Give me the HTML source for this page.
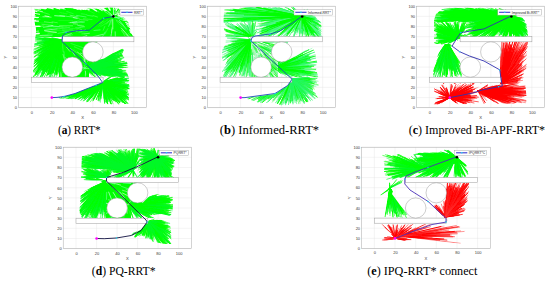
<!DOCTYPE html><html><head><meta charset="utf-8"><style>html,body{margin:0;padding:0;background:#fff;overflow:hidden;width:550px;height:281px;}svg{display:block}</style></head><body>
<svg width="550" height="281" viewBox="0 0 550 281">
<defs><filter id="bl" x="-5%" y="-5%" width="110%" height="110%"><feGaussianBlur stdDeviation="0.3"/></filter></defs>
<rect x="0" y="0" width="550" height="281" fill="#fff"/>
<g font-family="Liberation Sans"><line x1="31.3" y1="6.2" x2="31.3" y2="107.7" stroke="#e4e4e4" stroke-width="0.4"/><line x1="51.8" y1="6.2" x2="51.8" y2="107.7" stroke="#e4e4e4" stroke-width="0.4"/><line x1="72.3" y1="6.2" x2="72.3" y2="107.7" stroke="#e4e4e4" stroke-width="0.4"/><line x1="92.9" y1="6.2" x2="92.9" y2="107.7" stroke="#e4e4e4" stroke-width="0.4"/><line x1="113.4" y1="6.2" x2="113.4" y2="107.7" stroke="#e4e4e4" stroke-width="0.4"/><line x1="133.9" y1="6.2" x2="133.9" y2="107.7" stroke="#e4e4e4" stroke-width="0.4"/><line x1="18.5" y1="107.7" x2="146.7" y2="107.7" stroke="#e4e4e4" stroke-width="0.4"/><line x1="18.5" y1="97.6" x2="146.7" y2="97.6" stroke="#e4e4e4" stroke-width="0.4"/><line x1="18.5" y1="87.4" x2="146.7" y2="87.4" stroke="#e4e4e4" stroke-width="0.4"/><line x1="18.5" y1="77.2" x2="146.7" y2="77.2" stroke="#e4e4e4" stroke-width="0.4"/><line x1="18.5" y1="67.1" x2="146.7" y2="67.1" stroke="#e4e4e4" stroke-width="0.4"/><line x1="18.5" y1="57" x2="146.7" y2="57" stroke="#e4e4e4" stroke-width="0.4"/><line x1="18.5" y1="46.8" x2="146.7" y2="46.8" stroke="#e4e4e4" stroke-width="0.4"/><line x1="18.5" y1="36.7" x2="146.7" y2="36.7" stroke="#e4e4e4" stroke-width="0.4"/><line x1="18.5" y1="26.5" x2="146.7" y2="26.5" stroke="#e4e4e4" stroke-width="0.4"/><line x1="18.5" y1="16.4" x2="146.7" y2="16.4" stroke="#e4e4e4" stroke-width="0.4"/><line x1="18.5" y1="6.2" x2="146.7" y2="6.2" stroke="#e4e4e4" stroke-width="0.4"/><clipPath id="ca00"><polygon points="34,8.5 50,7.8 80,8.2 100,8.5 108,7.2 114,7.5 119,8.5 120.5,10 120.5,15.5 123,16.5 126,19 128.6,22.5 130,28 132,34 133.5,37 133.5,37 35.3,37 36,30 34,20 35,12"/></clipPath><g clip-path="url(#ca00)"><g filter="url(#bl)"><polygon points="34,8.5 50,7.8 80,8.2 100,8.5 108,7.2 114,7.5 119,8.5 120.5,10 120.5,15.5 123,16.5 126,19 128.6,22.5 130,28 132,34 133.5,37 133.5,37 35.3,37 36,30 34,20 35,12" fill="#00ff00"/><path d="M97.5 17L93.1 15.6M126.7 34.3L130.2 38.7M111.9 27.6L111.5 32.7M116.2 20.1L123.6 25.4M57.3 22.7L52.1 21.9M115.4 14.7L123.7 10.5M52.3 25.4L42 24.3" stroke="#ffffff" stroke-width="0.3" stroke-opacity="0.9" stroke-linecap="round" fill="none"/><path d="M79.4 18.6L73.7 18M87.9 20.5L79.7 19.4M80.9 27.6L76.8 28.9M92 19.5L83.4 18.8M110.3 19.8L106.4 24.1M103.3 21.2L99.6 23.6M122.2 30.4L128.6 37.9" stroke="#ffffff" stroke-width="0.3" stroke-opacity="0.7" stroke-linecap="round" fill="none"/><path d="M52 28.9L46.9 28M111.8 18.8L110.9 24.7M89.7 33.2L84.3 34.1M79.1 9.3L71.8 8.2" stroke="#c8ffe0" stroke-width="0.3" stroke-opacity="0.7" stroke-linecap="round" fill="none"/><path d="M113.6 16.5L113.4 7.4M64.5 16.3L54.7 15.7M77.1 18.2L73.1 17.4" stroke="#c8ffe0" stroke-width="0.8" stroke-opacity="0.9" stroke-linecap="round" fill="none"/><path d="M69.6 27.4L58.1 28.8M114.8 14.8L118 11.6M104.9 26.2L103.3 30.2M48.1 35.1L35.2 35.9M72.5 34.8L66.7 35.5M128.4 33.5L133.3 39.2" stroke="#c8ffe0" stroke-width="0.3" stroke-opacity="0.9" stroke-linecap="round" fill="none"/><path d="M72.7 25.8L59.5 25.7M52.5 22.8L44.3 21.8M43.9 26L39.8 26.3M77.6 24.1L73.4 23.9M52.3 35L40.1 35.5" stroke="#ffffff" stroke-width="0.8" stroke-opacity="0.4" stroke-linecap="round" fill="none"/><path d="M107.7 28.7L104.8 34.5" stroke="#80ffb0" stroke-width="0.8" stroke-opacity="0.4" stroke-linecap="round" fill="none"/><path d="M121.3 30.2L128.7 41.7M49.3 14.4L40.4 11.5M56.2 32.4L48 33.1M63 27.1L51.4 25.7" stroke="#ffffff" stroke-width="0.6" stroke-opacity="0.4" stroke-linecap="round" fill="none"/><path d="M107.1 10.9L103.5 8M104.5 10.2L100.4 7.5M121.3 28L129.6 37.4M112.7 19.6L112.8 28.9M56.3 32.3L44.9 30.9M86.8 35.7L82.9 36.9M42.4 11.6L37.8 10.8" stroke="#ffffff" stroke-width="0.8" stroke-opacity="0.7" stroke-linecap="round" fill="none"/><path d="M84.4 22L72.3 22.4M115 17.6L123.7 17.5M110.6 15.1L122.1 19.9M119.2 20.2L126.3 29" stroke="#80ffb0" stroke-width="0.8" stroke-opacity="0.9" stroke-linecap="round" fill="none"/><path d="M51.1 17.2L42.9 16.6" stroke="#ffffff" stroke-width="0.6" stroke-opacity="0.7" stroke-linecap="round" fill="none"/><path d="M50.1 37.2L36.4 36.7M82.9 22.1L78 20.7M113.5 13.6L121.2 3.8M83.5 25.5L78.7 25.1" stroke="#c8ffe0" stroke-width="0.6" stroke-opacity="0.4" stroke-linecap="round" fill="none"/><path d="M64 30.3L51.8 30.7M40.4 19.3L32.1 19.9M116.9 16.7L121 16.2M107.6 19.8L98.7 26.2M72.5 20.4L59.1 20.5" stroke="#c8ffe0" stroke-width="0.3" stroke-opacity="0.4" stroke-linecap="round" fill="none"/><path d="M114.5 17.5L107.8 11.4M115.2 14.7L119.8 13.1M49 16.6L45 15.9" stroke="#ffffff" stroke-width="0.8" stroke-opacity="0.9" stroke-linecap="round" fill="none"/><path d="M86 17L76.5 15.4M65.5 9.3L61.1 8.6M105.2 32L99.9 41M100.1 29.9L94 30.5" stroke="#80ffb0" stroke-width="0.8" stroke-opacity="0.7" stroke-linecap="round" fill="none"/><path d="M66.5 26.8L53.5 27.1M44.4 17.6L32.4 15.4" stroke="#80ffb0" stroke-width="0.3" stroke-opacity="0.7" stroke-linecap="round" fill="none"/><path d="M84.7 30.5L79.2 30.8" stroke="#ffffff" stroke-width="0.6" stroke-opacity="0.9" stroke-linecap="round" fill="none"/><path d="M76 23.7L68.3 22.4M94 13.2L87.6 10.4M76.5 28.3L69.1 29.1M116.6 21.7L122 26.8M67.1 13.9L60 12.5" stroke="#ffffff" stroke-width="0.3" stroke-opacity="0.4" stroke-linecap="round" fill="none"/><path d="M73.2 13.7L66.6 11.4M119.6 22.2L126 29.6M75.9 31L62.5 30.7M86.5 14.6L81.2 13.7M87.3 31.5L78.9 32.4M51.8 35.4L44.7 36M83.1 27.5L75.6 27.5" stroke="#80ffb0" stroke-width="0.3" stroke-opacity="0.9" stroke-linecap="round" fill="none"/><path d="M103 34.3L93 36.8M71.3 33.6L59.8 37.6M57.2 28.9L44.4 30.3M115.2 31.8L115.4 41.1M76.9 21.7L70 22.6M81.4 29.9L76.2 31.2M112 29.1L111.1 36.3" stroke="#c8ffe0" stroke-width="0.8" stroke-opacity="0.7" stroke-linecap="round" fill="none"/><path d="M72.6 29.1L62.3 29.2M73.9 30.8L63.6 32.1M70.8 35.5L63.5 37.3M110.4 34.6L110.1 38.7M112.4 19.2L100.7 26.5" stroke="#80ffb0" stroke-width="0.6" stroke-opacity="0.4" stroke-linecap="round" fill="none"/><path d="M52.9 25.6L43.5 27.3" stroke="#c8ffe0" stroke-width="0.6" stroke-opacity="0.9" stroke-linecap="round" fill="none"/><path d="M84.6 26.8L77.6 25.3M113.3 17.2L119 4.6M78.2 17L70.1 15.2M109.9 15L104.4 11.3M72.2 17L59.8 15.5" stroke="#c8ffe0" stroke-width="0.6" stroke-opacity="0.7" stroke-linecap="round" fill="none"/><path d="M59.3 26.7L48.2 26.1M111 20.6L108.7 26.3" stroke="#80ffb0" stroke-width="0.6" stroke-opacity="0.9" stroke-linecap="round" fill="none"/><path d="M68.6 31.4L58 33.4M98.9 12L93.9 10M92.8 16.2L87 15.2" stroke="#80ffb0" stroke-width="0.6" stroke-opacity="0.7" stroke-linecap="round" fill="none"/><path d="M44.6 22.9L37.7 22.6" stroke="#80ffb0" stroke-width="0.3" stroke-opacity="0.4" stroke-linecap="round" fill="none"/><path d="M85.7 29.8L81 31.3M89.2 33.4L81.8 33.9" stroke="#c8ffe0" stroke-width="0.8" stroke-opacity="0.4" stroke-linecap="round" fill="none"/><path d="M39.8 7.8L45.4 9.2M73.1 7.7L77.4 9.1M58.4 7.6L60.9 8.1M48.6 7.7L52.5 8M97.2 7.9L102.8 10.4M79.4 7.8L85 9.6M97.3 7.8L99.9 9.2M99.5 7.6L104.3 10.4M101.5 7.1L105.6 10.5M109.1 5.8L110.3 10.4M116.9 6.6L115 9.9M120.7 8.1L116.7 12.9M121.7 9.4L116.8 13.5M123.1 16.1L117.6 15.6M127.2 19L121.4 18M34.4 31.5L38.5 31.1M34.2 33.3L39 33.2M32.8 9.4L38.8 10.3" stroke="#fff" stroke-width="0.6" stroke-opacity="0.9" stroke-linecap="round" fill="none"/><path d="M34.2 8.2L39.1 9M35.6 8L40.5 9.3M42.3 7.8L46.1 8.5M74.1 7.7L78.5 9.2M73.1 7.7L77.6 9.1M54.5 7.6L59.9 8.7M55.1 7.5L58.5 8.4M55.4 7.3L59.7 9.1M78.3 7.7L83.7 9.6M97 7.8L101.9 10.4M80.3 7.9L86.3 9.3M102 6.9L103.8 8.8M113.8 6L113.5 9M116.2 6.4L114.9 9.2M121.9 13.1L118 14.7M122 15.1L118.5 15.7M128.9 21.2L123 20.1M130.8 26.4L126.5 24.3M131.1 28.7L127.4 25.8M33.9 27L38.8 26.3M32.8 17.3L37.7 17.7M32.8 17.3L38.6 17.5M33.4 13.1L39.6 14.3M33 16.3L35.5 16" stroke="#fff" stroke-width="0.9" stroke-opacity="0.9" stroke-linecap="round" fill="none"/><path d="M41.1 7.9L44 8.3M47.8 7.6L50.6 8M42.6 7.9L46.3 8.3M37.9 8.3L41.7 8.2M75.8 7.6L81 9.7M57.4 7.9L63.2 8M59.4 7.6L64.1 8.7M74 7.8L79.3 8.9M48.7 7.3L53.2 8.8M91.1 7.6L96.5 11M84.3 7.7L89.2 9.8M81.2 7.7L85.9 9.4M79.3 7.8L83.7 9.2M100.5 7.5L106 10.6M107.5 5.9L109.9 10M117.6 6.7L116.3 10.4M122.4 15.5L119 15.9M124.7 16.8L120.6 16.3M128 20.2L123.8 19M130.4 24.8L125.8 22.5M132 31.7L129.9 29.8M133 34.2L130.4 32.3M132.4 32.5L129.9 30.7M34.1 34L39.2 33.5M32.6 20.3L35.6 20.3M33.7 26.1L40 26.3M32.7 21.2L38.5 21.1M33.2 10.6L36.8 11.4" stroke="#fff" stroke-width="1.3" stroke-opacity="0.9" stroke-linecap="round" fill="none"/></g></g><clipPath id="ca01"><polygon points="62,77 33,77 33,70 34,60 33.5,50 35,40 35.3,37 62,37"/></clipPath><g clip-path="url(#ca01)"><g filter="url(#bl)"><path d="M62 40L58.6 54.6M62 40L51.6 62.5M62 40L40.8 52.7M62 40L59.8 63.9M62 40L37.8 64.9M62 40L56.8 48.7M62 40L54.8 49.2M62 40L57.5 44.8M62 40L55.1 63.2M62 40L52.1 73.2M62 40L55.5 40.9M62 40L52 68.5M62 40L37 43.8M62 40L56.8 48.2M62 40L53.2 61.1M62 40L44.9 43.6M62 40L46.7 76M62 40L61.7 50.5M62 40L60.6 66.6M62 40L44.6 57.9M62 40L51.4 56.1M62 40L42.4 55.4M62 40L57.1 58.3M62 40L53.9 70.6M62 40L39 49.4M62 40L61.9 50.2M62 40L39.1 62.1M62 40L48.5 62.9M62 40L61.6 68.3M62 40L41 43.1M62 40L47.9 64.7M62 40L40.4 76.6M62 40L43.7 73.9M62 40L36.8 59.5M62 40L54.8 73.5M62 40L42.9 46.4M62 40L45.6 45.8M62 40L55.8 62.8M62 40L35 37.9M62 40L56.8 40.2M62 40L56.2 62.1M62 40L53.5 53.7M62 40L54.4 65.4M62 40L40.1 69M62 40L57.5 39.2M62 40L43.9 71.1M62 40L56.7 54.4M62 40L59.6 49.8M62 40L55.2 42.8M62 40L48.1 71.5M62 40L61.4 57.1M62 40L58.9 57.1M62 40L52.1 53.2M62 40L55.2 72.5M62 40L44.4 64.3M62 40L58.4 62M62 40L52.7 54.1M62 40L49.3 73.9M62 40L50.2 47.9M62 40L57.7 54.5M62 40L59.4 75.1M62 40L49 55.2M62 40L38.3 64.8M62 40L57.3 60.4" stroke="#00ff00" stroke-width="1.1" stroke-opacity="0.9" stroke-linecap="round" fill="none"/><path d="M62 40L52.9 60.5M62 40L48.2 47M62 40L53.6 41M62 40L47.8 40.1M62 40L39.1 45.4M62 40L52.7 40.3M62 40L59.3 52.2M62 40L43.3 78.9M62 40L34.3 46.3M62 40L61.8 73M62 40L56 58.4M62 40L41.7 68.4M62 40L30.7 64.1M62 40L34.7 61.7M62 40L45.7 39.2M62 40L43.1 52.6M62 40L40.4 49M62 40L51.9 73.1M62 40L40.4 60.8M62 40L54.8 67.7M62 40L55 38.9M62 40L39.1 52.9M62 40L37.2 60.2M62 40L53.7 43.7M62 40L46.8 72.2M62 40L57.9 44.7M62 40L57.8 47.4M62 40L51.8 52.2M62 40L56.8 68.4M62 40L45 47.5M62 40L38.6 62.7M62 40L50.6 46.6M62 40L47.9 64.7M62 40L50.1 63M62 40L45.8 46.3M62 40L50.9 46.1M62 40L54.9 53.8M62 40L59.6 41.6M62 40L58.5 71.7M62 40L61.9 61.7M62 40L54.3 52.9M62 40L37.4 42.7M62 40L59.8 70.5M62 40L41.3 69.7M62 40L36.8 59.7M62 40L51.8 60.7M62 40L35 41M62 40L57.7 39.9M62 40L57.2 69M62 40L60 71M62 40L56.5 73.2M62 40L56.5 50.4M62 40L50 74M62 40L44.4 40.3M62 40L43.6 52.6M62 40L52.9 60.5M62 40L35.3 53.7" stroke="#00ff00" stroke-width="0.8" stroke-opacity="0.9" stroke-linecap="round" fill="none"/><path d="M62 40L54.9 57.5M62 40L49.9 53M62 40L37.9 44.1M62 40L58.5 58.3M62 40L54.5 65.2M62 40L55.1 44.8M62 40L61.2 47.6M62 40L39.5 66.3M62 40L48.5 56.4M62 40L40.8 54.5M62 40L45.6 66.2M62 40L43.4 53.5M62 40L34.2 69.3M62 40L46.2 60.4M62 40L56.1 62.4M62 40L39.6 62M62 40L60.9 48.8M62 40L43.5 42.3M62 40L34.8 59.6M62 40L51.5 43.2M62 40L37 72.2M62 40L36.6 61.9M62 40L56.6 38.9M62 40L58.4 56.6M62 40L46.3 60.6M62 40L59.9 42.7M62 40L47.9 68.2M62 40L48.1 40.5M62 40L51.8 70.8M62 40L54.7 60.3M62 40L50 41.5M62 40L51.2 52.3M62 40L52 37.7M62 40L58.9 66.2M62 40L48.9 78M62 40L61.4 49M62 40L37.1 39M62 40L47.8 54.1M62 40L33.7 37.3M62 40L55.9 68.9M62 40L54.8 50.7M62 40L41.4 73.1M62 40L42.9 71M62 40L52.3 68M62 40L37.4 63.1M62 40L37.1 42M62 40L41.1 38.6M62 40L49.9 77.4M62 40L58.3 55.5M62 40L34.2 43.9M62 40L47.6 50.4M62 40L42.2 40.4M62 40L47.3 43.2M62 40L48.6 38.9M62 40L42 66.6M62 40L60 62.5M62 40L42.8 62M62 40L41.8 58.7M62 40L49.5 80.6M62 40L32.9 45.2M62 40L43.9 58.2M62 40L54.7 43.7M62 40L56.7 66.6M62 40L59.5 71.8M62 40L51.6 64.2M62 40L47.7 66.9M62 40L44.4 54.5M62 40L40.2 67.5M62 40L52.9 40.4" stroke="#00f828" stroke-width="1.1" stroke-opacity="0.8" stroke-linecap="round" fill="none"/><path d="M62 40L39.6 73M62 40L31.1 55.4M62 40L57.8 70.3M62 40L50.2 73.6M62 40L57.7 54.3M62 40L46.1 52.3M62 40L53.4 41.9M62 40L60.5 61.9M62 40L41.8 56.8M62 40L54 65.6M62 40L53.5 78.5M62 40L38.5 58.9M62 40L49.2 73.7M62 40L42 38.5M62 40L56.3 77M62 40L57.2 48.9M62 40L43.6 74.2M62 40L51.5 58.5M62 40L53.8 50.7M62 40L46.8 58.9M62 40L58.8 47.9M62 40L38.8 63.4M62 40L44.4 55.4M62 40L58.7 72.7M62 40L50 45.7M62 40L49.8 49.1M62 40L61.6 72.3M62 40L51.7 63M62 40L37.3 72.3M62 40L36.7 51M62 40L41.8 76.9M62 40L48.6 62.1M62 40L59.1 69.8M62 40L58.7 62.2M62 40L47.8 68.4M62 40L57.9 50.6M62 40L57.7 69.4M62 40L52.7 72.6M62 40L46.2 45.4M62 40L37 74.5M62 40L43.8 41.4M62 40L37.8 76.3M62 40L37.4 69.8M62 40L39.6 53.2M62 40L61.6 40.3M62 40L46.9 52.7M62 40L45.9 65M62 40L46.7 48.5M62 40L38.3 70.1M62 40L39.8 68.6M62 40L48.2 72.9M62 40L52 51.5M62 40L36.1 64.7M62 40L47.4 66.1M62 40L42.7 69.6" stroke="#00f828" stroke-width="0.6" stroke-opacity="0.8" stroke-linecap="round" fill="none"/><path d="M62 40L60.2 63.8M62 40L41.9 50.7M62 40L29.9 80.9M62 40L42.8 45.5M62 40L61.6 44.3M62 40L45.8 43.4M62 40L47.8 74.6M62 40L43.2 71.2M62 40L50.8 73.6M62 40L61.7 66.8M62 40L47 75.1M62 40L44.6 60.1M62 40L50.2 53.4M62 40L43.2 65.2M62 40L46.8 69.9M62 40L39.6 45.6M62 40L54.5 55.2M62 40L33.5 64.3M62 40L37.9 47.4M62 40L50.4 59M62 40L43.8 48.7M62 40L54.5 42.6M62 40L58.6 65.6M62 40L56.1 56.3M62 40L49.2 53.9M62 40L40.9 48.3M62 40L49.2 70.7M62 40L59.8 63.9M62 40L40.1 55.9M62 40L45.3 65.5M62 40L33.3 57.6M62 40L49.5 69.4M62 40L57.4 65.2M62 40L60.6 59.4M62 40L54.5 68.7M62 40L60.6 43.2M62 40L48.8 57.4M62 40L50.3 52.7M62 40L60.8 49.6M62 40L52.1 40.5M62 40L37.5 51.1M62 40L58 40.2M62 40L53.8 58.9M62 40L38.3 63M62 40L45.7 71.1M62 40L37.6 74.5M62 40L52.5 54.5M62 40L48.7 65.3M62 40L49.2 40.5M62 40L60.1 67.7M62 40L42.4 57.6M62 40L57.7 39.9M62 40L50.4 70.4M62 40L50.6 50.2M62 40L35.8 64.4M62 40L55.1 40.4M62 40L57.7 41.1M62 40L44.1 54.3M62 40L52 71.4" stroke="#00ff00" stroke-width="0.8" stroke-opacity="1" stroke-linecap="round" fill="none"/><path d="M62 40L46.2 71.7M62 40L35.5 74.9M62 40L56.8 69.4M62 40L56.7 52.8M62 40L58.5 39.9M62 40L61.5 60.6M62 40L39 55.8M62 40L47.9 40.9M62 40L48 68.5M62 40L55.7 72.1M62 40L42.6 75.9M62 40L43.9 43.6M62 40L57.1 57.9M62 40L53.9 50.6M62 40L57.4 46.9M62 40L44.7 59.5M62 40L41.9 69.8M62 40L50 73.5M62 40L57.8 56.5M62 40L60.8 65.4M62 40L56.5 74.2M62 40L59.4 77.2M62 40L48.6 52.2M62 40L39.1 67.1M62 40L50 42.3M62 40L61.8 60.7M62 40L43.9 42.5M62 40L34 63.6M62 40L61.1 76.9M62 40L56.7 41.9M62 40L56 42.4M62 40L57.3 53.8M62 40L46.1 41.2M62 40L48.8 74.2M62 40L55.5 44.9M62 40L49.3 67.7M62 40L37.7 61M62 40L52.7 64.6M62 40L35.1 60.8M62 40L42.9 69.9M62 40L53.2 72.7M62 40L52.5 39.1M62 40L35.4 73.4M62 40L34 66.3M62 40L50.7 54M62 40L46.9 57.7M62 40L43.4 54.8M62 40L38.5 67.4M62 40L61.4 53.4M62 40L57.5 68.6M62 40L52.6 69.5M62 40L53.3 50.6M62 40L55.8 50.9M62 40L48.2 62.4M62 40L38 68.6M62 40L42.5 54.9M62 40L33 52.5M62 40L30.4 74.2M62 40L48.1 74.7M62 40L55.9 46.9M62 40L54.3 42.1M62 40L56.4 45.7M62 40L45.8 51.3M62 40L42.6 61.1M62 40L40.8 56.1M62 40L42.8 69.2" stroke="#00ff00" stroke-width="1.1" stroke-opacity="1" stroke-linecap="round" fill="none"/><path d="M62 40L58.2 46.8M62 40L49.6 72.4M62 40L41.6 77.1M62 40L44.8 39.7M62 40L60.5 67.4M62 40L52.2 68.8M62 40L56 56.8M62 40L44.7 39.2M62 40L61.9 68.9M62 40L54.8 39.9M62 40L55.9 49.2M62 40L53.9 78.2M62 40L51.7 59.5M62 40L37.1 66.1M62 40L36.3 77.1M62 40L41.2 66.9M62 40L44.9 61.7M62 40L61.9 69.8M62 40L36.9 39.8M62 40L41.9 38.6M62 40L48.8 63.2M62 40L51.5 66.3M62 40L49.4 58.9M62 40L55.2 74.4M62 40L50.3 72.4M62 40L37.9 53.4M62 40L55.4 48.9M62 40L47.8 39.3M62 40L59.6 64.3M62 40L53.1 43.3M62 40L39.7 64.7M62 40L35.1 72.5M62 40L49.7 44.7M62 40L60.5 45.4M62 40L56.8 61.3M62 40L31.3 50.9M62 40L46 48.6M62 40L40.4 56.4M62 40L31.3 54.4M62 40L56.9 57.9M62 40L51.8 47.5M62 40L57.8 55.9M62 40L52.1 54.5M62 40L58.8 52.6M62 40L56.5 43.3M62 40L38.4 80.7M62 40L45.9 50.3M62 40L58 73.7M62 40L55.6 63.6M62 40L50.2 60.1M62 40L55.8 56.1M62 40L42.9 39.4M62 40L38.4 56.1M62 40L42.5 49.8M62 40L60.2 57.2M62 40L53 47.4M62 40L36.9 71.9" stroke="#00f828" stroke-width="0.8" stroke-opacity="0.8" stroke-linecap="round" fill="none"/><path d="M62 40L61.1 63.8M62 40L53.8 49.6M62 40L34.3 71.6M62 40L55.4 51.6M62 40L46.3 66M62 40L49 57.9M62 40L41.8 73.8M62 40L51.8 55.9M62 40L51.7 58M62 40L43.8 38.6M62 40L61.1 58.6M62 40L50.7 61.3M62 40L37.1 66.7M62 40L54.5 42.7M62 40L60.6 50.2M62 40L42.9 70.7M62 40L57.3 70.8M62 40L42.3 74.3M62 40L55.5 48.1M62 40L50.8 51.8M62 40L59.9 50.3M62 40L52.8 73.4M62 40L30.7 80.9M62 40L37.6 58.7M62 40L56.5 74.7M62 40L48.7 67.9M62 40L53.6 70.5M62 40L45.2 41.3M62 40L43.8 62.7M62 40L56.9 58.2M62 40L55.5 75M62 40L57.9 68M62 40L41 69.6M62 40L50.7 39.8M62 40L56.3 61.7M62 40L43.6 60.3M62 40L38.6 50.7M62 40L52.6 46.6M62 40L47.4 68.1M62 40L60.5 71.3M62 40L56 40M62 40L55.4 45.5M62 40L60.7 77.5M62 40L55.7 71.3M62 40L46.2 49.5M62 40L40.4 65.4M62 40L51.6 55.5M62 40L46.1 54M62 40L46.1 57.7M62 40L48.7 50.2M62 40L61.7 57.1M62 40L36.1 71.8M62 40L40.7 63.7M62 40L50.2 39.9M62 40L48.8 70.5M62 40L51.8 43.6M62 40L54.2 68.7M62 40L39.8 38.7M62 40L56.8 40.4M62 40L51.8 49.9M62 40L44.4 60M62 40L35.9 50.5M62 40L49.4 54.3M62 40L39.7 56.8M62 40L33.6 53.4M62 40L49.5 39.7M62 40L55 58M62 40L52.1 77.1M62 40L59.6 70.5M62 40L33.4 57.2M62 40L54.5 41.9M62 40L41.6 66.5M62 40L36.8 63.8" stroke="#00ff00" stroke-width="0.6" stroke-opacity="1" stroke-linecap="round" fill="none"/><path d="M62 40L53.9 61M62 40L38.6 60.3M62 40L32.8 39.3M62 40L43 68.2M62 40L46.8 51.8M62 40L44.6 60.2M62 40L55.1 55.2M62 40L38.5 65.8M62 40L59.3 47.2M62 40L61.8 44.4M62 40L51.7 62.2M62 40L43.1 45.4M62 40L48.5 55.6M62 40L47.1 43M62 40L35.8 48.6M62 40L37.5 50.6M62 40L41.8 55.9M62 40L41.2 51.4M62 40L47.2 54.9M62 40L32.6 49.3M62 40L59.5 53.3M62 40L45.9 42.6M62 40L51.4 57.4M62 40L57.4 40.5M62 40L58.3 45M62 40L56.9 51.3M62 40L42.9 37.1M62 40L60.9 62.7M62 40L49.3 47.1M62 40L58.6 67.2M62 40L41.4 44.8M62 40L54.9 59.6M62 40L46.8 72.8M62 40L48.9 56.3M62 40L35.7 75.3M62 40L34 72.5M62 40L57.9 45.1M62 40L47.9 48.4M62 40L61.1 64.4M62 40L35 55.6M62 40L44.3 37.7M62 40L55.1 54.8M62 40L53.7 69.4M62 40L61.9 46.5M62 40L37 65.6M62 40L51.4 69.5M62 40L56.4 70.6M62 40L47 67.1M62 40L49 67.4M62 40L60.5 40.7M62 40L54.4 48.5M62 40L37.4 56.1M62 40L46.4 60.9M62 40L52.3 54.5M62 40L52.9 70.5M62 40L36.6 72.3M62 40L42.4 70.7M62 40L57.3 75.3M62 40L42.7 57.9M62 40L48.9 51.6M62 40L48.8 66.6M62 40L39.7 41.9M62 40L44.5 47.3M62 40L36.6 67.9" stroke="#00ff00" stroke-width="0.6" stroke-opacity="0.9" stroke-linecap="round" fill="none"/></g></g><clipPath id="ca02"><polygon points="89,77 62,77 62,37 89,37"/></clipPath><g clip-path="url(#ca02)"><g filter="url(#bl)"><polygon points="89,77 62,77 62,37 89,37" fill="#00ff00"/><path d="M75.7 64.2L63.7 58.1M80.9 71.3L73.1 75.2" stroke="#c8ffe0" stroke-width="0.3" stroke-opacity="0.4" stroke-linecap="round" fill="none"/><path d="M70.7 43.4L82.7 47.6" stroke="#80ffb0" stroke-width="0.8" stroke-opacity="0.4" stroke-linecap="round" fill="none"/><path d="M62.5 43.8L63.2 52M65.3 41.2L74.3 41.1M84.3 65.3L85.8 74.3M71.7 49.3L76.8 52.5" stroke="#c8ffe0" stroke-width="0.6" stroke-opacity="0.4" stroke-linecap="round" fill="none"/><path d="M86.6 55.4L88.7 44.4M80 63.8L74.6 60.5" stroke="#ffffff" stroke-width="0.3" stroke-opacity="0.4" stroke-linecap="round" fill="none"/><path d="M84.7 62.4L87.1 48.7M87.4 61.6L89.4 57.8" stroke="#80ffb0" stroke-width="0.8" stroke-opacity="0.7" stroke-linecap="round" fill="none"/><path d="M80.4 68.9L69.4 66.6" stroke="#80ffb0" stroke-width="0.3" stroke-opacity="0.9" stroke-linecap="round" fill="none"/><path d="M73.5 49L77 51.1" stroke="#80ffb0" stroke-width="0.3" stroke-opacity="0.4" stroke-linecap="round" fill="none"/><path d="M85.5 71.5L85.4 76.2M73.4 62.7L65.1 57.7M76.6 69.4L69.4 71.8" stroke="#c8ffe0" stroke-width="0.6" stroke-opacity="0.9" stroke-linecap="round" fill="none"/><path d="M64 51.7L64.3 57.5M86.5 68.5L77.4 67.9M81.6 67.4L90.5 68.9" stroke="#80ffb0" stroke-width="0.6" stroke-opacity="0.7" stroke-linecap="round" fill="none"/><path d="M86.4 56.6L86.5 46.5M74.3 46.8L84.7 51.4M81.8 65.4L70.3 59.8M87.4 65.7L79.3 73.4" stroke="#ffffff" stroke-width="0.3" stroke-opacity="0.7" stroke-linecap="round" fill="none"/><path d="M66.6 47.3L69.8 51.3M85 62.7L83.1 50" stroke="#ffffff" stroke-width="0.6" stroke-opacity="0.7" stroke-linecap="round" fill="none"/><path d="M71.4 74.7L66.3 77.9M83.3 62.4L83.1 55.4M85.3 68.4L84.7 57M76.4 67.1L64.1 63" stroke="#80ffb0" stroke-width="0.3" stroke-opacity="0.7" stroke-linecap="round" fill="none"/><path d="M87.3 59.3L89.8 48.6" stroke="#ffffff" stroke-width="0.6" stroke-opacity="0.4" stroke-linecap="round" fill="none"/><path d="M88.4 54.1L89.1 47.1" stroke="#80ffb0" stroke-width="0.6" stroke-opacity="0.9" stroke-linecap="round" fill="none"/><path d="M80.7 67L91.3 69.3M65.9 71.5L61.1 73.1" stroke="#c8ffe0" stroke-width="0.3" stroke-opacity="0.7" stroke-linecap="round" fill="none"/><path d="M80.3 53.1L87.5 56.1M70.5 48.6L74.8 55.4" stroke="#c8ffe0" stroke-width="0.8" stroke-opacity="0.7" stroke-linecap="round" fill="none"/><path d="M67.6 67L62.5 67.1" stroke="#80ffb0" stroke-width="0.8" stroke-opacity="0.9" stroke-linecap="round" fill="none"/><path d="M88.5 48.6L89.1 42.7M70.7 67.2L59.7 66.9" stroke="#c8ffe0" stroke-width="0.3" stroke-opacity="0.9" stroke-linecap="round" fill="none"/><path d="M86.7 54.2L89.1 45" stroke="#ffffff" stroke-width="0.6" stroke-opacity="0.9" stroke-linecap="round" fill="none"/><path d="M77.5 52.2L86.2 59.4" stroke="#ffffff" stroke-width="0.8" stroke-opacity="0.7" stroke-linecap="round" fill="none"/><path d="M84.2 63.2L83.9 53.2M63 54.4L65 61.2" stroke="#ffffff" stroke-width="0.8" stroke-opacity="0.4" stroke-linecap="round" fill="none"/><path d="M77.5 66.8L67 65.4" stroke="#c8ffe0" stroke-width="0.6" stroke-opacity="0.7" stroke-linecap="round" fill="none"/></g></g><clipPath id="ca03"><polygon points="133.5,37 133.5,37 100,38 92,50 98,60 104,58.5 113,53 122,48.5 124,50 122,54 127,62 128.5,67 126,70 128.6,77 103,77 103,77 89,77 89,37"/></clipPath><g clip-path="url(#ca03)"><g filter="url(#bl)"><path d="M85 68L90 58.2M85 68L115 65.4M85 68L113.7 72M85 68L99.6 61.3M85 68L91.4 73M85 68L107.4 75.7M85 68L92.2 48.4M85 68L94 67.3M85 68L116.8 64.8M85 68L93 73.8M85 68L113.9 54.5M85 68L115.3 63.7M85 68L103.8 62.8M85 68L117.3 61.4M85 68L90.5 43.2M85 68L95.4 60.8M85 68L110.1 63M85 68L125.1 47.6M85 68L120.7 74.9M85 68L111.1 69.7M85 68L103.9 71.5M85 68L92.5 37.5M85 68L101.1 62.6M85 68L103.4 71.5M85 68L112.7 74.6M85 68L118.9 71.5M85 68L88.6 66.5M85 68L93.5 42.1M85 68L117.2 69.2M85 68L111.5 56.1M85 68L96.9 65.3M85 68L118.4 71.2M85 68L109.2 76.3M85 68L117.3 73.1M85 68L103.1 62.4M85 68L121.8 64.2M85 68L117.2 69.5M85 68L94.7 61.1M85 68L123.4 48.9M85 68L90.5 66M85 68L117.8 61.2M85 68L90.2 53.7M85 68L126.1 67.4M85 68L92.8 44.2M85 68L94.5 42.6M85 68L118.1 65.9M85 68L96.9 64.5M85 68L122.2 74.6M85 68L114.8 39.4M85 68L105.9 62.2M85 68L95.6 70.7M85 68L92.2 43.3M85 68L100.9 76M85 68L108.7 69.1M85 68L122.2 72.1M85 68L107.6 74.2M85 68L104 65.8M85 68L120.7 55.3M85 68L109.6 65.2M85 68L91.9 49.7M85 68L119.5 57.4M85 68L112.4 61.3M85 68L106.2 66M85 68L112.2 62.2M85 68L108.9 41M85 68L97.5 40.8M85 68L115.5 68.3M85 68L111.5 72.1M85 68L109.9 74.9" stroke="#00ff00" stroke-width="0.8" stroke-opacity="0.9" stroke-linecap="round" fill="none"/><path d="M85 68L91.4 55.4M85 68L133 77.3M85 68L123.8 51M85 68L96.4 42.3M85 68L102.3 67M85 68L120.6 75.6M85 68L112.8 57.8M85 68L113 53.3M85 68L89.7 54M85 68L118.1 61.7M85 68L109.7 75.4M85 68L97.9 67.5M85 68L120.4 62M85 68L112.4 63.7M85 68L94.2 55.2M85 68L117.3 73.9M85 68L118.5 68.8M85 68L105.7 69.9M85 68L117.6 68.2M85 68L101.9 68.7M85 68L116.6 58.8M85 68L94.4 44.7M85 68L124.1 76.3M85 68L105.3 75.2M85 68L100.5 75.5M85 68L111.4 69.2M85 68L111.3 58.8M85 68L106.6 73.5M85 68L109.9 56.1M85 68L99 60.3M85 68L111.6 54.4M85 68L92.2 69.5M85 68L125.5 55.4M85 68L105.4 70.3M85 68L115.1 77.6M85 68L110.5 72.7M85 68L103.5 60.2M85 68L120.9 65.9M85 68L127.7 78M85 68L91.7 48.4M85 68L116.1 70.9M85 68L113.8 74.9M85 68L101.5 59.2M85 68L111.1 64.8M85 68L112.7 61.8M85 68L92 46.9M85 68L98.5 64M85 68L93.2 44.9M85 68L104.1 70.2M85 68L119.3 69.9M85 68L126.5 65.4" stroke="#00ff00" stroke-width="0.8" stroke-opacity="1" stroke-linecap="round" fill="none"/><path d="M85 68L115.3 68.4M85 68L88.8 41.1M85 68L111 63.7M85 68L121 59.7M85 68L100.4 71.2M85 68L90.3 37.4M85 68L108.2 64.6M85 68L129.7 74.6M85 68L94 71.9M85 68L125.8 65.4M85 68L115.6 72M85 68L115.2 76.1M85 68L104.3 69.5M85 68L114 56.2M85 68L114.6 55.5M85 68L94.6 72.3M85 68L104.9 66.3M85 68L106.1 64.4M85 68L113.4 60.9M85 68L98.5 65.1M85 68L104.7 69.5M85 68L121.3 69.6M85 68L110.7 71.7M85 68L126.1 72.2M85 68L125.3 51.4M85 68L94.7 72.6M85 68L102.3 67.9M85 68L128.5 63M85 68L92.9 68.9M85 68L121.6 74.7M85 68L126.5 32.8M85 68L127.2 47.9M85 68L119.7 64.9M85 68L108.5 58.1M85 68L107.8 39M85 68L107.4 59.2M85 68L113.7 63.6M85 68L98.6 71.8M85 68L101 62.2M85 68L114.2 61.5M85 68L99.3 66.5M85 68L121.3 72.6M85 68L105.8 66.5M85 68L98.4 61.6M85 68L123 54.8" stroke="#00ff00" stroke-width="1.1" stroke-opacity="1" stroke-linecap="round" fill="none"/><path d="M85 68L97.5 72.5M85 68L101.2 68.6M85 68L104.2 60.9M85 68L123.9 57.6M85 68L94.6 76.1M85 68L94.9 70.9M85 68L113.2 66.3M85 68L117.9 60.3M85 68L116.1 65.5M85 68L129.6 62.9M85 68L95.3 53.8M85 68L91.8 75.4M85 68L128.2 75.1M85 68L113.6 72.5M85 68L92.2 73.5M85 68L121.6 63.7M85 68L101.6 71.6M85 68L107.2 72.8M85 68L105 75.2M85 68L94.5 72.7M85 68L123.2 65.7M85 68L111.8 73.7M85 68L121.5 74.7M85 68L113.5 35.1M85 68L120.7 60.6M85 68L114.4 70.4M85 68L115.4 60.7M85 68L92.5 64M85 68L105 61.1M85 68L107 69.7M85 68L107 65.3M85 68L101 71M85 68L111.1 66.8M85 68L101.2 74.7M85 68L89.8 47.4M85 68L127.9 70.5M85 68L92.5 73.5M85 68L127.4 65.2M85 68L111.6 64.9M85 68L119.2 73.9M85 68L101.8 61.6M85 68L92.6 64.1M85 68L111.2 74.3M85 68L127.1 62.1M85 68L111.8 63.5M85 68L96.8 40.6M85 68L103.2 37M85 68L105.7 58.7M85 68L99.5 70M85 68L113 76.5M85 68L118 61.4M85 68L97.8 70M85 68L100.1 74M85 68L95.5 56.6M85 68L123.3 65.1" stroke="#00ff00" stroke-width="0.6" stroke-opacity="1" stroke-linecap="round" fill="none"/><path d="M85 68L111.5 58.2M85 68L99.8 69.7M85 68L108.7 62.3M85 68L96.1 73.4M85 68L113.7 55.9M85 68L93.4 40.9M85 68L103.9 59.9M85 68L100.5 67.4M85 68L91.4 53.3M85 68L93.8 61.9M85 68L127.2 74.5M85 68L96.4 41.2M85 68L111.1 63.7M85 68L107.2 73.9M85 68L91.4 66M85 68L124.9 74.6M85 68L90.1 39.6M85 68L101.9 34M85 68L122.9 67.1M85 68L101.8 64.9M85 68L92.2 68.5M85 68L118.6 70.8M85 68L118.4 67M85 68L112.4 72.2M85 68L129.5 74.4M85 68L95.3 76.9M85 68L118.1 69.6M85 68L105 66.5M85 68L98.3 71M85 68L99.2 71.6M85 68L116.4 66M85 68L124.4 61.3M85 68L114.1 75.3M85 68L102.4 67.5M85 68L91.1 59.2M85 68L105.3 70.5M85 68L113.2 62.3M85 68L120.9 50.7M85 68L114.7 59.6M85 68L112.2 71.3M85 68L114.3 62.8M85 68L102.3 65.6M85 68L108.4 72.5M85 68L96.4 62.6M85 68L118.7 65" stroke="#00ff00" stroke-width="1.1" stroke-opacity="0.9" stroke-linecap="round" fill="none"/><path d="M85 68L117.8 66.3M85 68L107.8 56.3M85 68L126.1 64M85 68L117 58.8M85 68L121.4 66.7M85 68L91.7 64.5M85 68L122.5 55.1M85 68L108.2 73.2M85 68L98.3 62.2M85 68L95.1 43.2M85 68L97.5 73M85 68L90.4 64.5M85 68L91.5 63.5M85 68L108.9 58.6M85 68L95.2 46.1M85 68L91.1 49.7M85 68L109.8 64.7M85 68L89.9 62.9M85 68L111.6 61.1M85 68L107.1 72.5M85 68L97 40.5M85 68L95.8 64.1M85 68L91.5 48.9M85 68L95.6 64.5M85 68L117 61.7M85 68L125.1 70.6M85 68L117.6 57.9M85 68L106.8 72.7M85 68L115.6 70.9M85 68L105.9 71.8M85 68L114 63M85 68L96.8 67.7M85 68L110.6 61.9M85 68L106.3 72.6M85 68L103.2 60.5M85 68L114.9 52.8M85 68L107.2 58.1M85 68L95.8 67.9M85 68L118.7 67.7M85 68L111.7 64.1M85 68L107.3 61.7M85 68L89.7 64.5M85 68L122.9 75.2M85 68L91.2 52.2M85 68L89.5 49.2M85 68L98.3 76.8M85 68L124.2 77.1M85 68L117.1 72.6M85 68L89.5 67.9M85 68L97.2 63M85 68L89.3 44M85 68L89.3 51.6M85 68L125 52.8M85 68L115.3 57.5M85 68L115.4 56.8M85 68L100.6 69.2M85 68L130.5 67.2M85 68L123.9 55.2" stroke="#00ff00" stroke-width="0.6" stroke-opacity="0.9" stroke-linecap="round" fill="none"/><path d="M85 68L103.1 63.8M85 68L104.6 62.5M85 68L94.3 72M85 68L114.4 69.3M85 68L121.3 75.3M85 68L121.8 71.6M85 68L111.8 60.9M85 68L93.1 75.1M85 68L109.6 61.8M85 68L101 67.4M85 68L89.7 34.7M85 68L117.8 59.5M85 68L97.4 74.4M85 68L113.8 75M85 68L105.3 57.6M85 68L102.1 75.2M85 68L106.7 70.2M85 68L124.5 76.5M85 68L108 72.4M85 68L88.9 51.3M85 68L122.3 50.9M85 68L90.8 45.8M85 68L95.8 65.6M85 68L128.3 75.5M85 68L91.2 40.6M85 68L98.8 66.7M85 68L98.7 65.6M85 68L125.1 52.7M85 68L101.2 73.2M85 68L122 59.2M85 68L107.1 73.8M85 68L105.2 59.5M85 68L101 76.2M85 68L124 49.8M85 68L89.3 45.9M85 68L90.1 62.3M85 68L100.3 75.1M85 68L118.8 57.3M85 68L109 72M85 68L124.2 64.8M85 68L106.6 68M85 68L92.3 65.8M85 68L113.7 70.9M85 68L120.5 69.1M85 68L121.1 78M85 68L121.3 51M85 68L113 58.4M85 68L93.4 37.4M85 68L96.1 64M85 68L116.6 71.7M85 68L120.4 76.1M85 68L88.8 67.7" stroke="#00f828" stroke-width="0.6" stroke-opacity="0.8" stroke-linecap="round" fill="none"/><path d="M85 68L91.5 50.4M85 68L95.3 70.8M85 68L93.7 44.6M85 68L116.5 62.8M85 68L110.5 74.7M85 68L113.4 70.9M85 68L116.8 74.6M85 68L90.6 44M85 68L92.7 42.1M85 68L117.4 60M85 68L90.8 41.9M85 68L112.2 65.5M85 68L108.5 65M85 68L98.7 60.5M85 68L93.5 67.4M85 68L115.6 71.9M85 68L96.8 68.6M85 68L93.3 57.3M85 68L118.6 54.8M85 68L108.2 56.2M85 68L124.6 72.2M85 68L92.9 63.4M85 68L119.8 62.8M85 68L120.4 63.8M85 68L120.2 74.5M85 68L97 66.6M85 68L89.2 58.7M85 68L104 72.2M85 68L93 44.4M85 68L107.4 69.8M85 68L102.7 72M85 68L112.2 74.7M85 68L101 61.9M85 68L124 49.8M85 68L92.7 41.5M85 68L106.9 66.6M85 68L114.6 71.2M85 68L89.3 69.1M85 68L129.3 75.5M85 68L127.4 56.8M85 68L112.9 67.9M85 68L110.4 62.7M85 68L114.9 62.5M85 68L118.8 53.1M85 68L124 74M85 68L89.3 56.1" stroke="#00f828" stroke-width="0.8" stroke-opacity="0.8" stroke-linecap="round" fill="none"/><path d="M85 68L123.1 67.6M85 68L111.8 73.6M85 68L96.2 40.6M85 68L94.7 45M85 68L121.5 68M85 68L90.6 41.8M85 68L104.6 59M85 68L101.8 61.9M85 68L116.1 57.6M85 68L123.5 53.7M85 68L116.9 68.5M85 68L109.1 72.8M85 68L117.3 55.4M85 68L113.2 69.7M85 68L127 63M85 68L96.1 41.5M85 68L106.8 62.4M85 68L115.9 65.5M85 68L117.4 71.2M85 68L125.4 75.1M85 68L104 63M85 68L122.1 72.3M85 68L116.2 61.5M85 68L117.9 70M85 68L108.3 63.5M85 68L99.1 61.1M85 68L112.2 58M85 68L89.1 73M85 68L111.1 70M85 68L104 60.4M85 68L95.6 73.2M85 68L97.2 39.4M85 68L101.7 73.7M85 68L112.7 63.8M85 68L94.8 38.8M85 68L93 46.7M85 68L122.3 65M85 68L119.4 75.9M85 68L120.2 76.8M85 68L114.1 73.1M85 68L91.5 51.6M85 68L117.3 71.1M85 68L105.2 76M85 68L121.7 65.1M85 68L121.9 71.8M85 68L115.5 57.6M85 68L103.9 59.5M85 68L95.3 68.4M85 68L112.8 59M85 68L126.8 77.9M85 68L116.9 56.6M85 68L112.1 57.4M85 68L104.4 66.4M85 68L94.3 57.8M85 68L122.3 76.1M85 68L92 51.9M85 68L122.6 70.5M85 68L91 52.4M85 68L114.4 77.5M85 68L131.2 75.6M85 68L112.5 55.3" stroke="#00f828" stroke-width="1.1" stroke-opacity="0.8" stroke-linecap="round" fill="none"/></g></g><clipPath id="ca04"><polygon points="128.6,77 129,78 129.5,88 129,96 128.6,103.8 118,104.5 105,104 100,103 97,101 88,102.5 80,100.5 70,99 60,98.5 57,97.5 64,96.5 75,93.5 88.6,88.1 96,85.3 103,82.3 103,77 33,77 33,77"/></clipPath><g clip-path="url(#ca04)"><g filter="url(#bl)"><path d="M103 82L88.5 101.3M103 82L123.1 79.1M103 82L85.5 102.9M103 82L71.1 95.6M103 82L80.1 98.3M103 82L93.1 88.8M103 82L60.7 99.6M103 82L101.2 98.4M103 82L114.1 88.6M103 82L85.5 103.8M103 82L112.3 80.2M103 82L84.7 97M103 82L119.3 89.5M103 82L120.3 90.5M103 82L122.7 97.2M103 82L128.9 104.1M103 82L117.9 89.6M103 82L118.6 86.5M103 82L104.8 86.2M103 82L118.4 103.4M103 82L67.6 98.7M103 82L94.7 91.4M103 82L89.3 95.3M103 82L104 86.8M103 82L118.8 78.4M103 82L95.1 91.6M103 82L84.8 100.2M103 82L105.8 94.9M103 82L125.5 80.9M103 82L112.2 82.1M103 82L125.4 89.6M103 82L98.2 90.1M103 82L104.7 104.5M103 82L83.9 93.3M103 82L103.5 92M103 82L118.4 85.8M103 82L108.6 91.6M103 82L93.7 94.3M103 82L91.3 87.5M103 82L120.3 85.8M103 82L86.5 92.7M103 82L105.3 99.4M103 82L106.6 94M103 82L129.1 85.1M103 82L117.3 79M103 82L104.5 97.8M103 82L79.6 98.1M103 82L109.7 83.9M103 82L87.3 88.7M103 82L110.5 103.6M103 82L85.9 89.3M103 82L79.4 93.8M103 82L121 89.8M85 68L55.4 100.2M103 82L83.9 91.4M103 82L104.7 90.8M103 82L118.7 97.4M103 82L122.2 102.5" stroke="#00ff00" stroke-width="0.6" stroke-opacity="1" stroke-linecap="round" fill="none"/><path d="M103 82L104.9 88.1M103 82L65.2 99.3M103 82L125 93.7M103 82L101.4 95.6M103 82L111.2 90.6M103 82L125.2 95.8M103 82L104.2 98.2M103 82L105.6 92M103 82L89.9 94.9M103 82L74.7 94.2M103 82L119.1 81M103 82L126.2 91.8M103 82L114.7 93.2M103 82L67.9 98.9M103 82L91.4 87.8M103 82L123.3 92.4M103 82L119.6 88.2M103 82L113.2 95M103 82L124.6 77.3M103 82L112.7 99.5M103 82L123.7 95.2M103 82L86.4 90.8M103 82L111.3 81M103 82L109.7 82.8M103 82L73.1 95.2M103 82L100.7 92.2M103 82L121.9 85.6M103 82L105.5 96.5M103 82L116.7 83.1M103 82L112.1 83.9M103 82L115.6 101.9M103 82L118.9 104.6M103 82L124.9 98.4M103 82L120.4 86.2M103 82L94.7 89.4M103 82L96.7 89.2M103 82L125.2 103.8M103 82L111.3 89M103 82L84.9 97.8M103 82L111.3 94.6M103 82L110.2 85.9M103 82L94.3 91.2M103 82L104.9 91.5M103 82L124 102.1M103 82L113 100.3M103 82L114.9 89.1M103 82L99.9 84.2M103 82L87.2 92.4M103 82L102.2 87.2M103 82L107.5 82M103 82L69.2 96.5M103 82L125.8 87.2M103 82L130.1 86M103 82L88.7 94.1M103 82L106.1 85M103 82L120.8 87.7M103 82L106.8 100M103 82L84.1 98.8M103 82L111.5 104.3M103 82L98.8 86.4M103 82L123.9 80.9M103 82L100.1 96.2M103 82L129 84.6M103 82L86 91.9M103 82L128 88.3M103 82L103.8 84.9M103 82L120.7 83.8M103 82L105 92.6" stroke="#00ff00" stroke-width="0.8" stroke-opacity="1" stroke-linecap="round" fill="none"/><path d="M103 82L118.3 91.4M103 82L109.1 97.7M103 82L104.3 88.2M103 82L117.7 83.8M103 82L96 94.8M103 82L88.6 97.8M103 82L121.8 81.6M103 82L122.9 102.3M103 82L110.2 86.2M103 82L115.3 94.5M103 82L123.5 79.5M103 82L119.1 89.2M103 82L117 88.7M103 82L86.9 100.5M103 82L77.7 92.8M103 82L91.8 91.2M103 82L94 98.4M103 82L127.8 86.8M103 82L111 81.9M103 82L89.2 99.3M103 82L109.9 96.4M103 82L69.8 95.3M103 82L107.7 92.3M85 68L58.5 98.9M103 82L114.1 90.4M103 82L125.9 94.7M103 82L114.4 84.5M103 82L90 92.3M103 82L121.5 77.9M103 82L120.2 99.3M103 82L95.1 90.9M103 82L105.7 85.2M103 82L111 90.9M103 82L102.3 84.4M103 82L128.1 81.7M103 82L75.6 96.6M103 82L126.9 97.3M103 82L117.8 88M103 82L76.9 97.9M103 82L98.7 86.6M103 82L127 79.2M103 82L94 93.4M103 82L113.5 90.6M103 82L121 80.7M103 82L80.4 95.1M103 82L105.6 98.4M103 82L111 83.9M103 82L105.4 94.4M103 82L128.8 78.1M103 82L92.8 88.3M103 82L101.5 87.4M103 82L65.7 101.2M103 82L124.6 86.4M103 82L109.7 92M103 82L107.3 92.7M103 82L104.6 102.6M103 82L128.1 95.1M103 82L110.2 82.5M103 82L90.9 91.1M103 82L123.3 86.9M103 82L70.8 99.3" stroke="#00f828" stroke-width="1.1" stroke-opacity="0.8" stroke-linecap="round" fill="none"/><path d="M103 82L109.1 90.7M103 82L96.1 85.8M103 82L77.4 99.9M103 82L127.3 96.2M103 82L79.4 101.7M103 82L104 98.3M103 82L114.1 81.7M103 82L129.3 99.4M103 82L105.2 88.9M103 82L111.6 81.1M103 82L107 99.6M103 82L72.7 96.4M103 82L109.3 90.7M103 82L124.1 88M103 82L128.1 85.5M103 82L127.1 104.5M103 82L78.4 97.8M103 82L114.8 84.2M103 82L118 89.4M103 82L73 94.8M103 82L118.2 84.7M103 82L121 81.3M103 82L110.3 99M103 82L75.3 99M103 82L122.8 89.7M103 82L114.4 88.2M103 82L122.9 78.3M103 82L116.6 101.8M103 82L117.6 88.5M103 82L124.7 97.3M103 82L70.2 95.7M103 82L87.3 89M103 82L104.2 82.4M103 82L109.1 97.8M103 82L84 97.4M103 82L125.4 92M103 82L107.5 104.9M103 82L110.8 100.5M103 82L120 85.3M103 82L113.8 85.8M103 82L79.8 94.4M103 82L115.3 83.8M103 82L94.7 92.3M103 82L82.8 92.5M103 82L107 84.1M103 82L84.3 93.5M103 82L122.1 99M103 82L123.9 79.4M103 82L78.7 102M103 82L75.3 94.7M103 82L113.5 88.5M103 82L79.3 96M85 68L60.3 99.5M103 82L93.3 93.4M103 82L93.9 98.9M103 82L90.8 93.3M103 82L115.6 101.2M103 82L100.3 102.3M103 82L123.4 98.2M103 82L74.3 97.2" stroke="#00f828" stroke-width="0.6" stroke-opacity="0.8" stroke-linecap="round" fill="none"/><path d="M103 82L85.7 91.6M103 82L93.4 100M103 82L105.3 99.3M103 82L126.2 99.4M103 82L87.2 102M103 82L126.5 102M103 82L87.1 92.6M103 82L93 101M103 82L125.9 93.5M103 82L82.8 92.9M85 68L60.6 98.6M103 82L112.8 90.3M103 82L99.4 84.2M103 82L107.6 98.4M103 82L123.8 88.7M103 82L107.1 101.9M103 82L71.6 94.5M103 82L67.2 96.9M103 82L79.4 98.9M103 82L117.4 102.5M103 82L91.6 90.7M103 82L120.5 101.4M103 82L127.6 96.8M103 82L75 98.5M103 82L125.7 85M103 82L122.6 78.6M103 82L132.5 96.7M103 82L113 92.8M103 82L65.2 96.7M103 82L96.2 91.1M103 82L116 99.3M103 82L122.2 80.8M103 82L73.4 94.6M103 82L89.2 94.5M103 82L81.9 95.3M103 82L118.6 90.2M103 82L97.6 87M103 82L82.8 97.2M103 82L111.1 98.5M103 82L82.2 94.7M103 82L113.4 90.6M103 82L115.9 79.1M103 82L126.6 79.6M103 82L106.5 89.3M103 82L119.8 102.8M103 82L128.1 103.6M103 82L98 99M103 82L123.8 80.2M103 82L124.6 82.2M103 82L106.9 88.2M103 82L110.8 95.2M103 82L119.9 80" stroke="#00ff00" stroke-width="0.8" stroke-opacity="0.9" stroke-linecap="round" fill="none"/><path d="M103 82L130.9 101.3M103 82L129.5 88.7M103 82L91.8 90.5M103 82L130.7 99.3M103 82L128 88.4M103 82L110.8 92.9M103 82L75.3 98.5M103 82L87.1 91.2M103 82L114.2 99M103 82L91.5 93.2M103 82L75.4 96.3M103 82L100 99.1M103 82L127.4 87.1M103 82L127 92.7M103 82L110.7 77M103 82L95.5 91.7M103 82L114.4 79.6M103 82L82.5 95.4M103 82L98.3 96.9M103 82L130.7 80.3M103 82L128.8 88.4M103 82L89.1 98.9M103 82L112.1 92.5M103 82L116.4 92.5M103 82L114.9 95.4M103 82L108 105.3M103 82L111.5 104.9M103 82L121.1 98.2M103 82L105.7 84.7M103 82L117.3 100.8M103 82L91.4 97.7M103 82L118 92.9M103 82L126.3 95.4M103 82L128.9 88.8M103 82L106.1 88.2M103 82L109.9 97.1M103 82L111.9 95.6M103 82L106.4 82.2M103 82L92.6 95.8M103 82L125.9 86.6M103 82L108.5 91.1M103 82L88.6 91.2M103 82L90.2 92.1M103 82L124.9 93.1M103 82L124 91.2M103 82L114.2 100.6M103 82L103.8 85.1M103 82L80.2 92.3M103 82L116.6 88M103 82L123.7 77.5M103 82L125.2 103.5M103 82L87.5 89.5M103 82L72.2 97.1M103 82L120.9 94M103 82L105.5 92.5M103 82L121 78.9M103 82L90.5 87.6M103 82L107.5 95.1M103 82L107.5 92.3M103 82L106.4 83.5M103 82L106.9 82.1M103 82L122.1 95.4M103 82L103 85.1M103 82L89.3 95.2M103 82L94.3 88.3" stroke="#00ff00" stroke-width="1.1" stroke-opacity="1" stroke-linecap="round" fill="none"/><path d="M103 82L122.6 79.2M103 82L69.2 97.4M103 82L112.1 99.9M103 82L107.6 78.6M103 82L118.6 78.6M103 82L100.4 88.5M103 82L101.7 83.8M103 82L107.2 81.9M103 82L121.6 84.4M103 82L115.8 98.3M103 82L126.4 100M103 82L99.4 89.1M103 82L107.3 83M103 82L109.1 95.9M103 82L86 89.5M103 82L125.1 95.4M103 82L124.5 96.5M103 82L83.9 98.5M103 82L96.7 90.5M103 82L78.3 99.5M103 82L100.7 97M103 82L122.8 78.7M103 82L84.1 95.8M103 82L119.3 94.4M103 82L68.9 95.8M103 82L126.3 83.5M103 82L106.6 83.5M103 82L86.7 96.1M103 82L110.8 80.4M103 82L99.2 93.1M103 82L113.1 87.6M103 82L73.4 98.5M103 82L127.5 91.1M103 82L94.4 86.7M103 82L112.7 86.5M103 82L96.4 89.9M103 82L113.1 104M103 82L75.2 95.7M103 82L118.6 95.3M103 82L105.6 98.1M103 82L106.5 82.7M103 82L124.9 93.6M103 82L86.3 90.6M103 82L89 104M103 82L109 101M103 82L116.8 97.4M103 82L126 79.2M103 82L89.4 96.9M103 82L108 84.2M103 82L91.1 92.3M103 82L81.9 102M103 82L108.2 95.8M103 82L125.5 90.9M103 82L96.7 92.9M103 82L71.7 95.6M103 82L115.6 81.3M103 82L112.3 97.1M103 82L64 97.2M103 82L120.4 92.6M103 82L109.8 97.2M103 82L128.1 91.8M103 82L99 95.4M103 82L120.5 96.7M103 82L117.1 90.1M103 82L115.4 97.8M103 82L130.9 94.5M103 82L110.3 87.6M103 82L117.6 98.4M103 82L111 87.1M103 82L128.3 104.1M103 82L112.8 81.8M103 82L108.6 81.3M103 82L119.7 88.5M103 82L117.3 89.4M103 82L122.5 87.2M103 82L124.9 94.8" stroke="#00ff00" stroke-width="0.6" stroke-opacity="0.9" stroke-linecap="round" fill="none"/><path d="M103 82L106.3 102.3M103 82L58.6 99.6M103 82L111.3 82M103 82L110.2 91.2M103 82L87.7 89.6M103 82L129.4 86M103 82L114.1 88.9M103 82L77.2 95.7M103 82L127.6 85.5M103 82L101.4 88.6M103 82L113.2 98M103 82L89 99.4M103 82L118.9 80.4M103 82L123.9 91.5M103 82L114.5 91.2M103 82L126.1 100.4M103 82L95.1 95.2M103 82L123 90.4M103 82L104.5 87.1M103 82L107.6 81.3M103 82L85.3 94.6M103 82L112.1 101.6M103 82L101.4 86.3M103 82L110.7 94.8M103 82L130.2 98.3M103 82L130 86.7M103 82L99.4 101M103 82L89.9 88.6M103 82L121.7 82.3M103 82L115.4 91.1M103 82L108.7 97.6M103 82L104.6 84.2M103 82L91.3 94.1M103 82L82.5 102.1M103 82L68 96.4M103 82L119 96.8M103 82L117.5 85M103 82L81.2 99.2M103 82L116 87.3M103 82L90.7 95.2M103 82L77.2 94.1M103 82L126.3 85.8M103 82L118.6 90.3M103 82L125.9 78.7M103 82L108.2 101.4M103 82L115.5 98.4M103 82L85.8 99.2M103 82L69.5 95.5M103 82L94.2 91.8M103 82L123.3 85.9M103 82L97 93M103 82L115.2 84.2M103 82L121.9 90.6M103 82L116.1 78M103 82L122.9 98.2M103 82L121.9 99.5M103 82L102 89.5M103 82L106.8 102.5M103 82L102.5 86.7M103 82L98.5 85.6M103 82L107.9 101.2M103 82L87.2 92.5M103 82L116.1 90.6M103 82L109.3 77.3M103 82L106.2 93.2" stroke="#00f828" stroke-width="0.8" stroke-opacity="0.8" stroke-linecap="round" fill="none"/><path d="M103 82L115.9 100.3M103 82L96 88M103 82L110.8 93.4M103 82L107 101.8M103 82L111.9 84.1M103 82L96.3 99.5M103 82L111.5 79.5M103 82L126.6 86M103 82L128.8 106.6M103 82L127.5 89.9M103 82L116.4 98.3M103 82L127.7 97.2M103 82L92 96.2M103 82L99.3 85.2M103 82L108.7 99.2M103 82L107.1 100M103 82L90.5 90.1M103 82L105.2 101.8M103 82L82.7 97.8M103 82L109.2 87.7M103 82L94.6 93.6M103 82L119.4 102.7M103 82L110.3 97.5M103 82L124.5 82.9M103 82L117.9 77.8M103 82L113 82.5M103 82L86.4 91.8M103 82L115.1 98M103 82L116.6 98.5M103 82L114.5 86.6M103 82L84.4 98.4M103 82L105.2 98.4M103 82L110.7 91.6M103 82L121.1 83.2M103 82L105.3 84.1M103 82L86.5 94.2M103 82L76.5 96.8M103 82L112.7 81.3M103 82L113.6 96.1M103 82L99.8 95.2M103 82L110.2 84.8M103 82L104.1 88M103 82L106.4 83.1M103 82L125.5 98.9M103 82L93 100M103 82L73.3 96.4M103 82L124.6 96M103 82L132.8 89.4M103 82L104.4 93.2M103 82L69.8 97.8M103 82L124.5 100M103 82L83.2 92M103 82L89.7 98.7M103 82L114.7 83.8M103 82L114.4 83.3M103 82L78.8 95.9M103 82L92.6 90.8M103 82L107.2 82M103 82L125.3 88.6M103 82L120.4 85.9M103 82L113.9 91.5M103 82L91.7 93.8M103 82L104.4 86M103 82L119.9 101.9M103 82L92.7 86.7M103 82L118.8 89.3M103 82L98.2 100.6" stroke="#00ff00" stroke-width="1.1" stroke-opacity="0.9" stroke-linecap="round" fill="none"/></g></g><rect x="62.1" y="36.7" width="71.8" height="5.1" fill="#fff" stroke="#9c9c9c" stroke-width="0.5"/><rect x="31.3" y="77.2" width="71.8" height="5.1" fill="#fff" stroke="#9c9c9c" stroke-width="0.5"/><ellipse cx="92.9" cy="51.9" rx="10.3" ry="10.1" fill="#fff" stroke="#9c9c9c" stroke-width="0.5"/><ellipse cx="72.3" cy="67.1" rx="10.3" ry="10.1" fill="#fff" stroke="#9c9c9c" stroke-width="0.5"/><polyline points="51.9,97.6 57,97.4 64,96.5 75,93.5 88.6,88.1 96,85.3 102.6,82.5 98,76 86,64 62,41.5 62.5,36 66,32.5 78,30.6 89.3,30.2 103.7,18.3 113,16.5" fill="none" stroke="#1f48b8" stroke-width="0.9" stroke-linejoin="round"/><circle cx="64" cy="96.5" r="0.75" fill="#10d8f0"/><circle cx="96" cy="85.3" r="0.75" fill="#10d8f0"/><circle cx="86" cy="64" r="0.75" fill="#10d8f0"/><circle cx="66" cy="32.5" r="0.75" fill="#10d8f0"/><circle cx="103.7" cy="18.3" r="0.75" fill="#10d8f0"/><circle cx="51.8" cy="97.6" r="1.3" fill="#ff00ff"/><circle cx="113.4" cy="16.4" r="1.3" fill="#000"/><rect x="18.5" y="6.2" width="128.2" height="101.5" fill="none" stroke="#a8a8a8" stroke-width="0.5"/><text x="31.8" y="113.6" font-size="4" text-anchor="middle" fill="#383838">0</text><text x="52.3" y="113.6" font-size="4" text-anchor="middle" fill="#383838">20</text><text x="72.8" y="113.6" font-size="4" text-anchor="middle" fill="#383838">40</text><text x="93.4" y="113.6" font-size="4" text-anchor="middle" fill="#383838">60</text><text x="113.9" y="113.6" font-size="4" text-anchor="middle" fill="#383838">80</text><text x="134.4" y="113.6" font-size="4" text-anchor="middle" fill="#383838">100</text><text x="17.1" y="109.4" font-size="4" text-anchor="end" fill="#383838">0</text><text x="17.1" y="99.3" font-size="4" text-anchor="end" fill="#383838">10</text><text x="17.1" y="89.1" font-size="4" text-anchor="end" fill="#383838">20</text><text x="17.1" y="79" font-size="4" text-anchor="end" fill="#383838">30</text><text x="17.1" y="68.8" font-size="4" text-anchor="end" fill="#383838">40</text><text x="17.1" y="58.7" font-size="4" text-anchor="end" fill="#383838">50</text><text x="17.1" y="48.5" font-size="4" text-anchor="end" fill="#383838">60</text><text x="17.1" y="38.4" font-size="4" text-anchor="end" fill="#383838">70</text><text x="17.1" y="28.2" font-size="4" text-anchor="end" fill="#383838">80</text><text x="17.1" y="18.1" font-size="4" text-anchor="end" fill="#383838">90</text><text x="17.1" y="7.9" font-size="4" text-anchor="end" fill="#383838">100</text><text x="82.6" y="119" font-size="4.2" text-anchor="middle" fill="#383838">X</text><text x="6.3" y="58.2" font-size="4.2" text-anchor="middle" fill="#383838" transform="rotate(-90 6.3 57)">Y</text><rect x="120" y="9.6" width="23.5" height="5.5" fill="#fff" stroke="#9a9a9a" stroke-width="0.4"/><line x1="121.3" y1="12.3" x2="132.5" y2="12.3" stroke="#3838d0" stroke-width="1.1"/><circle cx="127" cy="12.3" r="0.8" fill="#20e0f0"/><text x="134" y="13.5" font-size="3.4" fill="#222">RRT*</text><text x="57.9" y="133.8" font-family="Liberation Serif" font-size="11.6" fill="#000" textLength="42.8" lengthAdjust="spacingAndGlyphs">(<tspan font-weight="bold">a</tspan>) RRT*</text></g>
<g font-family="Liberation Sans"><line x1="220.1" y1="6.2" x2="220.1" y2="107.7" stroke="#e4e4e4" stroke-width="0.4"/><line x1="240.6" y1="6.2" x2="240.6" y2="107.7" stroke="#e4e4e4" stroke-width="0.4"/><line x1="261.1" y1="6.2" x2="261.1" y2="107.7" stroke="#e4e4e4" stroke-width="0.4"/><line x1="281.7" y1="6.2" x2="281.7" y2="107.7" stroke="#e4e4e4" stroke-width="0.4"/><line x1="302.2" y1="6.2" x2="302.2" y2="107.7" stroke="#e4e4e4" stroke-width="0.4"/><line x1="322.7" y1="6.2" x2="322.7" y2="107.7" stroke="#e4e4e4" stroke-width="0.4"/><line x1="207.3" y1="107.7" x2="335.5" y2="107.7" stroke="#e4e4e4" stroke-width="0.4"/><line x1="207.3" y1="97.6" x2="335.5" y2="97.6" stroke="#e4e4e4" stroke-width="0.4"/><line x1="207.3" y1="87.4" x2="335.5" y2="87.4" stroke="#e4e4e4" stroke-width="0.4"/><line x1="207.3" y1="77.2" x2="335.5" y2="77.2" stroke="#e4e4e4" stroke-width="0.4"/><line x1="207.3" y1="67.1" x2="335.5" y2="67.1" stroke="#e4e4e4" stroke-width="0.4"/><line x1="207.3" y1="57" x2="335.5" y2="57" stroke="#e4e4e4" stroke-width="0.4"/><line x1="207.3" y1="46.8" x2="335.5" y2="46.8" stroke="#e4e4e4" stroke-width="0.4"/><line x1="207.3" y1="36.7" x2="335.5" y2="36.7" stroke="#e4e4e4" stroke-width="0.4"/><line x1="207.3" y1="26.5" x2="335.5" y2="26.5" stroke="#e4e4e4" stroke-width="0.4"/><line x1="207.3" y1="16.4" x2="335.5" y2="16.4" stroke="#e4e4e4" stroke-width="0.4"/><line x1="207.3" y1="6.2" x2="335.5" y2="6.2" stroke="#e4e4e4" stroke-width="0.4"/><clipPath id="cb00"><polygon points="224.4,9.6 235,8 250.6,7.1 280,7 296,7 306,7.5 312,12 316.3,16.5 321.3,22.7 321.5,35 322,37 322,37 225.5,37 224,30 223.5,20 224,12"/></clipPath><g clip-path="url(#cb00)"><g filter="url(#bl)"><path d="M301.8 16.2L289.1 31.7M301.8 16.2L284.5 15.4M301.8 16.2L250.6 20.9M301.8 16.2L308.9 28.8M252 37L237.1 33.2M301.8 16.2L263.9 20M301.8 16.2L267 24.1M301.8 16.2L291.5 17.3M301.8 16.2L270.3 15.8M301.8 16.2L317.3 22.6M301.8 16.2L297.3 19.8M301.8 16.2L233.8 18.8M301.8 16.2L319.1 37.6M301.8 16.2L277.2 30M301.8 16.2L234.2 15.1M301.8 16.2L284.3 15.8M301.8 16.2L285.3 11.6M301.8 16.2L232.2 19.1M301.8 16.2L272.2 30.8M301.8 16.2L294 35M301.8 16.2L312.3 14.5M301.8 16.2L296.8 21.5M252 37L236.4 26.7M301.8 16.2L313.2 23.5M301.8 16.2L315.3 18.9M301.8 16.2L313.6 35.1M301.8 16.2L257.1 8.8M301.8 16.2L260.2 12.3M301.8 16.2L265.5 32.1M301.8 16.2L254.2 8.9M301.8 16.2L250.7 17.7M301.8 16.2L246.8 14.1M301.8 16.2L306.2 34.9M301.8 16.2L297.8 18.2M301.8 16.2L286.3 10.3M301.8 16.2L311.7 12.3M252 37L255.8 21.7M252 37L252.7 30.2M252 37L252.4 28.4M252 37L253.8 23M301.8 16.2L298 29.3M252 37L247.2 26.3M301.8 16.2L305.2 29.5M301.8 16.2L267.8 26M301.8 16.2L242 16.4M301.8 16.2L262.1 32.7M301.8 16.2L314.5 32.1M301.8 16.2L299.3 31.9M252 37L243.8 30.8M301.8 16.2L282.1 12.1M301.8 16.2L309.1 21.3M301.8 16.2L275 10.5M301.8 16.2L252.4 14.4M301.8 16.2L302.9 26.1M301.8 16.2L283.2 19.4M301.8 16.2L269.3 25.8M301.8 16.2L269.6 23.4M301.8 16.2L299.5 20.2M301.8 16.2L304.9 24.8M301.8 16.2L311 29.2M301.8 16.2L243.2 17.9M301.8 16.2L275.8 8.4M301.8 16.2L308.4 25.2M301.8 16.2L289.2 33.3M301.8 16.2L299.3 31M252 37L236.9 35.8M301.8 16.2L267.5 25.7M301.8 16.2L241.7 8.6M301.8 16.2L313.5 27.3M252 37L240.6 30.4M301.8 16.2L301.7 28.4M301.8 16.2L303.8 10.2M252 37L237.4 33M301.8 16.2L292.7 32.2M301.8 16.2L304.1 34.1M301.8 16.2L303.7 30.8M252 37L236.6 30.7M301.8 16.2L279.8 17.2M301.8 16.2L266.4 23.2M301.8 16.2L301.6 12M301.8 16.2L285.8 19.4M301.8 16.2L256.8 19.6M301.8 16.2L296.7 22.3M252 37L245.5 30.5M301.8 16.2L309.7 20.9M301.8 16.2L307.2 10M252 37L226.2 35.3M301.8 16.2L312.3 13.1M301.8 16.2L308.5 28M252 37L249.8 31.4M301.8 16.2L251.9 17.2M301.8 16.2L318.4 31.5M252 37L228 26.3M301.8 16.2L314 20.7M301.8 16.2L315.7 26.1M301.8 16.2L314.9 25.4M301.8 16.2L291.6 27.4M301.8 16.2L246.7 18M301.8 16.2L261.1 34.9M301.8 16.2L267.9 31.7M301.8 16.2L317.8 33.1M301.8 16.2L241.7 21.2M252 37L253.1 23.3M301.8 16.2L260.1 34.2M301.8 16.2L310.3 22.6M301.8 16.2L276.8 32.1M301.8 16.2L245.4 11.4M301.8 16.2L306.8 36.9M301.8 16.2L310.7 35.5M301.8 16.2L278.2 35.8M252 37L231.3 35.9M301.8 16.2L318.3 23.8M301.8 16.2L306.4 30.1M301.8 16.2L296.6 25.4M301.8 16.2L297.5 24.1M301.8 16.2L251.5 16.7M252 37L232.5 28.1M301.8 16.2L289.9 31.8M301.8 16.2L317 30M252 37L234.3 29.1M301.8 16.2L276.1 28.6M301.8 16.2L316.1 34.3M252 37L243.9 24.6M301.8 16.2L270.1 16.2M301.8 16.2L234.9 16.2M301.8 16.2L315.2 17.3M301.8 16.2L283 16.3M301.8 16.2L302.2 27.4M301.8 16.2L302.5 28.7M301.8 16.2L266.7 24.3M301.8 16.2L282.9 27.2M301.8 16.2L249.1 19.5" stroke="#00ff00" stroke-width="0.8" stroke-opacity="0.9" stroke-linecap="round" fill="none"/><path d="M301.8 16.2L257 19.2M301.8 16.2L273 12.2M301.8 16.2L275.7 26.1M252 37L236.1 28.8M301.8 16.2L315 17.3M252 37L246.3 32.4M301.8 16.2L294.7 14.2M301.8 16.2L262.8 20.2M301.8 16.2L300.8 31.7M301.8 16.2L283.9 10.5M301.8 16.2L303.2 23.7M301.8 16.2L307.9 33.8M252 37L247.9 35.2M301.8 16.2L273.4 14.5M301.8 16.2L279.2 12.9M301.8 16.2L285.4 21.8M301.8 16.2L316.3 30.9M301.8 16.2L283.8 23.8M301.8 16.2L303 25.4M301.8 16.2L236.6 11.6M301.8 16.2L313.1 30.2M301.8 16.2L316.7 23.9M301.8 16.2L314.5 22.2M301.8 16.2L314.9 29.1M301.8 16.2L261.7 31.7M301.8 16.2L320.2 26.7M301.8 16.2L216.3 22.3M301.8 16.2L230.3 12.3M252 37L247.1 24.9M301.8 16.2L270 36.1M301.8 16.2L308.5 18.8M301.8 16.2L280.3 8.5M301.8 16.2L276.9 27M301.8 16.2L293.7 17.4M252 37L230.9 23.5M301.8 16.2L280.5 26.7M301.8 16.2L304.9 18.2M301.8 16.2L304.3 27.2M301.8 16.2L236.2 14.6M301.8 16.2L298.7 26.9M301.8 16.2L276.5 25.2M301.8 16.2L230.7 12.3M301.8 16.2L316.4 25.8M301.8 16.2L241.1 13.3M301.8 16.2L294.6 28.3M252 37L247.6 25.4M301.8 16.2L317.4 32.2M252 37L249 33.4M301.8 16.2L264.1 11.1M301.8 16.2L285.3 26.5M301.8 16.2L239 10M301.8 16.2L312.5 26.8M301.8 16.2L311.6 23.8M301.8 16.2L297.1 28.8M301.8 16.2L230.7 19.6M301.8 16.2L313.8 24.5M301.8 16.2L297.1 18.4M301.8 16.2L297.4 18.3M301.8 16.2L227.6 12.8M301.8 16.2L320.5 25.8M301.8 16.2L274.2 27M301.8 16.2L304.7 31.1M301.8 16.2L255 8.6M301.8 16.2L318.1 23.1M301.8 16.2L253.7 17.6M301.8 16.2L301.7 33.1M301.8 16.2L310.1 27.1M301.8 16.2L305.7 31.5M301.8 16.2L299.5 37.6M301.8 16.2L276.7 8.9M301.8 16.2L320.7 21.9M301.8 16.2L250.8 20.8M301.8 16.2L243.6 13.9M301.8 16.2L270.2 30.8M301.8 16.2L275.7 28.4M301.8 16.2L273.8 8.5M301.8 16.2L309.3 30.1M301.8 16.2L289.6 14.8M301.8 16.2L286.7 30.2M301.8 16.2L269.5 13.8M301.8 16.2L294.5 31.9M301.8 16.2L297 32.1M252 37L247.5 32.3M252 37L248.8 21.6M301.8 16.2L274.7 11.9M301.8 16.2L267 20.7M301.8 16.2L308.6 33.1M301.8 16.2L248.6 19.5M252 37L226.8 22.3M301.8 16.2L258.7 11.6M301.8 16.2L286.6 35.4M301.8 16.2L241.5 11.4M301.8 16.2L276.8 31.2M301.8 16.2L254.5 30.5M301.8 16.2L245.3 18.4M252 37L236.8 24.6M301.8 16.2L279.2 27.3M301.8 16.2L293.3 38.4M301.8 16.2L261.7 19.2M301.8 16.2L308.1 19.9M252 37L240.6 30.8M301.8 16.2L266.6 25.9M301.8 16.2L266.9 15.2M301.8 16.2L287.9 38.2M301.8 16.2L281.6 19.5M301.8 16.2L310 16.8M301.8 16.2L255.4 19M301.8 16.2L236.6 18.6M301.8 16.2L318.5 20.6M301.8 16.2L296.1 18.8M301.8 16.2L294.9 19.2M252 37L243.1 27.1M301.8 16.2L301.4 11.4M301.8 16.2L234 12.6M301.8 16.2L287.2 22.3M301.8 16.2L316.2 23.1M301.8 16.2L247.8 12.6M301.8 16.2L315.7 28.8M301.8 16.2L254.7 12.7M252 37L252.8 23.8M301.8 16.2L241.3 21.1M301.8 16.2L293.3 17M301.8 16.2L257.5 32.8M252 37L246.8 36.9M301.8 16.2L286.6 32M301.8 16.2L258.3 18.9M301.8 16.2L257.9 21.5M301.8 16.2L311.7 34.7M301.8 16.2L292.3 6.4M301.8 16.2L260.8 25.9M301.8 16.2L277.3 30.3" stroke="#20f860" stroke-width="1" stroke-opacity="0.8" stroke-linecap="round" fill="none"/><path d="M252 37L246.9 31.1M301.8 16.2L267.6 32M301.8 16.2L319.3 34.5M301.8 16.2L318.4 35.5M301.8 16.2L278.9 26M301.8 16.2L236 19.5M301.8 16.2L215.4 19.8M301.8 16.2L244.3 21.5M301.8 16.2L277.4 15.2M301.8 16.2L249.6 21M301.8 16.2L311.9 31.4M301.8 16.2L276.9 23.5M301.8 16.2L251.2 8.5M301.8 16.2L278.1 24.6M301.8 16.2L229.6 15.9M301.8 16.2L264.2 34.4M301.8 16.2L264 16.3M301.8 16.2L286.4 22.5M301.8 16.2L303.1 24.7M301.8 16.2L251.2 8.8M301.8 16.2L299.7 27.5M301.8 16.2L282.6 11.4M301.8 16.2L288.9 20.6M301.8 16.2L258.8 37M301.8 16.2L309.5 18.5M301.8 16.2L249.3 10.5M301.8 16.2L302.1 32M301.8 16.2L269.5 23.5M301.8 16.2L321.4 26.6M301.8 16.2L259.2 33.2M301.8 16.2L302.9 24.8M301.8 16.2L263.3 14.1M252 37L246.3 34.5M301.8 16.2L321.5 27.7M301.8 16.2L290.8 19.4M301.8 16.2L220.5 14.6M301.8 16.2L246.8 13.8M301.8 16.2L313.5 36.5M301.8 16.2L259.1 18.6M301.8 16.2L272.1 28.6M301.8 16.2L272.3 14.3M301.8 16.2L315.8 32.8M301.8 16.2L257.5 17.4M252 37L251.7 36.4M301.8 16.2L302.4 14.9M301.8 16.2L297 29.9M301.8 16.2L276 31.7M301.8 16.2L284.5 16.7M301.8 16.2L315.2 24.6M301.8 16.2L275.6 7.4M252 37L235 26.5M301.8 16.2L301.3 24.2M301.8 16.2L223.2 18.3M301.8 16.2L317.1 35.6M301.8 16.2L297.1 32.7M301.8 16.2L298.9 32.2M301.8 16.2L319.1 26.7M301.8 16.2L235.1 11.4M301.8 16.2L314.3 15M301.8 16.2L316.8 37.9M252 37L235.5 36.6M301.8 16.2L272.5 7.3M301.8 16.2L296.6 30.4M301.8 16.2L258.9 36.1M252 37L230.1 26.8M301.8 16.2L299.7 33.3M301.8 16.2L313.6 25.7M301.8 16.2L301.8 36.9M252 37L255.1 23M301.8 16.2L284.2 9M252 37L257.3 32.5M301.8 16.2L322 37.1M301.8 16.2L244 20.3M252 37L252 31.8M301.8 16.2L265.5 8.5M301.8 16.2L274.1 34.2M301.8 16.2L302.4 26.7M301.8 16.2L230.1 14.3M301.8 16.2L317.3 24.2M301.8 16.2L273.8 34.1M301.8 16.2L302.1 11.2M301.8 16.2L244.5 16.3M301.8 16.2L225.7 9.2M301.8 16.2L303.5 18M301.8 16.2L271.7 19.4M301.8 16.2L280.1 15.4M301.8 16.2L313 23.6M301.8 16.2L317.1 29M301.8 16.2L281.1 12.9M301.8 16.2L292.3 6.7M301.8 16.2L290.5 31.5M301.8 16.2L265.3 22.2M301.8 16.2L291.1 9.7M301.8 16.2L313.2 33.6M301.8 16.2L316.7 31.5M301.8 16.2L273.9 33.5M301.8 16.2L305 23.3M301.8 16.2L273 21M301.8 16.2L311.4 13.7M301.8 16.2L306.4 14.3M301.8 16.2L289.9 26.1M301.8 16.2L286.2 29.1M301.8 16.2L250.2 19.9M252 37L249.2 23.1M252 37L253.3 32.7M301.8 16.2L264.1 10.6M301.8 16.2L313.7 18.9M301.8 16.2L307.8 18.5M301.8 16.2L261.1 38.5M301.8 16.2L304 27.2M301.8 16.2L286.9 36.2M301.8 16.2L296.8 23.1M301.8 16.2L256.5 26.9M301.8 16.2L318.4 21.1M301.8 16.2L307.1 29.3M301.8 16.2L272.5 28.8M252 37L226.9 26.5M301.8 16.2L300.8 27.2M301.8 16.2L224.6 14.7M301.8 16.2L266 36.1M301.8 16.2L316.4 34.5M301.8 16.2L310.8 12.2M301.8 16.2L294.6 8M301.8 16.2L323.7 35.4M301.8 16.2L310 30.2M252 37L227.6 25.2M301.8 16.2L309 33.4M301.8 16.2L281.7 35.4M301.8 16.2L253.8 19.3M301.8 16.2L258 20.3" stroke="#50f888" stroke-width="0.5" stroke-opacity="0.8" stroke-linecap="round" fill="none"/><path d="M252 37L240.8 24M301.8 16.2L263.9 20.7M301.8 16.2L261.7 23.9M301.8 16.2L307.2 30.3M301.8 16.2L230.4 21.6M252 37L240.4 23M301.8 16.2L254.8 10.7M301.8 16.2L277.4 37M301.8 16.2L293.8 17.2M301.8 16.2L285 7.3M301.8 16.2L260.4 14.9M301.8 16.2L253.6 20.3M301.8 16.2L319 24.3M301.8 16.2L298.9 19M252 37L238.9 27.1M301.8 16.2L266.2 13M301.8 16.2L264.5 25.1M301.8 16.2L302.5 35.7M301.8 16.2L255.5 20.5M301.8 16.2L296.2 22.3M301.8 16.2L312.6 12.3M301.8 16.2L275.5 16.7M301.8 16.2L320.2 32.7M301.8 16.2L315.8 24.8M301.8 16.2L266 13.8M301.8 16.2L289.2 23.6M301.8 16.2L304 28.6M252 37L224.6 36.8M301.8 16.2L234.2 19.7M301.8 16.2L316 33.7M301.8 16.2L310 24.2M301.8 16.2L308.3 18.5M252 37L255.2 25.4M252 37L235 35M301.8 16.2L282.3 31.1M301.8 16.2L213.7 15.7M301.8 16.2L297.1 27.3M301.8 16.2L309.1 35.4M301.8 16.2L308.7 36.9M301.8 16.2L305 30.2M252 37L249.9 27.2M301.8 16.2L288.8 14.3M301.8 16.2L315 24.7M301.8 16.2L265.5 15.2M252 37L242.5 36.5M301.8 16.2L278.9 26.5M301.8 16.2L239.8 8.7M301.8 16.2L318.7 27M301.8 16.2L312.4 15.3M252 37L225.2 24.1M301.8 16.2L285.4 25M301.8 16.2L267.4 30.2M301.8 16.2L233.1 18.5M301.8 16.2L300.9 30.2M301.8 16.2L228.5 20.7M301.8 16.2L267.1 8.6M301.8 16.2L276.4 27.3M301.8 16.2L302.9 25.5M301.8 16.2L302.5 22.3M301.8 16.2L254 20.3M252 37L227 34.4M301.8 16.2L307.4 11.1M301.8 16.2L268 11.2M301.8 16.2L278.2 7.8M301.8 16.2L301.3 29M301.8 16.2L305.5 26.1M301.8 16.2L311.4 29.2M301.8 16.2L274.6 32.2M301.8 16.2L304.2 18.6M301.8 16.2L235 12.1M301.8 16.2L262 23.8M301.8 16.2L299.9 33.7M301.8 16.2L312.6 36.2M301.8 16.2L309.8 32.1M252 37L242.9 36.2M301.8 16.2L301.9 11.7M301.8 16.2L223.4 13M301.8 16.2L299.3 25.1M301.8 16.2L312.4 25.9M301.8 16.2L232.7 15.1M301.8 16.2L317.2 32.8M301.8 16.2L318.4 34M301.8 16.2L323.3 26.2M252 37L244.3 22.5M252 37L237.6 29.2M301.8 16.2L303.6 22.9M301.8 16.2L255.9 7.1M301.8 16.2L290.7 26.2M301.8 16.2L297 30.9M301.8 16.2L267.6 25.8M301.8 16.2L261 30.3M301.8 16.2L259.7 24.6M252 37L251.4 25.2M301.8 16.2L314.3 30M301.8 16.2L303.1 25.4M301.8 16.2L243.2 16.7M301.8 16.2L262.1 14.2M301.8 16.2L299.7 33M301.8 16.2L306.4 29.9M301.8 16.2L296.4 22.9M301.8 16.2L224.1 15.4M301.8 16.2L270.1 20.7M301.8 16.2L302.7 27.9M301.8 16.2L315.8 29.1M301.8 16.2L319.5 21.4M301.8 16.2L266.7 20.5M301.8 16.2L315.5 38.9M301.8 16.2L260.6 16.4M301.8 16.2L302.3 29M301.8 16.2L275.3 11.8M301.8 16.2L311.5 21.4M301.8 16.2L281.4 23.3M301.8 16.2L302.7 23.1M301.8 16.2L299.9 21.3M301.8 16.2L304 25.9M301.8 16.2L296.4 30.4M301.8 16.2L235.7 13.9M301.8 16.2L316.5 37.8M301.8 16.2L307.6 22.8M301.8 16.2L283.8 11.3M252 37L229.9 32.9M301.8 16.2L295.4 28.9M301.8 16.2L318.4 28.6M252 37L225.8 31.6M301.8 16.2L270.9 20M301.8 16.2L257.9 23.9M301.8 16.2L273.6 17.7M301.8 16.2L236.5 18.8M301.8 16.2L242.9 21.3M301.8 16.2L261.8 28.8M301.8 16.2L278.7 18.2M301.8 16.2L309.4 13M301.8 16.2L269.1 14.1M301.8 16.2L279.7 20.6M301.8 16.2L250 7.6M301.8 16.2L224.1 16.9M301.8 16.2L267.5 26.1M301.8 16.2L289.6 12.5" stroke="#00ff00" stroke-width="0.5" stroke-opacity="0.9" stroke-linecap="round" fill="none"/><path d="M301.8 16.2L289.4 23.5M301.8 16.2L285.9 10.9M301.8 16.2L302.2 21.4M301.8 16.2L295.3 14.3M252 37L245.3 26.2M301.8 16.2L308.2 31.1M301.8 16.2L285.3 14.7M301.8 16.2L285 22.2M301.8 16.2L300.1 26.4M301.8 16.2L283.7 38.5M301.8 16.2L258.9 30.5M252 37L230.2 28.3M301.8 16.2L286.3 14.3M301.8 16.2L244.3 20.2M301.8 16.2L263.8 13M301.8 16.2L221.9 20.6M301.8 16.2L277.9 25.8M252 37L234.1 33.9M301.8 16.2L312.3 12.6M301.8 16.2L321 33.3M301.8 16.2L253.4 8.7M301.8 16.2L284.9 6.6M252 37L246.3 24.4M301.8 16.2L256.4 16.3M301.8 16.2L295.6 10.7M301.8 16.2L271.7 24.8M301.8 16.2L267.8 33.7M301.8 16.2L273.2 31.7M301.8 16.2L289.8 14.3M301.8 16.2L296.2 25.6M301.8 16.2L267.3 9.7M301.8 16.2L297.7 26.1M252 37L243.8 27.9M301.8 16.2L229.6 10.1M301.8 16.2L245.7 15.1M301.8 16.2L266.5 20.3M301.8 16.2L260.5 17.7M301.8 16.2L251.9 10.4M301.8 16.2L222.2 18.7M301.8 16.2L305.4 30.3M301.8 16.2L282.8 26.4M301.8 16.2L314.5 25.1M301.8 16.2L294.3 28.8M301.8 16.2L275 15.5M301.8 16.2L274.7 13M301.8 16.2L301.1 26.3M252 37L255.5 35.9M301.8 16.2L296.7 34.6M301.8 16.2L283 16M301.8 16.2L320.3 35.4M301.8 16.2L318.4 33.2M301.8 16.2L302.7 37M301.8 16.2L243 11.7M301.8 16.2L310.5 22.4M301.8 16.2L258.1 37.3M301.8 16.2L295.8 29.1M301.8 16.2L295.9 29.1M301.8 16.2L253.3 9.1M252 37L238.8 29.6M301.8 16.2L306.9 10.3M301.8 16.2L273.8 30.7M301.8 16.2L302.4 23.2M301.8 16.2L279.5 12.8M301.8 16.2L291 14.3M301.8 16.2L302.9 19.2M252 37L235.3 31.3M301.8 16.2L299.2 33.3M301.8 16.2L252.4 9M301.8 16.2L285.6 12.9M301.8 16.2L254.3 7M301.8 16.2L297.7 11.2M301.8 16.2L299.1 25.5M301.8 16.2L301.8 13.8M301.8 16.2L266.5 15.6M301.8 16.2L285.5 22.6M301.8 16.2L301.7 17.5M301.8 16.2L271.8 33.9M301.8 16.2L230.4 8.9M301.8 16.2L231.8 15.7M301.8 16.2L280.4 22.4M301.8 16.2L292.4 6.3M301.8 16.2L259.6 26.7M301.8 16.2L311.6 31.3M301.8 16.2L312.1 32.1M301.8 16.2L266.9 11.9M301.8 16.2L318.3 33.7M252 37L242 23.6M301.8 16.2L259.6 31.5M301.8 16.2L223.1 22.3M301.8 16.2L268.1 30M301.8 16.2L247.2 9.9M301.8 16.2L307.8 26.6M301.8 16.2L268.5 32.5M301.8 16.2L252.1 20.2M301.8 16.2L284 35.7M301.8 16.2L262.6 35.8M301.8 16.2L263.7 13.1M301.8 16.2L286.2 14.8M301.8 16.2L315.3 19.9M301.8 16.2L253.7 19.7M252 37L228 32.5M301.8 16.2L314.1 19.7M301.8 16.2L308.4 20.4M252 37L240.5 36.9M301.8 16.2L243.9 21.1M252 37L250.7 34.1M301.8 16.2L286.4 24.7M301.8 16.2L310.5 17.9M301.8 16.2L224.3 18.4M301.8 16.2L264.4 12.2M301.8 16.2L315.8 34.3M301.8 16.2L312 34.6M301.8 16.2L285.3 12.6M301.8 16.2L280.8 14.2M301.8 16.2L275.3 19M301.8 16.2L274 34.3M252 37L230.9 26.9M301.8 16.2L308.1 32.2M301.8 16.2L268.2 30.6M301.8 16.2L265.8 10.2M252 37L225.9 25.2M301.8 16.2L273.1 35.4M301.8 16.2L283 33M301.8 16.2L266.8 30.9M301.8 16.2L315.9 25M301.8 16.2L294.2 8.5M301.8 16.2L310.1 19.9M301.8 16.2L244.8 21M252 37L235 35.8" stroke="#20f860" stroke-width="0.5" stroke-opacity="0.8" stroke-linecap="round" fill="none"/><path d="M301.8 16.2L279.2 7.8M301.8 16.2L284.6 15M301.8 16.2L282.1 32.7M301.8 16.2L257.2 38.5M301.8 16.2L254.7 11.7M301.8 16.2L297.7 30.9M301.8 16.2L286.2 15.7M301.8 16.2L231.7 19.7M252 37L234.9 32.4M301.8 16.2L300.8 31.3M252 37L237.5 23.7M301.8 16.2L298.1 18.9M301.8 16.2L307.5 34.1M301.8 16.2L240.2 9.9M252 37L255.3 34.3M301.8 16.2L245.5 7.5M301.8 16.2L314.2 34.6M301.8 16.2L304.6 29.4M301.8 16.2L311.9 31.1M301.8 16.2L284.4 36.1M301.8 16.2L316.2 33.5M301.8 16.2L311.5 24.6M301.8 16.2L318.4 29M301.8 16.2L262.3 29.9M301.8 16.2L288.1 13.3M301.8 16.2L281.1 10.6M301.8 16.2L308.2 23.3M301.8 16.2L316.2 18.3M301.8 16.2L316.7 19M301.8 16.2L244.8 17.5M301.8 16.2L320.9 31.3M301.8 16.2L323.8 33.3M301.8 16.2L263.5 16.9M301.8 16.2L269.6 22.3M252 37L239.2 26.4M252 37L237.3 35.8M301.8 16.2L315.2 33.1M301.8 16.2L238.8 20.8M301.8 16.2L289.1 16.4M301.8 16.2L236.4 14.5M301.8 16.2L288.6 14.3M301.8 16.2L269.5 26.2M301.8 16.2L237.4 15.9M301.8 16.2L264.3 30.7M301.8 16.2L320.2 34.8M301.8 16.2L313.1 25.9M301.8 16.2L267.6 32.3M301.8 16.2L302.2 33M301.8 16.2L317.1 35.5M301.8 16.2L262.4 25.2M301.8 16.2L315.1 36.1M301.8 16.2L256.8 14.1M301.8 16.2L299.3 26.4M301.8 16.2L311.7 24.4M252 37L253.3 27.8M301.8 16.2L302.7 34.3M301.8 16.2L288.3 16.8M301.8 16.2L283.7 21.5M301.8 16.2L304 30M301.8 16.2L283.8 12.1M301.8 16.2L246.3 12M301.8 16.2L299.2 20.8M301.8 16.2L240.7 13.2M301.8 16.2L309.9 18.8M301.8 16.2L282.2 8.9M301.8 16.2L246.8 8.1M301.8 16.2L321.7 23M301.8 16.2L227.7 19.6M301.8 16.2L275.2 28.5M301.8 16.2L281.8 26.3M301.8 16.2L243.2 17M301.8 16.2L280.6 14.9M301.8 16.2L313.4 27.1M301.8 16.2L318.2 31M301.8 16.2L301.6 32.2M301.8 16.2L304.3 9.7M301.8 16.2L256.1 16.5M301.8 16.2L322.7 26.6M301.8 16.2L301.7 17.9M301.8 16.2L280.1 16.6M301.8 16.2L286.9 29M301.8 16.2L284.4 28.7M301.8 16.2L266.2 26.8M301.8 16.2L250 15.1M301.8 16.2L282.6 12.5M301.8 16.2L304.3 24M301.8 16.2L287.1 33.7M301.8 16.2L248.5 8M301.8 16.2L278.8 30.2M301.8 16.2L287.2 25.6M252 37L233.5 26.2M301.8 16.2L262.3 17M301.8 16.2L238.5 10M301.8 16.2L306.1 11.2M301.8 16.2L297.4 15.3M301.8 16.2L249.6 11.3M252 37L241.6 22.9M301.8 16.2L285.7 14M252 37L234 27M301.8 16.2L264.9 22.4M301.8 16.2L264 17.2M301.8 16.2L302.2 27.5M301.8 16.2L247.3 20.2M301.8 16.2L266.6 25.2M301.8 16.2L278.6 31.2M301.8 16.2L313.2 19.1M301.8 16.2L320.4 36.5M301.8 16.2L303 25.3M301.8 16.2L307.7 18.3M301.8 16.2L274.4 20.7M301.8 16.2L241 19.6M301.8 16.2L318.9 37.6M301.8 16.2L290.3 12.4M301.8 16.2L284.8 32.3M301.8 16.2L295.6 28.7M301.8 16.2L321.7 29.9M301.8 16.2L241.9 6.2M252 37L234.2 34.7M301.8 16.2L261.9 31.4M301.8 16.2L309.6 34.6M252 37L246.5 28.7M301.8 16.2L268.7 29.6M301.8 16.2L311.9 15M301.8 16.2L220.3 21.4M301.8 16.2L309.1 32.1M301.8 16.2L307.6 31.1M301.8 16.2L260.6 12.3M301.8 16.2L248.1 20.7M301.8 16.2L264.1 15.9M301.8 16.2L312.1 21.3M301.8 16.2L308.2 31.9" stroke="#20f860" stroke-width="0.8" stroke-opacity="0.8" stroke-linecap="round" fill="none"/><path d="M301.8 16.2L293.7 19.6M301.8 16.2L309.4 29.5M301.8 16.2L302.1 21.2M252 37L224 36.4M301.8 16.2L296.1 14.7M301.8 16.2L279.1 9.3M301.8 16.2L267.4 28.3M301.8 16.2L295.1 14.4M301.8 16.2L283.6 14.1M301.8 16.2L272.5 16.3M301.8 16.2L267.8 25.1M301.8 16.2L295.3 29.3M301.8 16.2L294.9 29.4M301.8 16.2L256.5 26.4M301.8 16.2L309.5 29.3M301.8 16.2L319.8 37.6M301.8 16.2L317.1 28.5M301.8 16.2L292.4 38.5M301.8 16.2L313.6 14.2M301.8 16.2L231 13.5M301.8 16.2L250.1 14.2M301.8 16.2L274.1 21.9M301.8 16.2L311.7 30.2M301.8 16.2L317.7 30.7M252 37L238.8 34.5M301.8 16.2L306 33.9M301.8 16.2L268.7 7.6M301.8 16.2L271.7 15.8M301.8 16.2L294.2 17.2M301.8 16.2L307.8 23M301.8 16.2L296.3 26M301.8 16.2L247.5 14.8M301.8 16.2L305.4 18.7M252 37L236.2 27.3M301.8 16.2L268.1 10.3M301.8 16.2L302.4 15.1M301.8 16.2L252.6 15.4M301.8 16.2L287.6 18.4M301.8 16.2L298.7 27.4M301.8 16.2L263 14.9M252 37L254.3 23.9M252 37L232.8 33.5M301.8 16.2L238.7 13M301.8 16.2L274.2 31.2M301.8 16.2L313.1 24.8M252 37L248.2 23.3M301.8 16.2L311.6 25.6M301.8 16.2L312.5 23.9M301.8 16.2L258.4 18.9M301.8 16.2L299.5 27.3M301.8 16.2L229.9 14.7M301.8 16.2L280.6 35M301.8 16.2L307.7 8.9M301.8 16.2L288.3 20.5M301.8 16.2L273.6 35.1M301.8 16.2L306.1 19.2M301.8 16.2L305.6 18.9M301.8 16.2L293.3 9.2M301.8 16.2L257.9 16.4M301.8 16.2L311.1 19.6M301.8 16.2L312.4 20.4M301.8 16.2L312.3 36.2M301.8 16.2L263.8 9M301.8 16.2L316.4 29.2M301.8 16.2L273 8.2M301.8 16.2L320.5 33.9M301.8 16.2L301.8 14.1M301.8 16.2L248.3 9.5M252 37L240.4 26.6M301.8 16.2L294.7 28.3M301.8 16.2L249.5 12.4M252 37L255.1 30.3M252 37L251.1 36.6M301.8 16.2L250.4 14.2M301.8 16.2L303.4 22.4M252 37L240.6 33.4M301.8 16.2L303.5 22.4M301.8 16.2L269.2 13.8M252 37L241.1 30.4M301.8 16.2L266 14.2M301.8 16.2L301.6 11.8M301.8 16.2L279.1 30.3M301.8 16.2L286.9 21.1M301.8 16.2L261.4 11.8M301.8 16.2L299.6 32.2M301.8 16.2L320.6 35.1M301.8 16.2L249.2 15.3M301.8 16.2L247.6 6.8M301.8 16.2L220.6 15.8M301.8 16.2L269.7 18.9M301.8 16.2L315.9 20.8M301.8 16.2L305.6 14.6M301.8 16.2L290 11.9M301.8 16.2L289.4 18.6M301.8 16.2L224.4 21M301.8 16.2L269.3 19.8M301.8 16.2L312.1 22.3M301.8 16.2L268.7 28.9M301.8 16.2L297.5 27M301.8 16.2L272.8 19.2M301.8 16.2L255.4 9.6M301.8 16.2L273.8 19.8M252 37L231 25.6M301.8 16.2L245.8 19M301.8 16.2L238.5 12.9M301.8 16.2L315.4 35.9M301.8 16.2L297.6 22.1M301.8 16.2L284.5 18.5M301.8 16.2L307.5 22.5M301.8 16.2L268.8 30.5M301.8 16.2L306 39.6M252 37L250.3 21.6M301.8 16.2L264.7 26.1M301.8 16.2L260.8 21.1M301.8 16.2L301.4 10.8M301.8 16.2L307.5 31.8M301.8 16.2L276.6 32.7M301.8 16.2L271 30.6M301.8 16.2L220.8 16.2M301.8 16.2L264.5 37.6M301.8 16.2L315.9 30.8M301.8 16.2L301.3 29.6M301.8 16.2L239.8 6.5M252 37L247.6 32.1M301.8 16.2L317.8 29.8M301.8 16.2L262.2 30.1M301.8 16.2L290.9 20.1M301.8 16.2L321.3 35M301.8 16.2L287.2 29.7M252 37L240.6 23.7" stroke="#50f888" stroke-width="1" stroke-opacity="0.8" stroke-linecap="round" fill="none"/><path d="M301.8 16.2L293 19.6M301.8 16.2L263.6 29.9M301.8 16.2L266.7 16M252 37L256.7 28.7M301.8 16.2L297 32M301.8 16.2L287.7 23.9M301.8 16.2L266 19.3M301.8 16.2L287.3 29.7M252 37L238.4 27.6M252 37L253.5 35.8M301.8 16.2L314.1 17.1M301.8 16.2L303.1 24M301.8 16.2L298.7 19.4M301.8 16.2L303.4 23.4M301.8 16.2L280.5 22.8M301.8 16.2L289.4 9.6M301.8 16.2L317.6 30.1M301.8 16.2L309.8 18.8M301.8 16.2L315 29.9M252 37L243.4 31.3M301.8 16.2L262.1 36.1M301.8 16.2L317.5 20.2M301.8 16.2L233.6 9.7M252 37L225.7 30.1M301.8 16.2L288.6 9.3M301.8 16.2L309.6 22.9M301.8 16.2L296.8 18.7M252 37L242.8 31M301.8 16.2L244.5 11.7M301.8 16.2L304.4 28.4M301.8 16.2L304.3 26.5M301.8 16.2L246.6 21.5M301.8 16.2L313.7 36.8M252 37L252.3 29.8M252 37L238.1 34.6M301.8 16.2L296.7 20.6M301.8 16.2L295.3 21.9M252 37L221.2 20.7M301.8 16.2L285.2 24.6M252 37L233.5 35.5M301.8 16.2L268.8 30.1M301.8 16.2L251.1 13.7M301.8 16.2L241.4 9.6M301.8 16.2L289 18.4M301.8 16.2L283.3 26.9M301.8 16.2L303.5 22.1M301.8 16.2L303.8 22.2M301.8 16.2L274.1 7.1M301.8 16.2L284.1 28.4M301.8 16.2L239.2 10.3M301.8 16.2L232.9 10.4M301.8 16.2L312.3 23.2M301.8 16.2L300.3 32.4M252 37L230.2 26.5M301.8 16.2L299.3 36.4M301.8 16.2L275.1 22.3M252 37L244.6 25M301.8 16.2L287.8 8.3M301.8 16.2L263 37.2M301.8 16.2L271.5 23.6M301.8 16.2L316.7 24.4M301.8 16.2L288.9 11.2M301.8 16.2L260.4 20.9M301.8 16.2L302.7 19.1M301.8 16.2L288.3 19M252 37L233.1 27.2M301.8 16.2L301.5 29.6M301.8 16.2L319.4 33.8M301.8 16.2L258.2 13.3M301.8 16.2L262.3 16.7M301.8 16.2L301.4 33.1M252 37L244.1 32.5M252 37L253.3 23.8M252 37L250.8 36.5M301.8 16.2L297.3 10.3M301.8 16.2L236.4 12.7M301.8 16.2L265.5 25.4M301.8 16.2L310.8 31.7M301.8 16.2L288.3 29.7M301.8 16.2L274.8 37.5M301.8 16.2L247 22.2M301.8 16.2L282.8 36.1M301.8 16.2L292.6 24.1M301.8 16.2L312.8 24.7M301.8 16.2L294.1 33.6M301.8 16.2L285.8 17M301.8 16.2L258.4 13.5M301.8 16.2L316.2 30.1M301.8 16.2L250.7 19.3M301.8 16.2L261.8 24.5M301.8 16.2L316.2 31.8M301.8 16.2L235.5 19.2M301.8 16.2L276.7 10.3M301.8 16.2L278.3 17.8M301.8 16.2L309.8 28.7M301.8 16.2L265.5 14.3M301.8 16.2L282.2 20.8M301.8 16.2L309.3 34.2M301.8 16.2L317 33.3M301.8 16.2L304.2 22.1M301.8 16.2L227.1 12.5M301.8 16.2L270.4 8.3M301.8 16.2L303 27M301.8 16.2L298.5 14.7M301.8 16.2L275.3 17.7M252 37L250.4 25.8M301.8 16.2L289.9 19.9M301.8 16.2L294.4 34.2M301.8 16.2L242.3 19.6M301.8 16.2L298.2 26.9M301.8 16.2L274.8 13.5M301.8 16.2L296.9 27.8M301.8 16.2L314.1 31.9M301.8 16.2L269.5 36.4M301.8 16.2L264.2 12.4M301.8 16.2L308.7 16.7M301.8 16.2L242.7 13.1M301.8 16.2L316.1 38.8M301.8 16.2L285.7 34.6M301.8 16.2L311.1 23.4M301.8 16.2L310.2 17.8M301.8 16.2L276.9 9.9M301.8 16.2L269.6 11.9M252 37L225.5 34.6M301.8 16.2L255.1 19.1M252 37L233.9 33.1M301.8 16.2L281.7 35M301.8 16.2L233.1 19M301.8 16.2L278.5 28.3M301.8 16.2L269.5 14.6M301.8 16.2L303 28.1M252 37L244.7 32.2M301.8 16.2L293.9 16.6M301.8 16.2L290.8 16.9M252 37L244.4 22.3M252 37L232.9 36.6M301.8 16.2L256.2 10.1M301.8 16.2L282.9 25.2M301.8 16.2L311.2 15.2M301.8 16.2L295.7 9.5M301.8 16.2L243.2 15.7M301.8 16.2L263.9 16.5M301.8 16.2L259.5 11.7M301.8 16.2L314.8 17.3M301.8 16.2L314.8 24.3M252 37L239.9 23.8M301.8 16.2L263.3 7.2M252 37L253.7 27.2M252 37L237 32.3" stroke="#50f888" stroke-width="0.8" stroke-opacity="0.8" stroke-linecap="round" fill="none"/><path d="M301.8 16.2L257.9 7.7M252 37L248.3 30.7M252 37L242.6 29.6M301.8 16.2L286.9 35.8M301.8 16.2L309.6 27.9M301.8 16.2L270.7 27M301.8 16.2L308.7 35.8M301.8 16.2L308.8 37.6M301.8 16.2L269.7 27.7M252 37L235.3 26.8M301.8 16.2L256.1 7.2M301.8 16.2L310.5 30.6M301.8 16.2L260.8 12.3M301.8 16.2L260 33.7M301.8 16.2L321.8 26.5M301.8 16.2L234 10.1M301.8 16.2L258.2 15.2M252 37L252.3 21.2M301.8 16.2L312 33.1M301.8 16.2L278 23.6M301.8 16.2L264.7 14.7M301.8 16.2L260.6 14.5M252 37L224.5 29.9M301.8 16.2L310.3 23.9M301.8 16.2L317.5 29.1M252 37L236 36.7M301.8 16.2L293.5 9.6M301.8 16.2L311.7 12M252 37L226.3 31.2M301.8 16.2L284 27M252 37L220.7 27.9M301.8 16.2L291.6 14.3M301.8 16.2L233.1 9.3M301.8 16.2L244.3 15M301.8 16.2L223.7 20.8M301.8 16.2L261.8 30.9M301.8 16.2L278.5 36.2M301.8 16.2L266.5 9.9M301.8 16.2L319.8 37.7M252 37L236.1 27.9M301.8 16.2L286.7 15.2M301.8 16.2L291.7 7.5M301.8 16.2L287.2 33.9M301.8 16.2L220.3 18.9M301.8 16.2L306.2 12.1M252 37L242.8 29.4M301.8 16.2L302 28.7M301.8 16.2L285.2 28.9M301.8 16.2L295.4 30.3M301.8 16.2L296.1 28.7M301.8 16.2L241.9 20.4M301.8 16.2L304 18.6M252 37L241.6 30.6M301.8 16.2L310.9 19.5M301.8 16.2L237.1 19M301.8 16.2L277 32.7M301.8 16.2L306.2 31.9M301.8 16.2L311.9 34.7M301.8 16.2L306.8 28.9M301.8 16.2L306.1 28M301.8 16.2L303.4 18.2M301.8 16.2L313.2 19.4M301.8 16.2L314.3 19.2M252 37L243.8 33.7M301.8 16.2L264.1 8.4M301.8 16.2L291.9 24.6M301.8 16.2L290.4 23.7M301.8 16.2L303 23.4M252 37L235.8 26.4M301.8 16.2L235 11.7M301.8 16.2L268.1 36.3M301.8 16.2L262.8 28.4M252 37L256.4 31.6M301.8 16.2L307.3 32.3M301.8 16.2L311.5 22.1M301.8 16.2L297.6 15.6M301.8 16.2L276 22.9M301.8 16.2L312.7 20.4M301.8 16.2L243.9 8.3M301.8 16.2L280.3 33.3M301.8 16.2L288.4 8.9M301.8 16.2L290.9 25.8M301.8 16.2L316.1 38.6M301.8 16.2L299.1 14.8M301.8 16.2L313.4 33M301.8 16.2L314.2 32.5M301.8 16.2L275.5 17.3M301.8 16.2L280.2 21.6M301.8 16.2L262.7 18.4M301.8 16.2L217.6 9.2M301.8 16.2L300.1 20.1M301.8 16.2L226.1 13.2M301.8 16.2L266.7 27.2M301.8 16.2L261.2 20.9M301.8 16.2L305.9 17.5M301.8 16.2L306.2 17.6M301.8 16.2L282.9 22.2M301.8 16.2L283.7 30.2M301.8 16.2L303 26.1M301.8 16.2L307.7 31.1M301.8 16.2L291 21.8M301.8 16.2L289.7 31.1M301.8 16.2L261.5 18.2" stroke="#00ff00" stroke-width="1" stroke-opacity="0.9" stroke-linecap="round" fill="none"/></g></g><clipPath id="cb01"><polygon points="251,77 222.5,77 222,70 225.7,65 222,60 222,50 225.7,44 225.7,38 225.5,37 251,37"/></clipPath><g clip-path="url(#cb01)"><g filter="url(#bl)"><path d="M251 40L228.1 67.4M251 40L231.9 50.3M251 40L227.1 55.7M251 40L221.9 80.5M251 40L241.2 60.8M251 40L243.2 48.4M251 40L224 54.4M251 40L242.9 60.9M251 40L235.7 42.4M251 40L246.4 77M251 40L242.7 50.2M251 40L220.7 48.6M251 40L238.3 57.7M251 40L241.8 60.7M251 40L236.7 52.1M251 40L230.1 45.9M251 40L239.6 66.8M251 40L224.5 49M251 40L234.4 78.9M251 40L224.5 78.6M251 40L243.4 44M251 40L239.1 65.3M251 40L235.1 74.2M251 40L237.6 69.7M251 40L248.2 52.8M251 40L243.6 50.5M251 40L230.7 45.2M251 40L226.2 65.7M251 40L231.1 44.4M251 40L247.3 50.1M251 40L249.9 75.5M251 40L229.8 77.3M251 40L249.9 67.5M251 40L241.3 75.8M251 40L234.5 62.9M251 40L242.8 47.2M251 40L221.2 79.9M251 40L224.8 48.3M251 40L235.6 53.4M251 40L240.3 41.4M251 40L231.8 74.5M251 40L233.9 37.6" stroke="#50f888" stroke-width="0.8" stroke-opacity="0.8" stroke-linecap="round" fill="none"/><path d="M251 40L236.7 48.8M251 40L249.9 43.2M251 40L245.7 50.4M251 40L250.2 62.4M251 40L246.7 65.6M251 40L233.9 69.5M251 40L235.5 52.4M251 40L221.9 52.5M251 40L227.3 81M251 40L227.5 38.2M251 40L240.5 46.6M251 40L244.9 69.2M251 40L223.1 78.6M251 40L221.9 50.1M251 40L248.1 37.6M251 40L231.4 76M251 40L245.2 64.4M251 40L251 72.1M251 40L249.8 76.4M251 40L247.2 56.4M251 40L234.6 61.5M251 40L242.7 68.2M251 40L243.4 51.9M251 40L240.2 57.2M251 40L249.7 75M251 40L227.5 51.2M251 40L231.6 49.2M251 40L244.1 73.9M251 40L238.4 63.1M251 40L250.9 49.2M251 40L245.6 54M251 40L237.4 43.6M251 40L248.2 49.4M251 40L242.4 70.2" stroke="#20f860" stroke-width="0.8" stroke-opacity="0.8" stroke-linecap="round" fill="none"/><path d="M251 40L243 50M251 40L235.3 43.5M251 40L242.1 50.3M251 40L235.8 50.6M251 40L248.9 50.1M251 40L249.8 52.4M251 40L224.1 47M251 40L233.9 69M251 40L240.1 41.5M251 40L226.1 70M251 40L240.4 56M251 40L248.6 43.5M251 40L250.8 46.9M251 40L250.1 48.8M251 40L247.2 46.9M251 40L232.8 41.6M251 40L239.6 72M251 40L246.9 61.3M251 40L223.8 75.1M251 40L244.5 42.8M251 40L242.3 40.3M251 40L247.9 72.4M251 40L250.7 45.9M251 40L236.8 47.9M251 40L246.2 39.7M251 40L232.9 70.8M251 40L247.8 62.9M251 40L226.6 62.3M251 40L238 43.8M251 40L246.7 57.2M251 40L228.7 51.9M251 40L247.4 62.7M251 40L239.8 75.1M251 40L237.2 68M251 40L242.2 62.5M251 40L240.7 57M251 40L249 61.8M251 40L234.2 43.9" stroke="#00ff00" stroke-width="1" stroke-opacity="0.9" stroke-linecap="round" fill="none"/><path d="M251 40L236.8 64.8M251 40L232.4 58.3M251 40L226.3 57.4M251 40L231.2 67M251 40L238.3 44.7M251 40L239.5 47.8M251 40L239.8 72.6M251 40L242.3 49.4M251 40L238.3 66M251 40L238.8 46.5M251 40L249.2 51.2M251 40L250 50.8M251 40L237.5 45.1M251 40L244.1 66.5M251 40L249 72.1M251 40L223.9 60.2M251 40L244.3 65.7M251 40L224.7 72.3M251 40L234.9 62.8M251 40L249.1 71.4M251 40L249.9 40.2M251 40L243.6 45.5M251 40L230.8 63.1M251 40L248.1 49.5M251 40L236.6 67.8M251 40L221.6 72.2M251 40L240.4 60.4M251 40L232.8 67.5M251 40L239.5 72.6M251 40L243.2 75.6M251 40L244.3 74M251 40L233.5 54.8M251 40L235.5 49.6M251 40L235.2 49.2M251 40L222.8 58M251 40L236.9 61.1M251 40L248.9 52.1M251 40L228.2 49.1M251 40L240.1 47M251 40L224.4 70.8" stroke="#20f860" stroke-width="1" stroke-opacity="0.8" stroke-linecap="round" fill="none"/><path d="M251 40L229.3 71M251 40L224.9 42.4M251 40L230.3 41.3M251 40L238.5 61M251 40L223.3 46.1M251 40L239 43.7M251 40L224.1 41M251 40L235.1 50.2M251 40L249.8 68M251 40L241.4 45M251 40L229.6 62.9M251 40L234.9 54.2M251 40L240.3 45M251 40L231 55.1M251 40L230 47.7M251 40L227 36.9M251 40L232.3 66.7M251 40L242 63.8M251 40L250.4 48.1M251 40L231.4 58.1M251 40L246.5 58.2M251 40L238.4 71.5M251 40L228.9 62.5M251 40L239.8 59.4M251 40L242.7 53M251 40L220.1 62.7M251 40L232.3 43.8M251 40L234 64.4M251 40L243.2 65M251 40L238.1 65.3M251 40L245.8 46M251 40L241.6 57.1M251 40L235.9 74.3M251 40L228.9 44.9M251 40L243.9 42.3M251 40L231.3 43.8M251 40L231.7 50.3M251 40L245.4 58.9M251 40L248.1 37.4M251 40L226.6 56.5M251 40L219.7 54M251 40L232.4 48.2M251 40L233.2 48.2M251 40L225.3 57.8M251 40L231.1 71.5M251 40L245.1 75" stroke="#20f860" stroke-width="0.5" stroke-opacity="0.8" stroke-linecap="round" fill="none"/><path d="M251 40L248 72.7M251 40L233 63.7M251 40L232.5 74.6M251 40L223.9 49M251 40L243.1 44.5M251 40L234.3 68.7M251 40L231 52.9M251 40L244.6 50.8M251 40L246.2 62.1M251 40L248.8 59.4M251 40L248 54.8M251 40L250 38.6M251 40L242.6 70.1M251 40L245.7 60.8M251 40L235.8 50.4M251 40L241.1 62.1M251 40L224.9 73.9M251 40L232.2 68.1M251 40L234.5 51.9M251 40L240.1 73.7M251 40L244.6 63.9M251 40L250.3 76.8M251 40L220.5 59.1M251 40L229.6 70.9M251 40L224 75.2M251 40L227.8 54.8M251 40L241.6 47.8M251 40L236.1 70.3M251 40L226.7 66.1M251 40L235.6 58.2M251 40L249.7 64.8M251 40L224.4 68M251 40L240.3 56M251 40L241.1 54.7M251 40L227.3 63.7M251 40L236 56.2M251 40L230.8 53M251 40L226 76.8M251 40L238.5 66.2M251 40L238.9 39.2M251 40L249.1 75M251 40L240.3 61.9M251 40L249.3 62.5M251 40L248.1 42.2M251 40L234.1 54.4M251 40L248 55.7M251 40L247.5 46.1M251 40L233.9 53.3M251 40L244 77.4M251 40L233.2 42M251 40L223.5 50M251 40L230.6 50.9M251 40L226.8 71.1M251 40L231.1 69.4M251 40L224.4 65.5M251 40L238.1 50.3" stroke="#50f888" stroke-width="1" stroke-opacity="0.8" stroke-linecap="round" fill="none"/><path d="M251 40L242.4 75.9M251 40L246.1 76.8M251 40L249.8 51.8M251 40L244.9 53.8M251 40L228.1 64.1M251 40L238.1 63.2M251 40L244.5 39.6M251 40L248.6 61.2M251 40L238 66M251 40L240.5 67.5M251 40L240.1 59.2M251 40L249.8 39.9M251 40L239.4 71.4M251 40L228.4 76.4M251 40L228 71.4M251 40L249.1 51.9M251 40L227.6 56.8M251 40L239.8 56.4M251 40L232.7 68.1M251 40L248.9 57.7M251 40L225.6 75.2M251 40L234.6 61.1M251 40L225.1 56.3M251 40L222.2 57.1M251 40L234.4 64.3M251 40L237.3 65.5M251 40L228.3 50.9M251 40L231.9 43.2M251 40L231.4 58.7M251 40L247.2 75.5M251 40L235.8 60.7M251 40L244.3 63.7M251 40L240.3 44.9M251 40L249.4 44.3M251 40L245.5 70.8M251 40L246.9 58.7M251 40L248.5 55M251 40L231.7 41.4M251 40L232.1 38.4M251 40L231.3 55.5M251 40L228.4 69.9M251 40L246.6 60.9M251 40L241.3 71.7M251 40L248.9 48.7M251 40L231.9 68.2M251 40L234.5 69.3" stroke="#00ff00" stroke-width="0.5" stroke-opacity="0.9" stroke-linecap="round" fill="none"/><path d="M251 40L225.5 55.4M251 40L226.9 63.8M251 40L226.8 70.1M251 40L235.5 43.6M251 40L228.8 78.3M251 40L238.4 45.1M251 40L222.1 55.1M251 40L249.7 65.9M251 40L244.2 49.3M251 40L230.9 39.2M251 40L249.1 59.8M251 40L247.2 40M251 40L241.5 63.4M251 40L244.1 57.1M251 40L237.8 50.5M251 40L225.1 49.7M251 40L240.6 47.1M251 40L240.3 45.9M251 40L228.6 72.2M251 40L237 43M251 40L248 75.4M251 40L237.8 44.6M251 40L236.8 45.4M251 40L227.7 61.6M251 40L233.8 40.7M251 40L243.4 41.1M251 40L237.4 59.8M251 40L239.3 64.9M251 40L240.6 82.1M251 40L232.7 79.2M251 40L229.5 73.5M251 40L230.8 68" stroke="#50f888" stroke-width="0.5" stroke-opacity="0.8" stroke-linecap="round" fill="none"/><path d="M251 40L233.7 68.3M251 40L237.4 40.1M251 40L249 62.6M251 40L230.9 55.5M251 40L230.6 69.2M251 40L241.2 40.2M251 40L245.1 46.1M251 40L230.2 51.7M251 40L240.6 65.7M251 40L230.5 72.2M251 40L239.1 72.3M251 40L250.1 68.8M251 40L227.5 50.5M251 40L240.3 44.6M251 40L227.6 69.1M251 40L240.7 65.8M251 40L227.3 60.2M251 40L237.4 49.3M251 40L244.1 65.2M251 40L235.8 70.9M251 40L228.3 45.2M251 40L229.8 69.2M251 40L241.6 69.1M251 40L233.9 71.7M251 40L238.2 55.7M251 40L235 47.7M251 40L228.4 56.4M251 40L235.3 41.4M251 40L236 44.2M251 40L227.4 68.2M251 40L241.4 56.8M251 40L232.7 46.1M251 40L226.3 48.8M251 40L227.6 56.9M251 40L247.6 59.6M251 40L225.7 72.5M251 40L246.7 67M251 40L241.3 66.5M251 40L233.7 76.4M251 40L239.2 40" stroke="#00ff00" stroke-width="0.8" stroke-opacity="0.9" stroke-linecap="round" fill="none"/></g></g><clipPath id="cb02"><polygon points="278,77 251,77 251,37 278,37"/></clipPath><g clip-path="url(#cb02)"><g filter="url(#bl)"><polygon points="278,77 251,77 251,37 278,37" fill="#a0f8b4"/><path d="M258.2 55.3L260.6 60M254.2 70L257.7 80.4M261.1 42.9L270.5 47.2M259.2 55.2L264.5 65.9M262.2 47.2L274.1 52.6M266 48.5L278.8 53.7M263.1 60.1L272.7 72.6M271.5 46.6L284 52.8" stroke="#20f060" stroke-width="1" stroke-opacity="0.6" stroke-linecap="round" fill="none"/><path d="M262.6 46.4L272.4 49.9M250.7 41.6L263 47.3M269.8 39.5L277.2 38.5M255.5 45.7L259.2 50.4M260 39.1L270 39.3" stroke="#20f060" stroke-width="0.4" stroke-opacity="0.6" stroke-linecap="round" fill="none"/><path d="M256.6 44.9L267.1 53.3M270.5 72.8L272.6 77.4M266.4 39.8L281.4 42.7M251 64.6L251.4 76.2M266.9 47.7L280.4 54.3M252.9 44.9L254.2 55.3" stroke="#00ff00" stroke-width="0.4" stroke-opacity="0.6" stroke-linecap="round" fill="none"/><path d="M255.3 42.6L268 41.8M269.8 69.3L275.1 75.7M271 56.6L277.6 66.3M268.5 44L277.2 45.2M254.3 46.3L257.1 51.6M264.9 42.9L276 45.4M258.6 39.3L265.6 36.3M254.4 60.2L256.1 75.6" stroke="#00ff00" stroke-width="0.7" stroke-opacity="0.8" stroke-linecap="round" fill="none"/><path d="M270.9 65.2L276.2 70.2M253 42.5L265.1 38.9M246.7 46.4L256.8 34.2M262.3 40.5L269.3 40.4M258.3 74.1L259.5 79.6M253.7 67.6L254.7 82.7M256.6 48.3L266.1 56.2M266.7 62.5L272.2 70.6" stroke="#00ff00" stroke-width="1" stroke-opacity="1" stroke-linecap="round" fill="none"/><path d="M261.1 51.4L271.4 63.4M256.5 46.9L261.6 57.5M252.3 73.8L253 80M270 43.4L281.8 45" stroke="#ffffff" stroke-width="1" stroke-opacity="0.8" stroke-linecap="round" fill="none"/><path d="M253.2 73.2L254.5 78.3M265.5 66.4L270.3 78.4M268.7 53.8L278.7 63.8M251 40.9L258.9 43.2M253.9 45.6L258.5 57.2M256.7 42.4L271.9 41M265.3 68.1L267.7 74.6" stroke="#ffffff" stroke-width="0.7" stroke-opacity="0.8" stroke-linecap="round" fill="none"/><path d="M255.1 42.3L261.7 42.8M255.9 50.5L262.2 63.6M264.9 42.4L276.1 43.5M253.8 64.9L255 75.8M271.6 73.7L274.4 79.8M270.8 49.5L279.8 53.3" stroke="#20f060" stroke-width="0.7" stroke-opacity="0.6" stroke-linecap="round" fill="none"/><path d="M270.9 54.1L284.2 60.3M251.6 49.6L251.7 54.6M261.6 41.5L268.8 41.3M262 42.3L268.9 41.8M265.2 41.4L271.5 41.1" stroke="#00ff00" stroke-width="0.7" stroke-opacity="1" stroke-linecap="round" fill="none"/><path d="M252.4 52.9L252.6 60.8M252.9 69.1L252.2 78.9M250 42.3L260.5 39.3M271.8 63.4L276.8 68.7M272.1 41.1L283.4 40.8" stroke="#20f060" stroke-width="1" stroke-opacity="0.8" stroke-linecap="round" fill="none"/><path d="M259 44.7L268.9 48.4M270.3 46.1L284.6 48.5M258.4 45.7L267.8 51.7M252.3 63.6L254.4 77.3M271.3 66.3L274.7 70.3M257.5 41.9L270 44.9" stroke="#00ff00" stroke-width="0.7" stroke-opacity="0.6" stroke-linecap="round" fill="none"/><path d="M254.6 48.3L261.6 59.9M257.4 41.4L263.6 41.5M274.1 57.5L281.4 61.7M262.4 41.5L276.1 40.3M253.7 50.9L258.5 62.8M266.8 68.7L274.7 79.6" stroke="#ffffff" stroke-width="0.4" stroke-opacity="0.6" stroke-linecap="round" fill="none"/><path d="M255.7 40.7L269.5 40.2M266.6 51.6L275.2 57.2M258.5 68.9L261.5 77.2M275 41.5L280.5 42.1" stroke="#20f060" stroke-width="0.7" stroke-opacity="0.8" stroke-linecap="round" fill="none"/><path d="M249 39.3L255.7 49.5M259.2 42.8L270.7 45.5M257 38.5L264.7 36.3M271.9 46.7L277.5 48.3M272.5 62.5L279.1 70.5M266.2 68.4L270.6 74.9" stroke="#00ff00" stroke-width="0.7" stroke-opacity="0.8" stroke-linecap="round" fill="none"/><path d="M267.3 57.5L275.7 63.9M261.9 39.7L269.7 37.3M266.7 62.3L270.1 66.8M273 58.6L280 62.6M262.5 58.8L266.3 63M260 53.8L263.3 60" stroke="#00ff00" stroke-width="0.7" stroke-opacity="1" stroke-linecap="round" fill="none"/><path d="M259.9 60.7L263.2 69.7M261 63L265.7 78.2M250.4 39.9L261 46M267.5 46.3L275.8 49.3M251.5 71.1L251.9 77M270.7 73.4L274.6 79.7" stroke="#00ff00" stroke-width="0.4" stroke-opacity="0.8" stroke-linecap="round" fill="none"/><path d="M259.2 65L265.2 77.8M253.8 55.4L254.9 62.7M257 65.5L260.2 78M272.7 72.8L277.4 79.3M260.9 49.1L267.7 55.1M265.6 51.1L274.7 57.1M261.1 39.2L276.2 38.5M257.3 69L261.1 80.1M256.4 44L263.8 56.6M273.2 43.7L281.6 44.1M270 44.1L283.7 47.2M257.5 43.2L263.2 46.3M253.9 39.9L268.4 44.8" stroke="#ffffff" stroke-width="1" stroke-opacity="1" stroke-linecap="round" fill="none"/><path d="M254.8 56.2L256 71.8M266.1 50.3L276.9 60.7M263.4 62.9L270.4 76.2M255.1 50.2L258.3 54.8" stroke="#ffffff" stroke-width="0.4" stroke-opacity="1" stroke-linecap="round" fill="none"/><path d="M255.4 68.5L257.9 78.5M269.7 41.9L279.6 41.1M260.7 46.6L273.7 53.1M268.1 71.1L272.7 81.4M263.1 42.3L268 43.5M270.4 38.8L277.7 39" stroke="#20f060" stroke-width="1" stroke-opacity="1" stroke-linecap="round" fill="none"/><path d="M253.1 70L252.9 76.2M255.6 61.3L256.6 67.5M256.5 45.6L269.3 50.9M268.5 62.2L277.5 70.4M260.4 49.6L267.9 55.2" stroke="#00ff00" stroke-width="0.4" stroke-opacity="1" stroke-linecap="round" fill="none"/><path d="M266.2 72.9L270.1 78.3M251.5 43.2L252 49.1M265.7 42.6L273.6 43.3M268.8 46.8L277.5 47.9M256.3 67.3L260 80.1" stroke="#ffffff" stroke-width="0.4" stroke-opacity="0.8" stroke-linecap="round" fill="none"/><path d="M264 54.3L270.5 62.5M264.1 42.5L277.8 45.5M271.5 40.1L283.2 38.8" stroke="#00ff00" stroke-width="1" stroke-opacity="0.8" stroke-linecap="round" fill="none"/><path d="M254.9 50.5L257.6 55.1M252.2 42.7L254 51.4" stroke="#ffffff" stroke-width="0.7" stroke-opacity="0.6" stroke-linecap="round" fill="none"/><path d="M271.6 64.2L278.6 71.6M273.9 73.7L279.3 79.8M263.5 69.4L265.4 82.2M264.9 58.2L273.5 69.2M261.5 49.8L270.7 56.8M261.4 67.5L265.4 75.9M261.4 46.2L270.8 53.9M271.6 67.5L279.5 79.3M263.6 38.4L270.1 38" stroke="#00ff00" stroke-width="1" stroke-opacity="0.6" stroke-linecap="round" fill="none"/><path d="M264.6 68.5L270.9 81.2M274.7 41.8L280.6 41.5" stroke="#ffffff" stroke-width="0.7" stroke-opacity="1" stroke-linecap="round" fill="none"/><path d="M274.7 63.4L279.1 66.9" stroke="#00ff00" stroke-width="1" stroke-opacity="1" stroke-linecap="round" fill="none"/><path d="M252.8 45.4L256.5 52.6M261 55.4L266.6 62.7M260.9 48.9L268.4 53.9" stroke="#20f060" stroke-width="0.7" stroke-opacity="1" stroke-linecap="round" fill="none"/><path d="M260.7 59.5L268.9 70.5M267.1 70.6L272 80.1" stroke="#ffffff" stroke-width="1" stroke-opacity="0.6" stroke-linecap="round" fill="none"/><path d="M257.6 71.3L261.1 79.7M260.4 57.8L266.8 67.1M261.6 56.1L266.2 66.7M260 46.5L270.3 50.3" stroke="#00ff00" stroke-width="0.4" stroke-opacity="0.8" stroke-linecap="round" fill="none"/><path d="M266.2 38.9L271.9 39.1M254.9 43L261.4 45.5" stroke="#00ff00" stroke-width="0.4" stroke-opacity="0.6" stroke-linecap="round" fill="none"/><path d="M267.6 68.9L274.1 77.8M258.9 69.4L261.3 76.4M271.1 44.9L283.8 47.9" stroke="#00ff00" stroke-width="1" stroke-opacity="0.8" stroke-linecap="round" fill="none"/><path d="M274.1 48L281.5 49.9M269.5 65.8L279.1 75.5M254.5 57.3L256.4 70.9" stroke="#20f060" stroke-width="0.4" stroke-opacity="1" stroke-linecap="round" fill="none"/><path d="M253.7 43.6L257.4 47.3M254.6 46.7L257.3 52.5M260.7 53.6L270.3 62.8M274.4 59.3L278.9 62.7" stroke="#00ff00" stroke-width="0.4" stroke-opacity="1" stroke-linecap="round" fill="none"/><path d="M275.2 53.8L279.9 56.3M261.7 46.1L266.5 47.8" stroke="#00ff00" stroke-width="0.7" stroke-opacity="0.6" stroke-linecap="round" fill="none"/><path d="M251.3 40.5L256.4 37.4M256.6 41.7L267.8 40.4" stroke="#00ff00" stroke-width="1" stroke-opacity="0.6" stroke-linecap="round" fill="none"/><path d="M252.7 41.1L260.8 41.7" stroke="#20f060" stroke-width="0.4" stroke-opacity="0.8" stroke-linecap="round" fill="none"/></g></g><clipPath id="cb03"><polygon points="322,37 322,37 290,38 286,52 288,60 296,56 305,50.5 312.6,46.7 315,52 317.6,64.8 316,70 318,75 318.2,77 292,77 292,77 278,77 278,37"/></clipPath><g clip-path="url(#cb03)"><g filter="url(#bl)"><path d="M274 68L310.1 75.4M274 68L278.5 48.2M274 68L278.4 47.7M274 68L302.2 59.3M274 68L288 66.1M274 68L285.3 58.5M274 68L294.5 62.3M274 68L284 55.2M274 68L305.6 53.8M274 68L306.6 61.4M274 68L285 43M274 68L315.2 51.9M274 68L280.5 69.3M274 68L300.6 66.7M274 68L307.8 75.1M274 68L282.9 39M274 68L306.2 70.8M274 68L310.8 60.2M274 68L282.9 73M274 68L315.9 64.9M274 68L310.6 67.5M274 68L279.4 55.2M274 68L284.5 49.6M274 68L310 63.8M274 68L321.5 61.6M274 68L293.7 75.8M274 68L284.9 56.8M274 68L310.1 59.3M274 68L279.5 51.1M274 68L290.2 73.3M274 68L310.7 57.5M274 68L280.8 61.7M274 68L286.2 43.2M274 68L278.9 63.5M274 68L292.6 58.8M274 68L299.1 71.9M274 68L293.7 69.4" stroke="#20f860" stroke-width="1" stroke-opacity="0.8" stroke-linecap="round" fill="none"/><path d="M274 68L307.4 73.7M274 68L312.2 65.1M274 68L287.1 58.5M274 68L307.3 59.4M274 68L283.4 57.1M274 68L283.9 65.8M274 68L286.3 58.4M274 68L284.9 59.9M274 68L285.9 74M274 68L280.5 61.9M274 68L278.6 49.3M274 68L288.3 37.4M274 68L279.2 44.9M274 68L289.9 74.4M274 68L281.6 65.6M274 68L302.2 67.2M274 68L296.9 76.7M274 68L281 73.1M274 68L287.3 66M274 68L286.8 45.2M274 68L282.4 68.6M274 68L291.2 58.8M274 68L293.9 68.9M274 68L307.7 58.3M274 68L288.5 35.7M274 68L290.5 76.8M274 68L296.4 68.9M274 68L278.1 48.3M274 68L297.9 70M274 68L312 72.1M274 68L308.3 63M274 68L310.6 74.5M274 68L302.7 66.5M274 68L284.7 56.7M274 68L296.2 65M274 68L289.3 61M274 68L310.9 56.5M274 68L285.4 74.7M274 68L305.3 60.7" stroke="#00ff00" stroke-width="0.5" stroke-opacity="0.9" stroke-linecap="round" fill="none"/><path d="M274 68L292 60.5M274 68L290.6 36.3M274 68L307.7 76.2M274 68L286.9 41.1M274 68L303.8 59.5M274 68L304.4 51.6M274 68L316.4 74.8M274 68L283.8 63.8M274 68L278 64.5M274 68L284.6 60.2M274 68L297.3 71.2M274 68L300.9 65.4M274 68L292.1 58.6M274 68L303.1 71.1M274 68L291.3 70.7M274 68L280.6 42.2M274 68L301.9 76.5M274 68L285 47.5M274 68L288.1 56.9M274 68L284.3 66.9M274 68L291.6 72.9M274 68L313.5 65.3M274 68L286.8 55.4M274 68L290.1 67.8M274 68L292.3 75.8M274 68L308.7 67.2M274 68L284.1 51M274 68L285.1 68.6M274 68L310.4 59.4M274 68L280.9 44.9M274 68L279.6 67.4M274 68L311.5 66.4M274 68L304.7 75M274 68L283.1 43.1M274 68L281.2 55.3M274 68L305.6 71.3M274 68L302.9 68.6M274 68L303.7 75.8M274 68L284.3 56.8M274 68L280.1 72.4M274 68L292.5 61.6M274 68L312.3 50.5M274 68L308.4 55.3M274 68L321.1 76.7M274 68L279.9 68.3M274 68L302.8 72M274 68L294.1 72.2M274 68L305 72.2" stroke="#50f888" stroke-width="1" stroke-opacity="0.8" stroke-linecap="round" fill="none"/><path d="M274 68L300 75.1M274 68L297.8 61.5M274 68L299.5 66.6M274 68L290.9 65M274 68L291.9 67.2M274 68L308.7 49.9M274 68L292.9 59.7M274 68L308.5 73.8M274 68L287.4 59.1M274 68L298.8 57.9M274 68L305.2 62.1M274 68L285.3 65.9M274 68L299 77.7M274 68L292.4 60M274 68L304 68.5M274 68L308.5 62.5M274 68L310.9 71.8M274 68L280.1 63M274 68L309.7 58.6M274 68L320.4 69.4M274 68L308.6 65.6M274 68L296.4 41.9M274 68L308.2 55.6M274 68L280.4 73.2M274 68L279.8 40.3M274 68L279.3 44.6M274 68L294.4 74.6M274 68L309.4 56.3M274 68L288.1 52.1M274 68L307.4 56.6M274 68L289.5 64.9M274 68L285 63.3M274 68L302.3 69.1M274 68L291 66.7M274 68L291.1 71M274 68L292 60.8M274 68L286.8 55.4M274 68L303.1 54.9M274 68L281.9 57.2M274 68L298.1 65.4M274 68L316.7 61.1M274 68L296.4 71.4M274 68L304 57.4M274 68L317.9 77.2" stroke="#00ff00" stroke-width="1" stroke-opacity="0.9" stroke-linecap="round" fill="none"/><path d="M274 68L297.6 69.2M274 68L303.1 39.8M274 68L299.7 66.1M274 68L317.6 74.4M274 68L290.7 64.5M274 68L281.9 67.3M274 68L282.6 74.1M274 68L298.6 57.9M274 68L290.1 74.5M274 68L306.9 61.2M274 68L286.6 76.6M274 68L304.9 56.2M274 68L292.5 66.6M274 68L285.5 49.2M274 68L301.8 69M274 68L309.9 70.2M274 68L286.9 39.3M274 68L281 42.4M274 68L319.3 74.2M274 68L286.6 45.2M274 68L294.7 66.8M274 68L282.4 60.4M274 68L299.6 69.7M274 68L281.8 53.4M274 68L301.4 63.5M274 68L286.9 46.3M274 68L302.6 56.3M274 68L320.5 61.5M274 68L311.7 65.1M274 68L304.6 75.9M274 68L311.6 67.8M274 68L285.3 63.1M274 68L308.6 49.5M274 68L293.5 72.5M274 68L312.8 71.5M274 68L278.8 66.6M274 68L314.8 56.2M274 68L281.7 43.3M274 68L288.1 51.6M274 68L311.5 73.2M274 68L284.1 49.5M274 68L294.9 58.1M274 68L295.6 73.2M274 68L309.7 54.4" stroke="#20f860" stroke-width="0.5" stroke-opacity="0.8" stroke-linecap="round" fill="none"/><path d="M274 68L279.1 42.1M274 68L281.9 56.3M274 68L317.5 70M274 68L286.7 46.6M274 68L284.7 66.8M274 68L305.4 63M274 68L286.9 66.9M274 68L299.5 68.7M274 68L294.4 66.4M274 68L283.2 68.6M274 68L283.1 34.5M274 68L310.9 60M274 68L292.8 58.2M274 68L312 48.3M274 68L304.7 56.9M274 68L281 39.2M274 68L291.5 67.8M274 68L282.7 53.8M274 68L290 63.9M274 68L303.2 67.9M274 68L307.7 54.4M274 68L281.2 57.8M274 68L282.3 49M274 68L306.6 74.6M274 68L295 66.8M274 68L278.2 63.9M274 68L314.3 58.2M274 68L309.9 73.4M274 68L310.6 75.8M274 68L303.2 76.2M274 68L284.7 60.3M274 68L295.9 73.4M274 68L282.2 65.8M274 68L296 73.1M274 68L279 43.2M274 68L282.5 35.7M274 68L283.8 51.7M274 68L311.5 68.2M274 68L307.6 70.2M274 68L282.1 52.2M274 68L279.2 63.5M274 68L293.5 75.3M274 68L287.1 56.1M274 68L279.7 69.5" stroke="#50f888" stroke-width="0.5" stroke-opacity="0.8" stroke-linecap="round" fill="none"/><path d="M274 68L284.3 62.7M274 68L291.9 74.7M274 68L314.5 71.5M274 68L308.7 69.8M274 68L284.5 46.3M274 68L301.1 66M274 68L281.8 44.8M274 68L290.1 73.5M274 68L301.5 71.5M274 68L281.1 67M274 68L279.1 34.4M274 68L305.8 70.3M274 68L301.3 57.2M274 68L300.2 76.8M274 68L286.4 39.5M274 68L312.7 72.5M274 68L296.5 33.3M274 68L287.3 36.2M274 68L299.5 63.2M274 68L284.3 49.9M274 68L288.4 61.4M274 68L305.7 50.3M274 68L287.8 41.2M274 68L298.3 58.3M274 68L284.6 64.1M274 68L314.6 64.9M274 68L288.7 75.4M274 68L278.9 44.2M274 68L303.3 56M274 68L309.1 67.2M274 68L301.8 62M274 68L315.6 33.9M274 68L284.5 72.3M274 68L302.7 59.8M274 68L278.5 53M274 68L308.2 64.4M274 68L309.1 62.8M274 68L288.1 67.2M274 68L319.8 53.2M274 68L284.7 44.7M274 68L297.7 72.6" stroke="#50f888" stroke-width="0.8" stroke-opacity="0.8" stroke-linecap="round" fill="none"/><path d="M274 68L310.6 53.3M274 68L315.9 58.1M274 68L307.1 57.3M274 68L281.4 47.1M274 68L304.8 59.4M274 68L286.8 67.9M274 68L283.1 49.2M274 68L284 42.6M274 68L313.4 56.3M274 68L291.1 70.8M274 68L305.3 62.5M274 68L284.6 48.2M274 68L298.2 67.6M274 68L280.1 39M274 68L292.4 72.9M274 68L309.5 71.9M274 68L278.6 54.3M274 68L286 64M274 68L291.3 66.7M274 68L284.4 45.6M274 68L296.1 65.5M274 68L293.3 58.1M274 68L308.7 59.5M274 68L283.9 44.2M274 68L283 69.9M274 68L306 38.2M274 68L281.1 50.3M274 68L292.7 77.3M274 68L286 47M274 68L307.8 34.4M274 68L299.6 66.2M274 68L311.2 74.4M274 68L286.9 69.7M274 68L304 66.6M274 68L285.8 33.5M274 68L306.5 63.5M274 68L288 72.6M274 68L292.9 60.8" stroke="#20f860" stroke-width="0.8" stroke-opacity="0.8" stroke-linecap="round" fill="none"/><path d="M274 68L302.2 62.6M274 68L310.6 73.2M274 68L308.2 66.7M274 68L302.1 55.1M274 68L313.7 66.4M274 68L302.6 53.5M274 68L300.9 68.5M274 68L289 65.6M274 68L280 68.1M274 68L318.5 72.7M274 68L315.1 49.4M274 68L291.4 70.9M274 68L280.7 60.4M274 68L286.7 74.4M274 68L304.5 70.6M274 68L315.7 56M274 68L289.8 62.7M274 68L296 58.6M274 68L282 65.1M274 68L303.6 70.4M274 68L296.5 71.8M274 68L299.2 64M274 68L283.9 48.8M274 68L278.7 52.2M274 68L286.1 63.5M274 68L294.4 57.3M274 68L299.9 60.7M274 68L292.5 75.2M274 68L316.9 73.1M274 68L297.8 58.2M274 68L289.1 61.1M274 68L301.7 77.1M274 68L282.8 68.8M274 68L298.1 73.6M274 68L305.9 60.7M274 68L313.3 74.2M274 68L285.8 59.6M274 68L285.8 47.7M274 68L284 57.4" stroke="#00ff00" stroke-width="0.8" stroke-opacity="0.9" stroke-linecap="round" fill="none"/></g></g><clipPath id="cb04"><polygon points="318.2,77 318.8,85.5 317.6,98 306.4,103.5 295,104.5 281.5,105.4 275,102.9 259.3,102.9 244.4,97.9 260,96 275,94 287.7,85.5 292,79 292,77 222.5,77 222.5,77"/></clipPath><g clip-path="url(#cb04)"><g filter="url(#bl)"><path d="M292 79L251.5 102M292 79L314.1 86.5M292 79L286.9 94.5M292 79L297.7 99.5M292 79L304.4 104.4M292 79L301.4 93.7M292 79L287.5 87.6M292 79L274.2 100.6M292 79L276.5 93.7M292 79L305.2 96M292 79L289.7 90.7M292 79L290.1 94.3M292 79L277.2 99.4M292 79L288.7 92.5M292 79L306.9 93.8M292 79L305.8 90M292 79L292.7 94.3M292 79L274.6 95.3M292 79L290.8 96.8M292 79L288.9 102.4M292 79L270.6 99.5M292 79L278.1 101.7M292 79L314.2 84.2M292 79L305.6 99.5M292 79L274.5 97.4M292 79L295.1 91.6M292 79L279.3 99.7M292 79L311.7 79.4M292 79L282.9 97.8M292 79L261.1 98.3M292 79L299.5 83.9M292 79L313.3 96.3M292 79L297.2 78.1M292 79L284 95.1M292 79L300.9 105.7M292 79L313.5 85.8M292 79L312.9 79.5M292 79L318.3 85.6M292 79L290.2 86.1" stroke="#50f888" stroke-width="0.5" stroke-opacity="0.8" stroke-linecap="round" fill="none"/><path d="M292 79L315.1 93.2M292 79L295.1 88.4M292 79L259.9 103.3M292 79L290.7 85.8M292 79L280.1 108M292 79L301.1 86.3M292 79L305.1 96.5M292 79L294.1 94.9M292 79L288.5 104.6M292 79L309.7 80.8M292 79L286.5 102.7M292 79L299.8 86.8M292 79L301.4 92.3M292 79L309.7 77.4M292 79L306 90.3M292 79L294.3 98.9M292 79L316.6 78.6M292 79L268.4 93.5M292 79L247.8 97.9M292 79L298.3 96M292 79L282.8 104.4M292 79L295.1 102.5M292 79L305.2 97.8M292 79L309.2 84.4M292 79L298.3 97.1M292 79L311.9 82.6M292 79L289.8 85.5M292 79L308.6 92.1M292 79L313.9 93M292 79L278.6 98.4M292 79L308.7 91.4M292 79L312.8 95.2M292 79L302.7 81.9M292 79L308.4 97.6M292 79L277.3 103.9M292 79L312.2 102.7M292 79L275.9 95.7M292 79L276.6 95.8M292 79L305.6 86.9M292 79L303.3 98.4M292 79L306.8 100.9M292 79L292.4 96.5M292 79L302.4 82M292 79L316.6 82.8M292 79L271.3 98M292 79L285.4 105.3M292 79L297.4 99.2M292 79L297.6 79.3M292 79L314.6 79M292 79L301.8 96.8M292 79L310.1 86M292 79L292.8 102.6M292 79L299.1 84.9M292 79L293.4 88.4M292 79L305.9 93.5M292 79L289.5 101M292 79L289.3 100.7M292 79L296.2 99.3M292 79L315.1 98.2" stroke="#20f860" stroke-width="0.8" stroke-opacity="0.8" stroke-linecap="round" fill="none"/><path d="M292 79L269.2 93.3M292 79L297.8 96.1M292 79L308.5 94M292 79L291.6 91.1M292 79L309.8 84M292 79L290.2 86.8M292 79L265.7 103.8M292 79L303.8 84.2M292 79L296.4 94M292 79L311.9 80.6M292 79L268 99.6M292 79L279.6 98.4M292 79L309.7 99.2M292 79L278 100.8M292 79L315.9 86.4M292 79L260.1 98.9M292 79L302.3 98M292 79L312.8 83.2M292 79L304.3 81M292 79L309.3 87.5M292 79L320.5 81.4M292 79L277.7 97.6M292 79L300.9 79.7M292 79L307.7 92.7M292 79L307.1 92.3M292 79L286.4 101.2M292 79L257.8 102.5M292 79L300.5 98.4M292 79L301.1 99.5M292 79L261.9 95.3M292 79L302.1 92.9M292 79L269.6 100M292 79L304 78.7M292 79L253 97.9M292 79L312.4 95.5M292 79L311.3 82.3M292 79L297.9 87.4M292 79L314.6 82.2M292 79L286.4 103M292 79L300.8 101.4M292 79L307.2 83.6M292 79L292.8 95.6" stroke="#20f860" stroke-width="0.5" stroke-opacity="0.8" stroke-linecap="round" fill="none"/><path d="M292 79L255.9 96.2M292 79L306.5 101.8M292 79L285 89.6M292 79L301.8 91.2M292 79L310.2 79.3M292 79L296 78.6M292 79L311.6 88.4M292 79L285.7 88M292 79L295.1 82.9M292 79L287.5 100.1M292 79L242.2 101.9M292 79L304.4 83.3M292 79L256.3 103.1M292 79L262.9 97M292 79L257.7 98.5M292 79L262.1 102.6M292 79L285.5 98.8M292 79L305.4 93.6M292 79L292.4 100.6M292 79L290.8 98M292 79L299.1 78.7M292 79L290.3 103M292 79L286.9 95.3M292 79L273.2 97.6M292 79L306.4 101.6M292 79L304.5 102.2M292 79L302.9 98.9M292 79L280.6 104.1M292 79L299.3 88.8M292 79L307.9 101.8M292 79L285.3 88.9M292 79L307.7 100.6M292 79L297.9 97.9M292 79L307.1 100.2M292 79L285.5 102.6M292 79L317.5 97.3M292 79L262 97.5M292 79L301.1 100.6" stroke="#00ff00" stroke-width="1" stroke-opacity="0.9" stroke-linecap="round" fill="none"/><path d="M292 79L261.9 96.4M292 79L316.5 95.8M292 79L295.5 83M292 79L292.3 87.8M292 79L279.2 99.7M292 79L275.3 98M292 79L300.7 83.2M292 79L302.1 101.3M292 79L290.5 99.9M292 79L304 79.5M292 79L279.6 98M292 79L280 94M292 79L315.8 99.7M292 79L298.7 99.3M292 79L291.3 81.3M292 79L304.7 80.3M292 79L295.5 100.5M292 79L284.2 102.9M292 79L298.3 93.9M292 79L264.5 104.6M292 79L259.7 100.3M292 79L296.7 103.9M292 79L312.6 89.3M292 79L285.6 102.3M292 79L296.1 90M292 79L307.3 97.2M292 79L273 100.4M292 79L272.7 95M292 79L290.8 89.4M292 79L311.5 85M292 79L277.2 102.4M292 79L305.2 93.5M292 79L305.4 99.3M292 79L291.2 95.2M292 79L306.1 92.9" stroke="#50f888" stroke-width="0.8" stroke-opacity="0.8" stroke-linecap="round" fill="none"/><path d="M292 79L268.2 98.8M292 79L279.4 94.2M292 79L282.2 100.1M292 79L258.5 99.4M292 79L259.7 99M292 79L289.3 97.4M292 79L314.1 83.6M292 79L283.7 97.8M292 79L307 100.6M292 79L306.3 95.8M292 79L307.4 81.5M292 79L310.1 81.2M292 79L283 91.6M292 79L291.3 100.8M292 79L298.9 81M292 79L275.9 105.9M292 79L270 98.5M292 79L308 78.5M292 79L278.3 99.6M292 79L255.5 95.6M292 79L302 82.7M292 79L258.1 101M292 79L263.9 99.3M292 79L311.2 82.6M292 79L296 83.9M292 79L313.3 87.1M292 79L291.8 95M292 79L300.2 92.6M292 79L292 95.6M292 79L308 77.2M292 79L248.4 101.6M292 79L310.7 81.5M292 79L312.5 89.6M292 79L277.3 104.1M292 79L278.2 107.4M292 79L296.5 84.4" stroke="#00ff00" stroke-width="0.8" stroke-opacity="0.9" stroke-linecap="round" fill="none"/><path d="M292 79L288.2 101.1M292 79L297.1 92.2M292 79L312.7 96.6M292 79L289.2 101M292 79L279.9 92.2M292 79L287.3 97.5M292 79L303.4 81.1M292 79L284.9 87.5M292 79L307.5 100.5M292 79L298.5 89.7M292 79L310.6 83.3M292 79L301.1 96M292 79L291.7 83.3M292 79L310.8 87.1M292 79L295.7 96.7M292 79L307.8 79.3M292 79L296.5 82.2M292 79L251.1 101.1M292 79L297.7 79.6M292 79L307.2 83.8M292 79L312.1 90.1M292 79L271.4 98M292 79L271.1 96.7M292 79L274.2 104.7M292 79L289.3 86.8M292 79L312.6 90.7M292 79L284.6 98.3M292 79L282.9 93.5M292 79L260.5 98.7M292 79L288.1 84.9M292 79L302.8 84.6M292 79L299.2 99.2M292 79L256.2 102.6M292 79L294.9 96.5M292 79L307.1 86.3M292 79L294.5 84.3M292 79L281.1 97M292 79L304.9 98.2M292 79L294.5 79.4M292 79L289.5 95.5" stroke="#50f888" stroke-width="1" stroke-opacity="0.8" stroke-linecap="round" fill="none"/><path d="M292 79L313.5 93.7M292 79L272.7 100.1M292 79L292.1 85.5M292 79L317.3 78.1M292 79L311.4 78.4M292 79L303.4 85M292 79L306.9 99.6M292 79L283.1 101M292 79L284.8 97.3M292 79L297.4 97.9M292 79L313.7 85.8M292 79L258.6 99.5M292 79L315.5 94M292 79L264.9 98.7M292 79L274.2 94.5M292 79L263.3 98M292 79L272.3 102.2M292 79L284.1 96.5M292 79L261.1 97.1M292 79L318.4 84.8M292 79L297.3 91.4M292 79L314.4 89.1M292 79L308.8 98.1M292 79L279.6 104.5M292 79L301.2 82.8M292 79L296.7 90.4M292 79L269.2 96.6M292 79L285.8 94M292 79L257.8 98.1M292 79L299.8 78.6M292 79L299.9 102.1M292 79L268.9 98.2M292 79L290.8 89.1M292 79L299.2 105.1M292 79L261.9 98.5M292 79L284.7 92.3M292 79L290.9 99M292 79L278.2 94.5M292 79L315.9 81.4M292 79L282 99.1M292 79L297.2 87.7M292 79L289.2 92.6M292 79L301.4 79M292 79L302.6 96.3M292 79L315.4 79.6M292 79L294 95.6M292 79L251.2 101.9M292 79L274.8 95.1M292 79L282.6 91.3M292 79L296.9 101.4M292 79L259.3 100.6M292 79L301.3 93.7" stroke="#00ff00" stroke-width="0.5" stroke-opacity="0.9" stroke-linecap="round" fill="none"/><path d="M292 79L312.6 82M292 79L293 104M292 79L290.6 88.8M292 79L307.4 93.7M292 79L308.2 83.7M292 79L304.8 104.3M292 79L305 89.9M292 79L285.2 103.5M292 79L263.6 99.9M292 79L286 99.6M292 79L313 100.8M292 79L298.9 87.6M292 79L268.5 101.4M292 79L283.1 91.8M292 79L273.9 95.9M292 79L286.8 95.5M292 79L312.2 87.3M292 79L313.2 95.1M292 79L293.1 100.1M292 79L260.9 96.8M292 79L310.8 82.1M292 79L271.7 97.7M292 79L307.4 87.7M292 79L259.9 98.1M292 79L307.8 97.3M292 79L307.4 94M292 79L302.7 95M292 79L309 77.6M292 79L281.6 93.2M292 79L296.4 100.7M292 79L296.5 88.5M292 79L299.6 97.1M292 79L303.2 93.1M292 79L266.9 97.9M292 79L303.3 77.7M292 79L295.2 94.7M292 79L311.3 86.5M292 79L308.6 89.7M292 79L291.1 101.8M292 79L260.8 101.2M292 79L310.2 92.5M292 79L291.3 91.9M292 79L305.2 97.4" stroke="#20f860" stroke-width="1" stroke-opacity="0.8" stroke-linecap="round" fill="none"/></g></g><rect x="250.9" y="36.7" width="71.8" height="5.1" fill="#fff" stroke="#9c9c9c" stroke-width="0.5"/><rect x="220.1" y="77.2" width="71.8" height="5.1" fill="#fff" stroke="#9c9c9c" stroke-width="0.5"/><ellipse cx="281.7" cy="51.9" rx="10.3" ry="10.1" fill="#fff" stroke="#9c9c9c" stroke-width="0.5"/><ellipse cx="261.1" cy="67.1" rx="10.3" ry="10.1" fill="#fff" stroke="#9c9c9c" stroke-width="0.5"/><polyline points="240.6,97.7 245,97.6 275,93.5 287.7,85.5 292,79.2 251,41 252,37.5 255,36 270,34 280,31 294,22 301.8,16.2" fill="none" stroke="#1f48b8" stroke-width="0.9" stroke-linejoin="round"/><circle cx="275" cy="93.5" r="0.75" fill="#10d8f0"/><circle cx="251" cy="41" r="0.75" fill="#10d8f0"/><circle cx="270" cy="34" r="0.75" fill="#10d8f0"/><circle cx="240.6" cy="97.6" r="1.3" fill="#ff00ff"/><circle cx="302.2" cy="16.4" r="1.3" fill="#000"/><rect x="207.3" y="6.2" width="128.2" height="101.5" fill="none" stroke="#a8a8a8" stroke-width="0.5"/><text x="220.6" y="113.6" font-size="4" text-anchor="middle" fill="#383838">0</text><text x="241.1" y="113.6" font-size="4" text-anchor="middle" fill="#383838">20</text><text x="261.6" y="113.6" font-size="4" text-anchor="middle" fill="#383838">40</text><text x="282.2" y="113.6" font-size="4" text-anchor="middle" fill="#383838">60</text><text x="302.7" y="113.6" font-size="4" text-anchor="middle" fill="#383838">80</text><text x="323.2" y="113.6" font-size="4" text-anchor="middle" fill="#383838">100</text><text x="205.9" y="109.4" font-size="4" text-anchor="end" fill="#383838">0</text><text x="205.9" y="99.3" font-size="4" text-anchor="end" fill="#383838">10</text><text x="205.9" y="89.1" font-size="4" text-anchor="end" fill="#383838">20</text><text x="205.9" y="79" font-size="4" text-anchor="end" fill="#383838">30</text><text x="205.9" y="68.8" font-size="4" text-anchor="end" fill="#383838">40</text><text x="205.9" y="58.7" font-size="4" text-anchor="end" fill="#383838">50</text><text x="205.9" y="48.5" font-size="4" text-anchor="end" fill="#383838">60</text><text x="205.9" y="38.4" font-size="4" text-anchor="end" fill="#383838">70</text><text x="205.9" y="28.2" font-size="4" text-anchor="end" fill="#383838">80</text><text x="205.9" y="18.1" font-size="4" text-anchor="end" fill="#383838">90</text><text x="205.9" y="7.9" font-size="4" text-anchor="end" fill="#383838">100</text><text x="271.4" y="119" font-size="4.2" text-anchor="middle" fill="#383838">X</text><text x="195.1" y="58.2" font-size="4.2" text-anchor="middle" fill="#383838" transform="rotate(-90 195.1 57)">Y</text><rect x="294" y="9.6" width="38.3" height="5.5" fill="#fff" stroke="#9a9a9a" stroke-width="0.4"/><line x1="295.3" y1="12.3" x2="306.5" y2="12.3" stroke="#3838d0" stroke-width="1.1"/><circle cx="301" cy="12.3" r="0.8" fill="#20e0f0"/><text x="308" y="13.5" font-size="3.4" fill="#222">Informed-RRT*</text><text x="219.8" y="133.8" font-family="Liberation Serif" font-size="11.6" fill="#000" textLength="99.3" lengthAdjust="spacingAndGlyphs">(<tspan font-weight="bold">b</tspan>) Informed-RRT*</text></g>
<g font-family="Liberation Sans"><line x1="429.3" y1="6.2" x2="429.3" y2="107.7" stroke="#e4e4e4" stroke-width="0.4"/><line x1="449.8" y1="6.2" x2="449.8" y2="107.7" stroke="#e4e4e4" stroke-width="0.4"/><line x1="470.3" y1="6.2" x2="470.3" y2="107.7" stroke="#e4e4e4" stroke-width="0.4"/><line x1="490.9" y1="6.2" x2="490.9" y2="107.7" stroke="#e4e4e4" stroke-width="0.4"/><line x1="511.4" y1="6.2" x2="511.4" y2="107.7" stroke="#e4e4e4" stroke-width="0.4"/><line x1="531.9" y1="6.2" x2="531.9" y2="107.7" stroke="#e4e4e4" stroke-width="0.4"/><line x1="416.5" y1="107.7" x2="544.7" y2="107.7" stroke="#e4e4e4" stroke-width="0.4"/><line x1="416.5" y1="97.6" x2="544.7" y2="97.6" stroke="#e4e4e4" stroke-width="0.4"/><line x1="416.5" y1="87.4" x2="544.7" y2="87.4" stroke="#e4e4e4" stroke-width="0.4"/><line x1="416.5" y1="77.2" x2="544.7" y2="77.2" stroke="#e4e4e4" stroke-width="0.4"/><line x1="416.5" y1="67.1" x2="544.7" y2="67.1" stroke="#e4e4e4" stroke-width="0.4"/><line x1="416.5" y1="57" x2="544.7" y2="57" stroke="#e4e4e4" stroke-width="0.4"/><line x1="416.5" y1="46.8" x2="544.7" y2="46.8" stroke="#e4e4e4" stroke-width="0.4"/><line x1="416.5" y1="36.7" x2="544.7" y2="36.7" stroke="#e4e4e4" stroke-width="0.4"/><line x1="416.5" y1="26.5" x2="544.7" y2="26.5" stroke="#e4e4e4" stroke-width="0.4"/><line x1="416.5" y1="16.4" x2="544.7" y2="16.4" stroke="#e4e4e4" stroke-width="0.4"/><line x1="416.5" y1="6.2" x2="544.7" y2="6.2" stroke="#e4e4e4" stroke-width="0.4"/><clipPath id="cc00"><polygon points="436,14 442,9 455,7.7 480,7.5 498,8 505,9 515,12 521.6,16.5 526.6,22.7 527.8,33.9 528,37 461,38 459,40 455,44 455,44 434.4,44 434,40 434,30 434,20"/></clipPath><g clip-path="url(#cc00)"><g filter="url(#bl)"><path d="M510.8 16.2L453.1 19.9M510.8 16.2L506.2 17.3M510.8 16.2L450.6 11.4M510.8 16.2L481.8 14M510.8 16.2L523.3 20.6M510.8 16.2L513.7 35.2M510.8 16.2L510.8 30M510.8 16.2L494.3 19.3M510.8 16.2L491 22.1M510.8 16.2L516.4 28.8M510.8 16.2L491.3 30.8M458 38L437.3 35.5M510.8 16.2L434.2 14.7M510.8 16.2L476.3 29.8M510.8 16.2L494.2 26.8M510.8 16.2L455.7 9.9M510.8 16.2L483.8 31.4M510.8 16.2L467.9 11M510.8 16.2L529.6 37.1M510.8 16.2L487.8 26.8M510.8 16.2L525.5 31.9M510.8 16.2L493.4 29.8M510.8 16.2L446.5 18M458 38L463 24.4M510.8 16.2L486.7 9.8M510.8 16.2L483.2 11M510.8 16.2L490.4 38M458 38L460.5 36.2M510.8 16.2L458.9 14.7M510.8 16.2L492 24.2M510.8 16.2L502.6 31.8M458 38L457 24.3M510.8 16.2L519 35.2M510.8 16.2L507.4 22.5M458 38L456.9 29.7M510.8 16.2L492.4 19.5M510.8 16.2L502.4 17.9M458 38L438.9 35.9M510.8 16.2L478.2 22.4M510.8 16.2L481.9 25.2M510.8 16.2L482.1 9.2M510.8 16.2L474.7 11.5M510.8 16.2L519.6 33.7M510.8 16.2L514.3 34.5M510.8 16.2L449.1 16.2M510.8 16.2L462.4 20.1M510.8 16.2L454.6 10.5M510.8 16.2L512.1 21.6M458 38L448.2 43.2M510.8 16.2L492.6 12.7M510.8 16.2L504.8 38.2M510.8 16.2L499.1 31.4M510.8 16.2L493.1 24.8M510.8 16.2L509.2 18.9M510.8 16.2L501.7 32.3M510.8 16.2L521.7 22.8M510.8 16.2L467.5 27.5M510.8 16.2L477.6 33.9M510.8 16.2L477 23.2M510.8 16.2L473.9 28.3M510.8 16.2L507.5 31.1M510.8 16.2L478.2 15.7M510.8 16.2L502.7 25.8M510.8 16.2L494.8 10.6M510.8 16.2L524.7 28M510.8 16.2L472.8 20.2M510.8 16.2L509.4 35.8M458 38L453.4 32.3M510.8 16.2L474.2 18.4M510.8 16.2L502.7 25.8M510.8 16.2L504 20.6M458 38L437.5 33.7M510.8 16.2L504.3 21.1M510.8 16.2L459.8 11.2M510.8 16.2L522.4 19.3M510.8 16.2L472.1 18.5M458 38L462 35.7M510.8 16.2L462.6 14.9M510.8 16.2L516.2 20.8M510.8 16.2L517.3 21.7M510.8 16.2L488.5 21.9M510.8 16.2L483.6 26.5M510.8 16.2L514.1 16.8M510.8 16.2L511.5 19.2M510.8 16.2L450.3 20.6M458 38L457 31.2M510.8 16.2L513 20.3M510.8 16.2L470.3 33.6M510.8 16.2L449.1 18.3M510.8 16.2L510.5 31.2M510.8 16.2L456.8 18.9M510.8 16.2L481.3 18.8M458 38L440.1 27.4M510.8 16.2L498.6 16.5M458 38L440.3 26.1M458 38L454 37.4M510.8 16.2L501.3 28.2M510.8 16.2L501 27.4M510.8 16.2L494.9 13.6M458 38L445.8 22.7M510.8 16.2L502.3 26.7M510.8 16.2L508.4 25.6M510.8 16.2L490.7 28.3M510.8 16.2L440.7 15.8M510.8 16.2L504.2 30M510.8 16.2L508.4 31.3M510.8 16.2L452.3 11.5M510.8 16.2L466.8 17.3M458 38L436.3 34.2M510.8 16.2L441.9 17.3M510.8 16.2L470.3 17.4M510.8 16.2L482.6 10.8M510.8 16.2L511.6 19.4M510.8 16.2L511.7 19.6M510.8 16.2L506.6 23M510.8 16.2L510.1 30.2M510.8 16.2L501.6 18.2M510.8 16.2L467.6 14.2M458 38L448.1 33.2M510.8 16.2L506.7 14M458 38L451 33.9M510.8 16.2L520.8 27M510.8 16.2L518.7 24.8M510.8 16.2L519.4 37.4M510.8 16.2L488.8 19.3M510.8 16.2L510.9 25.1M510.8 16.2L492 37.2M510.8 16.2L483.7 14.3M510.8 16.2L521.3 24.6M510.8 16.2L501.6 32.5M510.8 16.2L472.8 27.5M510.8 16.2L473.1 32.1M510.8 16.2L517.6 34.4M510.8 16.2L494.6 34.7M510.8 16.2L512.5 29.7M510.8 16.2L520.5 33.8M510.8 16.2L505.7 27.9M510.8 16.2L511.3 22.5M510.8 16.2L506.3 31.1M458 38L447.7 23.3M458 38L436.8 28.5M510.8 16.2L490.5 27M510.8 16.2L512.2 21.3M510.8 16.2L512.4 21.3M510.8 16.2L514.2 22.6M510.8 16.2L497.4 26.1M458 38L445.5 29.1M510.8 16.2L511.4 17.4M458 38L446.2 31.3M458 38L437.9 30.8M510.8 16.2L472.3 21.9M510.8 16.2L518.2 20.4M510.8 16.2L517.2 19.6M510.8 16.2L441.3 20.4M458 38L462.9 28.6M458 38L440.9 21.5M510.8 16.2L492.1 21.3M510.8 16.2L504.7 23.9M458 38L439.5 38M510.8 16.2L474 35.9M510.8 16.2L526.5 29.9M510.8 16.2L492.1 11M510.8 16.2L522 28.1M510.8 16.2L525.3 25.5M510.8 16.2L496.2 18M510.8 16.2L475.7 35M510.8 16.2L498 27.4M458 38L457.5 25.5M510.8 16.2L520.9 39.6M510.8 16.2L504.2 22.5M458 38L445.2 41.2M510.8 16.2L502.9 29.7M458 38L447.8 26.1M510.8 16.2L498 16.1M510.8 16.2L494.1 32.4M510.8 16.2L515.5 23M510.8 16.2L496.8 28.6M510.8 16.2L513.9 16.6M510.8 16.2L512.7 32.8M510.8 16.2L438.6 12.5M510.8 16.2L500.3 23.6M510.8 16.2L502.1 22.1M510.8 16.2L500.5 13.9M458 38L455 32.1M510.8 16.2L520.1 22.4M458 38L451.4 28.9M458 38L441.1 43.6M510.8 16.2L516.3 14.6M510.8 16.2L451.4 9.3M510.8 16.2L506.6 32.2M510.8 16.2L468.7 19.3" stroke="#00ff00" stroke-width="1.1" stroke-opacity="1" stroke-linecap="round" fill="none"/><path d="M510.8 16.2L435 15.8M510.8 16.2L506 20.7M510.8 16.2L463.5 23.5M510.8 16.2L444.7 16.2M510.8 16.2L486.2 12.4M510.8 16.2L465.3 13.8M510.8 16.2L486.1 17M510.8 16.2L482.4 18.5M510.8 16.2L496.6 13.1M510.8 16.2L522.3 28.3M510.8 16.2L515.9 14.3M510.8 16.2L523.4 34.7M458 38L451.5 29.6M510.8 16.2L485.6 10.2M458 38L458.7 31.5M510.8 16.2L450.4 20.8M510.8 16.2L470.4 31.6M510.8 16.2L453.9 19.4M458 38L448.5 29.5M510.8 16.2L465.4 11.3M510.8 16.2L486 18.2M510.8 16.2L468.7 14.3M510.8 16.2L513.9 21.8M458 38L451.9 27.9M510.8 16.2L506.5 33.6M510.8 16.2L484.1 33.7M458 38L451.6 40M510.8 16.2L447.6 19.4M510.8 16.2L517.6 24.4M510.8 16.2L503.6 31.7M458 38L444.8 26.8M510.8 16.2L512.2 18.9M510.8 16.2L522.8 29.4M510.8 16.2L497.9 34.8M510.8 16.2L500.5 34.9M458 38L438.7 41.7M510.8 16.2L501.5 32M458 38L456.6 36.8M510.8 16.2L473.4 27.8M510.8 16.2L510.8 31.5M510.8 16.2L484.5 15.6M510.8 16.2L485.7 34M510.8 16.2L483.6 25.6M510.8 16.2L478.1 27.6M510.8 16.2L517.2 20.7M510.8 16.2L477.3 28.6M510.8 16.2L459.4 21.7M510.8 16.2L506.6 32M510.8 16.2L500.6 23.7M510.8 16.2L481.5 24.6M510.8 16.2L472 27M510.8 16.2L500.1 34.1M510.8 16.2L502.4 29.5M510.8 16.2L487.5 31.2M510.8 16.2L506.4 30.2M510.8 16.2L512.3 21.4M510.8 16.2L519.9 24.2M510.8 16.2L507.6 21.3M458 38L448 29.8M510.8 16.2L485 24.4M510.8 16.2L503.4 33.8M510.8 16.2L501.7 37.1M510.8 16.2L506.7 30.8M510.8 16.2L509.8 35.8M510.8 16.2L473.4 18.1M510.8 16.2L471.1 33.5M510.8 16.2L494.9 10.6M510.8 16.2L464 12.6M510.8 16.2L479.7 19.2M510.8 16.2L510.8 29.4M510.8 16.2L431 15.6M458 38L438.4 35.4M510.8 16.2L524.5 30.4M510.8 16.2L485.5 11.7M510.8 16.2L481.7 10.7M510.8 16.2L520.7 25.6M510.8 16.2L526.3 33M510.8 16.2L479.8 18.4M510.8 16.2L512.4 33.3M510.8 16.2L494.9 15.9M510.8 16.2L479.5 29.7M458 38L445.9 38.4M510.8 16.2L457.3 16.7M458 38L454.6 30.8M510.8 16.2L516.9 23.6M458 38L436.7 41M510.8 16.2L479.4 19.7M510.8 16.2L501.3 32.6M458 38L455.3 38.5M510.8 16.2L510.3 20.3M510.8 16.2L462 10.4M510.8 16.2L477.6 25.4M510.8 16.2L482.8 8.4M458 38L439.8 40.7M510.8 16.2L492.5 19.6M510.8 16.2L501.6 32.5M510.8 16.2L480.4 18.3M510.8 16.2L501.3 18M458 38L453.9 36.4M510.8 16.2L479.8 7.9M510.8 16.2L513.6 33.8M510.8 16.2L510.3 17.2M510.8 16.2L510.3 17.2M510.8 16.2L487.9 37.1M510.8 16.2L514.6 19.8M510.8 16.2L484.2 10M510.8 16.2L481.7 31.1M510.8 16.2L521.4 26M510.8 16.2L499.8 32.8M510.8 16.2L474.7 27.5M510.8 16.2L476.7 17.9M510.8 16.2L527.1 33.8M458 38L445.9 30.2M510.8 16.2L490.4 34.9M510.8 16.2L452.4 16.7M510.8 16.2L432.4 19.7M458 38L444.9 42.4M510.8 16.2L484 27.8M510.8 16.2L440.7 21.3M510.8 16.2L475.7 22.1M510.8 16.2L447.8 13.8M510.8 16.2L512.6 29.9M458 38L462.3 26.7M458 38L431.6 37.2M510.8 16.2L522.7 28.8M510.8 16.2L465.6 35.8M458 38L461.1 28.6M510.8 16.2L493.5 36.7M510.8 16.2L431.6 17.1M458 38L450.2 29.9M510.8 16.2L474.6 19.1M510.8 16.2L510.1 26M458 38L468.3 37M510.8 16.2L496 15.6M458 38L456.6 31.6M510.8 16.2L514.2 34.2M510.8 16.2L454.2 10.7M510.8 16.2L505.8 15.2M510.8 16.2L472.9 20.8M510.8 16.2L475.2 22.8M510.8 16.2L496.5 34.8M458 38L465.3 27.2M458 38L457.6 28.8M510.8 16.2L510.5 37.3M510.8 16.2L509.5 20.8M510.8 16.2L527.1 37.8M510.8 16.2L484.5 28.9M510.8 16.2L522 24.3M510.8 16.2L513.8 17.4M510.8 16.2L471.8 13.6M510.8 16.2L519.1 37.5M510.8 16.2L517.6 34.2M510.8 16.2L473.4 33.8M510.8 16.2L469.3 33.2M510.8 16.2L496.7 27.8M510.8 16.2L490 17.4M510.8 16.2L501.9 25M510.8 16.2L484.7 35.6M510.8 16.2L449.1 19.8M510.8 16.2L517.8 36.6M510.8 16.2L503.8 21.2" stroke="#00ff00" stroke-width="0.6" stroke-opacity="0.9" stroke-linecap="round" fill="none"/><path d="M510.8 16.2L504.9 22.1M458 38L443 38.5M458 38L468.8 37.8M510.8 16.2L519.6 22.7M510.8 16.2L450.5 10.9M510.8 16.2L440.8 18.5M458 38L465 34.8M510.8 16.2L515.1 27M510.8 16.2L519.5 18.9M458 38L452.8 35.4M510.8 16.2L505.2 20.6M510.8 16.2L484.2 20.9M510.8 16.2L500 26.5M510.8 16.2L494.9 27.1M510.8 16.2L483.4 34.1M510.8 16.2L519.4 18.8M510.8 16.2L491.7 14.3M510.8 16.2L470.4 14.4M510.8 16.2L444.7 11.3M510.8 16.2L490.2 18.6M510.8 16.2L511.7 20.6M458 38L465.2 34.6M510.8 16.2L521.4 25.2M510.8 16.2L528.8 36.4M510.8 16.2L475 19.3M510.8 16.2L487.2 12.8M510.8 16.2L523.3 23.8M510.8 16.2L471.9 13M510.8 16.2L511.3 33.2M458 38L444 26.7M458 38L464.7 26.9M510.8 16.2L523.7 29.8M458 38L444.8 37.7M510.8 16.2L521.6 25.6M510.8 16.2L470.2 37.4M458 38L462.4 29.2M510.8 16.2L468 30.2M510.8 16.2L512.1 33.4M510.8 16.2L498.9 27.3M458 38L436.1 37.7M458 38L461.1 33.1M510.8 16.2L479.3 17.2M458 38L437.2 32.2M458 38L460.2 28.5M510.8 16.2L470.8 24M510.8 16.2L507.9 21.6M458 38L452.6 41.4M510.8 16.2L507.7 31.7M510.8 16.2L490.2 19.6M510.8 16.2L503.9 17.4M458 38L452.5 30.4M510.8 16.2L512.8 29.3M458 38L457.9 22.4M510.8 16.2L482.3 29.7M510.8 16.2L452.4 13.5M458 38L448 31.4M510.8 16.2L458.4 20.9M458 38L437.8 23.2M510.8 16.2L479.1 9.2M510.8 16.2L514.8 15.1M458 38L447.5 28M510.8 16.2L526.4 31.1M510.8 16.2L509.3 15.1M510.8 16.2L492.9 22.7M510.8 16.2L464.2 26.8M510.8 16.2L522.8 18.3M510.8 16.2L518.5 29.9M510.8 16.2L507.9 30.2M510.8 16.2L522.2 29.7M458 38L437.8 35M510.8 16.2L485.6 23.1M510.8 16.2L522.4 32.9M510.8 16.2L507.2 33.4M510.8 16.2L508 34M458 38L447.9 22.7M510.8 16.2L504.1 35.6M510.8 16.2L468.7 18.7M458 38L442.1 44M510.8 16.2L505.5 19.5M458 38L439.1 38.6M510.8 16.2L503.9 20.8M510.8 16.2L528.2 33.2M510.8 16.2L509.3 31.2M510.8 16.2L496.5 19M510.8 16.2L482.5 26.6M510.8 16.2L474.6 30.3M510.8 16.2L518.9 33.8M510.8 16.2L494.6 11.4M458 38L463.6 28.2M510.8 16.2L492.9 15.9M510.8 16.2L490.1 28M510.8 16.2L524.7 23.9M510.8 16.2L525.2 34.2M458 38L461.1 36.3M510.8 16.2L482.1 16.9M510.8 16.2L478.9 19.6M510.8 16.2L454.5 14M458 38L440.6 35.6M510.8 16.2L522.8 19.8M458 38L483.1 37.5M510.8 16.2L522 27.8M458 38L441 23.9M458 38L437.3 36.4M510.8 16.2L464.8 10.6M510.8 16.2L511.9 18.5M510.8 16.2L502.4 26.6M510.8 16.2L480.4 21.9M458 38L451.3 39.7M510.8 16.2L476.1 10.7M458 38L444.8 42.6M510.8 16.2L487.9 14.5M458 38L461.8 35.1M458 38L443.6 38.3M510.8 16.2L492.9 22.7M510.8 16.2L446.8 20.7M510.8 16.2L463.9 26.2M510.8 16.2L516.4 37.2M510.8 16.2L493.5 20.7M510.8 16.2L483.8 33.3M510.8 16.2L438.7 12.4M510.8 16.2L522 29.2M510.8 16.2L433.3 13.6M458 38L442.8 30M510.8 16.2L511.5 23.7M510.8 16.2L513.3 29.7M510.8 16.2L475.1 29.6M458 38L455.1 40.5M510.8 16.2L500.9 14.2M510.8 16.2L500.8 13.9M510.8 16.2L466.1 27.2M510.8 16.2L475.7 17.8M510.8 16.2L499 35.7M510.8 16.2L463.9 17.3M510.8 16.2L473.4 15.9M510.8 16.2L485.6 35.4M510.8 16.2L454.8 18.5M510.8 16.2L469.9 15.3M510.8 16.2L459.1 10.6M510.8 16.2L495.9 23M458 38L451 25.5M458 38L457.9 22.7M510.8 16.2L463.2 36.6M510.8 16.2L478 13M510.8 16.2L472.3 10.4M510.8 16.2L458.3 21.2M510.8 16.2L465.9 10.9M458 38L445.7 32.5M510.8 16.2L484.3 20.6M510.8 16.2L469 11.7M510.8 16.2L487.6 11M510.8 16.2L505.5 15.2M510.8 16.2L485.6 30.5M510.8 16.2L449 15.1M458 38L440.1 41.3M458 38L450.9 34.9M510.8 16.2L487 12.1M510.8 16.2L516.6 25.8M510.8 16.2L434.6 20.6M510.8 16.2L465.3 15.6M510.8 16.2L501.6 34.5M510.8 16.2L489.8 25M458 38L446.2 42.3M510.8 16.2L499.3 18.1M510.8 16.2L475.8 36.5M510.8 16.2L514.8 22.5M510.8 16.2L513.9 16.7M510.8 16.2L468.6 20M510.8 16.2L484.6 35.7M510.8 16.2L453.7 16.9M510.8 16.2L454.4 11.1M510.8 16.2L527.2 25.2M458 38L464.3 30.3M510.8 16.2L443.1 12.3M510.8 16.2L457.8 10.8M510.8 16.2L490.3 37.3M510.8 16.2L523.1 27.5M510.8 16.2L507.2 27.7M510.8 16.2L448.2 11.4M510.8 16.2L479.4 18.3M510.8 16.2L507 31.1M458 38L457.5 29.8M458 38L444.4 39M458 38L454.5 27.5" stroke="#00ff00" stroke-width="0.8" stroke-opacity="0.9" stroke-linecap="round" fill="none"/><path d="M510.8 16.2L524.9 20.6M458 38L449.3 33.6M510.8 16.2L516.3 35.9M458 38L456.3 32.4M458 38L453 35.9M510.8 16.2L481.9 29.4M458 38L449.8 38M510.8 16.2L463.3 19.5M510.8 16.2L494 14.7M510.8 16.2L510.9 31.1M510.8 16.2L506.5 32.6M458 38L464.9 28.4M510.8 16.2L519.3 18.7M510.8 16.2L509.9 26.4M510.8 16.2L503.2 10.1M510.8 16.2L441.9 13.8M510.8 16.2L519.5 27.2M510.8 16.2L484.8 13.3M510.8 16.2L498.7 14.3M510.8 16.2L452.7 18.6M510.8 16.2L459.9 13.8M510.8 16.2L490.1 9.2M458 38L449.6 37.7M510.8 16.2L494.6 12.3M510.8 16.2L499 24.9M510.8 16.2L493.2 17.2M510.8 16.2L475.3 27.8M510.8 16.2L521 29.8M510.8 16.2L511.8 33.5M510.8 16.2L478.4 15.8M510.8 16.2L497.4 22.4M458 38L449.2 35.7M458 38L462 23.7M458 38L455.2 22.8M510.8 16.2L465.9 28.1M510.8 16.2L525.3 26.7M458 38L444.8 38.7M458 38L438.9 41.2M510.8 16.2L467.7 18.5M510.8 16.2L476.9 12.9M510.8 16.2L516.2 20.5M510.8 16.2L495.7 9.5M510.8 16.2L521.6 29.7M510.8 16.2L517.2 29.8M510.8 16.2L521.6 36.1M510.8 16.2L513.5 35.4M510.8 16.2L489.4 20.6M458 38L456.6 34M510.8 16.2L500.1 32.8M458 38L455 28.4M510.8 16.2L461.7 16.4M510.8 16.2L514.8 15M510.8 16.2L469.8 24.3M510.8 16.2L479.9 23.4M510.8 16.2L501.4 33.9M510.8 16.2L490.4 36.5M458 38L444.2 32.6M510.8 16.2L499.4 15.2M510.8 16.2L484.7 24.4M510.8 16.2L470.7 15.2M458 38L450.6 40.6M510.8 16.2L481.9 35.7M458 38L443.8 40.9M510.8 16.2L510.2 16M510.8 16.2L478.4 15M510.8 16.2L481.3 32.3M510.8 16.2L510.9 36.3M510.8 16.2L510.3 35.7M510.8 16.2L504.9 39.5M510.8 16.2L518.3 32.4M510.8 16.2L477.8 31.3M510.8 16.2L489.2 20.4M510.8 16.2L521.1 33.4M510.8 16.2L450.4 10.2M510.8 16.2L519.6 29.3M510.8 16.2L463.9 16M510.8 16.2L510.4 14.6M510.8 16.2L465.9 21.7M458 38L452.9 38.2M510.8 16.2L443.1 19.7M510.8 16.2L437.3 19M510.8 16.2L518.5 18.1M510.8 16.2L476 35.9M510.8 16.2L463.2 21.5M458 38L463.9 27M510.8 16.2L447.9 16M458 38L445.3 32.6M510.8 16.2L518.9 33.9M510.8 16.2L450.5 7.6M510.8 16.2L515.1 29.8M510.8 16.2L437.4 17.8M510.8 16.2L479.9 26.6M510.8 16.2L510.6 28.8M458 38L437.3 37.3M510.8 16.2L482.1 18.5M458 38L448.4 43.3M510.8 16.2L502.4 38.2M510.8 16.2L471.1 30.2M510.8 16.2L469.2 27.8M510.8 16.2L469.7 25M510.8 16.2L499.8 25.4M510.8 16.2L516 27.2M510.8 16.2L516.8 28.9M510.8 16.2L480.7 13.1M510.8 16.2L479.1 12.1M510.8 16.2L523.9 26.8M510.8 16.2L493.4 34M510.8 16.2L519 20.8M458 38L455.1 28.6M510.8 16.2L504.3 27.1M510.8 16.2L480.8 19M510.8 16.2L512.9 33.7M510.8 16.2L521.2 24.6M458 38L464.3 29.2M510.8 16.2L495.5 11.5M510.8 16.2L470.5 9.3M510.8 16.2L513.6 35M510.8 16.2L510.4 29M510.8 16.2L505.6 30.2M510.8 16.2L520.9 28.2M458 38L449.9 23.7M510.8 16.2L523.4 26M510.8 16.2L492 26.6M458 38L446.4 28.5M510.8 16.2L469.9 22.5M510.8 16.2L505.4 19.6M510.8 16.2L476.2 17.5M510.8 16.2L483.1 17.5M458 38L454.8 35.3M510.8 16.2L507.9 17.6M510.8 16.2L504.6 12.5M510.8 16.2L475.2 12.6M510.8 16.2L518.5 35.4M510.8 16.2L507.2 30.1M510.8 16.2L505.3 29.1M510.8 16.2L504.1 35.2M510.8 16.2L516.4 30.7M510.8 16.2L472.7 37.6M510.8 16.2L509.4 25.4M458 38L450.7 36.2M510.8 16.2L514.5 23.6M510.8 16.2L516.2 35.2M510.8 16.2L466.8 11.7M510.8 16.2L499.8 18.8M510.8 16.2L479 28.2M458 38L472.4 37.4M510.8 16.2L497.8 20.8M510.8 16.2L506 34.8M510.8 16.2L525.4 24.9M510.8 16.2L437.5 21.9M510.8 16.2L494.9 16.1M510.8 16.2L477.9 12.2M510.8 16.2L513.3 33.7M510.8 16.2L504.8 31.5M510.8 16.2L477.5 21.3M510.8 16.2L503.6 31.5M510.8 16.2L519.4 38.5M510.8 16.2L469.1 21.7M510.8 16.2L503.1 35.8M510.8 16.2L504.8 21.6M458 38L444.9 39M510.8 16.2L483.9 17.8M458 38L458.2 31.6M510.8 16.2L471.8 33.4M458 38L457.9 25.3M510.8 16.2L473.6 36M510.8 16.2L529 32.3M510.8 16.2L528.8 32M510.8 16.2L498 21.2M458 38L451.1 40.4M510.8 16.2L497.8 14.3M510.8 16.2L487.5 33.2M510.8 16.2L495.7 21.1" stroke="#00f828" stroke-width="1.1" stroke-opacity="0.8" stroke-linecap="round" fill="none"/><path d="M510.8 16.2L524.8 19.9M510.8 16.2L472.5 26.3M510.8 16.2L493 37.4M510.8 16.2L519.5 24.9M458 38L460.3 34.6M510.8 16.2L458.6 19.3M510.8 16.2L463.5 16.5M510.8 16.2L464.3 17.8M510.8 16.2L528.2 30.9M510.8 16.2L524.6 21.6M458 38L431.5 34.5M510.8 16.2L506.7 34.8M510.8 16.2L519.8 19.5M510.8 16.2L468.5 10.2M510.8 16.2L486.5 11.2M458 38L440.1 42.2M510.8 16.2L516.9 14.1M510.8 16.2L525.4 36.7M458 38L486.1 37M510.8 16.2L478.4 34.8M510.8 16.2L518.8 30.1M458 38L446.4 38.5M510.8 16.2L475.4 14M510.8 16.2L511.9 32.1M458 38L435.1 30.6M510.8 16.2L449.3 11.6M510.8 16.2L461.1 14.6M458 38L436.2 33.2M458 38L435 30.6M510.8 16.2L515.1 30.2M510.8 16.2L515.7 30.6M458 38L454.9 35.9M510.8 16.2L489.4 14.1M510.8 16.2L526.7 35.1M510.8 16.2L499.1 36M510.8 16.2L497 20M510.8 16.2L492.2 16.6M510.8 16.2L485 21.2M458 38L443.4 40.7M458 38L439.6 23.8M510.8 16.2L525.5 35M510.8 16.2L479.6 16.7M510.8 16.2L502.6 29.5M510.8 16.2L484 24.1M510.8 16.2L458.2 22M510.8 16.2L519.8 34.9M458 38L445.4 21.2M510.8 16.2L521.1 39.9M510.8 16.2L509.2 20.6M510.8 16.2L489.8 18.6M510.8 16.2L516.9 29.4M510.8 16.2L470.4 13.1M510.8 16.2L499.7 34.3M510.8 16.2L472.2 37.4M510.8 16.2L444.4 20.1M510.8 16.2L523.1 18.8M510.8 16.2L527.8 28.5M510.8 16.2L507.7 31.7M510.8 16.2L439 18.9M458 38L453.8 23.1M510.8 16.2L517.3 28.9M510.8 16.2L478.7 22.7M510.8 16.2L493.2 21.9M510.8 16.2L482.1 37.2M510.8 16.2L507.8 30.4M510.8 16.2L522.4 35.7M510.8 16.2L521.1 32.7M510.8 16.2L501.7 22.5M510.8 16.2L450.9 9.7M510.8 16.2L510.2 14.3M510.8 16.2L478.4 9.3M458 38L446.7 28.8M510.8 16.2L471.8 14M510.8 16.2L499.3 24.6M510.8 16.2L512.4 32.7M510.8 16.2L466 12.4M510.8 16.2L514.1 27.8M510.8 16.2L496.1 18.6M458 38L445.9 35.7M510.8 16.2L475.5 11.4M458 38L438.1 39.7M510.8 16.2L526.6 26.6M510.8 16.2L464.3 13.8M510.8 16.2L435.5 9M510.8 16.2L512.9 20.1M510.8 16.2L472.5 9.7M510.8 16.2L452.9 17.3M510.8 16.2L501 33.7M510.8 16.2L485.4 10.8M458 38L455.3 24.2M510.8 16.2L451.3 9.7M510.8 16.2L479.4 15.7M510.8 16.2L523.4 27.9M510.8 16.2L499.6 27.3M510.8 16.2L484.8 17.7M510.8 16.2L518.8 20.6M458 38L437.1 38.1M510.8 16.2L491.6 36.6M510.8 16.2L509 29.5M510.8 16.2L512.2 31.7M510.8 16.2L508.2 28.7M510.8 16.2L503 17.6M510.8 16.2L522.2 24.7M510.8 16.2L502.8 13.3M510.8 16.2L460.5 14.2M510.8 16.2L523.2 33.1M510.8 16.2L484.9 18.2M510.8 16.2L506.4 23.2M510.8 16.2L506.5 28.6M510.8 16.2L487.9 18.5M458 38L464.3 25.5M510.8 16.2L476.1 20.2M510.8 16.2L513.5 22.2M510.8 16.2L513.4 21.9M510.8 16.2L487.2 18.9M510.8 16.2L468.1 34.8M510.8 16.2L485.4 9M510.8 16.2L508.9 21.5M510.8 16.2L450.2 13.5M510.8 16.2L506 19.6M510.8 16.2L516.5 34.6M510.8 16.2L516.1 35.1M510.8 16.2L496.4 10.7M510.8 16.2L527.2 35.1M510.8 16.2L487.4 11.4M510.8 16.2L508 17.7M458 38L461.2 26.6M458 38L436.2 36.8M510.8 16.2L524 38M510.8 16.2L459.4 21.3M510.8 16.2L521.2 34.4M510.8 16.2L443.2 12.7M510.8 16.2L493.7 22.6M510.8 16.2L511.3 23M510.8 16.2L446.6 17.9M510.8 16.2L473.2 19.1M510.8 16.2L494.4 13.8M510.8 16.2L471.3 15.5M458 38L442.6 40.3M510.8 16.2L455.6 8.6M458 38L463 29.8M458 38L438.7 32.6M510.8 16.2L490.4 16.7M510.8 16.2L505.1 36.4M458 38L452.5 39.9M510.8 16.2L523.5 35.3M510.8 16.2L510 26.8M510.8 16.2L495.5 10.2M458 38L438.4 41.1M510.8 16.2L448.6 15.4M510.8 16.2L433.3 11M510.8 16.2L466.4 15.8M510.8 16.2L453.5 20.1M510.8 16.2L486.2 13M510.8 16.2L490.4 21.4M510.8 16.2L517.1 17M510.8 16.2L490.3 27.9M510.8 16.2L481.5 9.8M510.8 16.2L441.3 17.6M510.8 16.2L503.7 31.9M458 38L439.7 37.5M510.8 16.2L447.1 19.2M458 38L457.8 27.8M458 38L440.6 42.1M510.8 16.2L517.4 27.8M458 38L440 37.1M510.8 16.2L453.3 20.2M510.8 16.2L508.4 14.6M510.8 16.2L519.4 20.9M458 38L489.6 37M510.8 16.2L440.1 14.7M510.8 16.2L487.4 10.6M510.8 16.2L494.5 18.4M510.8 16.2L470.8 15.5M510.8 16.2L523 30.1M510.8 16.2L455.6 10.7M510.8 16.2L518.3 20.7M510.8 16.2L493.4 22.7M510.8 16.2L478.3 24.8M510.8 16.2L491 34.9M510.8 16.2L493.3 31.3M510.8 16.2L445 7.7M510.8 16.2L478.3 8.6M510.8 16.2L505.2 20.3" stroke="#00f828" stroke-width="0.6" stroke-opacity="0.8" stroke-linecap="round" fill="none"/><path d="M510.8 16.2L505 17.6M510.8 16.2L519.8 22.8M458 38L440.4 30.1M510.8 16.2L516.6 34.1M510.8 16.2L475.8 19.2M458 38L449.2 31.9M510.8 16.2L484.9 11.2M510.8 16.2L470.1 18.5M510.8 16.2L466.6 12M510.8 16.2L489.6 31.2M510.8 16.2L487.3 37.6M510.8 16.2L444.2 10.5M510.8 16.2L511.1 23M510.8 16.2L501.8 8.9M510.8 16.2L462.9 20M510.8 16.2L455.6 10.7M510.8 16.2L484.2 26.3M510.8 16.2L520.5 28.2M510.8 16.2L464.4 15.5M510.8 16.2L519.4 30.6M458 38L455.9 24M510.8 16.2L526 33.5M458 38L450.3 43M510.8 16.2L489.6 30.3M458 38L453.2 25.6M510.8 16.2L517.5 24.4M510.8 16.2L511.6 32.3M510.8 16.2L515 23.3M458 38L452.8 28.9M510.8 16.2L464.5 18.6M510.8 16.2L459.6 8.3M510.8 16.2L487.7 9.8M510.8 16.2L453.3 10.7M510.8 16.2L503.2 34.3M510.8 16.2L505 27.1M510.8 16.2L511.8 31.7M510.8 16.2L467.8 14.2M510.8 16.2L444.4 12.1M458 38L458.8 30.2M510.8 16.2L522.2 27.9M510.8 16.2L519.7 27.7M510.8 16.2L520.8 28.3M510.8 16.2L520.4 29.2M510.8 16.2L500.9 34.8M510.8 16.2L502.5 32.3M510.8 16.2L509.5 21.1M510.8 16.2L462.5 12.4M458 38L466.9 26.1M510.8 16.2L510.2 28.5M510.8 16.2L526.1 36.2M510.8 16.2L446.7 14.8M458 38L459 29.8M510.8 16.2L480.9 19.1M510.8 16.2L455.8 12.6M510.8 16.2L486.9 7.7M510.8 16.2L480.1 16.9M510.8 16.2L496.3 28.1M510.8 16.2L505.7 9.6M510.8 16.2L506.3 10.5M510.8 16.2L519.7 27.8M510.8 16.2L512.5 30.6M510.8 16.2L496.4 11.5M510.8 16.2L503.2 23.9M510.8 16.2L470.2 19.3M510.8 16.2L489.5 22.7M510.8 16.2L427.5 22.5M458 38L442.8 34.1M458 38L436.3 40.4M458 38L462.2 35.2M510.8 16.2L514.5 17.2M510.8 16.2L506.4 31.4M510.8 16.2L526.2 31.5M510.8 16.2L524.9 30.3M510.8 16.2L513.4 32.4M510.8 16.2L475.1 32.8M510.8 16.2L510 32.9M510.8 16.2L507.6 32.5M510.8 16.2L510.7 18.6M510.8 16.2L453.7 17.6M510.8 16.2L517.7 34.6M510.8 16.2L522.1 18.4M458 38L449.3 35.6M510.8 16.2L451.4 15.3M510.8 16.2L495.4 11.6M510.8 16.2L491.8 22M510.8 16.2L444.7 17.1M510.8 16.2L451.7 18.5M510.8 16.2L516 37.6M458 38L469 37.1M510.8 16.2L443.8 8.5M510.8 16.2L505.9 17.4M458 38L443.4 23.9M510.8 16.2L427 18.6M510.8 16.2L435 21.1M510.8 16.2L511.3 26.8M510.8 16.2L478.5 8.4M510.8 16.2L486.8 11.4M510.8 16.2L512.1 28.7M510.8 16.2L495.7 18.6M510.8 16.2L477.5 22.7M510.8 16.2L523 19.7M510.8 16.2L522.4 38.9M510.8 16.2L478.5 24.9M510.8 16.2L479.6 29.9M510.8 16.2L516.2 26.6M510.8 16.2L463.8 16.5M458 38L439.1 31.4M458 38L455.7 26.8M510.8 16.2L459.7 12.5M510.8 16.2L516 23.3M510.8 16.2L513 31.5M510.8 16.2L498.6 29.5M510.8 16.2L494.1 21.4M510.8 16.2L500.3 31.4M510.8 16.2L441.5 16.4M510.8 16.2L446.9 13.5M510.8 16.2L477.2 12.6M510.8 16.2L501.4 24.4M510.8 16.2L476.7 27.5M458 38L461.3 25.8M510.8 16.2L442.3 9.5M510.8 16.2L495.5 22.5M510.8 16.2L476.1 30.9M510.8 16.2L428.6 18.1M510.8 16.2L465.9 8.5M510.8 16.2L508.5 26.4M510.8 16.2L475.2 33.5M510.8 16.2L509.7 16.9M510.8 16.2L509.9 16.8M510.8 16.2L493.5 33.8M510.8 16.2L508.6 28.5M510.8 16.2L523.7 30.1M510.8 16.2L525.8 32.3M510.8 16.2L495.8 13.2M510.8 16.2L482.4 31.6M510.8 16.2L516.3 33.9M510.8 16.2L523.4 34.9M510.8 16.2L507.6 12.8M510.8 16.2L513.9 32.9M510.8 16.2L458 13.4M510.8 16.2L489.6 28.6M458 38L444.9 27.6M458 38L456.9 33.4M510.8 16.2L494.2 29.7M510.8 16.2L514.4 19.9M458 38L447.9 26.7M510.8 16.2L487.8 18.1M458 38L457.6 40.3M510.8 16.2L512.9 17.1M510.8 16.2L459.8 14.3M510.8 16.2L461.6 17.4M458 38L458.4 34.3M458 38L444 34.5M510.8 16.2L506.1 34.1M510.8 16.2L507 32.3M510.8 16.2L475.1 39.1M510.8 16.2L526 23.8M510.8 16.2L520.2 19.8M510.8 16.2L521.8 20.3M510.8 16.2L449.1 16M510.8 16.2L468.8 18.6M510.8 16.2L509.3 27.4M510.8 16.2L488.4 30.6M510.8 16.2L484 11.6M510.8 16.2L504.9 28.2M510.8 16.2L503.7 29.3M510.8 16.2L504.1 26.8M510.8 16.2L511.3 24.3M510.8 16.2L464.1 21.4M458 38L456.6 33.2M458 38L437.6 29.1M510.8 16.2L515.4 34.2M458 38L438.4 29.9M510.8 16.2L520.9 31.6M458 38L453.7 29.7M510.8 16.2L500.3 21.9M510.8 16.2L480.5 9.7M458 38L442.8 41.9M510.8 16.2L504.6 27.5M510.8 16.2L521.2 23.8M510.8 16.2L460.1 20.1M510.8 16.2L515.3 18.2M458 38L460.2 30.3M458 38L452 35.9M510.8 16.2L476.9 13.5M510.8 16.2L458.8 20.2M510.8 16.2L474.7 22.7M510.8 16.2L509.5 21.1M510.8 16.2L520.2 39M510.8 16.2L446.2 13.2M510.8 16.2L515.9 20M458 38L467.6 36.9M510.8 16.2L430.4 17.1M510.8 16.2L502.3 11.4M510.8 16.2L490.9 10.6M458 38L448.2 39M510.8 16.2L526 24.9M510.8 16.2L515.8 27.6M510.8 16.2L485 12.9M510.8 16.2L481 32.7M510.8 16.2L463.9 21M510.8 16.2L471.4 27.4M510.8 16.2L482.8 33.6M510.8 16.2L473.6 26M510.8 16.2L466.3 14.6M458 38L463.6 27.7M458 38L445.3 29.3M458 38L455.7 32.6M458 38L444.1 32.5M510.8 16.2L469.8 8.5M510.8 16.2L516.2 23" stroke="#00f828" stroke-width="0.8" stroke-opacity="0.8" stroke-linecap="round" fill="none"/><path d="M510.8 16.2L517.8 23.6M510.8 16.2L510.1 24.1M510.8 16.2L455.1 15.1M510.8 16.2L441.3 20.4M510.8 16.2L514.5 25.9M510.8 16.2L506.5 35M510.8 16.2L448.9 20.6M458 38L434.1 24.6M510.8 16.2L472 36.9M510.8 16.2L485 13.8M510.8 16.2L508.8 10.1M510.8 16.2L519.1 29.8M510.8 16.2L473.3 35.2M510.8 16.2L488.6 33.1M458 38L435.7 24.3M510.8 16.2L455.7 17.7M510.8 16.2L513.5 19.3M510.8 16.2L513.6 19.4M510.8 16.2L489.9 28.2M510.8 16.2L519.4 23.4M510.8 16.2L469.5 18M510.8 16.2L521.1 22.2M510.8 16.2L467.3 7.9M510.8 16.2L471.5 33.5M510.8 16.2L447.6 14.1M458 38L443.1 33.3M510.8 16.2L516.6 23.2M510.8 16.2L448.1 15.2M510.8 16.2L508.4 28.5M510.8 16.2L525.5 29.8M458 38L433.2 42.8M510.8 16.2L509.4 21.2M458 38L444.2 32M510.8 16.2L520.5 33M510.8 16.2L520.3 32.7M458 38L436.5 29.7M510.8 16.2L485.9 23.5M458 38L435.6 28.7M510.8 16.2L481.4 10.8M510.8 16.2L470.6 15M510.8 16.2L483.4 14.4M510.8 16.2L522.4 32.5M510.8 16.2L461.4 13.1M510.8 16.2L477.2 32.5M510.8 16.2L484.3 11.4M458 38L448.8 39.3M510.8 16.2L480.6 37.4M510.8 16.2L485.7 37M510.8 16.2L464.3 12.7M510.8 16.2L507 35.3M458 38L449.5 37.6M458 38L454.4 22.4M510.8 16.2L501.9 22.2M510.8 16.2L460.2 20M510.8 16.2L479.7 26.1M510.8 16.2L452.4 9.7M510.8 16.2L449.4 19.2M510.8 16.2L514 17M510.8 16.2L492.3 33.3M510.8 16.2L495.5 33.1M510.8 16.2L518.5 22.5M510.8 16.2L513.1 30.8M510.8 16.2L505.7 35.8M510.8 16.2L477.9 34.1M510.8 16.2L526.4 27.8M510.8 16.2L485 19.7M510.8 16.2L464.4 32.4M510.8 16.2L510.7 18.5M510.8 16.2L521.6 22.2M510.8 16.2L484.1 26.3M510.8 16.2L466.4 24.5M510.8 16.2L505 32.2M510.8 16.2L461.8 12.9M510.8 16.2L503.2 36.9M510.8 16.2L505.4 17.6M510.8 16.2L519.4 31.3M510.8 16.2L524.6 23.8M458 38L470.9 37.5M510.8 16.2L446.9 8.8M458 38L440.9 24.8M458 38L442.5 33.9M510.8 16.2L477.9 27.9M510.8 16.2L493.5 30.1M510.8 16.2L519.6 33.6M510.8 16.2L495.4 33.2M510.8 16.2L525.7 32.4M458 38L477.1 37.7M458 38L450.7 30.9M510.8 16.2L488.6 11.9M510.8 16.2L475.5 19.6M510.8 16.2L452.5 10.2M510.8 16.2L514.6 17M510.8 16.2L474.7 14.2M510.8 16.2L511.8 19.8M458 38L464.6 20.5M510.8 16.2L476.1 19.3M510.8 16.2L433.3 20.8M510.8 16.2L510.3 20.8M510.8 16.2L433.2 11.3M510.8 16.2L441.8 16.3M510.8 16.2L518.3 22.8M510.8 16.2L517.4 22.1M510.8 16.2L521.8 29.3M458 38L457.6 31M458 38L434.3 38.4M458 38L442.4 25.7M510.8 16.2L451.7 21.2M510.8 16.2L496.2 13.3M510.8 16.2L471 33.7M510.8 16.2L524.3 28.4M510.8 16.2L494.9 29.6M510.8 16.2L481.3 12.2M458 38L434.4 22.4M510.8 16.2L444.3 8.1M510.8 16.2L445.5 10.6M510.8 16.2L474.2 32M510.8 16.2L443.3 14.3M510.8 16.2L522.7 27.7M510.8 16.2L479.7 9.5M510.8 16.2L483.1 26.8M510.8 16.2L498 12.1M458 38L440.1 26.7M510.8 16.2L491.6 15.3M458 38L441.3 40.8M510.8 16.2L474.3 27.2M510.8 16.2L492.1 15.4M458 38L438.9 26.5M510.8 16.2L502.2 29.5M510.8 16.2L440.7 15.9M510.8 16.2L511 27.6M510.8 16.2L522.3 34M510.8 16.2L513.1 30.7M458 38L445.8 37.6M510.8 16.2L438.6 13.3M510.8 16.2L480.4 21.5M510.8 16.2L476.2 18.3M510.8 16.2L460.1 18.1M458 38L451.2 31.7M510.8 16.2L493.5 13.1M510.8 16.2L484.2 35.7M510.8 16.2L449.7 11M510.8 16.2L523.9 22.6M510.8 16.2L496.7 15.6M510.8 16.2L498.8 27.1M510.8 16.2L524 29.9M458 38L475.3 37.3M510.8 16.2L497 24.9M510.8 16.2L446 11.6M510.8 16.2L523.4 37.2M510.8 16.2L516.1 17.3M510.8 16.2L498.6 26M458 38L432.9 22.7M510.8 16.2L512 24.7M510.8 16.2L464.9 7.8M458 38L448 25.6M510.8 16.2L504.8 32.1M510.8 16.2L507.8 21.6M510.8 16.2L462.7 20.4M510.8 16.2L515.8 34.5M510.8 16.2L510.8 34M510.8 16.2L500.8 9.1M510.8 16.2L444.4 15.2M510.8 16.2L452 21M510.8 16.2L516 34.2M510.8 16.2L481.9 20.3M458 38L437.6 36.6M458 38L433.5 25.1M510.8 16.2L436.7 21.4M510.8 16.2L443.4 11.6M510.8 16.2L496.2 16M510.8 16.2L491.1 8.2M510.8 16.2L515.6 37.4M510.8 16.2L516 33.5M458 38L439.9 25.5M510.8 16.2L488.9 10.4M510.8 16.2L529.4 33.2M510.8 16.2L505.5 25.6M458 38L452.7 25M510.8 16.2L526.1 39M510.8 16.2L503.5 34.9M510.8 16.2L520.2 23.3M510.8 16.2L468.3 19M510.8 16.2L473.3 34M458 38L440.5 29.1M458 38L446.2 23.4M510.8 16.2L521 28.5M510.8 16.2L470.8 35.2M510.8 16.2L501.1 13.8M510.8 16.2L502 13.6M510.8 16.2L515 25.6M510.8 16.2L476.9 25M510.8 16.2L450.9 19.2M510.8 16.2L494.1 23.6M458 38L447.4 28.1M510.8 16.2L461.4 14.2M510.8 16.2L522.8 36.5M510.8 16.2L461.6 11" stroke="#00ff00" stroke-width="0.8" stroke-opacity="1" stroke-linecap="round" fill="none"/><path d="M510.8 16.2L510.2 24.3M510.8 16.2L452.7 12.4M510.8 16.2L498.4 25.5M510.8 16.2L524.7 28.5M510.8 16.2L462.5 14.4M458 38L439.9 29M510.8 16.2L464.6 18.1M510.8 16.2L525.6 29.3M510.8 16.2L523 28.2M510.8 16.2L487.3 31.2M510.8 16.2L500.3 20.4M510.8 16.2L505.6 20.4M510.8 16.2L496.8 11.3M510.8 16.2L519.2 29.5M510.8 16.2L505.9 32.8M510.8 16.2L510.3 25.3M510.8 16.2L510.9 22.7M510.8 16.2L495.4 8.6M458 38L442.9 24.3M510.8 16.2L463.7 14.7M510.8 16.2L489.8 33.9M510.8 16.2L516 26.9M510.8 16.2L484.7 15.8M510.8 16.2L493 27.8M510.8 16.2L468.7 18M510.8 16.2L517.6 24.3M510.8 16.2L515.6 24.2M510.8 16.2L505.5 37.7M510.8 16.2L488.1 36.7M510.8 16.2L505.3 26.1M510.8 16.2L523.7 31.7M510.8 16.2L485.3 22.4M510.8 16.2L508.4 29.6M510.8 16.2L492.9 35.7M458 38L437.9 26.1M458 38L465.2 22.5M510.8 16.2L509.8 20.4M510.8 16.2L476.5 22.8M510.8 16.2L496.3 26.5M510.8 16.2L480.2 31.7M510.8 16.2L470.8 8.7M458 38L459.2 20.4M510.8 16.2L475.5 19.6M510.8 16.2L475.5 24M510.8 16.2L487.3 24.3M510.8 16.2L454.3 11.3M510.8 16.2L496.9 19.8M510.8 16.2L520.7 31.1M510.8 16.2L524.7 25.9M510.8 16.2L518.1 31.2M510.8 16.2L508.9 26.7M510.8 16.2L468.1 33.3M458 38L464.4 21.7M510.8 16.2L440.5 13M510.8 16.2L506.9 31.7M510.8 16.2L506.6 31.9M510.8 16.2L451 18.2M458 38L439 40.6M458 38L448.3 26.8M510.8 16.2L487.1 32.3M510.8 16.2L521.4 18.4M458 38L433 26M458 38L454.5 32.2M510.8 16.2L522.8 24.5M458 38L455.1 22.7M510.8 16.2L447.3 17.1M510.8 16.2L493.8 28.1M458 38L447.6 37.1M510.8 16.2L526.6 31.2M510.8 16.2L509.2 15.1M510.8 16.2L494.8 33.2M510.8 16.2L475 14M510.8 16.2L516.1 28.3M510.8 16.2L503 25.4M510.8 16.2L524.2 32.1M510.8 16.2L475.5 24.6M510.8 16.2L525.1 28.4M510.8 16.2L450.9 17.4M510.8 16.2L509.3 36.7M510.8 16.2L517.4 39.3M510.8 16.2L475.2 16.3M458 38L457.3 25M510.8 16.2L511.5 35.4M510.8 16.2L517.8 31.3M510.8 16.2L434.7 17.7M510.8 16.2L517.4 26M458 38L454.7 29.6M510.8 16.2L502.7 21.9M510.8 16.2L454.1 11.5M458 38L437.7 29.6M458 38L457.2 22.1M510.8 16.2L489.5 14.4M510.8 16.2L509.3 31.3M510.8 16.2L468.1 24.7M510.8 16.2L480.1 32.4M510.8 16.2L453.3 19.7M458 38L444.9 29.1M510.8 16.2L513.5 32.5M458 38L470.6 37.6M510.8 16.2L486.7 34.1M510.8 16.2L499.4 31.6M458 38L441.9 21.8M510.8 16.2L452.9 16.1M510.8 16.2L500 18.7M510.8 16.2L519 20.9M510.8 16.2L519 21M510.8 16.2L491 23.9M510.8 16.2L488.4 35.2M510.8 16.2L485.8 10.6M510.8 16.2L470.5 33.7M510.8 16.2L483.6 22.3M510.8 16.2L510.6 27.3M510.8 16.2L466.6 20.2M510.8 16.2L511.9 18.7M458 38L449 37.4M510.8 16.2L493.9 20.1M458 38L461.3 30.3M510.8 16.2L488.2 17.4M510.8 16.2L501.2 13.9M510.8 16.2L503.7 29.9M510.8 16.2L492.4 12.8M510.8 16.2L471.8 30.8M510.8 16.2L521.2 21.7M510.8 16.2L522.8 28.3M458 38L454.4 38.9M510.8 16.2L452.8 17M510.8 16.2L471 9.7M510.8 16.2L439.5 20.7M510.8 16.2L476.4 34.2M510.8 16.2L507.1 12M458 38L446.6 37.5M458 38L449.9 22.5M510.8 16.2L471.2 9.2M510.8 16.2L487.6 38.8M510.8 16.2L513.4 29.1M458 38L444.2 25.9M458 38L452.4 41M458 38L463.2 22M510.8 16.2L518.1 33.3M510.8 16.2L467.9 19.5M510.8 16.2L509.1 21.3M510.8 16.2L474.4 22.7M510.8 16.2L514.1 32.1M510.8 16.2L455.5 10.4M510.8 16.2L485.2 18.6M510.8 16.2L472.2 9.6M510.8 16.2L512.9 17.2M510.8 16.2L461.5 13.8M510.8 16.2L521.8 25.3M510.8 16.2L469.1 8.8M510.8 16.2L506 36.5M510.8 16.2L506.1 40.4M510.8 16.2L492.4 38.5M510.8 16.2L522.1 34.8M510.8 16.2L486.9 10M510.8 16.2L507.5 30.9M458 38L446.9 34.7M510.8 16.2L516.3 30.2M510.8 16.2L522.2 34.4M510.8 16.2L481.4 21.7M510.8 16.2L504 29.4M510.8 16.2L505 26.7M510.8 16.2L503.3 28.7M510.8 16.2L515.5 17.2M510.8 16.2L482.3 12.4M510.8 16.2L498.2 31.4M510.8 16.2L470.8 20.9M510.8 16.2L469.8 34M510.8 16.2L517.7 29.3M458 38L461.9 32.1M510.8 16.2L489.9 14.8M510.8 16.2L470 36.9M510.8 16.2L505.2 23.5M510.8 16.2L493.1 10M510.8 16.2L523.4 23.3M510.8 16.2L495.2 12.8M510.8 16.2L493.7 32.8M510.8 16.2L521.5 29.4M458 38L462.2 23M510.8 16.2L435.9 20M510.8 16.2L506.4 28.3M458 38L459.9 34.9M510.8 16.2L516.9 17.2M458 38L450.8 39.2M510.8 16.2L515.3 18.1M510.8 16.2L488.5 19.6M510.8 16.2L475.9 17.5M510.8 16.2L501.8 31.4M458 38L455 24.1M510.8 16.2L474.9 19.9M458 38L445.8 21.6M510.8 16.2L484.5 11.7M510.8 16.2L519 22.6M510.8 16.2L516.1 20.2M510.8 16.2L477.5 17.5M458 38L450.7 32.8M458 38L436.2 43.7M510.8 16.2L504.2 11.7M510.8 16.2L518.6 20.2M510.8 16.2L495.9 25.4M510.8 16.2L472.3 19.8M510.8 16.2L475.9 23.1M510.8 16.2L524.8 29.8M510.8 16.2L465.9 8.3M510.8 16.2L507.1 27.2M510.8 16.2L508.2 26.5M510.8 16.2L516.1 32.7M510.8 16.2L522.6 37.2M510.8 16.2L489.5 12.5M510.8 16.2L517.2 23.4M510.8 16.2L431.1 12.6" stroke="#00ff00" stroke-width="0.6" stroke-opacity="1" stroke-linecap="round" fill="none"/><path d="M458 38L438.1 32.8M458 38L454.3 40.3M458 38L439.1 31.8M458 38L436.6 27.5M458 38L448.9 25M510.8 16.2L466.1 30.7M510.8 16.2L478.3 26.6M510.8 16.2L513.7 34.9M510.8 16.2L493.1 29.5M510.8 16.2L508.6 10.5M458 38L449.4 32.8M510.8 16.2L524.5 31.6M510.8 16.2L483.7 10.4M510.8 16.2L471.4 18.9M510.8 16.2L480 26.5M510.8 16.2L511.9 20.9M458 38L439.9 37.4M510.8 16.2L511.5 36.3M510.8 16.2L510.4 35.2M458 38L458.1 24.7M510.8 16.2L464.7 18.5M510.8 16.2L513.8 21.9M510.8 16.2L489.9 11.4M510.8 16.2L481 16.3M510.8 16.2L512.3 18.8M510.8 16.2L477.2 25.3M458 38L455.6 21.8M510.8 16.2L479.4 36.4M510.8 16.2L525.6 30.9M510.8 16.2L501.4 31.1M510.8 16.2L461.7 21.8M510.8 16.2L472.8 16.6M510.8 16.2L480.3 25.1M510.8 16.2L520.7 29.6M510.8 16.2L518.9 26.7M510.8 16.2L509.6 20.4M458 38L447.4 28.1M510.8 16.2L474.7 10.3M510.8 16.2L456.5 16.8M458 38L444.8 38.6M510.8 16.2L489.7 34.1M458 38L434.6 44.2M458 38L444.8 28.8M510.8 16.2L438 21.9M510.8 16.2L479.6 10.9M510.8 16.2L450.1 20M458 38L444.7 42.7M510.8 16.2L470.4 10.8M510.8 16.2L508.5 27.2M510.8 16.2L473.8 31.4M510.8 16.2L509.6 19.7M458 38L443.2 41.6M510.8 16.2L506.5 31.3M510.8 16.2L448.3 18.7M510.8 16.2L474.9 20.1M458 38L457.3 36.2M510.8 16.2L503.5 23.4M510.8 16.2L521.9 34.2M510.8 16.2L524.3 38M510.8 16.2L485.4 12.8M510.8 16.2L489.4 16.7M510.8 16.2L479.6 10M510.8 16.2L488.8 25.8M510.8 16.2L466.1 18.8M510.8 16.2L507 22.5M510.8 16.2L524.4 25.4M510.8 16.2L509.1 19.3M510.8 16.2L509.9 34.7M510.8 16.2L473.9 13.2M510.8 16.2L487.8 14.3M510.8 16.2L508.6 20.5M510.8 16.2L508.4 21.1M510.8 16.2L517.8 34.9M510.8 16.2L474.1 32.3M510.8 16.2L488.8 24.2M510.8 16.2L518.2 31M510.8 16.2L520.3 30.7M510.8 16.2L510.2 16M510.8 16.2L507.5 31.9M510.8 16.2L483.7 9.6M510.8 16.2L443.7 17M510.8 16.2L507.1 34.5M510.8 16.2L522.3 22.5M510.8 16.2L502 27M510.8 16.2L499.3 23.5M510.8 16.2L474.1 26.8M510.8 16.2L459.6 11.1M510.8 16.2L473.8 14M510.8 16.2L511.9 27.9M510.8 16.2L519.9 18.3M510.8 16.2L517.7 28.3M510.8 16.2L521.6 25.6M510.8 16.2L467.6 13.1M510.8 16.2L489.8 19.8M458 38L465.3 22.8M510.8 16.2L496 14.1M510.8 16.2L523.4 31M510.8 16.2L474.4 33.4M458 38L465 27.6M510.8 16.2L472.6 33.9M458 38L445.8 35M458 38L465.5 37.3M510.8 16.2L503 37.1M510.8 16.2L502.7 29.8M510.8 16.2L502.6 31.1M510.8 16.2L469.8 15.1M510.8 16.2L520.8 19.6M510.8 16.2L474.9 36.3M510.8 16.2L522.5 30M510.8 16.2L511.5 28.1M510.8 16.2L480.6 30.8M510.8 16.2L495.3 33.6M458 38L436.1 31.4M510.8 16.2L520.6 21.6M510.8 16.2L519.8 21M510.8 16.2L500.5 14M458 38L455.4 32.4M510.8 16.2L477.2 18.6M510.8 16.2L487.6 14.8M510.8 16.2L520 21.7M510.8 16.2L472.1 11M510.8 16.2L502.7 13.4M510.8 16.2L476.7 10.8M510.8 16.2L519.1 38.1M510.8 16.2L446 20.8M510.8 16.2L517 35.5M510.8 16.2L501.7 17.9M510.8 16.2L498.5 16M510.8 16.2L465.6 18.1M510.8 16.2L507.2 14.1M510.8 16.2L471.5 17.2M510.8 16.2L511.7 22.7M510.8 16.2L463.8 11.9M458 38L437.1 25.7M510.8 16.2L448.1 13.3M458 38L431.2 29.5M510.8 16.2L523.4 36.9M510.8 16.2L512.8 30.8M510.8 16.2L475.7 8.5M510.8 16.2L505.7 13.2M510.8 16.2L511.4 17.7M510.8 16.2L494.6 29.8M510.8 16.2L455.8 16.4M510.8 16.2L454.7 8M458 38L434.6 28.9M510.8 16.2L504.4 34.4M510.8 16.2L508 21.4M510.8 16.2L492.3 11.8M510.8 16.2L489 21.2M510.8 16.2L511.3 32.7M510.8 16.2L499.3 8.3M510.8 16.2L492.1 21M510.8 16.2L517.2 28.3M510.8 16.2L517.5 18.6M510.8 16.2L517.4 18.1M458 38L461.4 27.8M458 38L466.5 37.2M510.8 16.2L484.6 13.3M458 38L464 27.9M458 38L454.1 31.3M510.8 16.2L518.2 37.7M510.8 16.2L502.4 30M510.8 16.2L511.1 34.7M510.8 16.2L508.8 15M510.8 16.2L454.8 11M510.8 16.2L512.7 30.5M510.8 16.2L519.6 23.3M510.8 16.2L514.1 17.4M458 38L453.6 39.9M510.8 16.2L488.4 12.9M510.8 16.2L471.5 33M510.8 16.2L517.2 14.4M510.8 16.2L490.6 15.2M510.8 16.2L479.3 21.8M510.8 16.2L502.5 24.9M510.8 16.2L508.2 26.4M510.8 16.2L489.1 23.2M458 38L438.4 42.6" stroke="#00ff00" stroke-width="1.1" stroke-opacity="0.9" stroke-linecap="round" fill="none"/></g></g><clipPath id="cc01"><polygon points="455,44 455,44 452,46 454,52 458,58 461,62 462,77 433,77 433,72 436,60 441,47 437,45 434.5,44.6 434.4,44"/></clipPath><g clip-path="url(#cc01)"><g filter="url(#bl)"><path d="M447 42L447.2 73.5M447 42L456.2 72M447 42L462.6 67.6M447 42L447 46.4M447 42L441.3 51.7M447 42L439.9 60.5M447 42L435.7 65.8M447 42L461.6 70.5M447 42L443 63.9M447 42L440.9 51.3M447 42L440.4 70.4M447 42L450.4 68.3M447 42L446.4 55.3M447 42L457.2 77.4M447 42L452.6 67.7M447 42L453.9 56.1M447 42L446.6 63.5M447 42L452.7 78.8M447 42L444.2 57.1M447 42L445.3 52.8M447 42L450.8 69.5M447 42L449.2 53.3M447 42L438.1 67.2M447 42L446.9 77.2M447 42L453 63.7M447 42L457.3 62.3M447 42L436.8 60.9M447 42L450.7 67.9M447 42L447.7 65.9M447 42L440.5 64.2M447 42L451.7 76M447 42L444.8 73.4" stroke="#00ff00" stroke-width="0.8" stroke-opacity="0.9" stroke-linecap="round" fill="none"/><path d="M447 42L448 62.6M447 42L443.3 61.5M447 42L452.8 70.4M447 42L458.4 62.2M447 42L443.9 55M447 42L449.2 45.5M447 42L443.8 74.4M447 42L457 66.2M447 42L444.4 55.6M447 42L432.9 71.6M447 42L438.8 60M447 42L450.9 48.6M447 42L446.4 79.7M447 42L452.2 55.3M447 42L451.2 68.3M447 42L440 72.8M447 42L447.5 74.3M447 42L439 67.2M447 42L443.8 52.4M447 42L455.3 73.8M447 42L440.2 68.9M447 42L446 79.1" stroke="#00ff00" stroke-width="1.1" stroke-opacity="1" stroke-linecap="round" fill="none"/><path d="M447 42L443.7 48.5M447 42L441.7 44.4M447 42L449.2 70.9M447 42L441 65.5M447 42L447.9 48.8M447 42L460.3 70.1M447 42L455.9 67.9M447 42L439.2 63.4M447 42L455.3 56.2M447 42L443.3 48.6M447 42L444.5 75.1M447 42L450.9 79.4M447 42L437.9 66.2M447 42L451.8 69.8M447 42L450.5 66.3M447 42L443 48M447 42L444.7 72.8M447 42L444.7 75.6M447 42L449.9 58.8M447 42L439.9 73.9M447 42L446 70.4M447 42L456.2 68.5" stroke="#00ff00" stroke-width="0.6" stroke-opacity="0.9" stroke-linecap="round" fill="none"/><path d="M447 42L460.1 67.2M447 42L436.8 64.3M447 42L450.5 53.2M447 42L445.7 45.8M447 42L439 68.7M447 42L433.5 75M447 42L458.4 68.5M447 42L434.4 70.4M447 42L444.5 53.8M447 42L440 76.7M447 42L439 66.1M447 42L445.2 47.1M447 42L443.4 59.3M447 42L442.2 51.3M447 42L455.3 60.9M447 42L455.3 75.6M447 42L457.2 61.5M447 42L447.1 53.7M447 42L438.1 64.3M447 42L437.6 72.1M447 42L458.5 71.1M447 42L446.1 74.9M447 42L450.6 60.2M447 42L446.9 73.1M447 42L446.3 57.4M447 42L457 71.9M447 42L447.9 64.5M447 42L452.1 74M447 42L439.9 75.1" stroke="#00ff00" stroke-width="0.8" stroke-opacity="1" stroke-linecap="round" fill="none"/><path d="M447 42L449.3 65.2M447 42L450.5 60.5M447 42L441.7 79.7M447 42L455.4 64.2M447 42L438.2 60.3M447 42L456.4 71.4M447 42L455.5 64.3M447 42L460.2 74.3M447 42L442.4 75.2M447 42L446.7 60.7M447 42L448.3 67.7M447 42L450 68.2M447 42L441.9 55.8M447 42L442 63.8M447 42L451.3 45.8M447 42L457.9 66M447 42L434.1 71.6M447 42L452.9 68.7M447 42L453 59.2M447 42L456.4 64M447 42L448.7 48.7M447 42L440.9 63.3M447 42L450.5 52.4M447 42L454 54.6M447 42L462 75.6M447 42L437.3 56.2M447 42L452 60.2M447 42L445.9 45.4M447 42L455.4 75.8M447 42L453.7 60.4M447 42L441 59.6" stroke="#00ff00" stroke-width="1.1" stroke-opacity="0.9" stroke-linecap="round" fill="none"/><path d="M447 42L456.2 58.3M447 42L437.2 70M447 42L441.4 61.8M447 42L452.8 66M447 42L449.8 68.3M447 42L456.3 67M447 42L457.1 61M447 42L439.8 63.6M447 42L451.1 64.5M447 42L449.6 58.1M447 42L447.4 56.8M447 42L440.9 60.3M447 42L452.5 60.5M447 42L458.2 75M447 42L450.9 52.1M447 42L436.8 62.4M447 42L446.9 68.1M447 42L442.6 54.1M447 42L439.2 73.5M447 42L438.4 55.1M447 42L442.4 58.9M447 42L435 77.6M447 42L448.8 68.8M447 42L439.7 66.4M447 42L436.5 81M447 42L444 74.9M447 42L452.3 70.2M447 42L455.7 73.3" stroke="#00f828" stroke-width="1.1" stroke-opacity="0.8" stroke-linecap="round" fill="none"/><path d="M447 42L449.6 48M447 42L447.9 48.5M447 42L458.7 66.4M447 42L457.7 73.8M447 42L461.8 78.1M447 42L436.3 71.7M447 42L439.2 64.1M447 42L433.9 73.8M447 42L454.2 60.6M447 42L439 81.2M447 42L456.8 70.9M447 42L442 69.5M447 42L450.4 64.8M447 42L451.6 66.8M447 42L450.7 53.7M447 42L449.1 68.9M447 42L453.5 57.1M447 42L455.4 72.3M447 42L443.7 68.6M447 42L454.9 61.2M447 42L455.1 71.6M447 42L446.9 61.5M447 42L447 47.6M447 42L445.3 70.5M447 42L452.1 68.7M447 42L442.8 50.3M447 42L444 66.5" stroke="#00f828" stroke-width="0.8" stroke-opacity="0.8" stroke-linecap="round" fill="none"/><path d="M447 42L433.6 76.9M447 42L446.4 46.4M447 42L446.7 51.5M447 42L448.8 54.8M447 42L448.9 56.2M447 42L439.4 57.9M447 42L450.5 45.5M447 42L437.5 71.6M447 42L445.2 54.8M447 42L440.6 54M447 42L435.9 71.5M447 42L443.6 51.7M447 42L446.2 63.6M447 42L452.6 77.7M447 42L447.6 53.6M447 42L458.4 68.3M447 42L451.4 54.7M447 42L440.3 71.2M447 42L441.4 53.6M447 42L444 68.1M447 42L454.7 69.2M447 42L448.6 54.4M447 42L447.5 70M447 42L444.5 60.6M447 42L444.2 61.2" stroke="#00f828" stroke-width="0.6" stroke-opacity="0.8" stroke-linecap="round" fill="none"/><path d="M447 42L449.7 69.9M447 42L452.5 73.5M447 42L438.3 58.3M447 42L459.3 63.5M447 42L443.5 57.6M447 42L444.5 68.3M447 42L438.6 53.8M447 42L447.7 50.6M447 42L443.6 53.1M447 42L459.7 61.9M447 42L458.2 64.4M447 42L451.7 64.3M447 42L446.4 76.4M447 42L438.4 70.5M447 42L438.9 69.4M447 42L449.4 52.7M447 42L449.4 44.3" stroke="#00ff00" stroke-width="0.6" stroke-opacity="1" stroke-linecap="round" fill="none"/></g></g><clipPath id="cc10"><polygon points="500.4,41 528,41 527,55 526,73 525,80 525.3,84 434.6,84 434.7,83 470.8,83 500,84 500.5,78 500,70"/></clipPath><g clip-path="url(#cc10)"><g filter="url(#bl)"><path d="M501 84L521.1 58.6M501 84L502 40.7M501 84L507.3 78M501 84L516.9 82.5M501 84L506 78.3M501 84L521.2 51.5M501 84L513.5 49M501 84L504.3 49.6M501 84L506.2 40.5M501 84L507 45.2M501 84L523 60.9M501 84L514.1 79.2M501 84L517.4 81.2M501 84L509.3 67.9M501 84L509.6 58.5M501 84L507.2 56.8M501 84L517.8 81.1M501 84L515.3 63.7M449.6 97.7L474.6 82.5M501 84L508.7 52M501 84L516.1 71.5M501 84L508.1 46.2M501 84L526.2 51.6M501 84L501.9 61.7M449.6 97.7L442.9 81.8M501 84L525.7 42.9M501 84L528 46.1M501 84L515.4 80M501 84L507.2 43.5M501 84L521.5 75.3M501 84L514 55.7M501 84L514.7 81.4M501 84L502.9 66.5M501 84L517.6 55.1M501 84L511.1 66.3M501 84L517.3 59.6M501 84L513.8 70.9M501 84L522.1 65.8M501 84L519 40.7" stroke="#ff0000" stroke-width="1" stroke-opacity="0.8" stroke-linecap="round" fill="none"/><path d="M501 84L524.4 42.9M501 84L503.5 63.3M501 84L506.2 69M501 84L526.5 41.1M501 84L512.4 59.5M501 84L518 69.2M501 84L518.8 52.8M501 84L513 73.3M501 84L505.9 72.4M501 84L504.8 80.2M501 84L515.5 56.9M501 84L509.9 70.1M501 84L512 52M501 84L504.4 38.2M501 84L518.9 78.3M501 84L506.7 37.8M501 84L504.1 59.1M501 84L520 82.4M501 84L511.9 80.8M501 84L520.6 71.4M501 84L512.2 83.3M501 84L502.7 83.2M501 84L516.7 54M501 84L520.3 51M501 84L517.8 52.1M501 84L528.9 51.3M501 84L509.2 51.9M501 84L517.4 39M501 84L510.7 48.1M501 84L516.6 42.8M501 84L505.9 56.9M501 84L503.8 70.2M501 84L503.1 45.4M501 84L506.3 55.6M501 84L508.4 74.5" stroke="#ff3030" stroke-width="0.5" stroke-opacity="0.7" stroke-linecap="round" fill="none"/><path d="M501 84L521 50.4M501 84L509.4 68.4M501 84L503.5 43M501 84L504.7 61.4M501 84L502.9 48.8M501 84L517.6 78.1M501 84L507.3 53.9M501 84L501.9 67.9M501 84L518 70.2M501 84L509.3 75.9M449.6 97.7L476.3 81.8M501 84L504.2 56.9M501 84L506 56.7M501 84L509.8 42.3M501 84L505.5 68.4M501 84L506.1 77.8M449.6 97.7L470.2 84.1M501 84L511.1 75.1M501 84L516.1 61.9M501 84L522.1 44.8M501 84L524.8 47.5M501 84L523.6 56.5M501 84L523 54.6M501 84L510.3 50.3M501 84L524.3 47.7M501 84L506.5 48.1M501 84L511.4 77.9M501 84L506.7 43.4M501 84L503.6 57.3M501 84L521.1 50.5M501 84L513.1 60.7M501 84L506 48.4M501 84L521.8 77.2M501 84L521.8 64.8M501 84L500.9 67.8M501 84L517.9 38.2M501 84L520.9 64.9" stroke="#ff0000" stroke-width="0.8" stroke-opacity="1" stroke-linecap="round" fill="none"/><path d="M501 84L515.4 63.4M501 84L523 77.7M501 84L506.8 53.4M501 84L507.8 44.4M501 84L511.2 70.2M501 84L520.2 49.2M501 84L506.6 57.1M501 84L519.9 69.4M501 84L508.2 81.2M501 84L505.7 82.5M501 84L506.9 59.3M501 84L526.3 46.5M501 84L522.6 45.8M501 84L503.4 56.9M501 84L523.5 69.5M501 84L519.3 61.8M501 84L514.9 76M501 84L514.5 66.1M501 84L501.5 60M501 84L513.4 57.2M501 84L517.2 79.7M501 84L506 80.4M501 84L522.9 56.6M501 84L517 54.8M501 84L519.5 51.1M501 84L501.9 54M501 84L509.2 59.2M501 84L522.7 50.1M501 84L520.1 41.9M501 84L528.7 41.1M501 84L505.8 67.7M501 84L513.9 58.9M501 84L511.3 68.2M501 84L520.4 60M501 84L502.9 77.7" stroke="#ff0000" stroke-width="0.5" stroke-opacity="1" stroke-linecap="round" fill="none"/><path d="M449.6 97.7L449.5 85M501 84L505.5 63.7M501 84L502 71.5M501 84L503.3 64.8M501 84L518.2 83.1M501 84L510.9 64.6M501 84L501.5 59.5M501 84L515.5 59.3M501 84L528.3 42.9M501 84L526.1 58.8M501 84L519.4 47.6M501 84L506.8 46.6M501 84L512.4 63.1M501 84L510.4 67.6M501 84L501.7 64.2M501 84L508.6 75.2M501 84L523.1 69.8M501 84L500.9 77.2M501 84L510.9 58.2M501 84L518.4 58.9M501 84L501.3 61M501 84L507 53.8M501 84L510.3 71.7M501 84L529.6 62M501 84L528.1 41.4M501 84L517.5 68.5M501 84L510.3 61.5M501 84L508.7 75.2M501 84L520.3 78.4M501 84L500.5 52.3M501 84L504.4 48.3M501 84L517.7 60.4M501 84L507.8 57.5M501 84L512.4 53M501 84L506.6 46.5M501 84L523.1 48.5M501 84L501.9 70.5M501 84L510.7 57.3M501 84L506.4 75.3M501 84L505.5 55.6M501 84L507.5 62.9M501 84L510.7 69.9M501 84L517.8 68.2M501 84L503 81.3M501 84L506.7 52.5M501 84L510.8 44.4" stroke="#ff0000" stroke-width="0.8" stroke-opacity="0.8" stroke-linecap="round" fill="none"/><path d="M501 84L512.4 66.3M501 84L506.3 81.8M501 84L517.5 52M501 84L501.7 79.7M501 84L513 71.6M449.6 97.7L445.3 84.7M449.6 97.7L459.9 84.8M501 84L517.3 64M501 84L522.5 80.4M501 84L507 56.5M501 84L515.4 75.8M501 84L517.2 80.7M501 84L510.6 46.4M501 84L507.4 57.6M501 84L508.9 73.1M501 84L515.7 41M501 84L509 77.2M501 84L508.6 50.4M501 84L503.4 48.1M501 84L520.5 39.1M501 84L521.2 67.5M501 84L500.9 49.6M501 84L516.1 52.1M501 84L509.6 62.3M501 84L517.4 44.4M501 84L512.2 54.5M501 84L525.8 49.3M449.6 97.7L454.2 83.8M501 84L516.8 52.7M501 84L511.2 47.6M501 84L507.5 52.1M501 84L521.7 41.8M501 84L517 77.2M501 84L522.8 48.7M501 84L517.5 48.5M501 84L510.3 66.7M501 84L519.8 73.8M478 91L481.2 82.8M501 84L501.2 74.9M501 84L521.7 68.2M501 84L507.9 68.4M501 84L527.6 65.6" stroke="#ff3030" stroke-width="0.8" stroke-opacity="0.7" stroke-linecap="round" fill="none"/><path d="M501 84L504.5 82.9M501 84L503.9 83M501 84L508.3 68.6M501 84L520.6 60.4M449.6 97.7L444.7 85M501 84L503.8 43.5M501 84L507.5 40M501 84L506.2 72.3M501 84L521.7 70.6M501 84L527 67.8M501 84L510 62.3M501 84L509.6 66.5M501 84L507.5 64.7M501 84L517.7 50.2M501 84L524.1 56.1M501 84L517.4 69.6M449.6 97.7L465.5 83.1M501 84L511.8 44.9M501 84L520.7 72.2M501 84L521.4 64.1M501 84L527.7 40.7M501 84L509.6 55.6M501 84L521.1 64M501 84L518.7 47.6M501 84L513.4 58.1M501 84L507.3 69.2M501 84L502 73M501 84L508.5 60.3M501 84L525.5 68.6M501 84L515.4 65.7M501 84L519.7 78.9M501 84L500.5 51.5M449.6 97.7L444.7 84.6M501 84L501.3 62M501 84L513.9 82.7M501 84L501.2 76.5M501 84L506.7 76.9M501 84L503.1 70.4M501 84L502.2 50.4M501 84L514.8 63.3M501 84L515.2 81.8M501 84L507.2 65.7M501 84L514.4 80.7M501 84L513.3 81.6M501 84L512 48.2M501 84L514 59.7M501 84L518.1 64.8M501 84L510.7 61.1" stroke="#ff3030" stroke-width="1" stroke-opacity="0.7" stroke-linecap="round" fill="none"/><path d="M501 84L519.1 64.3M501 84L503.2 69.6M449.6 97.7L460.5 83.1M501 84L519.1 55.9M501 84L520.3 65M501 84L525.4 66M501 84L517.9 38.8M501 84L507.7 74.1M501 84L522 67.7M501 84L504.4 43M501 84L512 48.4M501 84L523.8 70.9M501 84L502 84M501 84L501.6 66.3M501 84L503.5 57.1M501 84L517.3 51.8M501 84L517.8 44.6M501 84L515.8 39.1M501 84L522.4 54.5M501 84L505.4 83.1M501 84L500.4 61M501 84L506 73.1M501 84L514.5 53.5M501 84L524.2 45.3M501 84L523.1 62.5M501 84L519.3 62.5M501 84L502.7 50M501 84L517.6 77.4M501 84L515 47.3M501 84L505.5 63.1M501 84L509.9 63.8M501 84L526.7 55.1M501 84L524.9 55.9M501 84L519.7 63.9M501 84L509.2 65.2M501 84L509.6 60.1M501 84L503.8 63.2M501 84L507.2 63.1M501 84L518.4 46.1M501 84L524.1 40.8" stroke="#ff0000" stroke-width="0.5" stroke-opacity="0.8" stroke-linecap="round" fill="none"/><path d="M501 84L520.1 71.4M501 84L516.5 51M501 84L515.2 64.3M501 84L501.8 79.7M501 84L514.5 49M501 84L512.8 52.7M501 84L511.2 45.8M501 84L505.9 52.2M501 84L505.3 58.9M449.6 97.7L455 83.3M501 84L521.5 64M501 84L500.5 67.9M501 84L511.5 52.5M501 84L509.8 41M501 84L520.2 71.8M501 84L520.1 79.8M501 84L513.4 65.4M501 84L504.9 62.8M501 84L510.7 68.6M501 84L510.8 62.8M501 84L513.6 38.8M501 84L519 64M501 84L506.8 49.1M501 84L523.2 74M501 84L516.1 38.9M501 84L510.8 76.4M501 84L524.9 48.2M501 84L517.6 70.5M501 84L505.4 45.9M501 84L515.4 71.9M501 84L521.5 71M501 84L511.8 48M501 84L507 54.1M501 84L510.3 45.2M501 84L520.4 54.9" stroke="#ff0000" stroke-width="1" stroke-opacity="1" stroke-linecap="round" fill="none"/></g></g><clipPath id="cc11"><polygon points="525.3,84 525.3,84.2 526.6,98 526,103.5 480,104 433.5,104.5 433.4,95 434.6,84 500,84 500,84 500,84"/></clipPath><g clip-path="url(#cc11)"><g filter="url(#bl)"><path d="M478 91L503.2 96.4M449.6 97.7L453.2 94.2M449.6 97.7L459.2 94.9M449.6 97.7L459 95.2M478 91L515.9 95.8M478 91L502.1 91.7M449.6 97.7L440.8 96.8M449.6 97.7L470.9 99.5M478 91L511.9 94.5M449.6 97.7L458.4 96M478 91L489.8 89.7M449.6 97.7L472.3 98.9M449.6 97.7L456.9 96.4M449.6 97.7L446.7 92.4M478 91L489 91.9M449.6 97.7L459.3 88.8M449.6 97.7L445.9 91.3M478 91L491.2 98.7M449.6 97.7L472.3 91.3M478 91L509.1 91.7M449.6 97.7L451.8 91.9M449.6 97.7L458.1 87.1M449.6 97.7L466.8 102.9M478 91L508 99.1M449.6 97.7L468.6 84.5M478 91L510.8 96.5M449.6 97.7L444.2 100.1M478 91L506.7 98.6M449.6 97.7L454 98.2M478 91L502.7 99.1M478 91L507.3 96.2M478 91L506.8 92.2M478 91L513.9 86.2M478 91L520.8 91.3M449.6 97.7L463.3 98.3M478 91L516.6 102.4M478 91L522.3 96.8M449.6 97.7L461.4 99.6M449.6 97.7L455.2 99.4M449.6 97.7L467.2 95M449.6 97.7L446.3 93.5M449.6 97.7L476 88.3M478 91L527 103.2M449.6 97.7L466.1 102.9M478 91L496.7 85.6M478 91L518.4 85.5M449.6 97.7L458.3 84.6M478 91L507.3 97.3M449.6 97.7L455.9 93.9M449.6 97.7L452 96.6" stroke="#ff0000" stroke-width="0.5" stroke-opacity="0.8" stroke-linecap="round" fill="none"/><path d="M449.6 97.7L472.3 97.8M449.6 97.7L458.3 95.7M449.6 97.7L461.5 87.8M478 91L494.5 95.7M478 91L496.9 98.9M449.6 97.7L468.8 95.2M478 91L492.8 95.9M449.6 97.7L468.2 87.7M449.6 97.7L444.3 88.1M478 91L500.8 96.7M449.6 97.7L454.8 101.7M449.6 97.7L469.7 88.8M449.6 97.7L474 99.6M478 91L486.2 91.9M449.6 97.7L442.9 84.7M449.6 97.7L438.1 89.9M449.6 97.7L474.2 98M449.6 97.7L477.5 96.8M449.6 97.7L475.9 95.8M478 91L492.9 90.1M449.6 97.7L454.8 101.3M449.6 97.7L467.2 87.4M449.6 97.7L436.5 89.3M449.6 97.7L458.3 93.5M478 91L514.2 84.1M478 91L492.6 97.7M478 91L525.7 93.3M478 91L501.9 93.7M449.6 97.7L445.1 98.2M449.6 97.7L458.9 89.9M449.6 97.7L444.4 94M449.6 97.7L478.1 87.4M449.6 97.7L441.4 91.7M449.6 97.7L439.3 90.5M449.6 97.7L461 91.6M478 91L503.5 102.8M478 91L481.3 92.2M449.6 97.7L442.1 88.8M478 91L480.7 91.1M449.6 97.7L476.9 96.1M478 91L495.7 94.8M478 91L523.5 99.8M478 91L518 101.9M449.6 97.7L463.3 103M478 91L520.1 87.2M449.6 97.7L454.3 99.4M449.6 97.7L461.2 87.5M478 91L528.8 88.1M449.6 97.7L438.2 96.6M449.6 97.7L472.4 88.5M478 91L499 87.6M478 91L491.8 91.4M478 91L531.6 84.9M478 91L508.2 105.4M478 91L510.4 100.6M478 91L499.9 91.6M478 91L527 93.7" stroke="#ff3030" stroke-width="0.5" stroke-opacity="0.7" stroke-linecap="round" fill="none"/><path d="M478 91L521.5 102.7M449.6 97.7L465.6 87.7M478 91L515.4 98.7M478 91L524.2 86.4M478 91L495.9 92.1M478 91L497.2 95M449.6 97.7L440.3 90.8M478 91L478.9 91.3M478 91L507.5 101.5M478 91L513.2 92.7M449.6 97.7L437.1 102.4M449.6 97.7L474 103M478 91L528 100.9M478 91L514.8 104.1M449.6 97.7L452.4 85.6M449.6 97.7L478.5 97.2M449.6 97.7L469.8 93.5M478 91L526.7 101.4M449.6 97.7L462.9 100.3M449.6 97.7L464.3 99.4M449.6 97.7L462.2 96.1M478 91L492.5 86.1M449.6 97.7L453.9 97M449.6 97.7L439.3 103M478 91L509.5 97.8M478 91L508 96.8M478 91L510.2 103.7M449.6 97.7L474.4 91.9M449.6 97.7L455.8 96.6M449.6 97.7L470.1 95.5M478 91L510.6 102.9M449.6 97.7L465.5 92.9M449.6 97.7L448.3 94M449.6 97.7L471.6 101.2M478 91L530.7 91M478 91L510.5 101.6M478 91L504.2 96M478 91L512.3 87.2M449.6 97.7L463.3 90.7M478 91L502.4 90.3M449.6 97.7L467.5 99.6M478 91L506.9 86.6M478 91L498.1 96.8M478 91L517.1 85.3M449.6 97.7L460.1 100.3M478 91L527.4 93.6M478 91L493.6 92.9M449.6 97.7L472.7 87M449.6 97.7L456.3 92.7M478 91L516.8 93.5M449.6 97.7L462.7 100.9M478 91L499.8 85.3M478 91L502.4 102.5M478 91L490.9 93.5M478 91L519.9 83.1M478 91L511.2 96.8M478 91L479.7 91.1M478 91L511.8 88.8M478 91L483.4 90.6M478 91L495.3 99.3" stroke="#ff3030" stroke-width="1" stroke-opacity="0.7" stroke-linecap="round" fill="none"/><path d="M478 91L494.7 86M449.6 97.7L447.3 94.9M478 91L490.3 93.8M449.6 97.7L457.4 95.9M449.6 97.7L471 98.7M478 91L514.4 88.3M478 91L516.6 94.2M478 91L510.6 88.9M478 91L497.2 91.5M449.6 97.7L463.6 89.8M449.6 97.7L448.6 98.1M449.6 97.7L439.7 96.5M478 91L501.5 90.1M449.6 97.7L437.2 103.6M449.6 97.7L465.4 103.2M478 91L496.7 92.7M478 91L518 88.2M449.6 97.7L461.4 100.8M449.6 97.7L469.4 92.2M449.6 97.7L443.5 97.8M478 91L510.1 97M478 91L519.1 94.7M449.6 97.7L446.9 96.3M449.6 97.7L455.1 92.1M478 91L500.5 94.4M478 91L508.2 85.6M449.6 97.7L438.9 101.6M449.6 97.7L451.6 95.4M478 91L500.2 91.9M449.6 97.7L446.3 95.4M449.6 97.7L455.2 87.4M449.6 97.7L467.4 95.5M478 91L510.4 96.3M478 91L510.9 94.1M449.6 97.7L453.5 99.2M449.6 97.7L435.9 98.6M478 91L505.7 97.4M449.6 97.7L473.5 87M449.6 97.7L456.7 94.2M449.6 97.7L451.7 85.1M449.6 97.7L465.8 103.5" stroke="#ff3030" stroke-width="0.8" stroke-opacity="0.7" stroke-linecap="round" fill="none"/><path d="M478 91L495.4 93.3M478 91L511.3 94.5M478 91L489.9 93.4M478 91L507 90.7M449.6 97.7L462.5 91.6M449.6 97.7L470.5 90.7M478 91L491 87.3M449.6 97.7L460 94.6M449.6 97.7L457.4 96.2M478 91L507.7 102.5M449.6 97.7L469.3 100.7M449.6 97.7L458.3 104.3M449.6 97.7L448.9 96.1M478 91L506.3 87.2M478 91L512.1 87.5M449.6 97.7L467.8 89.1M478 91L504 87M449.6 97.7L441.8 93.9M478 91L516.3 94.1M449.6 97.7L437.6 91M449.6 97.7L455.3 87.4M478 91L507.9 97.3M478 91L491.2 88.8M478 91L486.6 95M478 91L484.3 92.8M449.6 97.7L460.3 85.2M478 91L515.6 102.5M449.6 97.7L465.9 88.4M478 91L501.3 89.5M478 91L485.9 96.4M449.6 97.7L457 102.4M478 91L521.4 97.2M449.6 97.7L438.6 103.4M449.6 97.7L456 88.7M449.6 97.7L456.3 100.6M449.6 97.7L471.3 91.8M449.6 97.7L465.7 99M478 91L509.9 85M449.6 97.7L434.4 91.1M449.6 97.7L475.9 92.1M449.6 97.7L457.8 88.7M449.6 97.7L471.7 100.5M478 91L490.9 92.1M449.6 97.7L462.6 85M478 91L493.5 97.9M449.6 97.7L476.8 98.4M449.6 97.7L446.6 98.6M449.6 97.7L463.4 86.2M478 91L484.5 104.4M478 91L503 88.3M478 91L522.9 93.8M478 91L496.1 98.4M478 91L523.4 89.5M478 91L480.7 94M449.6 97.7L435.1 103.7M478 91L514.3 102.3M449.6 97.7L460.1 101.9M449.6 97.7L454.1 98.2M478 91L505.2 84.8M478 91L512.3 88.9M449.6 97.7L465.5 99.3M449.6 97.7L452 97.6M478 91L526.8 92.9M478 91L492.8 93.9M478 91L525.1 86.6M478 91L517.2 100.2M478 91L486.7 100.5M449.6 97.7L441.7 85.1" stroke="#ff0000" stroke-width="0.5" stroke-opacity="1" stroke-linecap="round" fill="none"/><path d="M449.6 97.7L458.2 93.1M449.6 97.7L465.3 87.7M449.6 97.7L458.7 97.6M478 91L521 91.4M478 91L515.4 102.2M449.6 97.7L456.2 96M478 91L530.7 87.7M449.6 97.7L471.3 85.6M449.6 97.7L448.9 96.1M478 91L493.2 98.9M478 91L482.7 90.6M478 91L511.8 99.8M478 91L487.3 95.1M478 91L527 91.1M478 91L485.1 96.4M449.6 97.7L470.7 96.7M478 91L509.5 89.2M478 91L485.2 102.6M449.6 97.7L451.8 92.3M478 91L489.9 96.3M478 91L497.9 93.1M449.6 97.7L458.8 98.7M449.6 97.7L442.2 97.9M478 91L505.3 99.2M478 91L494.9 89.1M478 91L500.4 90.9M449.6 97.7L443 100.6M449.6 97.7L458.2 101M449.6 97.7L463.6 103.2M478 91L520.1 101M478 91L523.9 96M478 91L527.2 95.4M449.6 97.7L440.9 87.9M478 91L491.3 89.8M478 91L496.3 86M449.6 97.7L466.2 84.7M449.6 97.7L464.5 95M478 91L500.5 99.7M449.6 97.7L440.3 87.4M449.6 97.7L435.6 102.7M449.6 97.7L460.6 88.5M478 91L497.9 89.6M449.6 97.7L455.6 102.5M449.6 97.7L440.9 89.3M478 91L495.6 96.5M449.6 97.7L474.5 89.3M449.6 97.7L444.8 100.2" stroke="#ff0000" stroke-width="1" stroke-opacity="1" stroke-linecap="round" fill="none"/><path d="M449.6 97.7L452.4 95M449.6 97.7L447.1 94.8M478 91L528.3 92.6M478 91L505.4 92.6M478 91L479.7 90.6M449.6 97.7L453.8 93.1M449.6 97.7L439.5 96.7M478 91L507.7 85.6M449.6 97.7L470.1 100.4M449.6 97.7L435.8 104.4M449.6 97.7L474.6 97.3M449.6 97.7L452.2 86.4M449.6 97.7L455.3 90M449.6 97.7L446.9 92.6M449.6 97.7L478.3 101.8M478 91L504.7 94M478 91L487.1 96.7M478 91L506.4 103.5M449.6 97.7L458 88M449.6 97.7L456.1 84.3M449.6 97.7L455.8 102.1M449.6 97.7L455 91.9M478 91L497.4 102.5M449.6 97.7L459.8 89.6M478 91L508.9 102.4M449.6 97.7L477.1 92.2M449.6 97.7L476.6 95.5M478 91L491.5 96.9M449.6 97.7L455.6 96.7M478 91L506.2 86.2M478 91L483.1 96.4M478 91L517.9 90.2M478 91L500.8 90.3M449.6 97.7L462.6 91.6M449.6 97.7L469.3 88.9M449.6 97.7L464.9 90.8M449.6 97.7L455.6 86.8M449.6 97.7L467.9 86.7M478 91L521.4 88.9M478 91L504.5 100.6M449.6 97.7L434.2 104.2M449.6 97.7L459.4 93.7M449.6 97.7L461.2 87.7M478 91L505.8 83.6M478 91L509.5 101.9M478 91L522.1 92.5M478 91L498.7 98.2M478 91L496.7 96.8M449.6 97.7L462.7 100.8M478 91L495 87.5M478 91L510.1 93.1M449.6 97.7L470.9 88.2M449.6 97.7L446.5 87.6M478 91L524.1 88.8M478 91L504.2 90.2M478 91L504.8 102.7M478 91L505.9 91.6" stroke="#ff0000" stroke-width="0.8" stroke-opacity="0.8" stroke-linecap="round" fill="none"/><path d="M478 91L503.7 86.8M449.6 97.7L472.4 90.6M449.6 97.7L461.5 94.6M449.6 97.7L472 89.4M449.6 97.7L446.9 89.5M449.6 97.7L445.7 88.4M449.6 97.7L455.7 96.8M449.6 97.7L461.8 89.9M449.6 97.7L454.5 90.7M449.6 97.7L459.5 92.7M478 91L487.5 84.9M449.6 97.7L437.3 104.4M478 91L530.3 95.7M478 91L510.5 104.7M449.6 97.7L453.1 91.3M478 91L497.7 93.2M449.6 97.7L451.3 83.8M449.6 97.7L458.4 94.8M449.6 97.7L472.3 87.1M478 91L493.1 94.4M449.6 97.7L470.9 86.1M478 91L499.5 89.9M449.6 97.7L464.4 97.3M478 91L513.9 96.4M449.6 97.7L456.3 91.1M449.6 97.7L466.4 103.4M478 91L517.3 83.6M478 91L512.8 87.4M449.6 97.7L437.2 98.6M478 91L508.9 102M478 91L519.9 93.2M478 91L499.1 93.9M478 91L495.4 99.3M478 91L508.4 93.8M449.6 97.7L473.3 87.2M449.6 97.7L440.2 92M478 91L529.4 92M449.6 97.7L474.2 83.7M478 91L512 92.9M449.6 97.7L470.3 84.7M449.6 97.7L446.9 98.6M449.6 97.7L469.6 94.6M478 91L491.2 95.5M478 91L489.6 95.8M449.6 97.7L467.6 101M449.6 97.7L464.5 94.5M449.6 97.7L459.8 87M478 91L512.6 90.3M478 91L515.1 90.6M449.6 97.7L458.2 90.8M478 91L491.7 94M449.6 97.7L472.6 91.3M478 91L491.5 88.2" stroke="#ff0000" stroke-width="1" stroke-opacity="0.8" stroke-linecap="round" fill="none"/><path d="M478 91L503 89M478 91L506.9 96.5M449.6 97.7L470.9 94.9M449.6 97.7L469.3 102.5M449.6 97.7L475.2 97.6M449.6 97.7L468.4 93.8M478 91L507.3 96.9M449.6 97.7L469.9 95.6M449.6 97.7L441.1 94.1M449.6 97.7L432.4 87.7M449.6 97.7L440.2 101.4M449.6 97.7L467.9 93.3M449.6 97.7L465.1 104.1M449.6 97.7L446.1 91.5M478 91L507.2 99.4M449.6 97.7L456.2 102.4M478 91L483 94.2M449.6 97.7L467.8 90M478 91L516.3 93.5M449.6 97.7L466.8 92.3M449.6 97.7L438.8 93.1M478 91L510.1 96M449.6 97.7L467 86.3M478 91L479.4 90.7M478 91L506.4 95.5M449.6 97.7L441.9 102.5M449.6 97.7L471 91.3M478 91L527.2 87.9M449.6 97.7L434.9 91.5M478 91L495.6 98.3M478 91L512.1 93.5M478 91L508.3 98.7M478 91L498 99.7M478 91L513.7 98.9M449.6 97.7L442 91.9M449.6 97.7L465.4 82.6M478 91L487.5 85.8M449.6 97.7L446.5 88.4M449.6 97.7L468.2 99.8M478 91L494 101.5M449.6 97.7L459.4 93.8M449.6 97.7L454.4 90.5M478 91L498.7 85.9M478 91L499.1 104.2M478 91L502.3 96.1M449.6 97.7L459.7 89.4M449.6 97.7L464.4 92.6M449.6 97.7L442.3 85.6" stroke="#ff0000" stroke-width="0.8" stroke-opacity="1" stroke-linecap="round" fill="none"/></g></g><rect x="460.1" y="36.7" width="71.8" height="5.1" fill="#fff" stroke="#9c9c9c" stroke-width="0.5"/><rect x="429.3" y="77.2" width="71.8" height="5.1" fill="#fff" stroke="#9c9c9c" stroke-width="0.5"/><ellipse cx="490.9" cy="51.9" rx="10.3" ry="10.1" fill="#fff" stroke="#9c9c9c" stroke-width="0.5"/><ellipse cx="470.3" cy="67.1" rx="10.3" ry="10.1" fill="#fff" stroke="#9c9c9c" stroke-width="0.5"/><polyline points="510.8,16.2 484,28.9 460.8,32.6 457,38 452.1,46.1 459.6,51.7 469.5,56 484,61 499.8,69.9 501,78.6 502.3,86 498.7,86.7 482.2,90 472.7,93 449.6,97.7" fill="none" stroke="#3030b0" stroke-width="0.9" stroke-linejoin="round"/><circle cx="460.8" cy="32.6" r="0.75" fill="#10d8f0"/><circle cx="459.6" cy="51.7" r="0.75" fill="#10d8f0"/><circle cx="499.8" cy="69.9" r="0.75" fill="#10d8f0"/><circle cx="498.7" cy="86.7" r="0.75" fill="#10d8f0"/><circle cx="449.8" cy="97.6" r="1.3" fill="#ff00ff"/><circle cx="511.4" cy="16.4" r="1.3" fill="#000"/><rect x="416.5" y="6.2" width="128.2" height="101.5" fill="none" stroke="#a8a8a8" stroke-width="0.5"/><text x="429.8" y="113.6" font-size="4" text-anchor="middle" fill="#383838">0</text><text x="450.3" y="113.6" font-size="4" text-anchor="middle" fill="#383838">20</text><text x="470.8" y="113.6" font-size="4" text-anchor="middle" fill="#383838">40</text><text x="491.4" y="113.6" font-size="4" text-anchor="middle" fill="#383838">60</text><text x="511.9" y="113.6" font-size="4" text-anchor="middle" fill="#383838">80</text><text x="532.4" y="113.6" font-size="4" text-anchor="middle" fill="#383838">100</text><text x="415.1" y="109.4" font-size="4" text-anchor="end" fill="#383838">0</text><text x="415.1" y="99.3" font-size="4" text-anchor="end" fill="#383838">10</text><text x="415.1" y="89.1" font-size="4" text-anchor="end" fill="#383838">20</text><text x="415.1" y="79" font-size="4" text-anchor="end" fill="#383838">30</text><text x="415.1" y="68.8" font-size="4" text-anchor="end" fill="#383838">40</text><text x="415.1" y="58.7" font-size="4" text-anchor="end" fill="#383838">50</text><text x="415.1" y="48.5" font-size="4" text-anchor="end" fill="#383838">60</text><text x="415.1" y="38.4" font-size="4" text-anchor="end" fill="#383838">70</text><text x="415.1" y="28.2" font-size="4" text-anchor="end" fill="#383838">80</text><text x="415.1" y="18.1" font-size="4" text-anchor="end" fill="#383838">90</text><text x="415.1" y="7.9" font-size="4" text-anchor="end" fill="#383838">100</text><text x="480.6" y="119" font-size="4.2" text-anchor="middle" fill="#383838">X</text><text x="404.3" y="58.2" font-size="4.2" text-anchor="middle" fill="#383838" transform="rotate(-90 404.3 57)">Y</text><rect x="497.8" y="9.6" width="43.7" height="5.5" fill="#fff" stroke="#9a9a9a" stroke-width="0.4"/><line x1="499.1" y1="12.3" x2="510.3" y2="12.3" stroke="#3838d0" stroke-width="1.1"/><circle cx="504.8" cy="12.3" r="0.8" fill="#20e0f0"/><text x="511.8" y="13.5" font-size="3.4" fill="#222">Improved Bi-RRT*</text><text x="408.7" y="133.8" font-family="Liberation Serif" font-size="11.6" fill="#000" textLength="136.4" lengthAdjust="spacingAndGlyphs">(<tspan font-weight="bold">c</tspan>) Improved Bi-APF-RRT*</text></g>
<g font-family="Liberation Sans"><line x1="76" y1="147.2" x2="76" y2="248.6" stroke="#e4e4e4" stroke-width="0.4"/><line x1="96.6" y1="147.2" x2="96.6" y2="248.6" stroke="#e4e4e4" stroke-width="0.4"/><line x1="117.1" y1="147.2" x2="117.1" y2="248.6" stroke="#e4e4e4" stroke-width="0.4"/><line x1="137.6" y1="147.2" x2="137.6" y2="248.6" stroke="#e4e4e4" stroke-width="0.4"/><line x1="158.1" y1="147.2" x2="158.1" y2="248.6" stroke="#e4e4e4" stroke-width="0.4"/><line x1="178.7" y1="147.2" x2="178.7" y2="248.6" stroke="#e4e4e4" stroke-width="0.4"/><line x1="63.2" y1="248.6" x2="191.5" y2="248.6" stroke="#e4e4e4" stroke-width="0.4"/><line x1="63.2" y1="238.5" x2="191.5" y2="238.5" stroke="#e4e4e4" stroke-width="0.4"/><line x1="63.2" y1="228.3" x2="191.5" y2="228.3" stroke="#e4e4e4" stroke-width="0.4"/><line x1="63.2" y1="218.2" x2="191.5" y2="218.2" stroke="#e4e4e4" stroke-width="0.4"/><line x1="63.2" y1="208" x2="191.5" y2="208" stroke="#e4e4e4" stroke-width="0.4"/><line x1="63.2" y1="197.9" x2="191.5" y2="197.9" stroke="#e4e4e4" stroke-width="0.4"/><line x1="63.2" y1="187.8" x2="191.5" y2="187.8" stroke="#e4e4e4" stroke-width="0.4"/><line x1="63.2" y1="177.6" x2="191.5" y2="177.6" stroke="#e4e4e4" stroke-width="0.4"/><line x1="63.2" y1="167.5" x2="191.5" y2="167.5" stroke="#e4e4e4" stroke-width="0.4"/><line x1="63.2" y1="157.3" x2="191.5" y2="157.3" stroke="#e4e4e4" stroke-width="0.4"/><line x1="63.2" y1="147.2" x2="191.5" y2="147.2" stroke="#e4e4e4" stroke-width="0.4"/><clipPath id="cd00"><polygon points="81.9,156.2 90,154 99.4,152.5 111.8,150 130,148.7 150,148.3 156,148 160,149 165,152 171.3,157.5 175,158.7 175,165 173,170 171.3,176.1 176.2,178 81.1,178 81.3,170"/></clipPath><g clip-path="url(#cd00)"><g filter="url(#bl)"><path d="M157.4 157.1L146.6 176.2M133 170L108.7 159.5M157.4 157.1L148.3 176M157.4 157.1L144.2 164.8M157.4 157.1L160.5 162M133 170L132.5 167.2M157.4 157.1L158.2 166.7M157.4 157.1L150.1 153.9M133 170L96.7 155.6M157.4 157.1L147.8 164M157.4 157.1L142.2 166.7M106.6 177.5L100.2 177M157.4 157.1L145.6 174M106.6 177.5L98.2 176.9M157.4 157.1L146.6 167M157.4 157.1L154.9 156M133 170L135.9 159.4M133 170L127.8 155.1M106.6 177.5L92.5 177.4M157.4 157.1L150.5 147M133 170L116.2 160M106.6 177.5L85.6 177.3M157.4 157.1L153.2 172.3M157.4 157.1L164.5 160.2M133 170L100.9 161.2M133 170L134.9 156.4M157.4 157.1L159.1 160.7M157.4 157.1L140.4 164.3M157.4 157.1L149.4 154.8M157.4 157.1L164.5 176.6M133 170L126 170M157.4 157.1L150.7 154M133 170L112.8 168.9M157.4 157.1L163.4 168.4M133 170L114.6 172.4M157.4 157.1L147.7 174.1M133 170L138.2 151.8M133 170L125.5 167.7M133 170L120.9 161M157.4 157.1L165.1 164.9M157.4 157.1L151.7 168.8M157.4 157.1L153.8 159M157.4 157.1L142.1 150.8M133 170L134.9 165.6M133 170L125.4 152.2M106.6 177.5L89.2 176.2M157.4 157.1L155.4 158.8M157.4 157.1L157.9 172.4M157.4 157.1L160.8 167.9M157.4 157.1L149.4 165.6M133 170L120.7 163.5M157.4 157.1L153.5 167.8M157.4 157.1L143.1 159.4M157.4 157.1L146 152.7M157.4 157.1L147.8 171.7M157.4 157.1L147 153.1M133 170L117 161.9M133 170L101.3 163M133 170L108.8 166.8M133 170L126.2 161.7M133 170L129.2 151M157.4 157.1L151.7 158.4M157.4 157.1L140.8 158.9M157.4 157.1L162.9 161.7M133 170L123.2 176.7M157.4 157.1L159.9 164.8M133 170L126.9 163.1M106.6 177.5L95 170.5M157.4 157.1L151.1 174.2M157.4 157.1L152.8 171.1M133 170L137.7 151.2M133 170L119.6 168.9M133 170L123.3 158.5M133 170L114.7 157.3M157.4 157.1L152.7 160.6M157.4 157.1L169 172M157.4 157.1L141.2 173.4M106.6 177.5L101.4 174.1M157.4 157.1L157.6 173.9M157.4 157.1L164.3 157.4M133 170L139.5 146.8M157.4 157.1L156.2 161.7M133 170L89.3 166.4M133 170L89.9 157.8M157.4 157.1L147.1 176.8M133 170L130.4 156.4M106.6 177.5L97.1 172.5M133 170L135.2 174.6M133 170L130.3 174.6M133 170L89.5 160.2M133 170L106.9 163.1M157.4 157.1L144.5 168.4M157.4 157.1L170.3 164.4M133 170L131.9 150.9M133 170L105.5 158.5M133 170L125.1 168.8M133 170L113.3 161.5M157.4 157.1L158.4 171.2M106.6 177.5L93.7 177.1M157.4 157.1L142.8 176.1M106.6 177.5L100.9 177.6M157.4 157.1L153.8 150.4M157.4 157.1L157.3 173M133 170L127.2 154.2M106.6 177.5L86.4 176.6M106.6 177.5L107.5 172.9M133 170L84.9 164.5M157.4 157.1L148.3 155.2M106.6 177.5L89.6 177.7M133 170L78.9 161.7M157.4 157.1L156 173M133 170L107.8 162.9M133 170L93.9 153M157.4 157.1L164.6 166.4M133 170L92.9 156.6M133 170L114 172M106.6 177.5L104.5 167.6M133 170L94 158.5M133 170L121.9 155.3M133 170L93.2 156.2M106.6 177.5L103.6 174.5M157.4 157.1L146.5 166.8M157.4 157.1L165.1 167.2M133 170L122.9 166.7M157.4 157.1L143.6 159.8M133 170L82.9 157M133 170L128.7 171.7M133 170L102.9 168.1M157.4 157.1L143.6 169.5M157.4 157.1L166.3 173.5M133 170L129.4 160.3M157.4 157.1L142.1 165.9M157.4 157.1L144.4 150.8M133 170L112.1 163.8M157.4 157.1L165.4 167.6M133 170L100.1 161.4M157.4 157.1L146.5 152.7M133 170L115.7 158.3M133 170L122.8 171.2M157.4 157.1L144.2 167.8M133 170L115 176.6M133 170L127.1 167.2M157.4 157.1L160.4 162.5M157.4 157.1L141.9 172.5M133 170L135.8 153.7M157.4 157.1L141.6 179.7M133 170L130.3 170.1M157.4 157.1L171 171.3M133 170L96 157.8M157.4 157.1L159.1 157.7M157.4 157.1L170.2 157.8M133 170L123.4 151.2M133 170L123.5 152.9M157.4 157.1L162.1 169.8M133 170L125.5 164.5M133 170L139.1 147.6M133 170L127.7 168.3M133 170L116.9 157.6M157.4 157.1L156.3 155.6M157.4 157.1L156.3 155.4M157.4 157.1L166.6 169.7M157.4 157.1L142.9 167M133 170L139.2 160.1M157.4 157.1L150.6 152.9M157.4 157.1L143.3 174.5M157.4 157.1L172.8 162.1M106.6 177.5L90.9 170M157.4 157.1L159.2 176.3M157.4 157.1L150.2 164.9M157.4 157.1L144.4 161M106.6 177.5L87.9 177.6M157.4 157.1L150.1 163.3M157.4 157.1L150.6 163M106.6 177.5L105 175.9" stroke="#00ff00" stroke-width="0.6" stroke-opacity="1" stroke-linecap="round" fill="none"/><path d="M157.4 157.1L146.2 176.4M133 170L83 158.6M133 170L128.6 157.1M157.4 157.1L139 160.2M157.4 157.1L171.4 165.7M133 170L110 159.7M133 170L96.1 161.4M106.6 177.5L110.2 173.3M157.4 157.1L139.4 149.2M157.4 157.1L141.2 173.3M157.4 157.1L152 166.3M157.4 157.1L158.6 174.8M133 170L116.3 172.5M157.4 157.1L150.2 167.9M157.4 157.1L145.1 153.6M133 170L111.8 150.7M133 170L95.4 154.9M133 170L134.2 162.2M157.4 157.1L163.1 167.3M133 170L106.3 148.7M157.4 157.1L145.9 158.3M157.4 157.1L147.4 158.5M157.4 157.1L147.8 153.9M133 170L110.1 151.8M133 170L138 154.3M157.4 157.1L144.2 170.1M133 170L97.1 157.4M133 170L112.8 163.5M157.4 157.1L164 163.7M157.4 157.1L165 165.1M133 170L120 156.9M157.4 157.1L166.3 158.7M106.6 177.5L110.8 176.9M133 170L113.1 157.1M157.4 157.1L160.5 161.9M157.4 157.1L158.1 150.3M106.6 177.5L106.1 172.5M106.6 177.5L87.3 171.9M106.6 177.5L94.6 172.2M133 170L81 164.9M157.4 157.1L169.5 161.8M133 170L94.5 153.1M157.4 157.1L153.9 159.1M157.4 157.1L143.3 154M157.4 157.1L150.4 159M157.4 157.1L165.3 175M157.4 157.1L162 177.6M133 170L103 157.4M133 170L94.2 161.9M157.4 157.1L154.8 178.4M157.4 157.1L146.7 165.9M157.4 157.1L146.1 166.5M157.4 157.1L161.7 158.6M133 170L114.9 156.9M133 170L94.8 160.8M157.4 157.1L141.2 170.2M157.4 157.1L156.2 174.9M133 170L99.3 157.8M133 170L99.7 161.9M106.6 177.5L97.3 174.5M133 170L118 170M106.6 177.5L80.5 171.6M157.4 157.1L141.2 179.4M157.4 157.1L146.6 172.2M133 170L132 167.5M106.6 177.5L86.4 171.2M133 170L132.3 169.2M157.4 157.1L160.2 168M157.4 157.1L153.9 169.9M133 170L110.9 156M157.4 157.1L171.3 173.7M133 170L131.1 153.7M133 170L85.4 162.7M106.6 177.5L96.6 174.3M133 170L114.7 167.2M106.6 177.5L92.6 173.8M106.6 177.5L96.1 177.9M133 170L122.7 153.7M157.4 157.1L157.1 177.1M157.4 157.1L146.7 152.6M157.4 157.1L173.6 177.6M157.4 157.1L172.1 176.3M133 170L84.2 165.4M106.6 177.5L87 171.9M133 170L111.2 161M157.4 157.1L162.7 151.4M157.4 157.1L147.4 165.5M157.4 157.1L145.7 156.7M157.4 157.1L140.2 160.4M133 170L114.6 159.6M133 170L117.9 155.5M157.4 157.1L147 149.3M133 170L114.6 165.8M106.6 177.5L104.8 170.8M133 170L116.6 156.2M133 170L105.4 165.8M133 170L120 148.8M106.6 177.5L101 173.7M106.6 177.5L88.4 170.9M133 170L133 177.5M106.6 177.5L100.7 172.6M157.4 157.1L157.4 172.6M157.4 157.1L144.1 160.4M133 170L121.7 153.6M133 170L93 156.2M157.4 157.1L163.4 166.2M157.4 157.1L151.6 180.9M133 170L123.2 170.8M133 170L136.2 159M133 170L119.5 163.6M157.4 157.1L141 173.4M157.4 157.1L140.9 174.9M157.4 157.1L155.4 172.7M133 170L131.2 161.5M133 170L117 171M157.4 157.1L165 171.2M157.4 157.1L171.3 166.7M133 170L134.5 166.4M157.4 157.1L141 167.5M157.4 157.1L146.2 165.6M157.4 157.1L151.8 168.3M106.6 177.5L109.7 172M133 170L100.2 160.7M157.4 157.1L145.4 159.6M157.4 157.1L140.9 149.1M157.4 157.1L163.4 162.5M106.6 177.5L85.7 172.1M133 170L91.3 164.9M133 170L93.1 152.6M157.4 157.1L170 172.8M157.4 157.1L143.5 169.8M157.4 157.1L153 163.7M106.6 177.5L111.8 168.3M157.4 157.1L152 157M157.4 157.1L161.3 168.2M157.4 157.1L161 168.1M157.4 157.1L159.4 170.1M133 170L120.9 167.8M133 170L105.6 156.9M157.4 157.1L150.1 169.4M157.4 157.1L171.2 176.5M157.4 157.1L168.6 166M157.4 157.1L164.3 161.3M157.4 157.1L161.9 177.8M106.6 177.5L89 169.1M133 170L92.5 162.7M157.4 157.1L161.2 172.8M157.4 157.1L156.6 173.6M133 170L92.3 156.1M157.4 157.1L167.2 165.8M106.6 177.5L84.1 173.5M157.4 157.1L155.5 164.7M157.4 157.1L166.9 168.6M157.4 157.1L145.6 152.8M133 170L137.5 146.8M157.4 157.1L145 149.7M157.4 157.1L145.9 149.9M133 170L126.5 149.4M133 170L124.1 168.5M106.6 177.5L81.7 171.3M133 170L126 158.6M133 170L112.4 153.8M157.4 157.1L162.4 170.9M106.6 177.5L83.3 174M133 170L111.4 169.5M133 170L90 165.9M157.4 157.1L154.4 174.9M157.4 157.1L148.4 173.1M133 170L128.7 151.7M133 170L106.8 158.1M133 170L122.5 157.9M133 170L87.7 163M157.4 157.1L156.1 176M133 170L130.1 166.2M157.4 157.1L152.3 155.2M157.4 157.1L161 163.4M106.6 177.5L95.8 172.7M106.6 177.5L95 177.9M133 170L121.5 164" stroke="#00ff00" stroke-width="0.8" stroke-opacity="0.9" stroke-linecap="round" fill="none"/><path d="M133 170L115.5 156.5M157.4 157.1L145 164.6M157.4 157.1L160 161.4M133 170L119.2 156.2M157.4 157.1L140.8 159.6M157.4 157.1L164 176.3M157.4 157.1L144.6 165.8M157.4 157.1L147.4 150.2M157.4 157.1L156.6 171M157.4 157.1L157.3 170.4M133 170L120.6 176M133 170L87.1 158.7M157.4 157.1L151.1 156M157.4 157.1L151.6 156.3M133 170L109.3 149.8M157.4 157.1L145.9 170.3M133 170L94.1 157.4M133 170L86.9 159.8M157.4 157.1L161.9 172.5M106.6 177.5L86.3 173.3M157.4 157.1L152.7 156M133 170L111.9 165.9M133 170L131.8 152.1M133 170L98.7 155.3M157.4 157.1L164.7 168.6M133 170L122.6 160.6M157.4 157.1L145 171.7M133 170L90 152.5M157.4 157.1L148.9 178.1M133 170L120.7 171M157.4 157.1L169.7 169.9M157.4 157.1L154.3 166.5M133 170L118.4 153.6M133 170L125.8 173.5M106.6 177.5L103.1 176.6M157.4 157.1L168.1 160.9M106.6 177.5L85.4 170M157.4 157.1L155.1 170.7M133 170L92.7 160.2M157.4 157.1L148.1 175.4M157.4 157.1L172.4 162.8M133 170L120.7 157M106.6 177.5L93.2 172.4M157.4 157.1L138.1 170.1M106.6 177.5L93.9 176.2M133 170L126.4 168.7M157.4 157.1L144.6 170M106.6 177.5L86.7 174.4M133 170L83.7 154.8M133 170L125 171.3M157.4 157.1L146.2 167.3M133 170L131.6 150.3M157.4 157.1L140.8 159.6M157.4 157.1L161.8 157.9M157.4 157.1L161.4 157.6M157.4 157.1L148.4 167.2M157.4 157.1L148.5 167.5M133 170L90.7 159.8M157.4 157.1L166.7 179.5M157.4 157.1L161.1 160M133 170L99.6 153.1M133 170L102 161.5M133 170L111.8 158.7M133 170L104.7 152.6M106.6 177.5L107.6 174.5M157.4 157.1L159.6 168.2M157.4 157.1L148.8 169.7M157.4 157.1L159.2 164.2M106.6 177.5L96.7 172.4M157.4 157.1L146.2 167.5M106.6 177.5L97 170.6M157.4 157.1L159.1 167.4M157.4 157.1L146.2 169.8M106.6 177.5L94.7 169.5M157.4 157.1L152.9 160.7M157.4 157.1L156.9 173.3M157.4 157.1L148.4 158.9M133 170L129.1 169.9M133 170L136.9 159.6M133 170L100.2 163.2M133 170L113.9 165.6M133 170L95.9 162.7M133 170L124.9 151.8M157.4 157.1L145.8 171.2M133 170L115.1 167.6M157.4 157.1L147 153.9M133 170L124.7 170.8M157.4 157.1L147.7 156.6M157.4 157.1L140.5 171.1M157.4 157.1L156.7 168.3M133 170L103.7 154.4M133 170L102.6 156.3M133 170L101.2 160.6M133 170L129.6 150.3M133 170L110 165.2M157.4 157.1L142.9 174.7M106.6 177.5L100.1 173M133 170L100.1 167.5M133 170L101.4 156.2M133 170L109.5 162.2M133 170L116.1 154.2M157.4 157.1L159.3 180M157.4 157.1L142.8 152.9M106.6 177.5L92.3 175.8M157.4 157.1L147.6 154.9M157.4 157.1L149.1 167.6M133 170L104.8 162.3M157.4 157.1L153.1 176M106.6 177.5L100.6 176.4M157.4 157.1L153.6 155.9M133 170L82.3 167.9M133 170L128.2 167M157.4 157.1L173.2 159.7M157.4 157.1L148.3 179.2M106.6 177.5L89.5 170.6M133 170L136.8 167.6M133 170L122.4 154.7M133 170L125.3 157.9M106.6 177.5L87.7 174.2M106.6 177.5L90.6 173.9M133 170L86.7 167.5M157.4 157.1L167.2 173.5M157.4 157.1L172.5 176.2M157.4 157.1L154.1 160.5M157.4 157.1L168.5 164.9M157.4 157.1L167.9 164.3M157.4 157.1L168.7 169M157.4 157.1L168 174.8M133 170L85.6 167.3M157.4 157.1L148.4 163.8M133 170L97.1 158.5M157.4 157.1L165.9 174.4M133 170L97.9 153.6M157.4 157.1L172.5 162M133 170L116.7 176.8M157.4 157.1L171.4 162.5M133 170L91.5 161.6M133 170L122.1 154M157.4 157.1L159.5 168.9M133 170L117.6 161M157.4 157.1L148.4 167.7M157.4 157.1L141.3 176.6M133 170L75.9 167M157.4 157.1L150.1 162M106.6 177.5L111.5 169.9M133 170L118 168.4M157.4 157.1L173.8 159.9M157.4 157.1L145 153.8M157.4 157.1L162.1 159.2M133 170L83 164.4M157.4 157.1L166.9 167.3M133 170L119.5 176.2M157.4 157.1L155.1 158.4M157.4 157.1L162.9 163.6M157.4 157.1L152.8 169.1M133 170L110.1 167M157.4 157.1L147.9 165.2M157.4 157.1L170.5 177.4M106.6 177.5L87.7 172.9M106.6 177.5L83.3 174.1M157.4 157.1L150.5 152.4M157.4 157.1L156.4 169.6M157.4 157.1L142.3 177.4M133 170L138.7 155.4M133 170L94.9 166.8M133 170L99.2 167.7M157.4 157.1L149.6 173M157.4 157.1L165.4 174.2M106.6 177.5L88.8 168.8M157.4 157.1L149.5 165.1M106.6 177.5L112.6 169.9M157.4 157.1L155 174.4M133 170L96.8 160.4M133 170L130.3 152.9M133 170L90.4 165.7M106.6 177.5L104.5 167.5" stroke="#00ff00" stroke-width="0.6" stroke-opacity="0.9" stroke-linecap="round" fill="none"/><path d="M106.6 177.5L97.7 177.6M157.4 157.1L174.2 166.6M106.6 177.5L100.5 171.1M106.6 177.5L88.1 177.3M157.4 157.1L151.6 154.7M157.4 157.1L153.5 168.3M133 170L98.3 158.6M157.4 157.1L170.7 163.3M133 170L129.7 169.3M157.4 157.1L149.2 162.5M133 170L138.2 147.1M157.4 157.1L151.5 161.9M157.4 157.1L151.7 161.6M133 170L116.8 168.1M157.4 157.1L147.4 169.3M133 170L132.1 160.8M157.4 157.1L147.7 166.5M133 170L127.1 161.1M133 170L113.4 169.6M133 170L135.9 159.3M133 170L92.5 159.4M133 170L89.4 162.8M157.4 157.1L162.9 168.1M157.4 157.1L170.5 169.9M157.4 157.1L170.9 167.1M157.4 157.1L152 154.2M157.4 157.1L159.9 165M106.6 177.5L103.1 169.1M157.4 157.1L159.9 159.2M133 170L113.2 156.5M133 170L109.9 155M133 170L92.1 163.7M157.4 157.1L138.6 164.4M133 170L130.1 169.6M133 170L128.2 169.2M157.4 157.1L166.6 171.3M157.4 157.1L167.2 174.6M133 170L85.6 156.4M157.4 157.1L167.8 160.6M133 170L106.9 160.8M157.4 157.1L147.4 163.7M157.4 157.1L146.4 164.1M157.4 157.1L161.4 167.8M157.4 157.1L161.2 166.5M133 170L133 156.2M133 170L85 158M157.4 157.1L148 160.5M133 170L79.9 166.2M133 170L127.7 153.3M157.4 157.1L166.5 166.6M133 170L107.5 158.2M157.4 157.1L139.7 149.9M157.4 157.1L140.3 154M157.4 157.1L151.3 158.9M157.4 157.1L165.1 173.7M157.4 157.1L161.5 174.7M157.4 157.1L141.2 170.3M157.4 157.1L147.6 152.7M157.4 157.1L139.4 153.3M157.4 157.1L161.3 169.1M133 170L139 154.8M133 170L120 154.4M106.6 177.5L110.6 176.9M133 170L116.7 172.5M157.4 157.1L155 166.5M157.4 157.1L153.9 168.2M106.6 177.5L93 176M133 170L96.3 167.7M157.4 157.1L159.9 157.5M157.4 157.1L159.9 157.5M157.4 157.1L157.3 162.2M157.4 157.1L157.6 163.9M133 170L88.2 157.2M133 170L117.9 154.9M157.4 157.1L146.8 172.2M133 170L133.7 160.9M157.4 157.1L152.2 155.5M133 170L104.4 156.2M133 170L134 148.8M133 170L120.5 157.7M157.4 157.1L163.5 170M133 170L102.9 167.6M157.4 157.1L162.2 163.9M157.4 157.1L149.2 175.8M157.4 157.1L169.5 170.8M157.4 157.1L143.4 172.7M157.4 157.1L149.5 174.3M157.4 157.1L146.8 159M133 170L103.9 156.6M157.4 157.1L167.1 169.5M106.6 177.5L92.8 175.9M133 170L117.1 168.8M106.6 177.5L99.9 172.2M157.4 157.1L169 177.2M133 170L118.4 153.7M133 170L122 164.1M133 170L104.5 159.7M157.4 157.1L168 171.8M133 170L118.9 175.5M133 170L118.1 165.4M157.4 157.1L163.4 151.1M157.4 157.1L147 166.1M157.4 157.1L166 167.3M133 170L133.9 153.1M133 170L137.3 154.8M133 170L101.2 156.3M157.4 157.1L167 176M157.4 157.1L170.4 170M133 170L133.5 175.8M133 170L88.6 156.9M157.4 157.1L142.6 152.9M133 170L101.2 162.2M133 170L110.8 154.1M133 170L79.7 159M157.4 157.1L153.1 149.1M133 170L105.2 158.5M133 170L87.1 166.3M157.4 157.1L166.4 169.4M157.4 157.1L167.3 171.2M157.4 157.1L147.5 163.1M133 170L124.1 146.9M133 170L103.1 157.8M157.4 157.1L148.4 168.7M106.6 177.5L90.8 176.8M133 170L120.4 169.6M157.4 157.1L167.6 155.2M157.4 157.1L156.4 163.4M157.4 157.1L172.7 163.5M157.4 157.1L148.8 158.2M157.4 157.1L144.8 150.7M133 170L102.9 158M133 170L125.8 166.1M157.4 157.1L158.8 170.9M133 170L99.8 163.9M157.4 157.1L143.6 159.4M106.6 177.5L88.7 176.2M133 170L75.7 166.2M157.4 157.1L149 163.3M133 170L88.9 165.4M133 170L106.7 164.8M157.4 157.1L155.6 165.1M133 170L115.2 167.6M106.6 177.5L100.7 173.1M157.4 157.1L170.3 176.5M106.6 177.5L105.6 172.2M106.6 177.5L88.4 169.6M157.4 157.1L148.3 167.7M157.4 157.1L170.2 168.1M157.4 157.1L142 168.7M157.4 157.1L143.8 168.1M157.4 157.1L153.7 147.6M106.6 177.5L94.8 174.3M157.4 157.1L167.5 177.7M157.4 157.1L161 173.3M133 170L131.8 151.8M133 170L79.8 165.4M133 170L109.6 154.2M157.4 157.1L167.6 168.5M133 170L126.8 170.7M106.6 177.5L107 168.9M157.4 157.1L167.6 166.4M133 170L109.6 166.2M157.4 157.1L171.1 159.5M133 170L79.7 159.1M133 170L120.4 168.4M133 170L104.7 163M157.4 157.1L172 176.2M157.4 157.1L145.9 153.1M133 170L117.1 175.1M157.4 157.1L165.1 162.3M157.4 157.1L168.5 169.5M157.4 157.1L148.6 164.7M157.4 157.1L155.1 158.5M157.4 157.1L159.5 160.5M157.4 157.1L139.9 175.4M157.4 157.1L151.4 153.8M157.4 157.1L153.4 169.3M133 170L128.5 171.7M133 170L113.8 160.7M133 170L99.2 157.9M157.4 157.1L161.6 161.5M133 170L107.1 163.4M157.4 157.1L143 156.7M157.4 157.1L171.3 172.5M157.4 157.1L154.3 155.2M133 170L91.6 167.7M157.4 157.1L166.4 176M106.6 177.5L95.1 174.2M133 170L125.8 167.3M133 170L93.2 158.3M157.4 157.1L145.4 152.2M133 170L86.4 164.1M133 170L131.3 160.2M133 170L101.4 166.6M157.4 157.1L150.6 163.3" stroke="#00ff00" stroke-width="0.8" stroke-opacity="1" stroke-linecap="round" fill="none"/><path d="M106.6 177.5L103.9 171.9M133 170L134.8 173.5M133 170L120.2 175.4M157.4 157.1L162.8 155.4M133 170L107.6 152.5M133 170L120 169.9M157.4 157.1L156 163.3M133 170L134 155.1M157.4 157.1L148.3 151M157.4 157.1L152.1 161.7M133 170L126.9 155.2M133 170L127.6 161.5M133 170L128.3 154M157.4 157.1L152 165.6M133 170L92.7 158.9M157.4 157.1L145 172.5M157.4 157.1L145.9 171.8M133 170L100.5 158.9M106.6 177.5L100.9 169.6M133 170L91.1 155.5M106.6 177.5L85 173.6M106.6 177.5L85.3 173.6M133 170L107.2 165.7M157.4 157.1L152.7 171.9M106.6 177.5L100.3 176.6M157.4 157.1L160.4 166.2M157.4 157.1L142.2 175.8M157.4 157.1L147.9 175.8M133 170L117.9 152M157.4 157.1L159.1 161M106.6 177.5L90 170.8M133 170L137.8 166.8M133 170L115.1 161.6M157.4 157.1L151 162.3M157.4 157.1L145.4 169.2M157.4 157.1L166.4 170.7M133 170L106.1 156.4M157.4 157.1L167.8 165.4M157.4 157.1L166.2 164.3M157.4 157.1L155.3 170.9M133 170L121.2 161.1M133 170L139.6 150.1M133 170L127.2 161.5M157.4 157.1L140.2 172M133 170L133.2 174.9M157.4 157.1L161.8 176.9M133 170L99.6 164M157.4 157.1L139.3 153.6M133 170L112.4 150.5M106.6 177.5L103.4 175.4M133 170L117.8 162.3M157.4 157.1L146.3 169.2M157.4 157.1L157.7 162.9M157.4 157.1L161.4 160.2M133 170L118.8 163.8M157.4 157.1L140.9 179.2M133 170L93.7 157.8M157.4 157.1L139.3 159.2M157.4 157.1L153.2 150.8M133 170L115.2 151.9M157.4 157.1L161.7 161.7M106.6 177.5L108.5 175.7M133 170L139.8 160.3M106.6 177.5L111.4 172.6M133 170L123.5 165M157.4 157.1L159.1 167.3M157.4 157.1L167.3 176.4M157.4 157.1L170 170.7M157.4 157.1L141.9 172.9M133 170L100.9 158.7M157.4 157.1L157.4 178.4M133 170L113 156.6M157.4 157.1L141.5 172.9M157.4 157.1L155.8 167.2M157.4 157.1L141.9 167.6M133 170L94.7 154.8M133 170L89.2 163.5M157.4 157.1L157.8 174.3M133 170L126.5 158.6M157.4 157.1L152.9 154.2M157.4 157.1L164 157.3M133 170L89.7 153.7M133 170L123.4 153.4M157.4 157.1L151.7 168.7M133 170L124.8 159.4M133 170L133.5 157.6M133 170L132.3 151.6M157.4 157.1L145.2 152.8M157.4 157.1L151.4 167M157.4 157.1L161.8 155.3M157.4 157.1L170.4 175.9M157.4 157.1L168.1 173.4M157.4 157.1L155.7 172M133 170L113.6 157.4M157.4 157.1L140.4 159.8M133 170L106.6 158.4M157.4 157.1L149.3 172.8M157.4 157.1L171.5 165.4M133 170L91.3 158.4M133 170L121.4 163.6M106.6 177.5L111.3 172.2M157.4 157.1L154.8 163.3M157.4 157.1L159 172.5M157.4 157.1L157.1 171M133 170L124 161.3M133 170L128.9 163.5M157.4 157.1L161.3 166.9M157.4 157.1L162.4 160.1M106.6 177.5L96 171.7M157.4 157.1L149.1 169.4M133 170L84.7 165M133 170L125 152.6M157.4 157.1L144 161M133 170L102.5 164.5M157.4 157.1L149.1 155.1M157.4 157.1L156 159.1M157.4 157.1L172.3 159.4M157.4 157.1L161.5 172.3M133 170L124.1 161.2M133 170L118 166.4M157.4 157.1L138.3 156.6M133 170L117.7 153.2M157.4 157.1L150.7 152.1M133 170L117.8 167.3M157.4 157.1L146.7 166.2M157.4 157.1L165.7 171.1M133 170L116.7 163.4M157.4 157.1L170.1 166.7M133 170L99 153.3M157.4 157.1L145.6 167.4M157.4 157.1L146.9 178M157.4 157.1L157.1 179.4M157.4 157.1L167.8 174.7M157.4 157.1L139.1 172.4M106.6 177.5L108.2 168.2M157.4 157.1L154.2 155.1M133 170L118 168.1M157.4 157.1L141.2 160.4M157.4 157.1L151.9 159.1M157.4 157.1L169.6 169.8M157.4 157.1L168.5 176.4M157.4 157.1L147.5 168.1M133 170L111.7 152.8M157.4 157.1L151.2 164.1M133 170L107.8 157.8M133 170L81.5 164.5M133 170L117.4 158.9M133 170L104.7 160.5M106.6 177.5L83.8 169.5M133 170L98.5 165.5M133 170L127.3 161M106.6 177.5L102.6 177.3M157.4 157.1L145.9 151.7M157.4 157.1L155 153.2M157.4 157.1L154.7 152.7M133 170L113 157.1M133 170L119.7 157.6M133 170L114 159.8M133 170L110.1 148.7M157.4 157.1L155.4 164.6M157.4 157.1L143.8 169.2M157.4 157.1L148.3 169.4M133 170L87.9 159.1M133 170L121.3 158.9M133 170L116.5 153.9M157.4 157.1L139.2 178.1M157.4 157.1L172.4 166.6M133 170L116.4 167.7M133 170L112.7 176.4M157.4 157.1L167.3 172.8M157.4 157.1L153.2 168M133 170L99.8 154.2M157.4 157.1L154.7 177.5M157.4 157.1L151.6 174.5M133 170L106.9 151.1M133 170L108.8 156.1M133 170L108.2 164.3M157.4 157.1L149.5 175.4M133 170L120.8 160.3M157.4 157.1L168.3 168M157.4 157.1L165.7 165.6M133 170L112 160.4M157.4 157.1L165.8 173.4M157.4 157.1L166.2 175.2M133 170L131.8 151.4M133 170L113.8 165.1M133 170L89.7 167.2" stroke="#00f828" stroke-width="0.8" stroke-opacity="0.8" stroke-linecap="round" fill="none"/><path d="M133 170L138.1 161.7M157.4 157.1L163.1 155.4M133 170L120.3 154.2M106.6 177.5L110.1 168.3M133 170L110.8 165.7M157.4 157.1L150.2 171.7M157.4 157.1L173 166.5M157.4 157.1L153.6 167.2M133 170L124.7 162.6M133 170L132.5 159.6M157.4 157.1L164.3 173.5M106.6 177.5L98.1 175.7M157.4 157.1L145.2 173.5M133 170L122.5 160.5M133 170L118.3 155.3M133 170L100.5 168M133 170L126.6 156.1M157.4 157.1L153.4 164.4M157.4 157.1L161.1 172.5M133 170L78.9 155.3M133 170L116.8 177.8M157.4 157.1L150.8 166.6M106.6 177.5L108.1 169.6M106.6 177.5L94.8 173M133 170L101.1 155.4M106.6 177.5L94.8 178M133 170L95.7 156.8M157.4 157.1L169.2 155.8M133 170L100.8 157.5M133 170L133.8 176M157.4 157.1L172.4 168.1M157.4 157.1L151.2 154.2M106.6 177.5L83.9 169.5M133 170L88.8 151.3M157.4 157.1L149.6 172.9M157.4 157.1L160.1 159.3M133 170L90.3 160M157.4 157.1L166 178M133 170L124.4 170.5M106.6 177.5L84.5 169.9M133 170L118.8 165.3M133 170L113.1 171.1M157.4 157.1L159.5 170.4M133 170L124.2 170.4M157.4 157.1L167.9 174.8M157.4 157.1L144.7 172.9M133 170L113 167.9M157.4 157.1L153.7 161.3M133 170L86 158.1M106.6 177.5L103.3 173.3M133 170L118.4 159.1M157.4 157.1L145.4 169M133 170L114.5 161M133 170L128 177.6M133 170L129.2 159.4M157.4 157.1L154.2 178.2M133 170L118.7 165.3M133 170L108.2 161.7M157.4 157.1L161.4 158.6M106.6 177.5L109.4 173.1M157.4 157.1L146 152.6M133 170L119.2 163.4M133 170L98.2 156.9M133 170L101.1 163.3M106.6 177.5L87.5 171.4M133 170L92.1 165.1M106.6 177.5L104.7 171.9M157.4 157.1L145.7 153.6M106.6 177.5L93.2 176.5M157.4 157.1L152 158.1M157.4 157.1L162.4 161.2M157.4 157.1L160.2 173.6M157.4 157.1L163.9 170.5M157.4 157.1L147.2 165.9M157.4 157.1L143 169.4M133 170L80.3 161.6M133 170L116.5 163.1M133 170L107.8 154.8M157.4 157.1L148.5 173.3M157.4 157.1L144.7 159.4M133 170L112.8 164.3M157.4 157.1L157.9 172.3M157.4 157.1L148.3 170.5M133 170L125 155.9M133 170L120.5 170.9M133 170L116.2 161M157.4 157.1L146.3 160.7M157.4 157.1L143.1 153.4M133 170L136.9 158.4M157.4 157.1L164.8 176.7M157.4 157.1L161.5 155.6M133 170L90.4 167.2M106.6 177.5L96.1 175.2M106.6 177.5L84.5 177.4M133 170L128.5 158.9M133 170L127 155.9M157.4 157.1L144.3 149.7M157.4 157.1L155 176M157.4 157.1L171.5 170.1M133 170L119.5 158.8M133 170L89.4 164.3M133 170L101.8 153.8M133 170L95.3 162M157.4 157.1L158.3 174.6M133 170L125 156.1M157.4 157.1L157.2 170.6M133 170L114.6 171M133 170L136.5 156.7M133 170L117 175.8M157.4 157.1L160.9 165.4M157.4 157.1L144.9 170.8M106.6 177.5L86.2 174.8M133 170L86.4 160.1M133 170L94.8 156.5M157.4 157.1L161.1 153.1M133 170L118.8 149.3M106.6 177.5L92.7 177.6M133 170L118.5 177.2M133 170L108.9 160.6M106.6 177.5L107.2 175.6M106.6 177.5L106.9 176.5M157.4 157.1L150.3 155.2M157.4 157.1L145.8 163.8M133 170L118.6 152.1M133 170L119.7 160.1M157.4 157.1L161.7 158.9M157.4 157.1L155.8 171.5M106.6 177.5L102.9 176.9M133 170L110.5 152.3M133 170L128.3 172.4M157.4 157.1L152.5 166.8M133 170L87.4 162.8M133 170L132.8 149.4M133 170L127.3 155.6M157.4 157.1L147.3 175.2M157.4 157.1L157.6 178M157.4 157.1L154.7 160M157.4 157.1L142.3 164.8M157.4 157.1L141.3 175.5M133 170L103.7 155.9M133 170L87.2 154.6M133 170L131.5 164.6M133 170L125.9 159.5M157.4 157.1L156.1 162.9M133 170L97.7 161.4M157.4 157.1L152 157M133 170L113.8 161.9M157.4 157.1L139.2 167.2M157.4 157.1L144.5 151.4M157.4 157.1L173.6 161.1M133 170L89.2 158.8M133 170L106 153.1M157.4 157.1L147.2 152.1M157.4 157.1L160.5 170.6M157.4 157.1L163.5 161M133 170L123.5 170.4M157.4 157.1L144.1 174M133 170L117.3 163.4M157.4 157.1L172.9 163.3M157.4 157.1L171.4 162.8M133 170L134.6 146.6M106.6 177.5L103.3 177.1M157.4 157.1L161.6 158.7M157.4 157.1L171.8 177.2M157.4 157.1L166.4 167.3M157.4 157.1L144 173M157.4 157.1L148.1 164.9M133 170L97.2 159.6M106.6 177.5L93.3 177.7M133 170L98.6 156.8M133 170L110.8 164.7M157.4 157.1L165.6 160.7M157.4 157.1L148.1 165.3M133 170L111.6 153.2M157.4 157.1L161.6 161.5M133 170L126.3 168.2M157.4 157.1L166.3 171.2M133 170L97.2 162.3M157.4 157.1L168 174.5M133 170L82.6 161.8M157.4 157.1L145.5 165.4M133 170L110.2 163.2M133 170L99.1 165.1M133 170L134.3 160.3M106.6 177.5L86.9 177.3M133 170L130.1 160.6M106.6 177.5L91.9 171.5M157.4 157.1L143.7 157.1M133 170L119.3 169.7M106.6 177.5L83.9 177.3M133 170L129.1 156.7M133 170L77.5 163M133 170L118.2 165.9M157.4 157.1L158.7 178M133 170L114.9 163.5M133 170L91.2 157.7M157.4 157.1L143.6 161.4M157.4 157.1L149.2 176M157.4 157.1L145.8 163.2M157.4 157.1L151.6 159M106.6 177.5L97.6 172M133 170L115.2 166.6M133 170L97.2 167.6" stroke="#00ff00" stroke-width="1.1" stroke-opacity="1" stroke-linecap="round" fill="none"/><path d="M106.6 177.5L81.1 177.1M133 170L118.6 170.7M133 170L128 168.1M157.4 157.1L171 163.2M133 170L121.9 165.3M133 170L122.5 166.1M157.4 157.1L140.6 174.3M106.6 177.5L86 169.3M157.4 157.1L163.2 176.2M106.6 177.5L87.2 168.4M133 170L120.2 152.9M133 170L104.3 156.6M157.4 157.1L165.9 161M133 170L130.8 158.1M157.4 157.1L167.7 166.7M133 170L101.7 165M133 170L76.4 157.3M133 170L94.4 156.6M157.4 157.1L143.7 160.8M157.4 157.1L148.8 176.1M157.4 157.1L149.8 156.7M133 170L121.3 166.6M157.4 157.1L142.2 173.1M157.4 157.1L159 172.9M133 170L109.8 152.4M157.4 157.1L163.8 174.6M157.4 157.1L141.6 177.5M157.4 157.1L153.9 161.4M133 170L116.3 178.4M133 170L112.5 158M157.4 157.1L167.1 178.5M157.4 157.1L152.8 167.8M106.6 177.5L94.3 174.8M157.4 157.1L140.5 168.9M133 170L88.4 164M157.4 157.1L142.8 165.5M157.4 157.1L143.2 164.8M157.4 157.1L147.6 152.5M157.4 157.1L146 165.8M133 170L125 152.3M157.4 157.1L148.5 164.4M157.4 157.1L158.3 173.6M133 170L125.5 170.4M133 170L89.5 157.6M133 170L131.1 169.4M157.4 157.1L156.3 170.5M157.4 157.1L156 168.8M157.4 157.1L154.9 166.9M133 170L108.4 157.6M157.4 157.1L153.8 165.7M157.4 157.1L146.1 153M133 170L88.4 159.8M133 170L124.3 167.9M157.4 157.1L149.7 168.6M133 170L107 166.4M133 170L105.8 158.4M157.4 157.1L153.3 151.3M157.4 157.1L147.4 179.2M133 170L128.6 151.1M133 170L88.3 159.7M157.4 157.1L168 177.3M157.4 157.1L147.8 159.3M157.4 157.1L155.8 153.4M133 170L110 154.8M157.4 157.1L152.5 154.3M133 170L124.5 168.3M133 170L116.4 177.5M133 170L122.8 163.1M157.4 157.1L140.1 156.5M157.4 157.1L151 169.5M133 170L91.3 154.7M157.4 157.1L147.2 160.4M157.4 157.1L144.6 173.6M157.4 157.1L166.8 171.2M133 170L105.1 161.7M133 170L119.2 176.6M133 170L119.6 152.3M106.6 177.5L95.1 177.5M133 170L111.3 157.1M133 170L121.2 156M157.4 157.1L169.8 178.7M157.4 157.1L149.4 171.1M133 170L109.9 154M133 170L136.8 157.3M157.4 157.1L162.1 164.3M157.4 157.1L154.8 163.1M157.4 157.1L161.9 160M157.4 157.1L146.9 174.8M106.6 177.5L88 172.7M157.4 157.1L150.8 155.8M157.4 157.1L150.7 155.7M106.6 177.5L95.6 172M133 170L117.6 154M133 170L117.8 157.3M133 170L106.9 166.2M133 170L88.5 164M157.4 157.1L159.3 167.8M157.4 157.1L159.6 169.2M133 170L132 167.6M157.4 157.1L172.3 158.8M106.6 177.5L106.2 170.6M133 170L127.7 170.7M157.4 157.1L148.4 170.4M157.4 157.1L160.4 171.4M157.4 157.1L162.3 159.4M133 170L111.3 167.4M106.6 177.5L107.7 170.3M133 170L106.6 151.1M133 170L123.8 169.3M157.4 157.1L175 160.5M157.4 157.1L141 167.9M106.6 177.5L108.9 173.3M157.4 157.1L171.1 163.1M133 170L115.3 165.8M133 170L113.1 172M157.4 157.1L160.7 173.3M133 170L93.1 161.6M157.4 157.1L139.7 171.9M133 170L98.3 156.1M133 170L85.7 160.1M133 170L115.6 169.4M157.4 157.1L152.6 164.7M106.6 177.5L86.1 175.2M157.4 157.1L151.2 164.1M133 170L108.9 163.1M157.4 157.1L171.1 160M157.4 157.1L141.1 162.4M133 170L127.6 170.3M157.4 157.1L166.6 168M106.6 177.5L80.2 176.9M157.4 157.1L145.6 174.7M157.4 157.1L153.9 148M157.4 157.1L166.8 175.4M157.4 157.1L167.6 169M133 170L81.3 161.9M133 170L130.3 161M157.4 157.1L150.1 165.3M157.4 157.1L149.7 166.6M133 170L109.8 161.4M157.4 157.1L143.8 170M133 170L82.8 160.2M157.4 157.1L141.3 173.1M133 170L121.2 176.3M157.4 157.1L164.3 161.9M157.4 157.1L149.3 169.1M157.4 157.1L150.7 150M157.4 157.1L168.9 170.1M106.6 177.5L100.6 172.8M133 170L135.4 153.5M157.4 157.1L142.8 174.4M133 170L116.2 163.6M157.4 157.1L157.5 174.9M157.4 157.1L172.9 167.1M133 170L119 167.6M133 170L118.8 153.6M133 170L134.1 158.5M133 170L100.4 160.1M133 170L110 161.4M133 170L100.6 163.7M133 170L117.7 166.8M157.4 157.1L152.5 167.9M157.4 157.1L166.4 169.6M133 170L87 158M133 170L111.6 157M157.4 157.1L150.2 176.5M133 170L88.2 166.6M157.4 157.1L154.4 155.5M106.6 177.5L106.1 176.5M157.4 157.1L144.8 153.4M157.4 157.1L148.8 174.7M157.4 157.1L142.9 150.1M157.4 157.1L148.2 177.3M133 170L95 158.4M157.4 157.1L149.2 164.1M133 170L118.6 175.7M106.6 177.5L92.1 169.6M133 170L110.2 157.3" stroke="#00ff00" stroke-width="1.1" stroke-opacity="0.9" stroke-linecap="round" fill="none"/><path d="M157.4 157.1L146.6 178M157.4 157.1L175.8 167M133 170L87.2 167.1M106.6 177.5L84.4 171.6M157.4 157.1L155.9 162.9M157.4 157.1L144.4 166M157.4 157.1L150.3 171.8M157.4 157.1L151.8 161.7M157.4 157.1L160.6 164.7M157.4 157.1L161.4 165.1M157.4 157.1L162.8 166M133 170L113.9 169M133 170L106 167.3M157.4 157.1L164.4 175.8M133 170L108.1 164.3M133 170L122.6 151.4M133 170L100.6 157.2M133 170L98 163.9M157.4 157.1L153 165.2M157.4 157.1L154.6 155.7M133 170L117.9 176.6M133 170L135.6 163.4M133 170L99 164.7M133 170L94.6 154.4M157.4 157.1L151.2 148.8M157.4 157.1L144.5 153.4M157.4 157.1L169.7 155.3M157.4 157.1L163.4 166M133 170L125.1 156.4M133 170L120.9 150.9M106.6 177.5L103 170.7M157.4 157.1L150.4 156.8M133 170L130.7 156.6M157.4 157.1L169.9 171.9M106.6 177.5L87.8 172.2M133 170L129.4 163.5M157.4 157.1L165.9 158.7M133 170L125.4 151.8M133 170L128.3 165.7M133 170L130.1 151.9M133 170L125.2 152.4M157.4 157.1L147.2 160.4M157.4 157.1L160.6 161.8M106.6 177.5L107.7 173.9M133 170L116 149.3M157.4 157.1L166.7 178.3M133 170L111.7 160.2M133 170L117.3 168.3M133 170L103.9 163M133 170L90.9 161.7M157.4 157.1L155.9 158.5M133 170L118.3 164M157.4 157.1L146.5 166M157.4 157.1L162.6 177.7M157.4 157.1L148.4 164.9M106.6 177.5L84.9 176M106.6 177.5L84.4 177.5M133 170L122.6 164.9M106.6 177.5L98.9 171.5M157.4 157.1L147.1 169.3M157.4 157.1L149.3 169.5M133 170L106.3 159.3M157.4 157.1L157.6 161.1M133 170L87.5 158.3M133 170L113.5 154.2M106.6 177.5L95.5 174.1M133 170L101.5 164.2M157.4 157.1L152.7 156.1M106.6 177.5L102.8 171.6M157.4 157.1L171.8 167.9M157.4 157.1L170.1 167.3M106.6 177.5L95.7 176M133 170L113.5 160.3M133 170L113.5 155.4M157.4 157.1L161.5 161.3M157.4 157.1L144.2 171.5M106.6 177.5L94.3 175.2M133 170L91.9 162M106.6 177.5L96.8 176.5M106.6 177.5L97 169.6M157.4 157.1L155.8 153.1M157.4 157.1L147.2 172.8M157.4 157.1L143.6 166.2M157.4 157.1L169.6 176.7M133 170L75.9 161M133 170L137 167.7M157.4 157.1L156.3 161.6M133 170L137.6 150M157.4 157.1L167.3 169M133 170L128.1 165.8M133 170L120 164.9M157.4 157.1L151.2 166.6M157.4 157.1L162.7 172.4M133 170L89 153.1M106.6 177.5L111.7 169.1M157.4 157.1L165.3 167.2M106.6 177.5L96.1 174.5M133 170L102.1 165.8M157.4 157.1L156.8 169.7M157.4 157.1L148.2 150.2M157.4 157.1L158 173.8M133 170L129 171.8M133 170L112.5 153.3M157.4 157.1L156.5 172.1M157.4 157.1L157.1 176.1M157.4 157.1L141.9 154.1M157.4 157.1L154.1 156.4M133 170L134.1 166.7M133 170L93 154.9M157.4 157.1L156.9 171.3M133 170L100.8 162.7M157.4 157.1L161.4 153M157.4 157.1L147.6 170.3M133 170L94.5 164.9M133 170L103.3 159M133 170L128.4 163.5M157.4 157.1L156 176.1M157.4 157.1L141.9 153.7M157.4 157.1L157.8 169.6M157.4 157.1L148.6 169.4M157.4 157.1L142.7 157M133 170L104.6 153.4M133 170L120.2 165.2M133 170L87.3 167.1M157.4 157.1L156.5 163.2M133 170L123.4 167.4M133 170L75.9 161.2M157.4 157.1L150.4 176.3M106.6 177.5L90.7 178M133 170L130.4 166M133 170L130.8 158.2M133 170L123.2 148.5M157.4 157.1L175.2 180.4M157.4 157.1L141.3 165.6M157.4 157.1L142.4 173.7M106.6 177.5L79.4 167.5M106.6 177.5L112.1 167.9M157.4 157.1L152.9 171.4M157.4 157.1L145 150.1M157.4 157.1L146.5 168.4M133 170L126.8 154.6M157.4 157.1L140.9 151.8M133 170L117 178.4M133 170L88.5 155.1M157.4 157.1L159.7 171.1M157.4 157.1L167.8 164.5M157.4 157.1L160.8 178.1M157.4 157.1L172.6 169.6M133 170L79.4 166.4M157.4 157.1L144.7 175.9M133 170L116.7 163.9M133 170L93.4 159.7M157.4 157.1L156.1 170.3M106.6 177.5L96.7 172M157.4 157.1L157.3 167.4M157.4 157.1L157.3 167M157.4 157.1L170.6 172.7M157.4 157.1L170.8 170.3M106.6 177.5L95.3 175M106.6 177.5L90.4 173.6M157.4 157.1L143 176.4M133 170L121.3 149.2M157.4 157.1L157.4 175.5M157.4 157.1L158.8 157.6M157.4 157.1L159.5 160.1M157.4 157.1L141.9 171.9M157.4 157.1L163.3 163.4M157.4 157.1L142.1 174.4M157.4 157.1L160.5 161M157.4 157.1L159.9 160.7M157.4 157.1L141.1 157.7M133 170L113.1 164.3M157.4 157.1L166.6 161M133 170L111.4 162.9M133 170L125.6 167.1M133 170L100.3 167.4M133 170L126.1 155.9M157.4 157.1L149.8 172M157.4 157.1L153.2 160.3M157.4 157.1L154.7 176.7M157.4 157.1L161 162.9M133 170L93.6 155.9M157.4 157.1L143.6 168M157.4 157.1L143.1 169.7M157.4 157.1L151.1 158.9" stroke="#00f828" stroke-width="0.6" stroke-opacity="0.8" stroke-linecap="round" fill="none"/><path d="M133 170L93.9 158M157.4 157.1L158 168.1M157.4 157.1L163.5 176.1M133 170L93.8 160.3M157.4 157.1L163.3 166M157.4 157.1L139.4 148.9M133 170L125.7 168.5M157.4 157.1L138.5 168M133 170L116.9 153.5M157.4 157.1L143 154.6M157.4 157.1L144.7 154.7M157.4 157.1L158.2 176.2M157.4 157.1L151.7 155.8M157.4 157.1L162.6 175.3M133 170L118.8 155M133 170L100.2 153.5M157.4 157.1L157.4 167.8M157.4 157.1L157.5 167.1M157.4 157.1L141.4 161.7M133 170L86 156.6M157.4 157.1L151.3 161.8M157.4 157.1L151.2 154.2M133 170L114.4 177.3M157.4 157.1L154.7 166.8M157.4 157.1L141.2 172.7M157.4 157.1L164.5 178.7M133 170L128.3 161.4M106.6 177.5L95.1 171.1M106.6 177.5L102.4 170.2M133 170L108.1 165.9M133 170L119.7 154.2M157.4 157.1L146 173.7M157.4 157.1L143.9 176.5M133 170L84.7 161.2M157.4 157.1L158.2 150.3M157.4 157.1L165.2 170.4M157.4 157.1L159.1 172M157.4 157.1L158.5 171M133 170L128.2 153.7M157.4 157.1L145.5 167.8M133 170L128.3 153.9M157.4 157.1L148.4 167.8M133 170L118.5 150.2M157.4 157.1L141.2 169.6M133 170L137.9 178.4M133 170L112.8 161.8M157.4 157.1L156.8 175M157.4 157.1L154.2 165M157.4 157.1L165.7 177.6M133 170L111.5 170.8M157.4 157.1L165 160.5M157.4 157.1L164.2 160M133 170L101.7 161.6M133 170L121.8 157.6M157.4 157.1L144.5 152.3M157.4 157.1L159.6 166.1M157.4 157.1L160.2 173.5M157.4 157.1L159.7 164.8M157.4 157.1L162.5 164.4M157.4 157.1L141.4 169.9M157.4 157.1L149.6 174.7M133 170L133.5 167M133 170L135.6 163.5M133 170L133.2 160.9M157.4 157.1L147.4 176.5M157.4 157.1L149.6 173.7M157.4 157.1L170.1 170.5M133 170L109.5 155.8M157.4 157.1L147.4 152.9M157.4 157.1L155.9 167.5M133 170L106.3 168.2M157.4 157.1L138.9 155.8M133 170L102.6 160M133 170L117.3 171.1M133 170L121.3 168M157.4 157.1L140 152.5M157.4 157.1L146.9 174M157.4 157.1L166.5 169.5M133 170L116 155.7M157.4 157.1L142.8 149.2M106.6 177.5L110.7 174M133 170L119.5 167M106.6 177.5L87.3 172.4M157.4 157.1L162 164M133 170L95.6 155.1M157.4 157.1L153.6 156.2M133 170L134.5 173.1M106.6 177.5L94.1 177.5M133 170L99.3 162M157.4 157.1L144.3 175.7M157.4 157.1L148.3 171.3M133 170L134.2 151.3M133 170L138.9 161.5M133 170L78.4 160.3M133 170L98.8 167.5M133 170L77.4 156.5M157.4 157.1L159.2 176.5M157.4 157.1L156.3 158.6M106.6 177.5L91.7 173.7M133 170L106.7 166.3M133 170L127 160.1M157.4 157.1L153.6 155.8M133 170L84.6 163.1M157.4 157.1L168.5 155.8M157.4 157.1L149.6 150.9M106.6 177.5L100.6 171.4M133 170L133.2 152.8M157.4 157.1L166 168M106.6 177.5L104.9 172.1M157.4 157.1L147.4 163.8M157.4 157.1L147.5 158.9M133 170L114.4 152.4M133 170L112.4 166.4M157.4 157.1L145.6 168.6M133 170L131.4 160.7M157.4 157.1L160.7 175.1M133 170L88.4 159.6M133 170L111 159.4M133 170L92.9 159.8M157.4 157.1L162.9 162.3M157.4 157.1L154.5 155.3M157.4 157.1L159.5 171.1M157.4 157.1L169.4 174.3M157.4 157.1L151 159.5M157.4 157.1L153.6 169.3M157.4 157.1L155.9 163.8M157.4 157.1L145.9 150.3M133 170L124.7 171.4M133 170L133.5 147.4M157.4 157.1L172.5 162.3M157.4 157.1L141.2 153.2M133 170L100.7 163.9M133 170L120.5 167M157.4 157.1L155.4 166.2M157.4 157.1L171.8 163.1M133 170L135.6 157M157.4 157.1L138.8 163.7M157.4 157.1L145.7 151.5M157.4 157.1L148.8 171.5M133 170L101.1 156.3M133 170L97.2 153.2M157.4 157.1L150.6 161.8M133 170L121.7 153.9M133 170L93.5 152.7M157.4 157.1L145.3 166.8M157.4 157.1L146.1 153.9M133 170L111.9 164.6M157.4 157.1L160 162.2M106.6 177.5L79.2 177.8M133 170L94.3 162.6M157.4 157.1L151.1 150.8M133 170L124 165.4M157.4 157.1L169.7 164.9M157.4 157.1L171.5 165.7M133 170L118.2 153.5M157.4 157.1L171.3 158.2M133 170L87.8 167.6M157.4 157.1L145.3 169M157.4 157.1L138.5 176.4M157.4 157.1L151.3 153.8M106.6 177.5L94.4 168.8M157.4 157.1L143.5 157.5M106.6 177.5L92 170.6M133 170L129.7 171.6M133 170L86.9 161.8M133 170L127.8 162.6M157.4 157.1L148.4 171.1M133 170L105.3 166.3M157.4 157.1L156.3 168.1M133 170L102.4 160.3M157.4 157.1L173 175.9M157.4 157.1L173.9 163M106.6 177.5L86.9 176.9M133 170L128.5 153.7M133 170L111.2 155.7M157.4 157.1L152.5 160.6M157.4 157.1L144 153.1M157.4 157.1L155.3 177M157.4 157.1L152.5 155.4M157.4 157.1L146.8 162.8M133 170L82 161.7M133 170L87.4 162" stroke="#00f828" stroke-width="1.1" stroke-opacity="0.8" stroke-linecap="round" fill="none"/></g></g><clipPath id="cd01"><polygon points="106,218 82,218 80,214 79.4,210 80.9,193 103,180.6 81,180.4 81.1,178 106,178"/></clipPath><g clip-path="url(#cd01)"><g filter="url(#bl)"><path d="M106 181.5L91.6 197.4M106 181.5L88.8 208.2M106 181.5L90.5 210.2M106 181.5L89.3 198.1M106 181.5L104.7 220.9M106 181.5L84.1 213.3M106 181.5L101.2 201.9M106 181.5L94.2 203M106 181.5L95 210.4M106 181.5L91.6 211.6M106 181.5L87.9 198.9M106 181.5L87.7 197.7M106 181.5L84 196M106 181.5L89.9 210.5M106 181.5L80.4 207M106 181.5L105.8 207.3M106 181.5L105.8 201.9M106 181.5L103 181.4M106 181.5L91.2 212.7M106 181.5L103.2 201.5M106 181.5L85.7 207.1M106 181.5L92 207.3M106 181.5L93.5 209.2M106 181.5L81.1 212.7M106 181.5L83.7 203.1M106 181.5L87.2 204.5M106 181.5L104.2 199.3M106 181.5L97.6 198M106 181.5L86.9 193.1M106 181.5L105.7 190.3M106 181.5L89.5 200M106 181.5L83.8 195.8M106 181.5L104.6 183.9M106 181.5L92.5 195.5M106 181.5L94.6 205.4M106 181.5L93.6 204.7M106 181.5L85.9 214.9M106 181.5L105.7 211.7M106 181.5L97.4 189.6M106 181.5L105.4 202.3M106 181.5L86.3 201.2M106 181.5L84.5 194.1M106 181.5L105.2 183.5M106 181.5L99.7 197.3M106 181.5L92.1 202.2M106 181.5L97.7 189.6M106 181.5L90.3 194.1M106 181.5L85.1 198.6M106 181.5L100.4 213.6M106 181.5L90.7 203.2M106 181.5L94.7 194.9" stroke="#00ff00" stroke-width="0.8" stroke-opacity="1" stroke-linecap="round" fill="none"/><path d="M106 181.5L82.1 201.3M106 181.5L86.9 207.5M106 181.5L93.1 207.6M106 181.5L78.5 202.6M106 181.5L85.9 202.4M106 181.5L106 184.5M106 181.5L98.7 198.7M106 181.5L93.8 194.3M106 181.5L105.8 213.4M106 181.5L97.4 196M106 181.5L86.6 205.9M106 181.5L91.3 193.7M106 181.5L94.6 222.3M106 181.5L88.7 189.6M106 181.5L94.6 202.9M106 181.5L99 194.3M106 181.5L93.6 207.1M106 181.5L101.7 191.5M106 181.5L87.7 212.5M106 181.5L94.4 194.8M106 181.5L85.8 198.4M106 181.5L96.6 178.2M106 181.5L90.4 213.1M106 181.5L101.2 198.6M106 181.5L88.9 200.2M106 181.5L102 208.5M106 181.5L82.4 210.6M106 181.5L78.7 214.6M106 181.5L102.9 204M106 181.5L88.6 196M106 181.5L92 194.2M106 181.5L84.4 194.7M106 181.5L96.7 214.2M106 181.5L92.1 208.7M106 181.5L94.5 216M106 181.5L84.3 204.5M106 181.5L92.6 212.4M106 181.5L86.1 203.5M106 181.5L104.1 202.5M106 181.5L91.8 218.7M106 181.5L91.7 211M106 181.5L99.8 199.7M106 181.5L83.4 198.8M106 181.5L92.8 199.2M106 181.5L90.9 199.3M106 181.5L103 199.4M106 181.5L95.2 218.4M106 181.5L97.2 215.3M106 181.5L81.6 211.9M106 181.5L100.3 197.6M106 181.5L94.8 192.3" stroke="#00ff00" stroke-width="1.1" stroke-opacity="0.9" stroke-linecap="round" fill="none"/><path d="M106 181.5L91 202.4M106 181.5L89.4 193.3M106 181.5L87.6 192.6M106 181.5L98.5 194M106 181.5L81.1 202.8M106 181.5L91.1 204.3M106 181.5L89.8 212.6M106 181.5L92.2 211.1M106 181.5L79.8 212.2M106 181.5L105.8 220.9M106 181.5L90.3 179.6M106 181.5L96.8 180.5M106 181.5L85.3 210.2M106 181.5L101.3 209.5M106 181.5L97.6 195.2M106 181.5L79.7 204.5M106 181.5L88.3 217M106 181.5L94.4 195.9M106 181.5L101.3 209M106 181.5L86.2 207.6M106 181.5L94.1 220.8M106 181.5L98.8 212.7M106 181.5L101.5 179.9M106 181.5L105.2 213.4M106 181.5L86 198M106 181.5L105.8 213.3M106 181.5L91.8 208.7M106 181.5L93.8 194.9M106 181.5L97.6 196.7M106 181.5L84.2 191.1M106 181.5L79.3 210.9M106 181.5L97.7 201.5M106 181.5L96.9 202.9M106 181.5L90.5 188.2M106 181.5L100.4 180M106 181.5L102.9 191.4M106 181.5L104.7 207.9M106 181.5L94 192.7M106 181.5L104.5 190.8M106 181.5L98.5 209.3M106 181.5L92.8 205.4M106 181.5L102.2 201.1M106 181.5L104.5 192M106 181.5L99.2 190.4" stroke="#00ff00" stroke-width="0.6" stroke-opacity="0.9" stroke-linecap="round" fill="none"/><path d="M106 181.5L89.1 221.8M106 181.5L90.6 201.3M106 181.5L94.4 205.8M106 181.5L96.7 196M106 181.5L81.5 202.1M106 181.5L93.1 219.5M106 181.5L100.7 197.1M106 181.5L99.4 210.3M106 181.5L80.3 220.1M106 181.5L93.4 213.4M106 181.5L85.4 220M106 181.5L84.7 204.5M106 181.5L93.7 212.2M106 181.5L93.6 202.3M106 181.5L102.8 214.6M106 181.5L84.5 198.5M106 181.5L104.1 204M106 181.5L78 200.2M106 181.5L99.8 203.3M106 181.5L81.4 207.6M106 181.5L78.4 208.8M106 181.5L94.4 203.1M106 181.5L90.8 201M106 181.5L93.8 196.2M106 181.5L83.2 222.3M106 181.5L96.7 202.3M106 181.5L101.2 213.8M106 181.5L86.2 209.6M106 181.5L85.1 214.4M106 181.5L88.8 193.1M106 181.5L94.1 178.8M106 181.5L83.8 194.3M106 181.5L98.7 194.4M106 181.5L92.7 219.1M106 181.5L99.9 195.7M106 181.5L82 214.9M106 181.5L90.4 197.6M106 181.5L102.8 200.7M106 181.5L83.7 206.4M106 181.5L98.8 204.1M106 181.5L86.6 194.8M106 181.5L100.5 208.2M106 181.5L85.1 201.8M106 181.5L84.7 206.9M106 181.5L101.8 202.2M106 181.5L91 197.7M106 181.5L103 210.4M106 181.5L99.2 202.2M106 181.5L94.2 212.4M106 181.5L85.5 211.5M106 181.5L102.9 211.8M106 181.5L87.6 211.2M106 181.5L97.4 201.3M106 181.5L86.5 215.7M106 181.5L80.4 213.1M106 181.5L93.9 207.9M106 181.5L97.7 209M106 181.5L86.3 202.9M106 181.5L90.9 187.9" stroke="#00f828" stroke-width="1.1" stroke-opacity="0.8" stroke-linecap="round" fill="none"/><path d="M106 181.5L85.3 198.4M106 181.5L100.5 196.4M106 181.5L88 193.3M106 181.5L91.3 188.2M106 181.5L86.4 178.6M106 181.5L99.7 196.3M106 181.5L86.2 192.1M106 181.5L82.7 199.8M106 181.5L94.9 197.5M106 181.5L79.5 210.9M106 181.5L92.4 206.1M106 181.5L96 193.6M106 181.5L104.2 211.4M106 181.5L90.7 214.4M106 181.5L94.2 188.2M106 181.5L100.1 201.7M106 181.5L96.6 215.6M106 181.5L100.3 203.4M106 181.5L104.8 209.3M106 181.5L103.4 184.6M106 181.5L88.7 207.1M106 181.5L102.3 194.2M106 181.5L101.9 201.5M106 181.5L100.6 206.5M106 181.5L82.6 204.8M106 181.5L103.3 200.5M106 181.5L85.7 203.1M106 181.5L95.4 190.2M106 181.5L87 215.5M106 181.5L92.3 203.1M106 181.5L96.9 192.5M106 181.5L99.2 205.6M106 181.5L104.9 183.6M106 181.5L103.5 201.6M106 181.5L100.5 183.7M106 181.5L83.6 205.1M106 181.5L80.4 211.4M106 181.5L100.7 199.6M106 181.5L86.7 193.2M106 181.5L105 216M106 181.5L105.1 204.8M106 181.5L96.9 191.9M106 181.5L81.2 214.7M106 181.5L103.9 196.9M106 181.5L103.7 202.3M106 181.5L79.7 196.9M106 181.5L97.4 206.1M106 181.5L99.3 196.9" stroke="#00ff00" stroke-width="1.1" stroke-opacity="1" stroke-linecap="round" fill="none"/><path d="M106 181.5L101.7 210.3M106 181.5L90.2 197.8M106 181.5L84.4 213.8M106 181.5L92 216.3M106 181.5L93.9 214.6M106 181.5L95.2 220M106 181.5L94.2 188.5M106 181.5L87.5 191.5M106 181.5L90.4 191.7M106 181.5L95.9 212.4M106 181.5L87.3 178.2M106 181.5L93 196.7M106 181.5L96 207.7M106 181.5L77.5 203.4M106 181.5L97.9 193.2M106 181.5L89.7 179.7M106 181.5L105.4 213.9M106 181.5L89.4 207.3M106 181.5L101.1 210M106 181.5L92.4 209.9M106 181.5L101.1 179.6M106 181.5L102 199.8M106 181.5L100.7 199.6M106 181.5L92.3 178.7M106 181.5L96.2 197M106 181.5L103.8 189.9M106 181.5L88.4 191.7M106 181.5L80.1 219.2M106 181.5L86.8 215.3M106 181.5L84.7 217.4M106 181.5L97.8 201.3M106 181.5L78.9 197.3M106 181.5L84.9 203M106 181.5L105.9 203.3M106 181.5L85.8 217.2M106 181.5L94.5 199.1M106 181.5L102.2 211.5M106 181.5L98.3 186.5M106 181.5L95.7 219.1" stroke="#00f828" stroke-width="0.8" stroke-opacity="0.8" stroke-linecap="round" fill="none"/><path d="M106 181.5L97.4 204M106 181.5L82.1 215.9M106 181.5L89.3 197M106 181.5L105.3 183.3M106 181.5L95.4 193.7M106 181.5L83.9 194.6M106 181.5L82.3 194.9M106 181.5L97.4 186.8M106 181.5L86.4 177.8M106 181.5L81.8 198.2M106 181.5L84.6 193.1M106 181.5L105.8 186.6M106 181.5L99.1 213.4M106 181.5L93.4 220.7M106 181.5L105.5 195.9M106 181.5L92.4 188.8M106 181.5L96.4 178.4M106 181.5L99.5 202.1M106 181.5L91.9 178.7M106 181.5L103.8 184.3M106 181.5L85.3 177.9M106 181.5L81.1 196.4M106 181.5L101.5 189.7M106 181.5L83 206.4M106 181.5L92.5 199.4M106 181.5L98.4 179.9M106 181.5L102.3 183M106 181.5L103.6 209.4M106 181.5L94.6 208.8M106 181.5L90 211M106 181.5L93.4 198.9M106 181.5L89.1 195.4M106 181.5L90.5 198.8M106 181.5L90.9 194.6M106 181.5L97.4 205.9M106 181.5L79.4 212.9M106 181.5L84.2 179.7M106 181.5L94.4 194.4M106 181.5L97.7 198.1M106 181.5L96.7 206.6M106 181.5L86.2 199.7M106 181.5L101 187.9M106 181.5L89.8 205.8M106 181.5L83.4 215.5M106 181.5L83.7 203.4M106 181.5L104.4 203.5M106 181.5L103.6 209M106 181.5L90.3 192M106 181.5L96.8 188.8M106 181.5L105.9 200M106 181.5L101.3 210.5" stroke="#00ff00" stroke-width="0.8" stroke-opacity="0.9" stroke-linecap="round" fill="none"/><path d="M106 181.5L97 202.3M106 181.5L82.2 216.5M106 181.5L103.7 197.9M106 181.5L92.2 200.5M106 181.5L88.6 213.2M106 181.5L99.1 211M106 181.5L92.8 213.8M106 181.5L83.6 204.7M106 181.5L83.1 212M106 181.5L91.7 203.8M106 181.5L100.1 214.2M106 181.5L87 205.5M106 181.5L91.3 189.8M106 181.5L85.2 204.2M106 181.5L100.7 197.2M106 181.5L105.5 189M106 181.5L88.5 207.6M106 181.5L102.3 219.7M106 181.5L102.2 215.9M106 181.5L101.2 212.2M106 181.5L83 214.4M106 181.5L80.4 218.1M106 181.5L77.7 211.5M106 181.5L105.2 204M106 181.5L98.2 196.7M106 181.5L100.8 210.4M106 181.5L94.4 191.2M106 181.5L80.5 197.8M106 181.5L91.5 214.7M106 181.5L102.1 196.6M106 181.5L77.5 203.5M106 181.5L104.4 199.1M106 181.5L97.3 209.5M106 181.5L86 180M106 181.5L80.7 211.1M106 181.5L95.3 212.8M106 181.5L102 218.1M106 181.5L91.4 215.5M106 181.5L100.1 219.2M106 181.5L96.3 205.3M106 181.5L96.2 222.5M106 181.5L102.7 201.5M106 181.5L84.8 198.9M106 181.5L105.2 210.3M106 181.5L85.2 179M106 181.5L88.5 193M106 181.5L95.3 194M106 181.5L94.9 211.2M106 181.5L95.8 216.8M106 181.5L104.8 205.9M106 181.5L95.5 192.2M106 181.5L99.2 191" stroke="#00f828" stroke-width="0.6" stroke-opacity="0.8" stroke-linecap="round" fill="none"/><path d="M106 181.5L84.4 218.6M106 181.5L94.7 198.5M106 181.5L80.3 196.2M106 181.5L104.1 202.1M106 181.5L86.3 211.9M106 181.5L96.1 204.5M106 181.5L103 208M106 181.5L88.2 209.7M106 181.5L86.2 197.6M106 181.5L98.7 189.2M106 181.5L94.4 197.1M106 181.5L99.9 206.6M106 181.5L105.6 192.9M106 181.5L106 181.6M106 181.5L98.3 207.6M106 181.5L93.6 200.9M106 181.5L87.5 221.5M106 181.5L105.5 199.7M106 181.5L105 185.1M106 181.5L84.6 209M106 181.5L84.7 202.8M106 181.5L94.7 187.2M106 181.5L84.9 202.2M106 181.5L88.3 196.9M106 181.5L90.2 192.6M106 181.5L85.5 214.7M106 181.5L95.1 191.9M106 181.5L91.7 211.2M106 181.5L96.7 194.3M106 181.5L82 196.5M106 181.5L89.6 178.6M106 181.5L83 202.2M106 181.5L85.6 212.1M106 181.5L100.7 197.5M106 181.5L87.7 201.6M106 181.5L105.8 183.5M106 181.5L91.8 212.6M106 181.5L102.5 209.4M106 181.5L99.3 205.7M106 181.5L88.4 199.3M106 181.5L91.9 216.6M106 181.5L98.4 191.3M106 181.5L87.3 209.3M106 181.5L79.2 202M106 181.5L96.8 213.1" stroke="#00ff00" stroke-width="0.6" stroke-opacity="1" stroke-linecap="round" fill="none"/></g></g><clipPath id="cd02"><polygon points="131,218 106,218 106,178 131,178"/></clipPath><g clip-path="url(#cd02)"><g filter="url(#bl)"><polygon points="131,218 106,218 106,178 131,178" fill="#00ff00"/><path d="M117.6 205.9L104.3 202.8M108.7 192.1L112.5 202M113.2 192.5L118.7 201.6" stroke="#c8ffe0" stroke-width="0.8" stroke-opacity="0.9" stroke-linecap="round" fill="none"/><path d="M126.2 206.3L121.3 216.6M111.4 182.6L120.6 185.1" stroke="#ffffff" stroke-width="0.6" stroke-opacity="0.9" stroke-linecap="round" fill="none"/><path d="M106 182L111 186.1M123.4 206L136.7 203M118 190.9L121.4 193.8" stroke="#c8ffe0" stroke-width="0.6" stroke-opacity="0.4" stroke-linecap="round" fill="none"/><path d="M105.8 180.8L110.6 177.1" stroke="#ffffff" stroke-width="0.8" stroke-opacity="0.9" stroke-linecap="round" fill="none"/><path d="M117.5 182.7L125.9 182.2M123.2 182.9L136.6 184M112 186.8L116.5 191.1M113.8 209.9L101.6 215.5" stroke="#80ffb0" stroke-width="0.8" stroke-opacity="0.9" stroke-linecap="round" fill="none"/><path d="M115.8 212.5L105.5 220.4M128.7 209.9L131.4 216.2M127.3 208.8L123.2 219.3" stroke="#80ffb0" stroke-width="0.3" stroke-opacity="0.7" stroke-linecap="round" fill="none"/><path d="M103.2 181.2L114.7 184M121.4 186.3L132.2 190.2" stroke="#80ffb0" stroke-width="0.6" stroke-opacity="0.9" stroke-linecap="round" fill="none"/><path d="M124.9 204.2L114.1 203.9M124.3 214.1L121.2 221.7" stroke="#c8ffe0" stroke-width="0.3" stroke-opacity="0.7" stroke-linecap="round" fill="none"/><path d="M128.1 204.6L130.5 201.2M122.5 190.3L134.7 193.9M127.1 207L127.1 213.4" stroke="#ffffff" stroke-width="0.6" stroke-opacity="0.7" stroke-linecap="round" fill="none"/><path d="M113.6 208.4L102.6 210.4M126.2 180.5L132.1 179.6M118.6 204.2L112 205.2" stroke="#c8ffe0" stroke-width="0.3" stroke-opacity="0.4" stroke-linecap="round" fill="none"/><path d="M120.9 202.3L108.4 199.8M126 189.1L132.9 191.9" stroke="#c8ffe0" stroke-width="0.6" stroke-opacity="0.7" stroke-linecap="round" fill="none"/><path d="M119.2 213.2L111.1 218.1M113.4 179.6L121.8 178.1" stroke="#80ffb0" stroke-width="0.3" stroke-opacity="0.9" stroke-linecap="round" fill="none"/><path d="M106.7 192.3L106.5 199.4M117.5 213.8L107.5 220M116.4 191.3L125.3 200.2" stroke="#80ffb0" stroke-width="0.8" stroke-opacity="0.7" stroke-linecap="round" fill="none"/><path d="M115.4 207.7L106.9 210.5M122.5 193L131 197.4M111.1 181.9L124.1 179.9" stroke="#ffffff" stroke-width="0.8" stroke-opacity="0.7" stroke-linecap="round" fill="none"/><path d="M119.8 192L124.3 197.4" stroke="#c8ffe0" stroke-width="0.8" stroke-opacity="0.7" stroke-linecap="round" fill="none"/><path d="M115.4 190.1L119.7 193.7" stroke="#ffffff" stroke-width="0.3" stroke-opacity="0.7" stroke-linecap="round" fill="none"/><path d="M118.3 192.2L124.6 199.4" stroke="#ffffff" stroke-width="0.6" stroke-opacity="0.4" stroke-linecap="round" fill="none"/><path d="M127.7 204.7L115.9 198.3" stroke="#ffffff" stroke-width="0.3" stroke-opacity="0.9" stroke-linecap="round" fill="none"/></g></g><clipPath id="cd03"><polygon points="176.2,178 177.5,178.5 140,179 133,190 140,201 142.7,202.7 151.4,194 160,194.5 172.6,195.2 173,205 172.6,212.6 170,216 161.4,214 150,216 156,218 148,218 148,218 131,218 131,178"/></clipPath><g clip-path="url(#cd03)"><g filter="url(#bl)"><path d="M128 205L145.2 214.3M128 205L134.9 193.9M128 205L152 204.4M128 205L146.9 207.4M128 205L154.5 202.4M128 205L138.5 214M128 205L156.8 198.9M128 205L133.8 184.8M128 205L156.4 195.2M128 205L149.2 210M128 205L169.2 203.2M128 205L135.8 208.1M128 205L140.7 217.6M128 205L149.4 211.5M128 205L164.9 211.5M128 205L158.5 198.9M128 205L146.6 201.4M128 205L174.2 196.9M128 205L145 208.3M128 205L166.7 200.1M128 205L145.1 206.1M128 205L131.1 205M128 205L154.1 213.6M128 205L137.7 181.7M128 205L164.1 213.3M128 205L134.7 212.1M128 205L165.3 214.8M128 205L137.7 214.7M128 205L154.6 212.2M128 205L157.8 182M128 205L141.1 209.5M128 205L133.2 204.3M128 205L132.5 180.5M128 205L132.5 195.1M128 205L136.2 206.4M128 205L154.3 201.5M128 205L171.6 199.3M128 205L156.3 211.8M128 205L150.4 208.5M128 205L178.6 206.6M128 205L155 207.6M128 205L159.4 208.4M128 205L151.5 204.6M128 205L159.3 199.1M128 205L132.7 206.2M128 205L155.7 211.3M128 205L173.5 211M128 205L160.3 208.7M128 205L140.8 202M128 205L145.7 207.4M128 205L149.7 211.8M128 205L158.4 196.9M128 205L161.4 195.5M128 205L159.9 205.5M128 205L165.3 211.2M128 205L155.1 210.2M128 205L132.3 189.2" stroke="#00f828" stroke-width="0.6" stroke-opacity="0.8" stroke-linecap="round" fill="none"/><path d="M128 205L155.6 210.2M128 205L155 211.2M128 205L143.2 209M128 205L144 215.3M128 205L131 191.3M128 205L150.1 212.4M128 205L144.8 213M128 205L163.1 202.9M128 205L171 212.7M128 205L135.5 196.2M128 205L165.6 203.2M128 205L170.3 199.3M128 205L150.3 198.5M128 205L133.9 213.4M128 205L154.5 214.6M128 205L165.4 198.5M128 205L132.3 180.9M128 205L168.7 195.8M128 205L172.4 197.6M128 205L168.8 196.9M128 205L134.9 211.3M128 205L160.1 203.6M128 205L132.3 181.7M128 205L168 212.7M128 205L149.3 200.6M128 205L159.5 206.8M128 205L157.6 205.6M128 205L134.4 208.3M128 205L132.2 215.2M128 205L136.3 201.9M128 205L134.2 188.1M128 205L135 185.2M128 205L159.7 213.3M128 205L173.8 206.2M128 205L157.8 206M128 205L132.3 197.6M128 205L132.5 209.4M128 205L131.5 199.3M128 205L136.5 197.5M128 205L147.6 203.7M128 205L135.4 202.1M128 205L140.1 201.4M128 205L132 200.8M128 205L169.5 206M128 205L165.6 204M128 205L149.9 214.9M128 205L156.3 200.6" stroke="#00ff00" stroke-width="0.8" stroke-opacity="1" stroke-linecap="round" fill="none"/><path d="M128 205L148 202.6M128 205L165.9 215.4M128 205L153.4 208.2M128 205L133.5 199.7M128 205L173.7 199.3M128 205L160 205.6M128 205L149.4 209.2M128 205L131.5 183.6M128 205L133.3 185.1M128 205L163.6 213.1M128 205L136.4 210.1M128 205L136.8 194.9M128 205L159.5 196M128 205L152.6 204.2M128 205L160.9 202.8M128 205L156.2 209.2M128 205L131.2 204M128 205L137.9 208.4M128 205L153.7 211M128 205L134.7 179.7M128 205L163.8 209.2M128 205L134.8 206.1M128 205L165.9 195M128 205L167.5 201.9M128 205L166 200.3M128 205L134 185.2M128 205L151.8 214.9M128 205L166.7 213.4M128 205L155 200.1M128 205L136.9 215.6M128 205L132.7 181.9M128 205L141.8 203.2M128 205L137.9 212.1M128 205L165.5 195.7M128 205L168 205.1M128 205L145.8 209.7M128 205L155.7 201.7M128 205L163.9 208.3M128 205L132.8 182.4M128 205L148.5 214.6M128 205L146.4 175.2M128 205L133.3 201M128 205L151.4 210.8M128 205L137.9 208.9M128 205L148.6 214.6M128 205L147.8 203.5M128 205L134.8 182.2M128 205L144.4 211.8M128 205L149.8 206.6M128 205L153.2 217.4M128 205L136.6 180.2M128 205L135.7 205.7M128 205L154 197.1M128 205L146 210.6M128 205L137.3 216.7" stroke="#00ff00" stroke-width="0.6" stroke-opacity="0.9" stroke-linecap="round" fill="none"/><path d="M128 205L168.4 207.2M128 205L164.6 202.1M128 205L162.7 200.1M128 205L131 208M128 205L152.5 212M128 205L158.5 199.7M128 205L151.3 206.1M128 205L133.8 188.8M128 205L168.7 208.7M128 205L153.1 210.8M128 205L146.4 212.1M128 205L132.6 185.5M128 205L131.2 198M128 205L133.2 208.5M128 205L155.1 212.8M128 205L131.8 177.4M128 205L135.1 184.1M128 205L156.5 205.8M128 205L132 181.9M128 205L137.5 212.2M128 205L149.3 199.7M128 205L152.3 202.9M128 205L155.9 204.1M128 205L135.9 184M128 205L156.3 196.3M128 205L157.2 203.9M128 205L162.4 213.1M128 205L176.5 206.3M128 205L168.3 198.6M128 205L163.9 198.5M128 205L134 210.6M128 205L145.9 207.7M128 205L147.3 201.5M128 205L167.2 202.2M128 205L171.7 214.7M128 205L159.4 209.8M128 205L147 212.9M128 205L163.7 210.6M128 205L130.9 193.9M128 205L159.2 193.7M128 205L137.9 199.3M128 205L134.8 181.7M128 205L136.8 208.2M128 205L161.2 213.9M128 205L151.7 214.4M128 205L159.4 210M128 205L161.6 210.8M128 205L155 205.2M128 205L157.2 196.9M128 205L176.3 199.4M128 205L165.1 198M128 205L166.4 209.1M128 205L158.7 206.5M128 205L170.4 202.4M128 205L157.6 206.8M128 205L132.8 186.7M128 205L157.8 203.4M128 205L141.4 211.4M128 205L160.4 208M128 205L168.3 214M128 205L169.7 201.3M128 205L149 208.4M128 205L150.9 217.6M128 205L134.7 191.5" stroke="#00ff00" stroke-width="1.1" stroke-opacity="1" stroke-linecap="round" fill="none"/><path d="M128 205L153 204.8M128 205L136.8 209.9M128 205L145.2 210.1M128 205L157.9 199.1M128 205L142.6 201.6M128 205L168.8 215.5M128 205L161.1 196M128 205L152.8 209.7M128 205L133.2 186.2M128 205L153.6 212.8M128 205L154.2 212M128 205L154.5 211.9M128 205L161.5 196.7M128 205L170.3 210.7M128 205L136 205.4M128 205L134.7 196.5M128 205L155.2 200.1M128 205L149.7 212.7M128 205L138.1 199.5M128 205L173.5 180.2M128 205L168.7 211.9M128 205L140.4 212.9M128 205L149.4 207.6M128 205L164 204.8M128 205L147 207.8M128 205L151.3 206.6M128 205L144.7 212.4M128 205L160.4 208.3M128 205L154.3 199.1M128 205L142.5 203.6M128 205L151.2 200.3M128 205L140.6 207.5M128 205L164.1 202.4M128 205L139.7 203.2M128 205L158.7 208.3M128 205L154.4 218.9M128 205L147.5 203.5M128 205L165.9 212.7M128 205L166 200.1M128 205L131.7 213M128 205L150.2 211.8M128 205L131.3 187.6M128 205L135.7 180.6M128 205L152.4 208M128 205L156.3 207.1M128 205L156.3 204.3M128 205L167 214.7M128 205L149.4 215.2M128 205L135.1 199.4M128 205L156.1 199.6M128 205L133.3 211.4M128 205L146.8 216.7M128 205L151.3 209.8M128 205L161.5 208.5M128 205L133.5 189.3" stroke="#00ff00" stroke-width="0.8" stroke-opacity="0.9" stroke-linecap="round" fill="none"/><path d="M128 205L156.6 204.3M128 205L142 218.5M128 205L139.4 209.3M128 205L146.5 199.1M128 205L148.7 209.9M128 205L163.5 210M128 205L169.7 198.4M128 205L161.2 180.4M128 205L150 204.9M128 205L138.6 209.5M128 205L169.2 201M128 205L167.4 208.4M128 205L136.5 205M128 205L144.8 210.9M128 205L153.5 201.6M128 205L175.4 209.1M128 205L155.7 198.9M128 205L145.8 204.3M128 205L133 217.7M128 205L160 211.5M128 205L155.9 195.6M128 205L150.3 177.7M128 205L133.8 189.5M128 205L135.1 183.1M128 205L146.6 210.9M128 205L133.2 196.2M128 205L168 205.5M128 205L132.4 181.1M128 205L171.3 200.7M128 205L156.6 208M128 205L160.6 204.6M128 205L165.1 201.7M128 205L173.3 204.8M128 205L164.7 206.5M128 205L168.3 210.8M128 205L152.2 212.9M128 205L172 208.4M128 205L146.4 212.8M128 205L143.7 203M128 205L167 200.3M128 205L156.1 202.2M128 205L157.2 197.8M128 205L150.2 213.2M128 205L163.7 205.9M128 205L139.9 205.6M128 205L158.5 213.7M128 205L152.7 203.3M128 205L149.8 218.3M128 205L143.8 204.6" stroke="#00ff00" stroke-width="1.1" stroke-opacity="0.9" stroke-linecap="round" fill="none"/><path d="M128 205L136.6 216M128 205L132.4 207.1M128 205L136.2 182.3M128 205L138.7 216.2M128 205L150.5 212.7M128 205L138.2 205.1M128 205L134.7 187.5M128 205L155.9 177.8M128 205L136.7 198.9M128 205L139.6 179.8M128 205L141 211.3M128 205L171.1 207.8M128 205L145.1 204.2M128 205L153 195.7M128 205L148.2 205.4M128 205L142.7 210.6M128 205L168.9 215.3M128 205L164.2 211.7M128 205L166.8 204.7M128 205L170 205.6M128 205L138.7 205.7M128 205L156.6 210.6M128 205L160.1 210.7M128 205L158.8 214M128 205L135.9 177.8M128 205L136.7 193.2M128 205L146.5 199.7M128 205L168.2 207.6M128 205L171.2 214.8M128 205L163.8 195.8M128 205L158.3 206.8M128 205L144.4 206.1M128 205L159.5 207.6M128 205L139.7 214.8M128 205L137.2 217.9M128 205L139.9 209.4M128 205L138.1 215.8M128 205L141.5 216.6M128 205L153.7 200.3M128 205L132.9 208M128 205L135.1 193.5M128 205L139.9 203.1M128 205L142.2 206.1M128 205L158.3 205.3" stroke="#00f828" stroke-width="1.1" stroke-opacity="0.8" stroke-linecap="round" fill="none"/><path d="M128 205L165 207.7M128 205L152.7 196.1M128 205L166.3 206M128 205L165.5 206.8M128 205L145.7 202.8M128 205L163 201.5M128 205L141.8 210.5M128 205L140.2 217M128 205L151.9 204.6M128 205L136.2 201.7M128 205L170.6 215.7M128 205L157.2 208M128 205L132.8 204.7M128 205L136.5 199.3M128 205L140.7 202.7M128 205L167 196.4M128 205L167.6 207M128 205L161.6 208.8M128 205L156.5 203.5M128 205L131.7 184.1M128 205L169 203.1M128 205L140.3 202.4M128 205L150.3 212.7M128 205L148.9 208.1M128 205L132 186.3M128 205L158.2 205M128 205L135.4 199.9M128 205L133.4 205.4M128 205L162.5 195.6M128 205L153.3 199.9M128 205L150.2 217.2M128 205L160.2 211.7M128 205L162.2 205.7M128 205L132.4 194.1M128 205L155 203.1M128 205L135.5 209.3M128 205L132.7 183.6M128 205L131.4 180.8M128 205L158.9 206.5M128 205L159.8 205.8M128 205L136.5 182M128 205L136.1 194.5M128 205L147.6 181M128 205L146.3 204.4M128 205L157.9 215.2M128 205L136.9 215.4M128 205L131.9 202.3M128 205L140.8 205.9M128 205L143 212.9M128 205L139.6 219.4M128 205L154.7 218.6M128 205L173.5 207.3M128 205L166.1 208.7M128 205L133.6 185.7M128 205L157.9 204.1M128 205L153 213M128 205L132.9 187.9M128 205L160.4 207.1M128 205L166.3 196.8M128 205L174.2 207.4M128 205L168.1 209.6" stroke="#00f828" stroke-width="0.8" stroke-opacity="0.8" stroke-linecap="round" fill="none"/><path d="M128 205L161.6 197.6M128 205L154.8 211.8M128 205L156.5 201.6M128 205L165.8 207.7M128 205L130.8 207M128 205L151.5 202.7M128 205L130.9 211.6M128 205L161.5 207.3M128 205L166.2 201.8M128 205L169.7 199.7M128 205L131.3 199.8M128 205L147.3 212.8M128 205L133.1 204.6M128 205L135.7 181.6M128 205L161.4 213.2M128 205L165.4 212.5M128 205L158.6 209.7M128 205L170 204.4M128 205L169 196.2M128 205L142.1 209.8M128 205L166.7 197.1M128 205L152.4 199.2M128 205L156.6 212.5M128 205L163 203M128 205L137.3 211.2M128 205L155.7 203.2M128 205L140.5 207.4M128 205L135.5 203M128 205L132.2 206.4M128 205L139.8 211.9M128 205L170.8 207.2M128 205L150.9 176.1M128 205L148.6 202M128 205L168 195.6M128 205L167.8 214.1M128 205L138.3 215.6M128 205L148.8 199.4M128 205L158.7 209.7M128 205L155.2 198.7M128 205L143.7 203.4M128 205L154 207.1M128 205L162.8 213.2M128 205L156.8 200.8M128 205L146.5 204.3M128 205L159.3 202.6M128 205L131.1 192.5M128 205L132 204.4M128 205L148.2 212.2" stroke="#00ff00" stroke-width="0.6" stroke-opacity="1" stroke-linecap="round" fill="none"/></g></g><clipPath id="cd04"><polygon points="156,218 170,222.7 171.3,234 171.3,243.9 165,244 153.9,242 142.7,237.7 136,239 130,234 140.2,230.2 148.3,221.5 148,218 82,218 82,218"/></clipPath><g clip-path="url(#cd04)"><g filter="url(#bl)"><path d="M148.3 221.5L161.1 222.1M148.3 221.5L132.2 234.6M148.3 221.5L142.8 229.9M148.3 221.5L168.1 241.9M148.3 221.5L160.5 231M148.3 221.5L133.1 232.6M148.3 221.5L151.4 238.3M148.3 221.5L168 242.5M148.3 221.5L141.4 229M148.3 221.5L164.3 229.6M148.3 221.5L150.1 234M148.3 221.5L170.3 232.4M148.3 221.5L155.8 226.2M148.3 221.5L163.1 226M148.3 221.5L144.9 226.3M148.3 221.5L156.4 224.1M148.3 221.5L140.1 232.5M148.3 221.5L160.5 240.4M148.3 221.5L164.8 239.9M148.3 221.5L154.5 226.1M148.3 221.5L157.4 220.6M148.3 221.5L164.3 231.9M148.3 221.5L135.5 235.4M148.3 221.5L164 237M148.3 221.5L171.1 223.3M148.3 221.5L148.2 236.6M148.3 221.5L157.7 228.7" stroke="#00f828" stroke-width="1.1" stroke-opacity="0.8" stroke-linecap="round" fill="none"/><path d="M148.3 221.5L149.1 225.2M148.3 221.5L143.6 231.2M148.3 221.5L157.4 223.2M148.3 221.5L170.1 226.5M148.3 221.5L168 228.9M148.3 221.5L159.1 220.5M148.3 221.5L158.5 236.8M148.3 221.5L173.5 231.6M148.3 221.5L162.4 242.1M148.3 221.5L135.2 236.9M148.3 221.5L150.8 232.5M148.3 221.5L162.6 230.7M148.3 221.5L162.1 239.3M148.3 221.5L160.3 221M148.3 221.5L158.7 223.1M148.3 221.5L165.5 233.5M148.3 221.5L148.3 228.1M148.3 221.5L166.4 225.7M148.3 221.5L150.8 222.2M148.3 221.5L155.1 236.2M148.3 221.5L158.3 244.2M148.3 221.5L150.7 222.1M148.3 221.5L162.9 221.8M148.3 221.5L173.5 233.4M148.3 221.5L141.9 229.3M148.3 221.5L164.6 240.5M148.3 221.5L154.1 222.3M148.3 221.5L151.1 237.7M148.3 221.5L161.4 241.8M148.3 221.5L134.6 231.9M148.3 221.5L156.7 234.8M148.3 221.5L164.3 227.5M148.3 221.5L171.1 235.2M148.3 221.5L148.1 237.4M148.3 221.5L156.4 234.1M148.3 221.5L151.2 223.9M148.3 221.5L171.1 232.9" stroke="#00ff00" stroke-width="0.6" stroke-opacity="1" stroke-linecap="round" fill="none"/><path d="M148.3 221.5L165.4 222M148.3 221.5L170.7 228.3M148.3 221.5L154.2 239.8M148.3 221.5L162.6 232.1M148.3 221.5L140.9 233.8M148.3 221.5L162.8 221.1M148.3 221.5L157.9 238.7M148.3 221.5L166.3 240.1M148.3 221.5L136.7 235.4M148.3 221.5L144.7 233M148.3 221.5L140.4 233.8M148.3 221.5L160.1 239M148.3 221.5L156.1 225.6M148.3 221.5L157.2 232.9M148.3 221.5L155.2 230.9M148.3 221.5L157.2 228.2M148.3 221.5L168.9 233.5M148.3 221.5L158.1 225.9M148.3 221.5L154.2 237.9M148.3 221.5L166.2 236.7M148.3 221.5L142.5 233.7M148.3 221.5L158.1 224.6M148.3 221.5L172 232.9M148.3 221.5L158.4 222.5M148.3 221.5L139.9 236.1M148.3 221.5L150.2 221.8M148.3 221.5L133.8 237.4M148.3 221.5L151.7 225.5M148.3 221.5L138.7 231.8M148.3 221.5L154.6 233.2M148.3 221.5L153.7 221.2M148.3 221.5L151.8 234.3M148.3 221.5L157.2 224.4M148.3 221.5L134.2 233.6M148.3 221.5L169.7 241.6M148.3 221.5L167.8 232.3M148.3 221.5L158.5 222.4M148.3 221.5L153.1 237.4M148.3 221.5L162 240.3M148.3 221.5L157 222.3M148.3 221.5L159.4 231.3M148.3 221.5L138.6 235.7M148.3 221.5L167.9 223.1M148.3 221.5L162.3 237.4" stroke="#00ff00" stroke-width="0.6" stroke-opacity="0.9" stroke-linecap="round" fill="none"/><path d="M148.3 221.5L164 245.2M148.3 221.5L171.5 244.3M148.3 221.5L139 233M148.3 221.5L162.7 229.3M148.3 221.5L163.7 221M148.3 221.5L166.8 228.1M148.3 221.5L165.4 228.7M148.3 221.5L162 245.6M148.3 221.5L141.3 232.5M148.3 221.5L160 235M148.3 221.5L157.8 224.8M148.3 221.5L168.2 225.7M148.3 221.5L162.4 234.1M148.3 221.5L135 237M148.3 221.5L158.7 226M148.3 221.5L150.7 227.7M148.3 221.5L157.6 231.4M148.3 221.5L159.9 243.6M148.3 221.5L164.8 237M148.3 221.5L156.3 226.2M148.3 221.5L150 232.2M148.3 221.5L160.4 224.5M148.3 221.5L157.8 235.2M148.3 221.5L147.8 231.2M148.3 221.5L160.8 221.4M148.3 221.5L159.9 227.6M148.3 221.5L149.7 224.5M148.3 221.5L161.7 220.3M148.3 221.5L164.9 233.1M148.3 221.5L167.1 243.8M148.3 221.5L163.1 230M148.3 221.5L159.5 237.6M148.3 221.5L160.5 221.1M148.3 221.5L144 235.9M148.3 221.5L167.1 226.1M148.3 221.5L169.5 233.5M148.3 221.5L170.4 237M148.3 221.5L164 237.1M148.3 221.5L152.1 224.8M148.3 221.5L167.5 246.4M148.3 221.5L160.3 225.6M148.3 221.5L147.4 226.8M148.3 221.5L168.2 241.2" stroke="#00ff00" stroke-width="1.1" stroke-opacity="0.9" stroke-linecap="round" fill="none"/><path d="M148.3 221.5L136.9 233.6M148.3 221.5L159.1 243.7M148.3 221.5L160 220.4M148.3 221.5L168.1 227.6M148.3 221.5L151.1 229.3M148.3 221.5L151.2 229.8M148.3 221.5L148.5 236.2M148.3 221.5L171.2 245.2M148.3 221.5L150 225.3M148.3 221.5L156.5 239.7M148.3 221.5L162.2 224.3M148.3 221.5L154.1 236.3M148.3 221.5L160.5 221.8M148.3 221.5L136 237M148.3 221.5L156.9 226.5M148.3 221.5L148.2 222.6M148.3 221.5L168.8 231M148.3 221.5L156 224.7M148.3 221.5L166.3 235M148.3 221.5L145 234.7M148.3 221.5L159.6 233.1M148.3 221.5L165.4 227.9M148.3 221.5L168.3 238.7M148.3 221.5L170.4 227.2M148.3 221.5L152.3 225M148.3 221.5L150.2 234.9M148.3 221.5L141.6 228.8M148.3 221.5L150 238.8M148.3 221.5L162.9 225.7M148.3 221.5L157.5 228.6M148.3 221.5L161.3 237.8M148.3 221.5L160.7 240.1M148.3 221.5L149.7 227M148.3 221.5L139.4 234.3M148.3 221.5L158.1 233.7M148.3 221.5L149.1 233.3M148.3 221.5L154.7 231.6M148.3 221.5L159.4 228.7M148.3 221.5L160.3 230.9M148.3 221.5L159.3 232.6M148.3 221.5L142.9 232.2M148.3 221.5L153.5 234.8" stroke="#00ff00" stroke-width="0.8" stroke-opacity="1" stroke-linecap="round" fill="none"/><path d="M148.3 221.5L161.1 222.8M148.3 221.5L166 245.2M148.3 221.5L167.4 232.1M148.3 221.5L148.9 225.5M148.3 221.5L162.6 230.5M148.3 221.5L154 243.1M148.3 221.5L149.2 225.5M148.3 221.5L152.4 233.6M148.3 221.5L151.5 224.8M148.3 221.5L155.7 229.1M148.3 221.5L158.4 231.8M148.3 221.5L152.7 242.3M148.3 221.5L151.2 239.3M148.3 221.5L142.9 230.1M148.3 221.5L158 228.3M148.3 221.5L167.4 224.3M148.3 221.5L155.6 235M148.3 221.5L143.5 229.8M148.3 221.5L145.7 239.4M148.3 221.5L157 220.1M148.3 221.5L150.6 220.6M148.3 221.5L169.6 236.4M148.3 221.5L145.6 228.3M148.3 221.5L163.7 235.6M148.3 221.5L162.4 237.6M148.3 221.5L150.9 232.3M148.3 221.5L155.4 234.7M148.3 221.5L153.3 236.2M148.3 221.5L172.3 236.5M148.3 221.5L155 225.1M148.3 221.5L170.3 232.5M148.3 221.5L164.6 244.8M148.3 221.5L172.3 238.2M148.3 221.5L165.5 238.8M148.3 221.5L143.4 231.6" stroke="#00f828" stroke-width="0.6" stroke-opacity="0.8" stroke-linecap="round" fill="none"/><path d="M148.3 221.5L135.1 236.2M148.3 221.5L159.1 231.6M148.3 221.5L142 230.9M148.3 221.5L164.9 223.3M148.3 221.5L167.3 238.6M148.3 221.5L155 227.4M148.3 221.5L159 228.9M148.3 221.5L150.7 231.6M148.3 221.5L156.6 236.2M148.3 221.5L164.7 222.7M148.3 221.5L150.5 231.8M148.3 221.5L146 237.6M148.3 221.5L142.1 235.3M148.3 221.5L143.1 235.2M148.3 221.5L140.8 233.5M148.3 221.5L155.5 228.1M148.3 221.5L152.1 230M148.3 221.5L160.2 224.2M148.3 221.5L166.2 233.4M148.3 221.5L149.2 228.4M148.3 221.5L147.8 227.7M148.3 221.5L160.1 227.5M148.3 221.5L161.9 235.1M148.3 221.5L151.9 235.9M148.3 221.5L172.7 246.6M148.3 221.5L161.8 234.7M148.3 221.5L147.7 227.6M148.3 221.5L162.4 228M148.3 221.5L158.7 231.9M148.3 221.5L166.7 227.2M148.3 221.5L151.2 238.1M148.3 221.5L152.2 238.6M148.3 221.5L163.9 243.4M148.3 221.5L145.6 226.5" stroke="#00ff00" stroke-width="1.1" stroke-opacity="1" stroke-linecap="round" fill="none"/><path d="M148.3 221.5L147.5 235.5M148.3 221.5L158.2 227.6M148.3 221.5L154.1 219.2M148.3 221.5L158.3 224.7M148.3 221.5L164.9 243.5M148.3 221.5L148.2 224M148.3 221.5L157.4 227.8M148.3 221.5L151.9 229.2M148.3 221.5L143.8 233.1M148.3 221.5L159.3 230.8M148.3 221.5L167.4 229.4M148.3 221.5L150.1 226.1M148.3 221.5L151.1 220.3M148.3 221.5L164.5 245.3M148.3 221.5L153 242.4M148.3 221.5L146.3 224.5M148.3 221.5L157.9 236.4M148.3 221.5L168.5 238.5M148.3 221.5L132.9 235M148.3 221.5L161.5 223.3M148.3 221.5L148.6 235.3M148.3 221.5L173.4 240.6M148.3 221.5L166.3 221M148.3 221.5L163.8 236.7M148.3 221.5L149.4 222.2M148.3 221.5L153.6 228.7M148.3 221.5L144.6 235.4M148.3 221.5L151.2 222.2M148.3 221.5L155.9 235.7M148.3 221.5L164.9 237.5M148.3 221.5L154.8 228.6M148.3 221.5L162.8 235.5M148.3 221.5L139.1 234.9M148.3 221.5L163.3 223.3M148.3 221.5L167 235.9M148.3 221.5L164 234.9M148.3 221.5L163.2 238.1" stroke="#00ff00" stroke-width="0.8" stroke-opacity="0.9" stroke-linecap="round" fill="none"/><path d="M148.3 221.5L154.6 231.7M148.3 221.5L146 225.3M148.3 221.5L147.9 238.1M148.3 221.5L166.6 236.8M148.3 221.5L152.3 229M148.3 221.5L170.2 242.9M148.3 221.5L163.6 237.8M148.3 221.5L148.2 231.7M148.3 221.5L163.3 222.7M148.3 221.5L148.4 231.9M148.3 221.5L167 242.3M148.3 221.5L157.2 224.1M148.3 221.5L151.3 239.3M148.3 221.5L153.6 232.4M148.3 221.5L144.5 231.5M148.3 221.5L151.7 235M148.3 221.5L149.1 233.1M148.3 221.5L166.9 238.1M148.3 221.5L157 222.5M148.3 221.5L137.8 235.6M148.3 221.5L154.5 226.5M148.3 221.5L150.9 222.2M148.3 221.5L151.8 229.6M148.3 221.5L152.2 232.5M148.3 221.5L150.3 238.5M148.3 221.5L143 234.3M148.3 221.5L147.4 228.7M148.3 221.5L149.9 227.9M148.3 221.5L159.8 221.6M148.3 221.5L157 229.8M148.3 221.5L156.6 237.5M148.3 221.5L159.2 243.5M148.3 221.5L156.2 236.2M148.3 221.5L166.4 232.4M148.3 221.5L146.2 227.3M148.3 221.5L162.7 235.4M148.3 221.5L158.3 242.2M148.3 221.5L171 237.6M148.3 221.5L148.2 236.8M148.3 221.5L162.8 229.9" stroke="#00f828" stroke-width="0.8" stroke-opacity="0.8" stroke-linecap="round" fill="none"/></g></g><rect x="106.8" y="177.6" width="71.8" height="5.1" fill="#fff" stroke="#9c9c9c" stroke-width="0.5"/><rect x="76" y="218.2" width="71.8" height="5.1" fill="#fff" stroke="#9c9c9c" stroke-width="0.5"/><ellipse cx="137.6" cy="192.8" rx="10.3" ry="10.1" fill="#fff" stroke="#9c9c9c" stroke-width="0.5"/><ellipse cx="117.1" cy="208" rx="10.3" ry="10.1" fill="#fff" stroke="#9c9c9c" stroke-width="0.5"/><polyline points="96.9,238.5 104.2,238.7 116.5,238 131.2,235.5 141,230.6 147.1,222 146,220 106.4,181 106.6,177.5 123.8,172.2 141,164.9 157.4,157.1" fill="none" stroke="#101040" stroke-width="0.9" stroke-linejoin="round"/><circle cx="116.5" cy="238" r="0.75" fill="#10d8f0"/><circle cx="147.1" cy="222" r="0.75" fill="#10d8f0"/><circle cx="106.6" cy="177.5" r="0.75" fill="#10d8f0"/><circle cx="96.6" cy="238.5" r="1.3" fill="#ff00ff"/><circle cx="158.1" cy="157.3" r="1.3" fill="#000"/><rect x="63.2" y="147.2" width="128.3" height="101.4" fill="none" stroke="#a8a8a8" stroke-width="0.5"/><text x="76.5" y="254.5" font-size="4" text-anchor="middle" fill="#383838">0</text><text x="97.1" y="254.5" font-size="4" text-anchor="middle" fill="#383838">20</text><text x="117.6" y="254.5" font-size="4" text-anchor="middle" fill="#383838">40</text><text x="138.1" y="254.5" font-size="4" text-anchor="middle" fill="#383838">60</text><text x="158.6" y="254.5" font-size="4" text-anchor="middle" fill="#383838">80</text><text x="179.2" y="254.5" font-size="4" text-anchor="middle" fill="#383838">100</text><text x="61.8" y="250.3" font-size="4" text-anchor="end" fill="#383838">0</text><text x="61.8" y="240.2" font-size="4" text-anchor="end" fill="#383838">10</text><text x="61.8" y="230" font-size="4" text-anchor="end" fill="#383838">20</text><text x="61.8" y="219.9" font-size="4" text-anchor="end" fill="#383838">30</text><text x="61.8" y="209.7" font-size="4" text-anchor="end" fill="#383838">40</text><text x="61.8" y="199.6" font-size="4" text-anchor="end" fill="#383838">50</text><text x="61.8" y="189.5" font-size="4" text-anchor="end" fill="#383838">60</text><text x="61.8" y="179.3" font-size="4" text-anchor="end" fill="#383838">70</text><text x="61.8" y="169.2" font-size="4" text-anchor="end" fill="#383838">80</text><text x="61.8" y="159" font-size="4" text-anchor="end" fill="#383838">90</text><text x="61.8" y="148.9" font-size="4" text-anchor="end" fill="#383838">100</text><text x="127.3" y="259.9" font-size="4.2" text-anchor="middle" fill="#383838">X</text><text x="51" y="199.2" font-size="4.2" text-anchor="middle" fill="#383838" transform="rotate(-90 51 197.9)">Y</text><rect x="159.5" y="150.2" width="29" height="5.2" fill="#fff" stroke="#9a9a9a" stroke-width="0.4"/><line x1="160.8" y1="152.8" x2="172" y2="152.8" stroke="#3838d0" stroke-width="1.1"/><circle cx="166.5" cy="152.8" r="0.8" fill="#20e0f0"/><text x="173.5" y="154" font-size="3.4" fill="#222">PQRRT*</text><text x="91.8" y="275" font-family="Liberation Serif" font-size="11.6" fill="#000" textLength="63.7" lengthAdjust="spacingAndGlyphs">(<tspan font-weight="bold">d</tspan>) PQ-RRT*</text></g>
<g font-family="Liberation Sans"><line x1="374.4" y1="147.2" x2="374.4" y2="248.5" stroke="#e4e4e4" stroke-width="0.4"/><line x1="395" y1="147.2" x2="395" y2="248.5" stroke="#e4e4e4" stroke-width="0.4"/><line x1="415.7" y1="147.2" x2="415.7" y2="248.5" stroke="#e4e4e4" stroke-width="0.4"/><line x1="436.3" y1="147.2" x2="436.3" y2="248.5" stroke="#e4e4e4" stroke-width="0.4"/><line x1="457" y1="147.2" x2="457" y2="248.5" stroke="#e4e4e4" stroke-width="0.4"/><line x1="477.6" y1="147.2" x2="477.6" y2="248.5" stroke="#e4e4e4" stroke-width="0.4"/><line x1="361.5" y1="248.5" x2="490.5" y2="248.5" stroke="#e4e4e4" stroke-width="0.4"/><line x1="361.5" y1="238.4" x2="490.5" y2="238.4" stroke="#e4e4e4" stroke-width="0.4"/><line x1="361.5" y1="228.2" x2="490.5" y2="228.2" stroke="#e4e4e4" stroke-width="0.4"/><line x1="361.5" y1="218.1" x2="490.5" y2="218.1" stroke="#e4e4e4" stroke-width="0.4"/><line x1="361.5" y1="208" x2="490.5" y2="208" stroke="#e4e4e4" stroke-width="0.4"/><line x1="361.5" y1="197.8" x2="490.5" y2="197.8" stroke="#e4e4e4" stroke-width="0.4"/><line x1="361.5" y1="187.7" x2="490.5" y2="187.7" stroke="#e4e4e4" stroke-width="0.4"/><line x1="361.5" y1="177.6" x2="490.5" y2="177.6" stroke="#e4e4e4" stroke-width="0.4"/><line x1="361.5" y1="167.5" x2="490.5" y2="167.5" stroke="#e4e4e4" stroke-width="0.4"/><line x1="361.5" y1="157.3" x2="490.5" y2="157.3" stroke="#e4e4e4" stroke-width="0.4"/><line x1="361.5" y1="147.2" x2="490.5" y2="147.2" stroke="#e4e4e4" stroke-width="0.4"/><clipPath id="ce00"><polygon points="381.8,154.5 395,154 413.5,154.5 420,152.5 438,152.5 445,149.4 452,150 456,155 462,160 470.5,168.5 467.6,176.1 462,177.7 406,177.7 403.6,184 394,188 392,194 400,205 410.5,218 384.3,217 388,196 379.9,195.2 388,189 389,184 386,181 384,172 384.5,165 383,158"/></clipPath><g clip-path="url(#ce00)"><g filter="url(#bl)"><path d="M456.1 157.1L437.7 172.8M456.1 157.1L430.1 166M456.1 157.1L443 171.8M390 188L395.8 204.9M456.1 157.1L432.8 175.1M390 188L385.8 213.3M456.1 157.1L449.2 151.2M390 188L387.2 191.4M456.1 157.1L426.3 172.7M424 168L390.5 172M424 168L382.7 155.4M456.1 157.1L436.2 162.9M456.1 157.1L422.7 172.1M456.1 157.1L420.4 165.4M456.1 157.1L426.5 172.3M456.1 157.1L422 173.1M424 168L394.5 177.5M390 188L393.8 211.1M456.1 157.1L427.1 154.4M456.1 157.1L448 154.3M456.1 157.1L418 161.2M456.1 157.1L460.8 161M456.1 157.1L434.1 160.2M456.1 157.1L430 155.8M456.1 157.1L457.3 164.2M456.1 157.1L430.2 166.3M456.1 157.1L439.7 160.4M456.1 157.1L449.5 164.9M456.1 157.1L449.6 165M456.1 157.1L447.3 174.4M424 168L412.3 161.5M456.1 157.1L431.4 163.7M424 168L394.1 177.2M456.1 157.1L454 157.1M456.1 157.1L440.1 170.9M456.1 157.1L441 169M456.1 157.1L437.4 167.7M456.1 157.1L449 161.6M390 188L390.2 195.1M456.1 157.1L425 156.6M390 188L390.2 205.1M456.1 157.1L456.2 177.2M456.1 157.1L429.5 163.3M456.1 157.1L424.2 159.3M456.1 157.1L414.2 160M456.1 157.1L432 171.9M456.1 157.1L448.8 156.3M424 168L396.4 153.2M456.1 157.1L440.9 158.8M456.1 157.1L435.1 156.8M424 168L400.5 171.5M456.1 157.1L446.3 173.2M456.1 157.1L446.5 175.5M456.1 157.1L433.7 174.2M390 188L396.1 203M456.1 157.1L442.4 160.6M390 188L391.4 207.8M390 188L396.7 210.8M456.1 157.1L425.9 159.5M456.1 157.1L435 164.9M456.1 157.1L456.6 157.9M456.1 157.1L426.4 166.9M456.1 157.1L426.3 157.8M456.1 157.1L454.7 169.7M390 188L400.2 210.6M456.1 157.1L441.4 170.6M390 188L387.2 214.6M390 188L398.5 181.7M456.1 157.1L453.3 162M456.1 157.1L422.8 167.5M456.1 157.1L445.2 159.3M456.1 157.1L456.8 165.2M456.1 157.1L423.2 167.1M390 188L388.2 211.4M456.1 157.1L434.3 167.8M456.1 157.1L430.2 169M456.1 157.1L432.5 159.1M424 168L383.7 161.6M390 188L389.5 213.1M424 168L396.2 173.2M456.1 157.1L452.7 158.9M390 188L400.5 217.1M456.1 157.1L446 167.3M456.1 157.1L433.4 171.7M456.1 157.1L441.7 161M424 168L414 168.2M456.1 157.1L435.1 157.9M424 168L392.5 156.1M456.1 157.1L445.9 166.1M456.1 157.1L418.9 153.3M456.1 157.1L426.5 154M456.1 157.1L423.9 169.9M456.1 157.1L462.2 173.4M456.1 157.1L458 167.7M424 168L386.8 156.3M456.1 157.1L429.7 157.7M456.1 157.1L435.3 158.1M456.1 157.1L438.2 156.2M390 188L401.1 207.4M456.1 157.1L416.6 172.7M390 188L391 189.6M390 188L391 187.3M390 188L399.9 213.7M456.1 157.1L454.3 158M456.1 157.1L454.4 158.1M390 188L396.9 201.8M456.1 157.1L434.1 165.4M456.1 157.1L449 162.9M390 188L397 206.1M456.1 157.1L459.2 173.9M456.1 157.1L422.5 167M456.1 157.1L427.2 171.9M424 168L407.3 162.5M390 188L389.2 204.5M456.1 157.1L432.5 152.7M456.1 157.1L434 169.4M456.1 157.1L432 171.4M456.1 157.1L424 177M456.1 157.1L457.5 168.7M456.1 157.1L438.9 165.7M456.1 157.1L444.1 171" stroke="#00ff00" stroke-width="0.6" stroke-opacity="1" stroke-linecap="round" fill="none"/><path d="M456.1 157.1L433.1 177M390 188L394.4 212.9M390 188L393.1 218M456.1 157.1L460.7 177M456.1 157.1L440.2 174.1M424 168L388 163.3M390 188L387.2 201.5M456.1 157.1L425.8 157.4M456.1 157.1L454.6 163.5M456.1 157.1L448 150.8M424 168L414.6 170.4M390 188L397.4 218.6M424 168L399.9 177.3M456.1 157.1L438 154.1M456.1 157.1L437.9 153.6M456.1 157.1L451.2 165M390 188L389.6 185.1M456.1 157.1L437.1 174.4M456.1 157.1L436.2 166.3M456.1 157.1L437.9 164.2M456.1 157.1L435 164.2M456.1 157.1L436 154.8M456.1 157.1L418.7 153.4M456.1 157.1L426.8 167.9M424 168L417.8 170.8M456.1 157.1L461.2 161.8M456.1 157.1L422.7 166M456.1 157.1L416.6 160.7M456.1 157.1L427.8 175.2M456.1 157.1L434.9 155.5M456.1 157.1L444.9 163.2M456.1 157.1L433.1 165.7M456.1 157.1L449.1 154.6M424 168L398.4 170.9M456.1 157.1L450 164.4M456.1 157.1L437.4 163.9M456.1 157.1L437.4 164.2M424 168L397.4 156.8M456.1 157.1L442.2 167.3M456.1 157.1L424.5 155.6M456.1 157.1L434 172.4M456.1 157.1L428.5 168M456.1 157.1L429.3 160.4M424 168L408.5 166.9M456.1 157.1L422.4 167.3M390 188L396.9 207.8M456.1 157.1L447.6 171.3M456.1 157.1L431.5 168.2M456.1 157.1L442.1 152.8M456.1 157.1L466 165.5M390 188L385 191.9M424 168L395.7 166.1M456.1 157.1L433.3 156.7M424 168L403.9 159.6M456.1 157.1L443.1 159.9M456.1 157.1L434.9 156M456.1 157.1L427 170.6M456.1 157.1L430.2 167.2M456.1 157.1L445.3 175.9M456.1 157.1L441.8 160.2M456.1 157.1L443.7 155.7M456.1 157.1L434.1 153.6M456.1 157.1L430.9 160.3M456.1 157.1L422.4 166.1M456.1 157.1L442 162.6M390 188L388.4 204.9M456.1 157.1L444.8 160.5M390 188L388.8 197.5M424 168L404.7 166.7M456.1 157.1L447.5 151.5M456.1 157.1L427 157.7M456.1 157.1L423.7 171M456.1 157.1L423.5 156.5M456.1 157.1L429.9 165.2M456.1 157.1L433.5 158.2M424 168L382 169.3M456.1 157.1L455.9 161.2M456.1 157.1L417.9 154.2M456.1 157.1L422.4 154.7M456.1 157.1L451.5 155.8M456.1 157.1L448.5 160.4M456.1 157.1L431.9 172.4M456.1 157.1L450.7 167.6M456.1 157.1L426.8 169.9M390 188L391.2 202.8M456.1 157.1L440.1 158.2M424 168L404.4 172.9M424 168L393.5 156.1M456.1 157.1L465 176.6M456.1 157.1L458.4 175.3M456.1 157.1L433.7 171.9M424 168L411.7 159.7M456.1 157.1L425.4 170.5M456.1 157.1L419.1 172.7M456.1 157.1L426.2 175.9M390 188L389.9 204.2M456.1 157.1L467.5 171.8M456.1 157.1L437.6 174.3M456.1 157.1L453.3 161.2M456.1 157.1L451.7 165.7M456.1 157.1L436.8 164.2M456.1 157.1L441.1 165.4M456.1 157.1L425.8 162.4M390 188L402 208.1M456.1 157.1L424.8 173.4M456.1 157.1L445.6 180.4M424 168L399.1 157.8M456.1 157.1L444.1 178.1M456.1 157.1L457.1 173.5" stroke="#00ff00" stroke-width="1.1" stroke-opacity="1" stroke-linecap="round" fill="none"/><path d="M456.1 157.1L436.1 176.6M390 188L402.2 217.7M456.1 157.1L423.8 169.8M456.1 157.1L425 154.3M456.1 157.1L438 162.1M456.1 157.1L453.6 159.3M424 168L385.2 161.2M456.1 157.1L434.3 165.6M390 188L387 190.7M456.1 157.1L436 173.4M456.1 157.1L448.4 150.2M390 188L388.7 196.2M456.1 157.1L452.9 163.5M456.1 157.1L452.4 159.6M456.1 157.1L446.6 156.7M456.1 157.1L430.9 169.4M390 188L383.1 193.6M456.1 157.1L432.1 169.1M456.1 157.1L441.3 166M456.1 157.1L443.5 165.2M456.1 157.1L436.7 175.7M456.1 157.1L430.3 159.4M456.1 157.1L447 153.7M424 168L396.9 173.2M456.1 157.1L426.7 161.2M456.1 157.1L423.7 166.2M456.1 157.1L430.6 154.5M456.1 157.1L428.1 154M456.1 157.1L453.5 161.7M456.1 157.1L419.2 176.7M456.1 157.1L418.5 177.6M456.1 157.1L419.9 177M390 188L405.7 214.8M424 168L400.9 159.3M456.1 157.1L426 171.1M456.1 157.1L432.8 175.3M456.1 157.1L441.5 156.1M390 188L403.1 208.8M390 188L397 216.4M456.1 157.1L437.9 161.1M456.1 157.1L446.6 174.6M424 168L404 164.9M390 188L403 214M456.1 157.1L440 171M456.1 157.1L456 160.2M390 188L390.1 213.2M456.1 157.1L436.9 162M424 168L385.1 174.1M456.1 157.1L420.3 157.7M456.1 157.1L418.3 158.3M424 168L395.6 156.3M456.1 157.1L425 165.2M456.1 157.1L448.2 170.2M390 188L389.2 200.2M456.1 157.1L440.5 166.9M456.1 157.1L443.7 154.2M456.1 157.1L435.3 173.3M456.1 157.1L437.7 172.4M456.1 157.1L439.9 158.4M390 188L401.7 211.5M390 188L395.4 208.2M424 168L411.4 156.4M456.1 157.1L425.5 167.3M390 188L391.2 210.8M456.1 157.1L423.4 154.3M456.1 157.1L455.6 159.6M390 188L387.5 204.6M456.1 157.1L421.6 166.1M424 168L412.7 167.7M456.1 157.1L441.2 163.3M456.1 157.1L436.2 172.2M456.1 157.1L420.3 166.4M424 168L400.2 174.7M424 168L383.2 168.3M390 188L401.7 214.7M390 188L395.9 213.6M456.1 157.1L423.5 156.5M456.1 157.1L415.7 168.1M456.1 157.1L423.5 158.3M456.1 157.1L429.5 159.9M456.1 157.1L432.9 159.8M456.1 157.1L421.8 161.8M456.1 157.1L428.8 155.4M424 168L409.4 166.1M456.1 157.1L451 167.3M456.1 157.1L450.7 168.2M456.1 157.1L437 158.3M424 168L395.2 160.5M390 188L389.7 198.1M424 168L405.2 179M456.1 157.1L443.7 167.3M456.1 157.1L445 166.9M456.1 157.1L418.5 153M424 168L404.1 161.6M456.1 157.1L427.2 154.2M424 168L396.6 162.5M390 188L388.5 206.6M456.1 157.1L458.1 167.7M456.1 157.1L433.3 170.2M390 188L401 180.4M456.1 157.1L453.1 159M456.1 157.1L449.6 163.9M456.1 157.1L436.4 175.1M456.1 157.1L451.3 166.4M456.1 157.1L445.2 162.8M424 168L392 161.7M456.1 157.1L434.3 165.5M456.1 157.1L426.6 161M456.1 157.1L437.6 167.5M390 188L399.7 211.6M424 168L409.4 171M456.1 157.1L427.5 172M456.1 157.1L420.5 157.8M456.1 157.1L424.7 154.9M456.1 157.1L447.5 173M390 188L400.3 207.2M456.1 157.1L424.4 163M456.1 157.1L465 165.5M456.1 157.1L431.6 170.5M456.1 157.1L427.1 167.6M456.1 157.1L431.5 172.8M456.1 157.1L435.5 170.6M390 188L400.7 206.7M456.1 157.1L428.3 173.7M456.1 157.1L435.4 167.6" stroke="#00ff00" stroke-width="0.6" stroke-opacity="0.9" stroke-linecap="round" fill="none"/><path d="M390 188L406.5 213.1M456.1 157.1L460.3 176.5M456.1 157.1L438 161.4M456.1 157.1L439 161.2M456.1 157.1L452.9 159.7M424 168L408.4 164.9M424 168L382.7 169M456.1 157.1L455.5 174.1M456.1 157.1L430.3 162.5M456.1 157.1L430.4 176.7M456.1 157.1L454.7 163.7M456.1 157.1L452.6 163.8M456.1 157.1L430.5 170.4M456.1 157.1L425.7 172.9M424 168L415.2 171.2M456.1 157.1L432.6 162.7M456.1 157.1L446.5 156.4M456.1 157.1L455.8 169.3M424 168L415.7 171.9M424 168L402.8 173.4M456.1 157.1L439.8 166.4M456.1 157.1L438.5 164.8M456.1 157.1L435.5 165.7M456.1 157.1L426.7 159.1M456.1 157.1L426.2 159.6M456.1 157.1L425 153.5M456.1 157.1L460.9 161.5M456.1 157.1L426 174.2M390 188L395.8 213.8M456.1 157.1L452.8 162.8M424 168L409.1 158.6M456.1 157.1L458 165.4M456.1 157.1L432.8 172.6M456.1 157.1L420 175M456.1 157.1L433 152.8M456.1 157.1L430.9 165.6M424 168L404.5 157.3M424 168L396.2 164.6M424 168L398.2 154.5M456.1 157.1L437 164.1M456.1 157.1L430.1 162.8M456.1 157.1L453.7 157.1M456.1 157.1L453.5 155.3M456.1 157.1L462.8 174.3M424 168L414.8 158.6M456.1 157.1L424.3 169.2M456.1 157.1L422.4 155.3M456.1 157.1L432.9 159.5M424 168L408.4 176.7M456.1 157.1L438.2 162.6M456.1 157.1L432.5 168.2M456.1 157.1L455.3 173.1M424 168L393.7 176.9M424 168L395.5 163.8M456.1 157.1L423.6 152.3M456.1 157.1L429.7 155.6M456.1 157.1L439.2 171.6M456.1 157.1L424.4 154M456.1 157.1L421.3 161.4M424 168L394.7 159.7M456.1 157.1L424.9 158.7M424 168L407.4 164.5M456.1 157.1L432 156.3M456.1 157.1L424.3 165.7M456.1 157.1L440.1 151.7M456.1 157.1L436.4 162.3M456.1 157.1L434.6 163.7M456.1 157.1L432.2 167.5M390 188L394.8 210.8M390 188L402.2 180.9M456.1 157.1L425.3 159.8M456.1 157.1L430.2 159.6M456.1 157.1L421.7 168M456.1 157.1L417.3 168.2M456.1 157.1L452.3 159M456.1 157.1L425 161.3M424 168L411.6 160.9M390 188L396.6 179.7M424 168L386.5 172.3M424 168L384.4 164M456.1 157.1L430.2 167.7M456.1 157.1L461.5 173M424 168L397.3 154.9M456.1 157.1L449.8 166.5M456.1 157.1L449.6 167.4M424 168L388.7 170.7M390 188L393.1 205.7M456.1 157.1L436.1 162M456.1 157.1L416.1 177.5M390 188L392.4 203M456.1 157.1L430.4 167.1M456.1 157.1L449.5 162.4M456.1 157.1L450.1 161.6M390 188L396.4 201.8M456.1 157.1L439.8 165.4M456.1 157.1L447.9 172.9M456.1 157.1L429.3 163.6M456.1 157.1L427.7 164.3M456.1 157.1L428 168.4M456.1 157.1L431.1 173.4M456.1 157.1L432.1 170.3M456.1 157.1L436 168.5M456.1 157.1L445 169.7M456.1 157.1L456.9 159.5M424 168L403.1 163.2M456.1 157.1L435.7 168.1M456.1 157.1L457.4 174.3M456.1 157.1L445.5 168.6" stroke="#00ff00" stroke-width="0.8" stroke-opacity="1" stroke-linecap="round" fill="none"/><path d="M424 168L382.2 165M456.1 157.1L428.8 167.5M456.1 157.1L425.2 155.4M424 168L406.8 176.2M424 168L400.9 158.5M390 188L388.4 198.1M424 168L386.8 179.3M456.1 157.1L462 162.9M456.1 157.1L423.3 174.1M456.1 157.1L452.8 159.2M424 168L399.9 175.6M456.1 157.1L444.1 149.6M456.1 157.1L457.6 175.8M424 168L385.9 175.2M456.1 157.1L415.7 177.6M456.1 157.1L450.2 166.1M456.1 157.1L436.4 155.2M456.1 157.1L432.6 156.9M456.1 157.1L428.7 168.3M456.1 157.1L431.7 169.9M456.1 157.1L432.3 170M456.1 157.1L414.2 168.4M390 188L391.1 211.3M456.1 157.1L435.5 160.8M456.1 157.1L427.5 175.4M456.1 157.1L433.4 175.8M424 168L391.1 174.9M390 188L387.8 207.4M456.1 157.1L442.3 156M456.1 157.1L438.9 160.9M456.1 157.1L422.8 174.9M456.1 157.1L461.3 162M424 168L394 160M456.1 157.1L442.4 156.5M456.1 157.1L439.2 156.4M456.1 157.1L449 161.3M456.1 157.1L453.9 155.6M424 168L403.9 168.1M424 168L396.7 175.3M424 168L401.4 160M456.1 157.1L418.4 167.3M456.1 157.1L456.4 172.6M456.1 157.1L456.6 173.1M456.1 157.1L423.9 170.6M424 168L408.8 170.5M456.1 157.1L465.6 165.1M456.1 157.1L422.6 162.7M456.1 157.1L417.6 162.7M456.1 157.1L435.5 171.7M456.1 157.1L422.5 171.4M456.1 157.1L448.1 164.4M390 188L401.1 209M390 188L392.4 203.6M456.1 157.1L442.9 160.1M456.1 157.1L457.5 163.3M456.1 157.1L439.7 158M456.1 157.1L430.3 168.4M424 168L410.9 163.8M456.1 157.1L418.1 162.5M456.1 157.1L434.8 178.5M456.1 157.1L456.3 167.1M424 168L403.5 169.1M456.1 157.1L436.2 152.6M424 168L397.7 165.3M456.1 157.1L417.8 166M424 168L411.5 173M456.1 157.1L421 166M456.1 157.1L437.4 152M456.1 157.1L426.7 167.5M424 168L401 171.4M424 168L400.5 177.6M456.1 157.1L433.3 159M456.1 157.1L440.8 167.6M456.1 157.1L454.5 171.5M456.1 157.1L445.9 150.5M424 168L389.7 174.1M390 188L396.9 205.8M456.1 157.1L432.9 163.3M456.1 157.1L460.1 173M456.1 157.1L445.1 159.3M456.1 157.1L419.8 157M390 188L394.3 215.4M456.1 157.1L451.4 161M456.1 157.1L419.3 171M456.1 157.1L433.5 163.8M456.1 157.1L449.3 152.4M456.1 157.1L419.3 154.1M424 168L395.8 170.2M456.1 157.1L441 167.8M456.1 157.1L433.6 174.4M456.1 157.1L452.8 159.7M456.1 157.1L440.3 157M456.1 157.1L470.1 176.5M456.1 157.1L456.3 176M456.1 157.1L453.8 160.4M424 168L410.4 165.2M456.1 157.1L438 173.1M424 168L389.7 163M424 168L396.2 172.1M390 188L399.1 211.1M424 168L406.6 171M456.1 157.1L414.5 160.7M456.1 157.1L447.3 174.8M456.1 157.1L416.7 158.1M390 188L394.5 208.8M390 188L390.4 199.2M456.1 157.1L425.5 159.7" stroke="#00f828" stroke-width="0.8" stroke-opacity="0.8" stroke-linecap="round" fill="none"/><path d="M390 188L394.9 211.8M456.1 157.1L452.9 159.7M390 188L397.1 209.5M456.1 157.1L463.8 164M424 168L397 164.2M456.1 157.1L426.8 173M424 168L387.8 171.3M456.1 157.1L455.7 168.2M456.1 157.1L425.9 170.4M456.1 157.1L419.3 166.6M456.1 157.1L458.6 176.5M424 168L398.2 166M456.1 157.1L430.2 170M424 168L393.5 167.1M456.1 157.1L437 153.7M424 168L398.9 176.7M424 168L386.8 158.2M390 188L400 205.4M390 188L406.7 214.5M390 188L388.7 189.7M456.1 157.1L433.6 157.9M456.1 157.1L422.9 171.4M456.1 157.1L430.5 172.1M456.1 157.1L417.7 159.5M456.1 157.1L458 170.7M456.1 157.1L449.4 152.8M456.1 157.1L448.4 151.9M390 188L401.5 207.5M424 168L395.5 167.5M424 168L395.4 162.8M456.1 157.1L424.2 174.4M456.1 157.1L441.7 166.3M456.1 157.1L463 177.8M456.1 157.1L461.4 177.7M456.1 157.1L461.7 162.5M424 168L417 161.8M424 168L413.6 154.5M390 188L390.9 192.6M456.1 157.1L423.3 156.6M390 188L386.1 210.2M456.1 157.1L426.8 176.4M456.1 157.1L438.6 167.1M456.1 157.1L431.4 166.3M456.1 157.1L434.9 172.1M456.1 157.1L463.2 175.6M390 188L393.2 199.8M456.1 157.1L438.2 163.5M456.1 157.1L447 172M456.1 157.1L421.7 164.5M456.1 157.1L431.2 166.2M456.1 157.1L418.5 172.6M424 168L415.6 163.6M390 188L390.8 191.1M456.1 157.1L417.9 163M456.1 157.1L441.1 167.1M456.1 157.1L454.1 177.8M456.1 157.1L454 175.5M456.1 157.1L428.8 171.9M390 188L406.4 214.7M456.1 157.1L431.4 156.4M424 168L390.5 160M456.1 157.1L420.5 154.9M456.1 157.1L434.1 171.3M456.1 157.1L443.5 155.8M456.1 157.1L465.5 166M456.1 157.1L420.6 157.5M456.1 157.1L434.9 156.6M456.1 157.1L434.4 165.1M390 188L390 215.7M456.1 157.1L419.6 164.1M456.1 157.1L438.6 174.1M456.1 157.1L456.6 164.2M456.1 157.1L456 161.4M456.1 157.1L420.5 155.2M390 188L399.2 216.7M390 188L390.1 208.8M424 168L389.2 162.9M456.1 157.1L448.9 159.3M456.1 157.1L442.1 175.3M456.1 157.1L442 158.3M424 168L413.5 173.5M456.1 157.1L424 170.6M456.1 157.1L462.7 173.2M456.1 157.1L421.9 163.4M456.1 157.1L450.1 163.5M456.1 157.1L454.4 158M456.1 157.1L432 166.8M456.1 157.1L421 160.2M456.1 157.1L421.4 158.3M424 168L407.2 165.8M390 188L399.4 182.5M456.1 157.1L439 166.8M390 188L392.1 208.5M456.1 157.1L426.3 154.4M424 168L392.4 174.9M456.1 157.1L423.6 176M456.1 157.1L426.4 160.4" stroke="#00f828" stroke-width="0.6" stroke-opacity="0.8" stroke-linecap="round" fill="none"/><path d="M424 168L388.4 175.4M456.1 157.1L420.1 159.2M456.1 157.1L427.6 162M456.1 157.1L435.8 172.6M456.1 157.1L463.3 163.6M390 188L390.7 196.8M456.1 157.1L452.3 164.8M456.1 157.1L452.4 159.3M456.1 157.1L445.9 156.7M424 168L409.3 164.1M390 188L397.1 215.6M390 188L387 207M456.1 157.1L432.9 169.7M456.1 157.1L443.6 167.8M390 188L384.7 218.5M390 188L390 189.8M456.1 157.1L444.4 162.9M424 168L396 164.7M424 168L415.2 165.8M456.1 157.1L437.5 170.8M456.1 157.1L430.3 151.9M456.1 157.1L449.1 155M456.1 157.1L461.3 163.9M456.1 157.1L442.6 166.4M424 168L406.1 167.1M424 168L403.9 165.6M456.1 157.1L433.3 169.6M424 168L387.7 174.6M456.1 157.1L437.6 162.5M424 168L385.5 171.4M424 168L392.7 160.9M456.1 157.1L418.4 158.2M390 188L402.9 213.1M456.1 157.1L423.5 167.5M456.1 157.1L427.7 160.7M456.1 157.1L423.4 160.8M390 188L390.2 198.5M424 168L405.3 166.4M456.1 157.1L419.2 159.6M456.1 157.1L423.5 159.1M456.1 157.1L434.5 173.1M390 188L389.4 197.9M456.1 157.1L438.7 167.1M456.1 157.1L449 156.6M424 168L411.3 164.8M424 168L414.3 171.1M456.1 157.1L444.6 154.5M456.1 157.1L427.8 169.1M456.1 157.1L448.5 164M456.1 157.1L421.9 154.6M456.1 157.1L427 156.2M456.1 157.1L457.6 163.8M456.1 157.1L428.9 154.6M390 188L388.3 198.5M456.1 157.1L430.5 178.4M390 188L390.5 203.8M424 168L399.5 167.7M456.1 157.1L436.6 176.6M456.1 157.1L455.6 168.9M456.1 157.1L465.3 166M456.1 157.1L441.6 163M456.1 157.1L455.7 159.5M456.1 157.1L429 161.7M456.1 157.1L456.7 157.8M456.1 157.1L440.9 168.2M424 168L393.3 161.6M390 188L402.8 212.9M390 188L380.5 195M424 168L391.4 168.6M456.1 157.1L424.1 155.1M456.1 157.1L461.1 170M456.1 157.1L456.6 164.1M456.1 157.1L435.7 170.1M456.1 157.1L439.9 168M456.1 157.1L452.1 159.1M456.1 157.1L423 167.5M424 168L387.6 164.5M456.1 157.1L448.1 165.3M424 168L380.5 171.8M390 188L389.5 183.1M424 168L414.7 168.7M456.1 157.1L423.1 154.7M456.1 157.1L440.1 165.6M456.1 157.1L439.8 168M456.1 157.1L465.6 176.7M456.1 157.1L463 174.4M456.1 157.1L427.7 174.8M456.1 157.1L458.5 175.3M424 168L405.1 176.1M456.1 157.1L435 175M456.1 157.1L438.3 161.2M456.1 157.1L446.1 162.7M456.1 157.1L433.8 175.7M456.1 157.1L437.2 168.1M390 188L392.5 195.6M456.1 157.1L448.6 165.2M456.1 157.1L447 166.8M424 168L402.1 172.9M456.1 157.1L460.4 178.6M390 188L391.5 199.6M456.1 157.1L418.3 164.2M456.1 157.1L429.4 163.1M456.1 157.1L444.6 175.9M456.1 157.1L456.7 158.9M456.1 157.1L457.3 166.3M456.1 157.1L437.5 155.6M456.1 157.1L443.9 169.9" stroke="#00ff00" stroke-width="1.1" stroke-opacity="0.9" stroke-linecap="round" fill="none"/><path d="M456.1 157.1L460 174.5M424 168L381 168.6M424 168L403.7 171.1M456.1 157.1L434.2 167.6M424 168L404.8 169M390 188L391.9 198M390 188L398.7 216.4M424 168L390.4 165.6M390 188L401.4 182.4M456.1 157.1L431.6 163.7M456.1 157.1L417.7 164.7M456.1 157.1L457.5 172M456.1 157.1L450.6 166.4M456.1 157.1L437.6 163.6M456.1 157.1L431.4 167.4M390 188L395.2 212.4M456.1 157.1L458.1 172.8M456.1 157.1L449.6 153.3M456.1 157.1L453.5 162.5M390 188L389.4 191.2M456.1 157.1L439.3 170.2M456.1 157.1L457.7 165.1M424 168L400.6 168.8M390 188L392.9 200M456.1 157.1L447 173.7M456.1 157.1L425.5 172.9M456.1 157.1L448.8 161.3M390 188L392.2 185.2M456.1 157.1L438.3 170.6M456.1 157.1L438.3 170.7M456.1 157.1L421.6 160.8M456.1 157.1L423.6 164.7M456.1 157.1L430 171.4M456.1 157.1L443.5 152.7M424 168L404.7 163.3M456.1 157.1L425.4 157M456.1 157.1L435.7 172.5M456.1 157.1L427 153.4M456.1 157.1L415.7 162.2M456.1 157.1L435.6 177.2M456.1 157.1L455.6 167.2M456.1 157.1L414.7 153.8M456.1 157.1L443.1 160.4M456.1 157.1L434 172M456.1 157.1L425.3 158.8M456.1 157.1L440.1 163.3M456.1 157.1L415.4 154.1M424 168L392.2 176.6M456.1 157.1L456.7 157.9M456.1 157.1L440.6 153.4M456.1 157.1L434 159.8M456.1 157.1L432.5 158.9M390 188L386.9 213.2M424 168L402.5 171.2M456.1 157.1L445.5 160.4M456.1 157.1L431.6 159.5M390 188L398.1 207.4M456.1 157.1L424.9 157.6M456.1 157.1L426.2 158.2M456.1 157.1L425.6 166.1M456.1 157.1L452.3 163.4M424 168L407.8 161.3M456.1 157.1L461.5 170.7M424 168L412.1 160.6M456.1 157.1L455.9 161.9M456.1 157.1L452.4 160.2M456.1 157.1L447.5 161M456.1 157.1L448.8 160.6M456.1 157.1L435.9 163.3M456.1 157.1L434 163.3M456.1 157.1L448.7 159.4M424 168L414 154.1M456.1 157.1L448 151.2M456.1 157.1L447.6 150.9M456.1 157.1L443.9 172.1M456.1 157.1L441.5 158.2M390 188L394.8 212.1M456.1 157.1L449.5 166.9M424 168L406.8 176.6M456.1 157.1L433.6 173.6M456.1 157.1L428.1 174.4M456.1 157.1L456.3 174.1M456.1 157.1L448.3 165.7M390 188L390.1 191.1M456.1 157.1L421.9 175.2M456.1 157.1L435.1 175.7M424 168L409.3 166M456.1 157.1L418.9 162M456.1 157.1L428.3 162.9M456.1 157.1L440.2 160.6M456.1 157.1L440.7 160M390 188L392 197.9M424 168L395.5 177.7M456.1 157.1L421.3 153.7M424 168L401.8 165.2M456.1 157.1L419.6 154.7M456.1 157.1L424 154.4M456.1 157.1L424.3 168.9M456.1 157.1L442.3 179.6M456.1 157.1L446.4 169.2M456.1 157.1L444.4 169.7M424 168L392.4 179M456.1 157.1L430.6 171.5M390 188L401.8 213.6" stroke="#00f828" stroke-width="1.1" stroke-opacity="0.8" stroke-linecap="round" fill="none"/><path d="M456.1 157.1L441.6 172.6M424 168L387.5 155.1M456.1 157.1L435.5 167.3M456.1 157.1L433.4 166.4M456.1 157.1L454.9 172.9M390 188L386.8 204.9M456.1 157.1L429.6 175.1M424 168L394.5 161.6M456.1 157.1L424.9 174.4M424 168L389 160.1M390 188L392.1 201.3M456.1 157.1L455 168.1M456.1 157.1L443.6 149.6M424 168L415.1 168.6M456.1 157.1L415.8 177.2M424 168L396.1 159.4M390 188L407.4 219.4M456.1 157.1L446.3 153.7M390 188L403.5 210.7M456.1 157.1L429.4 167.4M424 168L394.6 166.1M456.1 157.1L429 158.9M456.1 157.1L418.1 161.2M424 168L401.4 163.9M390 188L387.1 206.1M456.1 157.1L418.2 161.1M456.1 157.1L458.2 172.1M456.1 157.1L429.1 154.2M456.1 157.1L431.4 160.5M424 168L413.7 172.3M456.1 157.1L433.8 172M390 188L396.3 210.3M456.1 157.1L436.2 156.1M456.1 157.1L435 152.2M456.1 157.1L449.5 155.4M456.1 157.1L428.8 179.9M456.1 157.1L443.6 156.1M456.1 157.1L418.8 179.4M456.1 157.1L461.6 163.5M456.1 157.1L462.4 164M456.1 157.1L461.5 178.5M456.1 157.1L426.8 172M456.1 157.1L455.8 160.4M456.1 157.1L455.8 160.6M456.1 157.1L433.3 165.7M390 188L390.2 198.3M456.1 157.1L426.7 155.6M424 168L385.3 154.5M390 188L403 214.2M456.1 157.1L414.6 158.8M456.1 157.1L434 169.5M456.1 157.1L448.3 156.2M456.1 157.1L427.8 156.8M456.1 157.1L457.3 162.5M456.1 157.1L439.4 158.5M456.1 157.1L440.3 158.1M456.1 157.1L422.5 168.8M390 188L397.6 201.3M456.1 157.1L434 176M456.1 157.1L422.6 155.8M456.1 157.1L436.5 170.5M390 188L391.6 194.1M390 188L388.5 208.2M456.1 157.1L414.6 153.7M456.1 157.1L417.8 160M456.1 157.1L455.9 159.2M456.1 157.1L435.3 156M456.1 157.1L426.4 160.9M456.1 157.1L434.7 164.2M456.1 157.1L432.9 158.1M456.1 157.1L424.2 164.4M456.1 157.1L437.6 167.9M456.1 157.1L454.9 169M456.1 157.1L438 175.1M424 168L411.9 160.5M456.1 157.1L447.2 150.5M456.1 157.1L424.6 169.2M390 188L392 206.8M456.1 157.1L425.4 167.5M456.1 157.1L460.1 173.7M456.1 157.1L459.5 173.5M424 168L417.6 165.3M456.1 157.1L434 158M390 188L384.7 192M456.1 157.1L428.4 169.4M456.1 157.1L425.7 168.3M456.1 157.1L451.6 155.8M424 168L393.3 178M424 168L392 177.3M456.1 157.1L441 161.2M456.1 157.1L426.6 154.6M456.1 157.1L444.9 172M424 168L394.3 157.8M456.1 157.1L428.1 168.2M456.1 157.1L441.4 164.5M390 188L389.1 198.8M456.1 157.1L453.2 159.4M390 188L403.8 212.3M424 168L403.1 165.9M456.1 157.1L446.3 159.6M456.1 157.1L446.2 159.5M424 168L402.4 162M456.1 157.1L421.3 161.9M456.1 157.1L468.7 175.5M456.1 157.1L455.6 177.6M456.1 157.1L453.7 160.6M424 168L413.2 171.7M456.1 157.1L429.8 167.9M456.1 157.1L437.2 161.5M456.1 157.1L438 167.6M424 168L401.9 160.9M390 188L394.8 205.5M456.1 157.1L445.1 179.3M456.1 157.1L441.7 164.5M456.1 157.1L459 175.8M456.1 157.1L424 164.7M456.1 157.1L466.2 166M390 188L403.3 214.9M456.1 157.1L434.9 153.3M456.1 157.1L431.8 154.2M424 168L392.9 159.4M456.1 157.1L456.7 159M456.1 157.1L430.6 173.6M390 188L390.5 196.1M456.1 157.1L439.1 156.1M456.1 157.1L439.8 155.8" stroke="#00ff00" stroke-width="0.8" stroke-opacity="0.9" stroke-linecap="round" fill="none"/></g></g><clipPath id="ce10"><polygon points="446,182.7 469,182.7 468.8,190.2 467.6,200.2 465,211.4 463.8,214 452,221.5 445.8,221.5 441,214.5 432,206 438,204 445.5,200 446,195"/></clipPath><g clip-path="url(#ce10)"><g filter="url(#bl)"><path d="M445.5 217L453.3 209.3M445.5 217L440 212.5M445.5 217L465.5 201.8M445.5 217L450.1 196.8M445.5 217L451.4 215.2M445.5 217L469.2 180.6M445.5 217L454.1 186.9M445.5 217L444.5 203.5M445.5 217L441.4 204.2M445.5 217L462.1 195.3M445.5 217L458.2 201.8M445.5 217L457.4 210.8M445.5 217L461.6 197.6M445.5 217L441.1 209.6M445.5 217L448.9 187M445.5 217L456.2 195.8M445.5 217L449.4 204.2M445.5 217L453.3 205.3M445.5 217L469.1 182.6M445.5 217L462.1 199M445.5 217L452 195.4M445.5 217L447.8 182.6M445.5 217L461.8 195.5M445.5 217L458.6 187.6M445.5 217L452.3 206M445.5 217L452.8 210.4M445.5 217L443.9 208.2M445.5 217L450.5 190.4M445.5 217L461.9 197.3M445.5 217L459.7 200.9M445.5 217L456.1 209.7M445.5 217L439.2 207.5M445.5 217L465.2 201.8M445.5 217L470.1 193.3M445.5 217L436.6 204.8M445.5 217L461 201.5M445.5 217L466.4 189.7M445.5 217L443.6 206.2M445.5 217L452.8 200.1M445.5 217L451.5 188.5M445.5 217L462.5 191.7M445.5 217L460.2 199.8M445.5 217L462.1 199.4M445.5 217L456.1 191.2M445.5 217L456.7 187.2" stroke="#ff3030" stroke-width="0.8" stroke-opacity="0.7" stroke-linecap="round" fill="none"/><path d="M445.5 217L440.7 212.2M445.5 217L450.7 198.8M445.5 217L463 204.8M445.5 217L446.9 191.1M445.5 217L457.3 200.3M445.5 217L464.8 195.4M445.5 217L459.1 211.5M445.5 217L460.8 188.6M445.5 217L457.3 187.3M445.5 217L450.6 197.6M445.5 217L460.5 208.5M445.5 217L446 204.6M445.5 217L461.7 204.5M445.5 217L463.8 189.8M445.5 217L457.7 191.5M445.5 217L450.7 215.5M445.5 217L452.6 211.4M445.5 217L449.6 198.7M445.5 217L457.2 197M445.5 217L447.6 180.1M445.5 217L452 198M445.5 217L464.6 201.7M445.5 217L454.1 201.1M445.5 217L452.9 193.3M445.5 217L457.1 198.5M445.5 217L458.2 212.6M445.5 217L467.2 208.7M445.5 217L443.6 200.3M445.5 217L465.7 200.8M445.5 217L458.9 200.3M445.5 217L455.2 203.9M445.5 217L444.5 210.6M445.5 217L469.6 182.8M445.5 217L459.5 186.2M445.5 217L435 205.8M445.5 217L469.9 198.8M445.5 217L450.1 207.5" stroke="#ff3030" stroke-width="1" stroke-opacity="0.7" stroke-linecap="round" fill="none"/><path d="M445.5 217L465 186.3M445.5 217L439.8 210.4M445.5 217L452.1 193.7M445.5 217L440.8 213.7M445.5 217L446.7 194.6M445.5 217L449.2 189.3M445.5 217L451.6 188.9M445.5 217L467.7 193.2M445.5 217L462.5 214.4M445.5 217L458.4 213.2M445.5 217L454.8 197.6M445.5 217L459.7 194.9M445.5 217L463.7 182.6M445.5 217L468.5 183.6M445.5 217L455.1 183.1M445.5 217L466.8 197.6M445.5 217L448 187.4M445.5 217L458.4 202.8M445.5 217L453.4 193.6M445.5 217L445.5 205.7M445.5 217L461.3 191.2M445.5 217L447.7 180.2M445.5 217L460 187.6M445.5 217L464.3 195.8M445.5 217L455.6 213.6M445.5 217L467 182.6M445.5 217L452.2 189.3M445.5 217L458.3 206.7M445.5 217L470.9 183.9M445.5 217L456.6 188.2M445.5 217L456.9 196.6M445.5 217L467.2 184.4M445.5 217L449.8 194.3M445.5 217L448 209.9M445.5 217L449 214.6M445.5 217L452.8 204.9M445.5 217L441.2 213.8M445.5 217L460 196.9M445.5 217L450.1 198.8M445.5 217L456 181.9M445.5 217L465.1 195.3M445.5 217L448.5 199.2M445.5 217L450.9 184.7M445.5 217L470.1 190.2M445.5 217L465.3 199.9M445.5 217L453.1 205.7" stroke="#ff0000" stroke-width="0.8" stroke-opacity="1" stroke-linecap="round" fill="none"/><path d="M445.5 217L468.7 197.8M445.5 217L457.7 189.5M445.5 217L463.5 208.6M445.5 217L454 203.1M445.5 217L462.3 197.8M445.5 217L464.6 208.4M445.5 217L460.8 194.6M445.5 217L460.8 182.7M445.5 217L457.9 191.3M445.5 217L453 207M445.5 217L451.9 209.4M445.5 217L446.4 200.6M445.5 217L451.1 213.3M445.5 217L456 187.3M445.5 217L451.1 184.2M445.5 217L448.5 197.8M445.5 217L448.4 202.8M445.5 217L457.3 212.7M445.5 217L457.9 209.6M445.5 217L446.4 195.3M445.5 217L449 213.3M445.5 217L454.3 207.6M445.5 217L453.6 207.4M445.5 217L469.2 181.5M445.5 217L459.2 183.5M445.5 217L465.5 183.9M445.5 217L453.6 209.6M445.5 217L441.5 212.5M445.5 217L450.9 188.8M445.5 217L435.5 207.1M445.5 217L457.6 188.7M445.5 217L446 199.2M445.5 217L450.9 211.7M445.5 217L456.6 194.8" stroke="#ff0000" stroke-width="0.5" stroke-opacity="0.8" stroke-linecap="round" fill="none"/><path d="M445.5 217L459.3 215.2M445.5 217L453.2 192.2M445.5 217L466.3 184.2M445.5 217L468 200.7M445.5 217L449.6 215.2M445.5 217L435.5 206.7M445.5 217L455.7 188.3M445.5 217L462.2 189.4M445.5 217L451.5 186.2M445.5 217L453.9 185.7M445.5 217L453.1 194.9M445.5 217L461 198M445.5 217L464.2 195.7M445.5 217L448.6 186.1M445.5 217L460.3 202.2M445.5 217L448.8 197.2M445.5 217L455.7 195M445.5 217L447.1 211.9M445.5 217L451.1 203.7M445.5 217L453.8 216.1M445.5 217L452.3 186.8M445.5 217L464.1 210.6M445.5 217L450.8 190.5M445.5 217L451.5 201.2M445.5 217L448.2 198.8M445.5 217L457.9 213.3M445.5 217L460.1 188.7M445.5 217L449.3 194.4M445.5 217L457.8 203.1M445.5 217L466.4 189.4M445.5 217L449 191.8M445.5 217L449.2 190.1M445.5 217L449 191.6M445.5 217L450.1 197.2M445.5 217L460.4 199.3M445.5 217L464 185.9M445.5 217L464.4 183.5M445.5 217L438.8 208.6M445.5 217L459.1 193.8M445.5 217L453.8 208.4M445.5 217L460.8 202.5M445.5 217L464.8 203.9M445.5 217L446.8 208.8" stroke="#ff0000" stroke-width="1" stroke-opacity="0.8" stroke-linecap="round" fill="none"/><path d="M445.5 217L435.5 206.8M445.5 217L450.5 190.6M445.5 217L459.4 207.5M445.5 217L452.2 193.3M445.5 217L446.7 196.7M445.5 217L464.3 192.1M445.5 217L447.9 197.5M445.5 217L462.8 193.5M445.5 217L448.5 202.8M445.5 217L462.6 205.3M445.5 217L449.6 199.9M445.5 217L449 208.3M445.5 217L464 204.8M445.5 217L443.8 215M445.5 217L444.3 213.9M445.5 217L461.6 208.5M445.5 217L454.7 200.2M445.5 217L456.4 213.3M445.5 217L458 211.6M445.5 217L457.4 202.5M445.5 217L454.9 199M445.5 217L446.6 189.1M445.5 217L449.5 191.9M445.5 217L458 199.2M445.5 217L455 193M445.5 217L458.9 191.2M445.5 217L435.6 204.4M445.5 217L450.8 210.9M445.5 217L456.3 191M445.5 217L454.9 190.6M445.5 217L455.2 201.9M445.5 217L435.6 206.4M445.5 217L458.3 213.8M445.5 217L450.6 188.7M445.5 217L458.6 201.2M445.5 217L453.8 206.9M445.5 217L464.7 194.9M445.5 217L449 208.9M445.5 217L450.4 179.7M445.5 217L449.1 208.8M445.5 217L464.7 194.3M445.5 217L448.5 207.4M445.5 217L452.1 207.2" stroke="#ff0000" stroke-width="1" stroke-opacity="1" stroke-linecap="round" fill="none"/><path d="M445.5 217L457.1 191.2M445.5 217L464.9 181.9M445.5 217L436.3 209.2M445.5 217L454.6 214.3M445.5 217L464 211.1M445.5 217L436.2 209.6M445.5 217L448.9 194.2M445.5 217L455.7 211.6M445.5 217L446.5 195.2M445.5 217L462.1 206.3M445.5 217L453.3 203.6M445.5 217L450 207.2M445.5 217L452.7 211M445.5 217L449.9 195.5M445.5 217L466 192.4M445.5 217L455.3 209.1M445.5 217L457.6 196.5M445.5 217L449.1 207.9M445.5 217L447.7 198.5M445.5 217L447.7 212M445.5 217L462.2 196.6M445.5 217L442.1 214.3M445.5 217L463.8 199M445.5 217L466.6 199.2M445.5 217L434.7 205M445.5 217L449.4 215.9M445.5 217L447.8 205.5M445.5 217L453.3 185.2M445.5 217L446.1 201.9M445.5 217L449.2 193.9M445.5 217L465.7 180.9M445.5 217L463.8 184.8M445.5 217L457.7 189.7M445.5 217L460.9 196.9M445.5 217L461.6 202M445.5 217L460.7 203.4" stroke="#ff0000" stroke-width="0.8" stroke-opacity="0.8" stroke-linecap="round" fill="none"/><path d="M445.5 217L440.9 212.8M445.5 217L443.7 206.6M445.5 217L463.3 195.7M445.5 217L456.6 202.7M445.5 217L448.1 202.4M445.5 217L457.3 182.4M445.5 217L465.1 187.6M445.5 217L452.5 211.9M445.5 217L464.7 193.1M445.5 217L461.4 203.6M445.5 217L454.2 206.9M445.5 217L455.3 203.8M445.5 217L438.8 206M445.5 217L450.1 199.5M445.5 217L453.3 191.2M445.5 217L453.7 197.3M445.5 217L459.1 203.3M445.5 217L448 190.3M445.5 217L465.3 187.4M445.5 217L452 189M445.5 217L452.4 204.6M445.5 217L446.3 209M445.5 217L444.2 206.9M445.5 217L460.1 191.1M445.5 217L462.5 194.2M445.5 217L448.3 196.3M445.5 217L464.4 185.1M445.5 217L451.3 199.4M445.5 217L459.3 214.6M445.5 217L453 197.7M445.5 217L444.7 202M445.5 217L455.6 187.5M445.5 217L451.9 182.8M445.5 217L446.6 189.7M445.5 217L454 200.7M445.5 217L464.9 197.2M445.5 217L452.8 184M445.5 217L458.7 185.4M445.5 217L433.6 206.1" stroke="#ff0000" stroke-width="0.5" stroke-opacity="1" stroke-linecap="round" fill="none"/><path d="M445.5 217L449.2 214.8M445.5 217L450.9 191.1M445.5 217L466.1 200.5M445.5 217L452.1 206.7M445.5 217L447.7 180.3M445.5 217L446.8 212.6M445.5 217L449.1 187.2M445.5 217L454.4 211.3M445.5 217L459 210.1M445.5 217L463.2 183.9M445.5 217L458 201.4M445.5 217L461 198.5M445.5 217L458.9 212.9M445.5 217L463.6 208M445.5 217L449.4 193.2M445.5 217L447.1 220.1M445.5 217L449.1 210.3M445.5 217L455.9 204.8M445.5 217L453.7 205M445.5 217L448.4 189.1M445.5 217L443.7 207.3M445.5 217L460.1 196.7M445.5 217L449.8 205.2M445.5 217L449.5 187.5M445.5 217L459.1 191.9M445.5 217L453.8 183.2M445.5 217L465.4 191.8M445.5 217L462.8 193.9M445.5 217L456.1 189.2M445.5 217L437.4 210.5M445.5 217L452.8 205.1M445.5 217L465.8 186.9M445.5 217L458.7 189M445.5 217L434.6 207.7M445.5 217L459.2 204.5" stroke="#ff3030" stroke-width="0.5" stroke-opacity="0.7" stroke-linecap="round" fill="none"/></g></g><clipPath id="ce20"><polygon points="379.6,224.3 400,224.5 430,224.3 446,224 465,224.5 468,228 463,233 468,240 460,243.5 430,241 410,240.5 399,241 397,246 394,241 380,240.5 386,236 392,234"/></clipPath><g clip-path="url(#ce20)"><g filter="url(#bl)"><path d="M400 236L423.9 238.2M395.5 238.3L407.7 230.3M400 236L449.6 235M400 236L439.7 240.1M395.5 238.3L395.6 234.8M395.5 238.3L408.6 230.1M395.5 238.3L384.2 237.4M395.5 238.3L397.6 230.3M395.5 238.3L397.4 237.8M395.5 238.3L396.4 237.9M395.5 238.3L395.9 230.2M395.5 238.3L405 239.8M395.5 238.3L385.2 227.2M395.5 238.3L410.9 239.7M395.5 238.3L396.4 235.1M395.5 238.3L386.7 239.5M400 236L458.3 226.7M400 236L418.2 228.3M395.5 238.3L402.4 228.6M395.5 238.3L397.2 232.3M400 236L425.6 224.1M395.5 238.3L398.7 234.3M395.5 238.3L390.9 232M395.5 238.3L404.5 228.5M395.5 238.3L408.9 233.4" stroke="#ff0000" stroke-width="0.8" stroke-opacity="1" stroke-linecap="round" fill="none"/><path d="M400 236L446.8 227.6M395.5 238.3L407.1 230.7M395.5 238.3L402.5 228.2M395.5 238.3L401.2 230M400 236L444.1 226M395.5 238.3L402.4 230.5M395.5 238.3L385 227.5M395.5 238.3L389 230.7M395.5 238.3L389.3 230.8M395.5 238.3L388.1 223.2M395.5 238.3L409.5 239.8M395.5 238.3L412.8 235.1M400 236L426.9 236.9M400 236L443.4 231.3M395.5 238.3L409.2 233.5M395.5 238.3L392.5 237.8M395.5 238.3L385.3 239M400 236L414.2 230.9M395.5 238.3L399.2 232M400 236L452.6 226.7M395.5 238.3L408.3 232.9M395.5 238.3L383.5 240.8M395.5 238.3L381.3 223.6M395.5 238.3L393.1 225.9M395.5 238.3L408.7 233.3M395.5 238.3L408 240.1M395.5 238.3L406.3 240.1" stroke="#ff3030" stroke-width="0.5" stroke-opacity="0.7" stroke-linecap="round" fill="none"/><path d="M400 236L432 237.2M400 236L414.1 236.9M395.5 238.3L406.4 238M400 236L423.4 235.5M395.5 238.3L400.9 234.4M395.5 238.3L411.2 231.8M395.5 238.3L404.6 225.3M395.5 238.3L396 231.4M395.5 238.3L403.8 234.1M400 236L419.9 228.2M400 236L438 230.4M395.5 238.3L388.4 239.3M400 236L452.6 236.8M395.5 238.3L397.5 232.1M400 236L450.1 231.5M395.5 238.3L409.4 232.3M395.5 238.3L409 232.2M395.5 238.3L390.6 232.3M395.5 238.3L392.7 237.8M395.5 238.3L399.5 231.8M395.5 238.3L404.9 234.4M400 236L430.3 226.7M395.5 238.3L405.2 229.2" stroke="#ff3030" stroke-width="1" stroke-opacity="0.7" stroke-linecap="round" fill="none"/><path d="M400 236L446.9 240.1M395.5 238.3L407 230.9M395.5 238.3L401.9 232M395.5 238.3L397.3 224.8M395.5 238.3L403.4 229.6M395.5 238.3L390.5 226.9M400 236L413.8 237.6M395.5 238.3L414.3 223M395.5 238.3L409.1 232.9M395.5 238.3L409.2 232.8M395.5 238.3L403.8 239.8M395.5 238.3L400.8 234.9M400 236L418.8 233.4M395.5 238.3L408.3 233.7M395.5 238.3L393 223.8" stroke="#ff0000" stroke-width="1" stroke-opacity="0.8" stroke-linecap="round" fill="none"/><path d="M395.5 238.3L401.7 228.3M395.5 238.3L388.6 225.6M395.5 238.3L403.1 230.6M400 236L443.8 239M395.5 238.3L411.3 227.9M395.5 238.3L405 240.5M395.5 238.3L401 234M395.5 238.3L412.6 230.3M400 236L441 226.5M400 236L454.4 231.4M395.5 238.3L404.8 224.8M400 236L423 237.2M395.5 238.3L396 238.3M395.5 238.3L396.6 231.7M395.5 238.3L392.7 238.8M395.5 238.3L390.2 238.2M395.5 238.3L405.4 229.9M395.5 238.3L407.1 239.2" stroke="#ff0000" stroke-width="1" stroke-opacity="1" stroke-linecap="round" fill="none"/><path d="M395.5 238.3L405 238.1M395.5 238.3L395.6 235.1M395.5 238.3L387.6 225.7M400 236L433.4 232.3M395.5 238.3L394.2 238M395.5 238.3L405.8 239.6M395.5 238.3L402 234M400 236L430.5 233.6M395.5 238.3L396.5 235M395.5 238.3L389.5 226.3M400 236L435.8 235.7M395.5 238.3L407.4 234.3M395.5 238.3L387.4 222.4M400 236L449.7 234.9M395.5 238.3L390.3 238.2M400 236L426.2 227.6M395.5 238.3L401.6 225.8M400 236L454.4 236.7" stroke="#ff0000" stroke-width="0.8" stroke-opacity="0.8" stroke-linecap="round" fill="none"/><path d="M395.5 238.3L391.2 239.1M395.5 238.3L396.9 237.9M395.5 238.3L405.9 239.5M400 236L418.5 237.9M395.5 238.3L397.6 224M395.5 238.3L393 235.7M400 236L439.8 233.9M400 236L456.3 225.6M400 236L448.8 230.1M395.5 238.3L396.3 226.1M395.5 238.3L387 239.6M395.5 238.3L409.6 234.1M395.5 238.3L409.5 232.7M395.5 238.3L396.1 238.4M395.5 238.3L408.8 223.8M395.5 238.3L399.3 233.8M400 236L463.8 243.8M395.5 238.3L384.9 239.2M395.5 238.3L398.3 228.6M400 236L431.5 223.9M395.5 238.3L384.5 239M400 236L459.7 227M400 236L451.2 235.1M395.5 238.3L407.9 227.3" stroke="#ff0000" stroke-width="0.5" stroke-opacity="1" stroke-linecap="round" fill="none"/><path d="M395.5 238.3L391.7 239.1M395.5 238.3L403 230.4M395.5 238.3L401.2 231.3M400 236L460.6 230.9M395.5 238.3L393.4 236M395.5 238.3L405.3 240.2M400 236L457.4 233.1M395.5 238.3L398 238.1M395.5 238.3L408.6 239.5M400 236L413.2 234.9M400 236L456.3 232M395.5 238.3L409.1 233.8M400 236L465.1 231.4M400 236L456.5 232.3M395.5 238.3L392.6 227.7M395.5 238.3L388.9 236.8M395.5 238.3L387.4 236.5M400 236L414.9 234.6M395.5 238.3L396.1 232.5M400 236L457 233.9M395.5 238.3L405 228.5M395.5 238.3L410.8 224.9M395.5 238.3L406.2 229.3M395.5 238.3L391.3 227.2" stroke="#ff0000" stroke-width="0.5" stroke-opacity="0.8" stroke-linecap="round" fill="none"/><path d="M400 236L441.4 230.8M400 236L415.6 227.9M395.5 238.3L405.1 224.7M395.5 238.3L382.3 240.5M395.5 238.3L406.2 238.9M395.5 238.3L412.2 235.4M395.5 238.3L403.8 227.4M395.5 238.3L393 238.7M395.5 238.3L410.2 228M400 236L422 235M395.5 238.3L382.8 239.4M395.5 238.3L394.7 239.2M395.5 238.3L383.8 240.4M395.5 238.3L382.6 224.6M395.5 238.3L407.8 233.4" stroke="#ff3030" stroke-width="0.8" stroke-opacity="0.7" stroke-linecap="round" fill="none"/></g></g><rect x="405.4" y="177.6" width="72.2" height="5.1" fill="#fff" stroke="#9c9c9c" stroke-width="0.5"/><rect x="374.4" y="218.1" width="72.2" height="5.1" fill="#fff" stroke="#9c9c9c" stroke-width="0.5"/><ellipse cx="436.3" cy="192.8" rx="10.3" ry="10.1" fill="#fff" stroke="#9c9c9c" stroke-width="0.5"/><ellipse cx="415.7" cy="208" rx="10.3" ry="10.1" fill="#fff" stroke="#9c9c9c" stroke-width="0.5"/><polyline points="456.1,157.1 440,163 428,167.4 415,172 406,176 404.8,179 404.8,184 410,190 428,201.4 441.4,214 446,218.2 446,222.1 432,224.5 414,231 395.5,238.3" fill="none" stroke="#4a30b8" stroke-width="0.9" stroke-linejoin="round"/><circle cx="428" cy="167.4" r="0.75" fill="#10d8f0"/><circle cx="404.8" cy="179" r="0.75" fill="#10d8f0"/><circle cx="428" cy="201.4" r="0.75" fill="#10d8f0"/><circle cx="446" cy="222.1" r="0.75" fill="#10d8f0"/><circle cx="395" cy="238.4" r="1.3" fill="#ff00ff"/><circle cx="457" cy="157.3" r="1.3" fill="#000"/><rect x="361.5" y="147.2" width="129" height="101.3" fill="none" stroke="#a8a8a8" stroke-width="0.5"/><text x="374.9" y="254.4" font-size="4" text-anchor="middle" fill="#383838">0</text><text x="395.5" y="254.4" font-size="4" text-anchor="middle" fill="#383838">20</text><text x="416.2" y="254.4" font-size="4" text-anchor="middle" fill="#383838">40</text><text x="436.8" y="254.4" font-size="4" text-anchor="middle" fill="#383838">60</text><text x="457.5" y="254.4" font-size="4" text-anchor="middle" fill="#383838">80</text><text x="478.1" y="254.4" font-size="4" text-anchor="middle" fill="#383838">100</text><text x="360.1" y="250.2" font-size="4" text-anchor="end" fill="#383838">0</text><text x="360.1" y="240.1" font-size="4" text-anchor="end" fill="#383838">10</text><text x="360.1" y="229.9" font-size="4" text-anchor="end" fill="#383838">20</text><text x="360.1" y="219.8" font-size="4" text-anchor="end" fill="#383838">30</text><text x="360.1" y="209.7" font-size="4" text-anchor="end" fill="#383838">40</text><text x="360.1" y="199.5" font-size="4" text-anchor="end" fill="#383838">50</text><text x="360.1" y="189.4" font-size="4" text-anchor="end" fill="#383838">60</text><text x="360.1" y="179.3" font-size="4" text-anchor="end" fill="#383838">70</text><text x="360.1" y="169.2" font-size="4" text-anchor="end" fill="#383838">80</text><text x="360.1" y="159" font-size="4" text-anchor="end" fill="#383838">90</text><text x="360.1" y="148.9" font-size="4" text-anchor="end" fill="#383838">100</text><text x="426" y="259.8" font-size="4.2" text-anchor="middle" fill="#383838">X</text><text x="349.3" y="199.2" font-size="4.2" text-anchor="middle" fill="#383838" transform="rotate(-90 349.3 197.8)">Y</text><rect x="454.8" y="150.2" width="31.7" height="5.2" fill="#fff" stroke="#9a9a9a" stroke-width="0.4"/><line x1="456.1" y1="152.8" x2="467.3" y2="152.8" stroke="#3838d0" stroke-width="1.1"/><circle cx="461.8" cy="152.8" r="0.8" fill="#20e0f0"/><text x="468.8" y="154" font-size="3.4" fill="#222">IPQRRT*C</text><text x="367.2" y="275.3" font-family="Liberation Serif" font-size="11.6" fill="#000" textLength="110.2" lengthAdjust="spacingAndGlyphs">(<tspan font-weight="bold">e</tspan>) IPQ-RRT* connect</text></g>
</svg></body></html>
